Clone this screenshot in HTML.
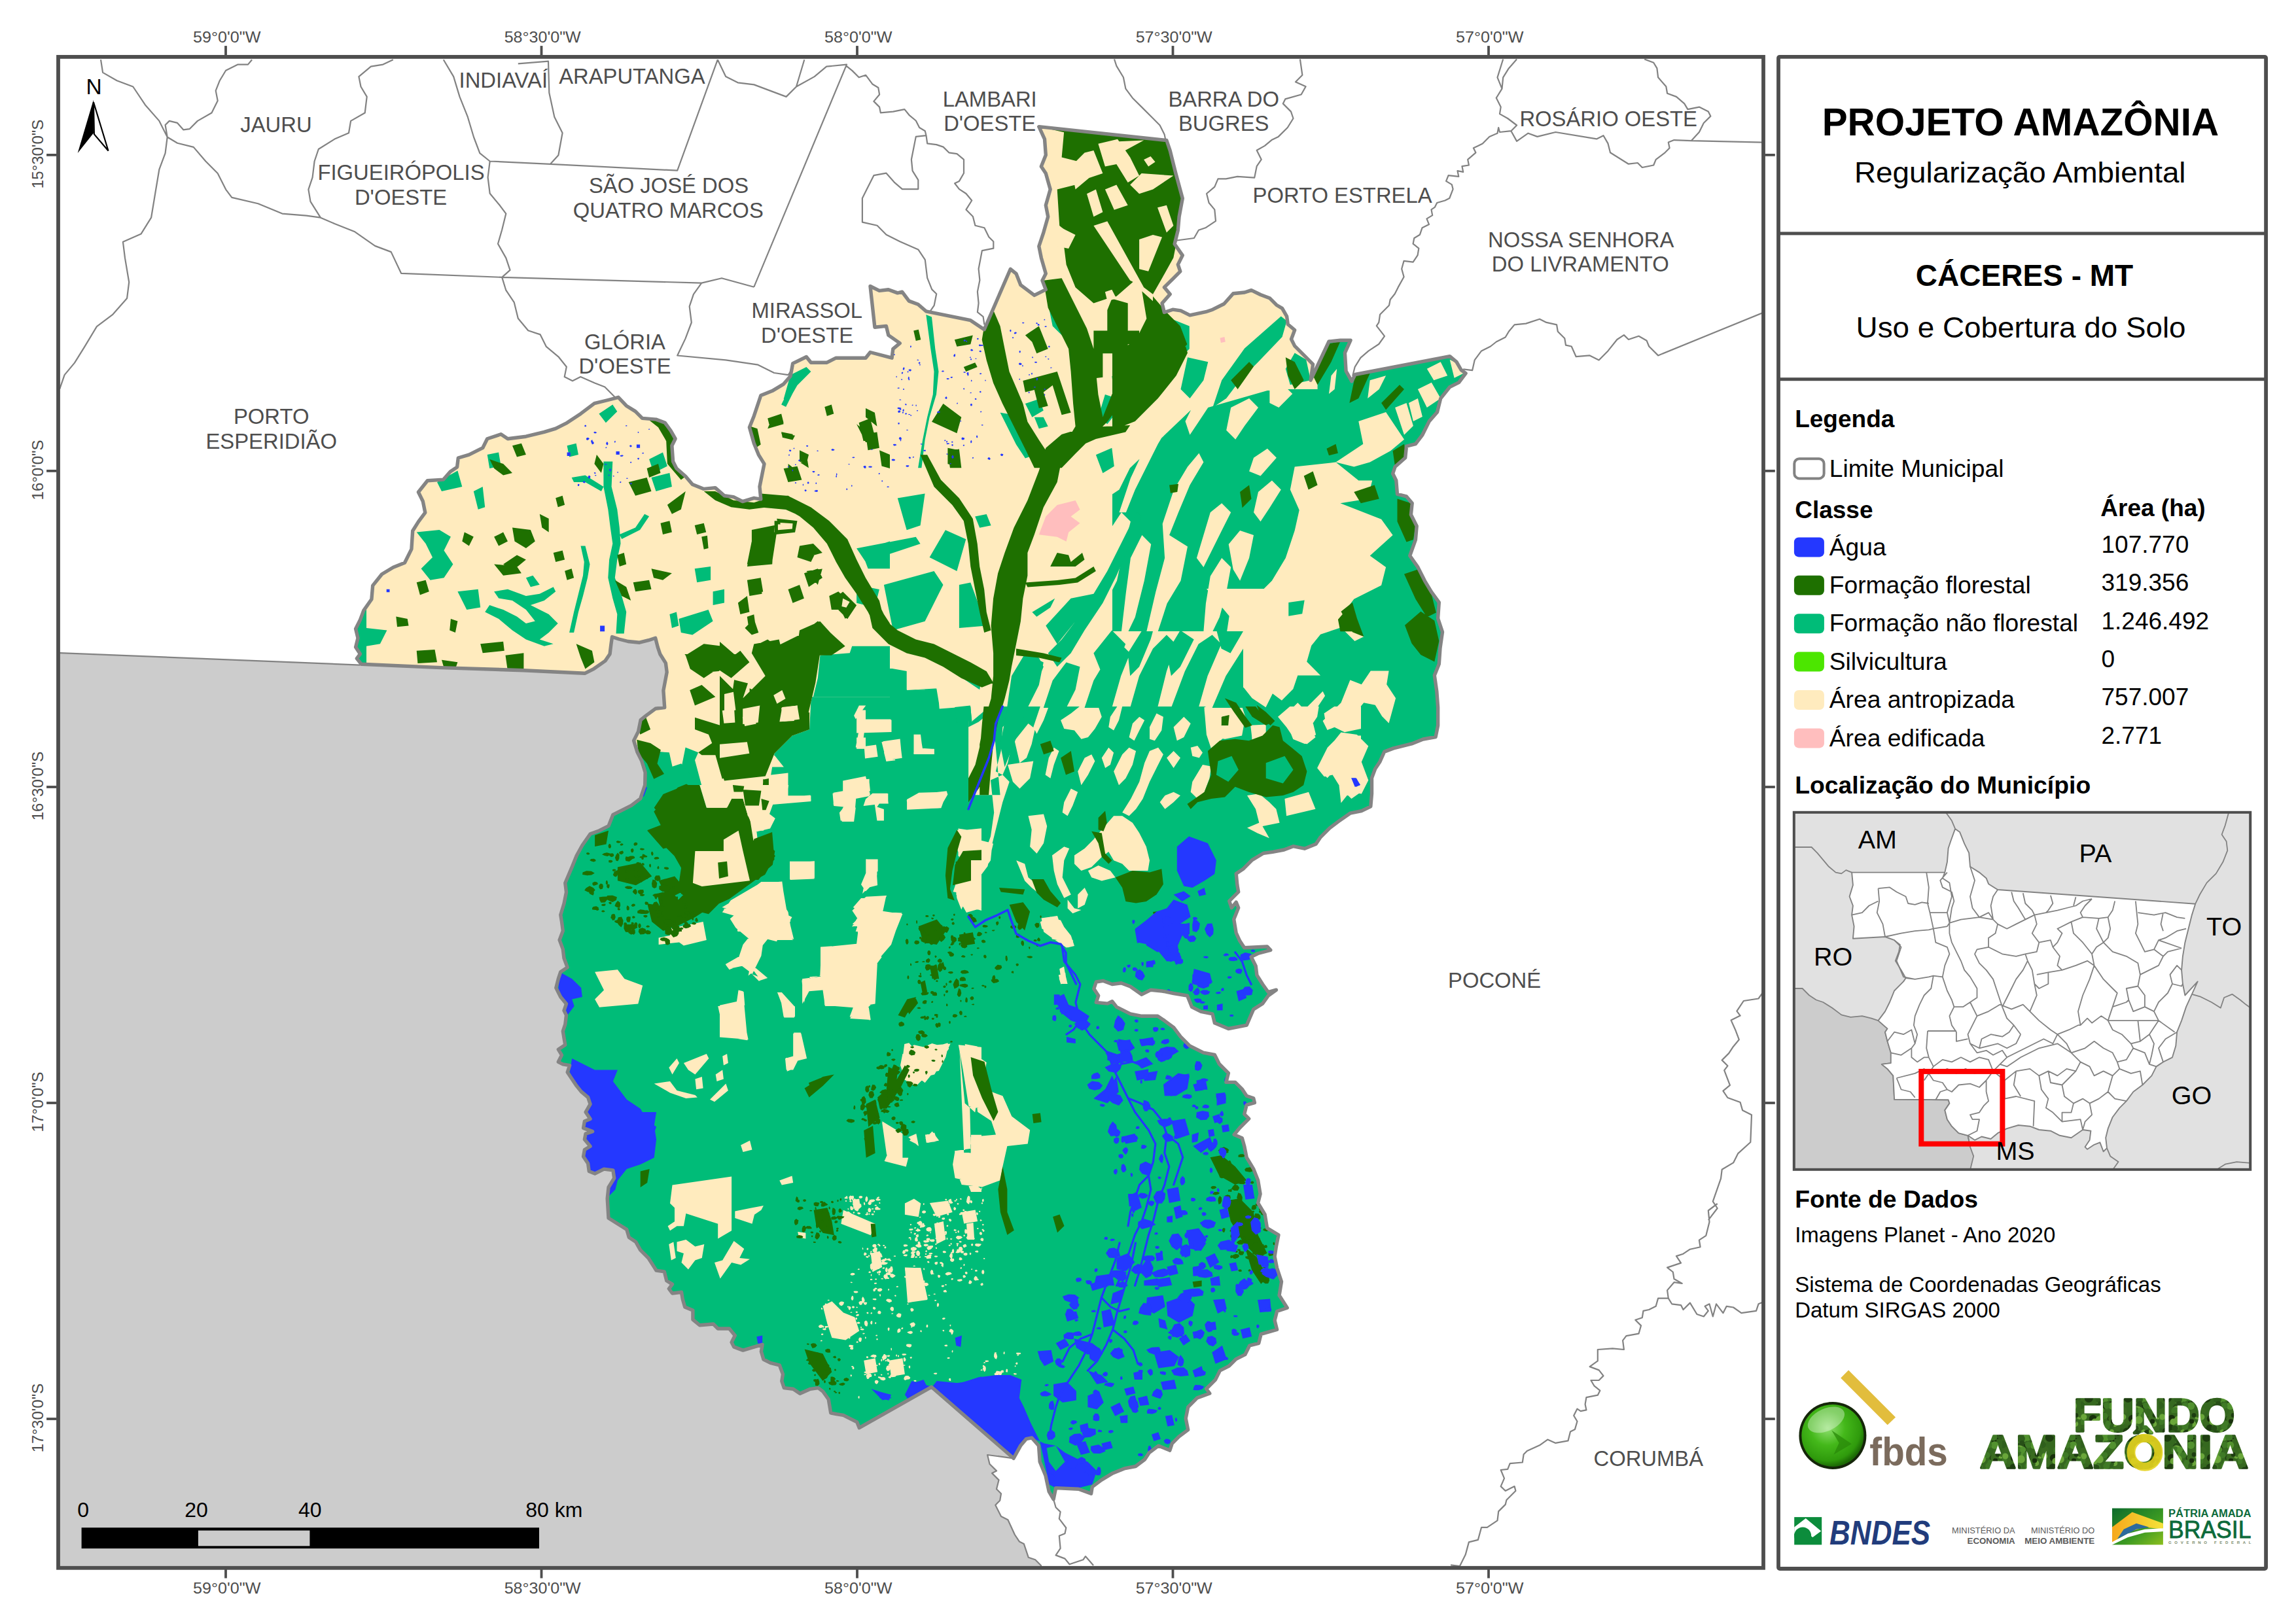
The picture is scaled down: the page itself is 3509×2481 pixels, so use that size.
<!DOCTYPE html>
<html lang="pt-BR"><head><meta charset="utf-8"><title>Projeto Amazônia - Cáceres - MT</title>
<style>html,body{margin:0;padding:0;background:#fff}svg{display:block}text{font-family:"Liberation Sans",Arial,sans-serif}</style></head><body>
<svg width="3509" height="2481" viewBox="0 0 3509 2481">
<rect width="3509" height="2481" fill="#fff"/>
<!-- p10_map -->
<defs><clipPath id="cz"><path d="M893.7 1029.3 L799.7 1024.7 L674.2 1020.6 L552.3 1015.3 L545.3 1006.6 L550.5 999.7 L543.6 989.2 L547 975.3 L543.6 961.3 L550.5 947.4 L555.7 933.4 L567.9 916 L569.7 895.1 L583.6 877.7 L601 867.2 L618.5 860.3 L628.9 839.4 L630.7 811.5 L639.4 797.6 L649.8 783.6 L646.3 766.2 L639.4 752.3 L653.3 734.8 L677.7 733.1 L688.2 720.9 L698.6 713.9 L700.3 700 L716.8 695.1 L737.7 684.7 L744.7 670.7 L765.6 663.8 L776 670.7 L803.9 667.2 L831.8 660.3 L849.2 655.1 L866.6 646.3 L887.5 632.4 L908.4 616.7 L929.3 611.5 L945 607.3 L957.2 620.2 L971.1 628.9 L981.6 639.4 L1002.5 641.1 L1016.4 646.3 L1025.2 658.5 L1032.1 670.7 L1026.9 681.2 L1028.6 705.6 L1033.9 716 L1047.8 728.2 L1058.3 740.4 L1075.7 747.4 L1093.1 745.6 L1107 757.8 L1121 759.6 L1134.9 766.6 L1152.3 761.3 L1162.8 763.1 L1161 743.9 L1168 709.1 L1159.3 695.1 L1152.3 677.7 L1145.4 653.3 L1152.3 635.9 L1162.8 604.5 L1180.2 597.6 L1197.6 587.1 L1208.1 574.9 L1211.6 555.7 L1232.4 545.5 L1239.4 554.2 L1263.8 554.2 L1277.7 547.2 L1323 547.2 L1330 538.5 L1363.1 547.2 L1364.8 533.3 L1375.3 524.6 L1357.8 512.4 L1354.4 498.4 L1336.9 500.2 L1330 437.5 L1343.9 444.4 L1357.8 442.7 L1371.8 447.9 L1378.7 446.2 L1389.2 460.1 L1403.1 465.3 L1415.3 475.8 L1483.3 489.7 L1504.2 503.7 L1544.3 411.3 L1553 418.3 L1559.9 435.7 L1580.8 451.4 L1598.3 442.7 L1593 428.7 L1598.3 418.3 L1591.3 393.9 L1587.8 376.5 L1594.8 355.6 L1601.7 331.2 L1598.3 313.8 L1605.2 289.4 L1598.3 265 L1591.3 254.5 L1598.3 237.1 L1596.5 212.7 L1587.8 193.6 L1782.9 214.5 L1788.2 230.1 L1796.9 265 L1807.3 303.3 L1802.1 331.2 L1800.3 352.1 L1795.1 373 L1807.3 390.4 L1800.3 404.4 L1803.8 414.8 L1793.4 425.3 L1779.4 439.2 L1788.2 449.7 L1776 463.6 L1779.4 477.5 L1792.3 473.2 L1804.5 474.9 L1818.5 481.9 L1842.9 476.7 L1853.3 473.2 L1870.7 464.5 L1884.7 448.8 L1902.1 447 L1912.5 443.6 L1926.5 450.5 L1940.4 455.7 L1950.9 466.2 L1959.6 471.4 L1966.6 483.6 L1968.3 495.8 L1978.7 504.5 L1973.5 518.5 L1978.7 528.9 L1996.2 546.3 L2006.6 556.8 L2003.1 581.2 L2031 522 L2048.4 520.2 L2064.1 520.2 L2055.4 539.4 L2057.1 567.2 L2065.9 582.9 L2071.1 572.5 L2215.7 544.6 L2226.1 553.3 L2233.1 565.5 L2240.1 570.7 L2229.6 584.7 L2215.7 591.6 L2201.7 609.1 L2196.5 630 L2184.3 643.9 L2173.9 664.8 L2163.4 678.7 L2149.5 682.2 L2147.7 699.7 L2132.1 713.6 L2128.6 724 L2133.8 734.5 L2135.5 755.4 L2149.5 758.9 L2158.2 769.3 L2156.4 786.8 L2165.2 804.2 L2163.4 825.1 L2154.7 849.5 L2166.9 866.9 L2177.4 887.8 L2187.8 905.2 L2199.3 920.9 L2197.6 945.3 L2204.5 966.2 L2201 990.6 L2199.3 1015 L2192.3 1032.4 L2195.8 1056.8 L2197.6 1081.2 L2197.6 1109.1 L2194.1 1126.5 L2174.9 1130 L2157.5 1136.9 L2129.6 1143.9 L2115.7 1149.1 L2108.7 1164.8 L2101.7 1175.3 L2096.5 1189.2 L2096.5 1213.6 L2094.8 1232.8 L2080.8 1239.7 L2063.4 1243.2 L2046 1255.4 L2032.1 1265.9 L2018.1 1279.8 L2011.1 1290.2 L1993.7 1297.2 L1976.3 1293.7 L1962.4 1299 L1944.9 1302.4 L1931 1304.2 L1913.6 1314.6 L1899.7 1328.6 L1889.2 1335.5 L1890.9 1353 L1892.7 1363.4 L1878.7 1377.4 L1882.2 1387.8 L1889.2 1379.1 L1892.7 1387.8 L1885.7 1405.2 L1889.2 1426.1 L1894.8 1438.3 L1901.7 1448.8 L1936.6 1447 L1941.8 1452.3 L1922.6 1457.5 L1912.2 1462.7 L1919.2 1476.7 L1920.9 1490.6 L1929.6 1504.5 L1938.3 1516.7 L1950.5 1513.2 L1938.3 1522 L1929.6 1534.1 L1915.7 1542.9 L1905.2 1567.2 L1877.4 1572.5 L1856.4 1563.8 L1853 1549.8 L1835.5 1546.3 L1821.6 1539.4 L1814.6 1522 L1793.7 1518.5 L1776.3 1515 L1758.9 1513.2 L1744.9 1520.2 L1727.5 1508 L1713.6 1502.8 L1699.7 1504.5 L1685.7 1499.3 L1675.3 1501 L1671.8 1511.5 L1678.7 1522 L1675.3 1532.4 L1692.7 1534.1 L1699.7 1530.7 L1706.6 1539.4 L1727.5 1549.8 L1744.9 1553.3 L1769.3 1553.3 L1779.8 1560.3 L1793.7 1570.7 L1804.2 1584.7 L1818.1 1598.6 L1839 1609.1 L1856.4 1612.5 L1863.4 1626.5 L1877.4 1640.4 L1873.9 1654.4 L1887.8 1654.4 L1898.3 1664.8 L1905.2 1675.3 L1915.7 1678.7 L1917.4 1685.7 L1905.2 1689.2 L1901.7 1703.1 L1908.7 1710.1 L1894.8 1724 L1886.1 1734.5 L1898.3 1739.7 L1901.7 1751.9 L1905.2 1769.3 L1915.7 1786.8 L1922.6 1804.2 L1926.1 1825.1 L1922.6 1839 L1933.1 1856.4 L1936.6 1877.4 L1954 1887.8 L1950.5 1905.2 L1948.1 1920.9 L1951.6 1938.3 L1958.5 1959.2 L1955.1 1980.1 L1967.2 1999.3 L1951.6 2004.5 L1948.1 2018.5 L1951.6 2032.4 L1927.2 2039.4 L1923.7 2053.3 L1909.8 2056.8 L1902.8 2070.7 L1888.9 2077.7 L1878.4 2088.2 L1864.5 2095.1 L1857.5 2109.1 L1843.6 2123 L1848.8 2130 L1829.6 2136.9 L1815.7 2150.9 L1812.2 2168.3 L1815.7 2185.7 L1801.7 2196.2 L1791.3 2206.6 L1787.8 2217.1 L1770.4 2210.1 L1756.4 2220.6 L1749.5 2231 L1735.5 2241.5 L1718.1 2244.9 L1700.7 2251.9 L1683.3 2262.4 L1669.3 2272.8 L1667.6 2283.3 L1648.4 2276.3 L1613.6 2274.6 L1610.1 2292 L1603.1 2279.8 L1597.9 2255.4 L1589.2 2234.5 L1587.5 2210.1 L1577 2197.9 L1568.3 2199.7 L1559.6 2210.1 L1549.1 2229.3 L1423.7 2120.2 L1313.2 2182.6 L1309.8 2173.9 L1299.3 2168.6 L1288.9 2163.4 L1278.4 2161.7 L1269.7 2159.9 L1266.2 2139 L1257.5 2126.8 L1250.5 2121.6 L1238.3 2123.3 L1222.6 2130.3 L1212.2 2123.3 L1198.3 2121.6 L1194.8 2111.1 L1196.5 2100.7 L1191.3 2086.8 L1177.4 2083.3 L1166.9 2078 L1163.4 2065.9 L1165.2 2055.4 L1153 2058.9 L1135.5 2064.1 L1121.6 2058.9 L1118.1 2051.9 L1123.3 2041.5 L1114.6 2031 L1097.2 2031 L1090.2 2024 L1069.3 2025.8 L1058.9 2017.1 L1058.9 2003.1 L1046.7 1997.9 L1043.2 1985.7 L1041.5 1975.3 L1027.5 1977 L1022.3 1970 L1027.5 1963.1 L1018.8 1957.8 L1015.3 1943.9 L1003.1 1942.2 L999.7 1936.9 L990.9 1923 L978.7 1910.8 L971.8 1898.6 L961.3 1891.6 L957.8 1879.4 L943.9 1870.7 L930 1862 L928.2 1832.4 L930 1815 L938.7 1801 L936.9 1788.9 L923 1787.1 L909.1 1794.1 L900.3 1790.6 L898.6 1778.4 L891.6 1767.9 L893.4 1757.5 L902.1 1752.3 L893.4 1741.8 L895.1 1733.1 L905.6 1729.6 L891.6 1724.4 L893.4 1713.9 L902.1 1710.5 L895.1 1700 L902.1 1687.8 L898.6 1677.4 L888.2 1668.6 L881.2 1659.9 L874.2 1649.5 L867.2 1639 L870.7 1628.6 L860.3 1626.8 L853.3 1623.3 L858.5 1612.9 L853.3 1604.2 L863.8 1597.2 L862 1586.8 L860.3 1576.3 L863.8 1565.9 L865.5 1551.9 L862 1544.9 L865.5 1534.5 L856.8 1524 L849.8 1510.1 L853.3 1496.2 L856.8 1485.7 L867.2 1478.7 L862 1464.8 L860.3 1450.9 L855.1 1436.9 L860.3 1423 L858.5 1409.1 L856.8 1398.6 L862 1381.2 L865.5 1363.8 L863.8 1349.8 L874.2 1325.4 L881.2 1308 L889.9 1292.3 L902.1 1274.9 L916 1269.7 L930 1262.7 L936.9 1245.3 L950.9 1238.3 L964.8 1231.4 L978.7 1220.9 L985.7 1200 L986.1 1180.8 L980.8 1163.4 L973.9 1149.5 L968.6 1132.1 L975.6 1118.1 L979.1 1100.7 L987.8 1093.7 L1001.7 1083.3 L1015.7 1081.5 L1013.9 1055.4 L1019.2 1027.5 L1017.4 1013.6 L1008.7 999.7 L1005.2 989.2 L1001.7 975.3 L991.3 978.7 L977.4 982.2 L959.9 980.5 L946 977 L935.5 973.5 L933.8 985.7 L932.1 999.7 L925.1 1010.1 L907.7 1022.3Z"/></clipPath><clipPath id="cm"><rect x="89" y="87" width="2606" height="2309"/></clipPath></defs>
<g clip-path="url(#cm)">
<path d="M80 997.5 L92.2 998.1 L550.4 1016.6 L893.7 1029.3 L918.1 943.9 L1022.6 943.9 L1057.5 1048.4 L1057.5 1222.6 L1013.6 1339.4 L1013.6 1653 L1048.4 1804.5 L1292.3 2083.3 L1424.7 2100.7 L1474.2 2143.9 L1549.1 2229.3 L1509.1 2224 L1512.5 2238 L1523 2248.4 L1516 2251.9 L1526.5 2262.4 L1523 2276.3 L1530 2283.3 L1528.2 2293.7 L1521.3 2300.7 L1530 2318.1 L1540.4 2323.3 L1550.9 2346 L1557.8 2356.4 L1564.8 2359.9 L1571.8 2380.8 L1582.2 2384.3 L1590.9 2393 L1592.7 2401.7 L80 2420Z" fill="#cccccc"/>
<path d="M1549.1 2229.3 L1509.1 2224 L1512.5 2238 L1523 2248.4 L1516 2251.9 L1526.5 2262.4 L1523 2276.3 L1530 2283.3 L1528.2 2293.7 L1521.3 2300.7 L1530 2318.1 L1540.4 2323.3 L1550.9 2346 L1557.8 2356.4 L1564.8 2359.9 L1571.8 2380.8 L1582.2 2384.3 L1590.9 2393 L1592.7 2401.7" fill="none" stroke="#828282" stroke-width="2.2" stroke-linejoin="round"/>
<path d="M80 997.5 L92.2 998.1 L550.4 1016.6" fill="none" stroke="#828282" stroke-width="2.2" stroke-linejoin="round"/>
<path d="M154 91.2 L157.1 110.9 L178.7 123.2 L203.3 132.5 L221.8 160.2 L243.4 184.9 L255.7 209.5 L252.6 234.2 L243.4 258.8 L237.2 295.8 L231.1 332.7 L215.7 357.4 L187.9 369.7 L191 394.4 L197.2 431.3 L194.1 456 L172.5 480.6 L147.9 499.1 L129.4 529.9 L114 554.6 L98.6 573.1 L91.2 594.6 M385.1 91.2 L379 98.6 L363.6 98.6 L345.1 107.8 L335.8 123.2 L329.7 138.6 L332.7 154 L323.5 172.5 L301.9 184.9 L289.6 197.2 L280.4 198.4 L271.1 187.9 L258.8 184.9 L252.6 191 L255.7 209.5 M255.7 209.5 L271.1 218.8 L295.8 224.9 L314.3 246.5 L332.7 265 L345.1 289.6 L354.3 301.9 L394.4 311.2 L431.3 326.6 L468.3 329.7 L489.9 332.7 M489.9 332.7 L474.5 308.1 L471.4 289.6 L477.6 271.1 L480.6 246.5 L486.8 228 L511.4 212.6 L533 203.3 L536.1 184.9 L557.7 172.5 L560.7 147.9 L551.5 132.5 L548.4 117.1 L566.9 101.7 L585.4 98.6 L600.8 91.2 M489.9 332.7 L511.4 342 L542.3 354.3 L573.1 375.9 L597.7 385.1 L613.1 417.8 L767.2 423.9 L1072.2 432.6 M677.8 91.2 L693.2 117.1 L702.5 147.9 L714.8 178.7 L724 209.5 L733.3 234.2 L748.7 246.5 L745.6 271.1 L748.7 295.8 L764.1 314.3 L773.3 326.6 L767.2 351.2 L761 372.8 L773.3 394.4 L779.5 412.9 L767.2 423.9 M748.7 246.5 L841.1 250.8 L1035.2 260.7 L1096.8 91.2 M791.8 97.4 L838 93.7 L839.3 141.7 L847.3 178.7 L859.6 203.3 L853.4 237.2 L841.1 250.8 M1096.8 91.2 L1109.2 117.1 L1127.6 126.3 L1152.3 129.4 L1176.9 138.6 L1201.6 147.9 L1217 132.5 L1229.3 91.2 M1217 132.5 L1244.7 117.1 L1263.2 101.7 L1294 98.6 L1152.3 438.7 M767.2 423.9 L773.3 443.7 L785.7 462.1 L791.8 486.8 L807.2 505.3 L825.7 511.4 L834.9 529.9 L853.4 545.3 L865.8 560.7 L862.7 576.1 L875 582.3 L887.3 576.1 L908.9 585.4 L924.3 591.5 L939.7 607 M1072.2 432.6 L1059.9 449.8 L1053.7 468.3 L1056.8 493 L1047.5 517.6 L1035.2 543.5 L1109.2 550.3 L1158.5 557.7 L1183.1 570 L1204.7 573.1 L1217 554.6 M1072.2 432.6 L1103 425.2 L1152.3 438.7 M1293.6 100.9 L1302.3 107.9 L1312.7 118.3 L1323.2 114.8 L1333.6 128.8 L1342.3 134 L1344.1 144.5 L1335.4 154.9 L1344.1 163.6 L1345.8 172.3 L1365 170.6 L1382.4 167.1 L1389.4 175.8 L1399.8 184.5 L1405.1 195 L1413.8 200.2 L1415.5 207.2 M1415.5 207.2 L1399.8 208.9 L1392.9 243.8 L1394.6 261.2 L1403.3 275.1 L1403.3 289.1 L1378.9 289.1 L1366.7 278.6 L1354.5 264.7 L1335.4 268.2 L1324.9 289.1 L1317.9 303 L1317.9 339.6 L1340.6 344.8 L1354.5 358.7 L1375.4 369.2 L1403.3 381.4 L1413.8 397.1 L1417.2 424.9 L1424.2 442.4 L1431.2 449.3 L1427.7 466.8 L1420.7 477.2 M1415.5 207.2 L1417.2 219.4 L1431.2 221.1 L1441.6 224.6 L1450.3 233.3 L1462.5 235.1 L1473 243.8 L1473 264.7 L1466 276.9 L1459.1 280.3 L1466 289.1 L1476.5 296 L1485.2 306.5 L1476.5 320.4 L1486.9 330.9 L1490.4 344.8 L1504.4 348.3 L1511.3 362.2 L1518.3 369.2 L1518.3 379.7 L1500.9 383.1 L1495.6 411 L1497.4 428.4 L1493.9 445.9 L1495.6 463.3 L1493.9 477.2 L1502.6 484.2 L1504.4 496.4 M1703 90.5 L1706.4 100.9 L1716.9 118.3 L1720.4 135.7 L1730.8 149.7 L1744.8 163.6 L1762.2 181 L1772.6 191.5 L1779.6 205.4 L1781.4 214.1 M1986.9 90.5 L1990.4 114.8 L1980 125.3 L1995.6 132.3 L1988.7 144.5 L1964.3 151.4 L1960.8 158.4 L1973 170.6 L1976.5 181 L1967.8 195 L1953.8 208.9 L1943.4 214.1 L1932.9 222.9 L1920.7 229.8 L1927.7 243.8 L1920.7 254.2 L1917.2 271.6 L1891.1 269.9 L1873.7 273.4 L1861.5 273.4 L1856.3 285.6 L1844.1 296 L1847.6 310 L1856.3 320.4 L1858 337.8 L1842.3 348.3 L1831.9 351.8 L1824.9 364 L1798.8 367.5 M2318.1 90.5 L2305.9 104.4 L2297.2 118.3 L2295.5 135.7 L2286.8 149.7 L2293.7 163.6 L2292 174.1 L2304.2 181 L2318.1 191.5 L2309.4 200.2 L2292 202 L2290.2 195 L2288.5 203.7 L2276.3 208.9 L2265.9 219.4 L2258.9 222.9 L2251.9 226.3 L2255.4 233.3 L2243.2 243.8 L2244.9 252.5 L2234.5 254.2 L2236.2 262.9 L2227.5 261.2 L2229.3 269.9 L2213.6 268.2 L2210.1 276.9 L2218.8 282.1 L2220.6 289.1 L2215.3 303 L2208.4 306.5 L2196.2 310 L2192.7 316.9 L2187.5 320.4 L2189.2 329.1 L2180.5 334.4 L2184 343.1 L2173.5 348.3 L2170 358.7 L2161.3 364 L2159.6 372.7 L2168.3 379.7 L2166.6 390.1 L2159.6 400.6 L2145.6 398.8 L2142.2 411 L2145.6 423.2 L2136.9 438.9 L2131.7 449.3 L2124.7 458 L2123 466.8 L2109.1 480.7 L2107.3 492.9 L2103.8 498.1 L2116 513.8 L2107.3 526 L2091.6 536.4 L2079.4 546.9 L2070.7 560.8 L2067.2 574.8 M2297.2 90.5 L2288.5 118.3 L2295.5 135.7 M2309.4 200.2 L2318.1 215.9 L2335.5 203.7 L2349.5 208.9 L2377.4 202 L2440.1 212.4 L2450.5 207.2 L2457.5 219.4 L2461 233.3 L2488.9 250.7 L2502.8 249 L2509.8 256 L2527.2 252.5 L2530.7 243.8 L2544.6 233.3 L2551.6 226.3 L2549.8 217.6 L2558.5 214.1 L2584.7 215.2 L2694.4 217.6 M2513.2 90.5 L2527.2 95.7 L2532.4 104.4 L2534.1 118.3 L2546.3 132.3 L2548.1 142.7 L2562 147.9 L2574.2 158.4 L2579.4 167.1 L2596.9 163.6 L2610.8 170.6 L2614.3 177.6 L2603.8 188 L2596.9 202 L2584.7 215.2 M2236.2 564.3 L2250.2 566.1 L2253.7 550.4 L2264.1 536.4 L2278 529.5 L2286.8 522.5 L2300.7 515.5 L2305.9 506.8 L2314.6 496.4 L2332.1 494.6 L2353 487.7 L2363.4 492.9 L2379.1 496.4 L2380.8 506.8 L2391.3 517.3 L2393 527.7 L2401.7 529.5 L2408.7 545.2 L2429.6 543.4 L2443.6 550.4 L2457.5 536.4 L2471.4 519 L2481.9 512.1 L2488.9 519 L2504.5 513.8 L2516.7 520.8 L2520.2 529.5 L2534.1 543.4 L2696.2 477.2 M2696.2 1514.3 L2687.5 1526.5 L2664.8 1530 L2654.4 1545.6 L2659.6 1552.6 L2645.6 1559.6 L2652.6 1575.3 L2657.8 1589.2 L2649.1 1599.7 L2642.2 1610.1 L2631.7 1620.6 L2640.4 1629.3 L2635.2 1636.2 L2643.9 1658.9 L2633.4 1667.6 L2640.4 1678 L2659.6 1685 L2663.1 1697.2 L2677 1704.2 L2675.3 1746 L2656.1 1763.4 L2649.1 1777.4 L2631.7 1787.8 L2630 1801.7 L2617.8 1836.6 L2624.7 1847 L2610.8 1865.2 M2624.7 1840 L2610.8 1850.5 L2612.5 1867.9 L2607.3 1888.8 L2596.9 1895.7 L2598.6 1906.2 L2582.9 1909.7 L2572.5 1916.7 L2562 1920.1 L2569 1930.6 L2548.1 1937.6 L2556.8 1944.5 L2558.5 1955 L2570.7 1962 L2558.5 1960.2 L2548.1 1972.4 L2549.8 1984.6 L2534.1 1984.6 L2530.7 1996.8 L2520.2 2002 L2511.5 2003.8 L2509.8 2014.2 L2499.3 2017.7 L2508 2026.4 L2504.5 2038.6 L2485.4 2042.1 L2480.1 2049.1 L2481.9 2063 L2464.5 2061.3 L2441.8 2063 L2441.8 2080.4 L2429.6 2089.1 L2443.6 2094.4 L2450.5 2103.1 L2443.6 2110 L2431.4 2110 L2436.6 2118.7 L2445.3 2125.7 L2441.8 2132.7 L2424.4 2136.2 L2422.6 2146.6 L2424.4 2155.3 L2415.7 2157.1 L2410.5 2153.6 L2405.2 2164 L2410.5 2172.8 L2407 2184.9 L2400 2188.4 L2396.5 2202.4 L2377.4 2205.9 L2365.2 2200.6 L2353 2209.3 L2333.8 2218 L2328.6 2223.3 L2326.8 2235.5 L2307.7 2237.2 L2304.2 2245.9 L2293.7 2247 L2299 2259.9 L2293.7 2272.1 L2300.7 2279 L2314.6 2272.1 L2316.4 2279 L2302.4 2293 L2300.7 2299.9 L2290.2 2310.4 L2288.5 2324.3 L2272.8 2334.8 L2264.1 2334.8 L2258.9 2353.9 L2244.9 2357.4 L2239.7 2376.6 L2231 2394 L2217.1 2392.3 M2549.8 1984.6 L2555.1 1993.3 L2569 1995.1 L2572.5 2002 L2582.9 1991.6 L2593.4 2009 L2603.8 2012.5 L2610.8 2003.8 L2605.6 1996.8 L2612.5 1993.3 L2617.8 2012.5 L2623 1993.3 L2633.4 2007.2 L2638.7 1996.8 L2649.1 1998.5 L2661.3 2007.2 L2684 2003.8 L2687.5 1993.3 L2696.2 1989.8 M1610.1 2292 L1613.6 2304.2 L1620.6 2311.1 L1618.8 2321.6 L1629.3 2335.5 L1627.5 2344.3 L1618.8 2347.7 L1620.6 2366.9 L1613.6 2377.4 L1627.5 2382.6 L1634.5 2391.3 L1655.4 2384.3 L1658.9 2379.1 L1671.1 2393" fill="none" stroke="#828282" stroke-width="2.2" stroke-linejoin="round"/>
<path d="M893.7 1029.3 L799.7 1024.7 L674.2 1020.6 L552.3 1015.3 L545.3 1006.6 L550.5 999.7 L543.6 989.2 L547 975.3 L543.6 961.3 L550.5 947.4 L555.7 933.4 L567.9 916 L569.7 895.1 L583.6 877.7 L601 867.2 L618.5 860.3 L628.9 839.4 L630.7 811.5 L639.4 797.6 L649.8 783.6 L646.3 766.2 L639.4 752.3 L653.3 734.8 L677.7 733.1 L688.2 720.9 L698.6 713.9 L700.3 700 L716.8 695.1 L737.7 684.7 L744.7 670.7 L765.6 663.8 L776 670.7 L803.9 667.2 L831.8 660.3 L849.2 655.1 L866.6 646.3 L887.5 632.4 L908.4 616.7 L929.3 611.5 L945 607.3 L957.2 620.2 L971.1 628.9 L981.6 639.4 L1002.5 641.1 L1016.4 646.3 L1025.2 658.5 L1032.1 670.7 L1026.9 681.2 L1028.6 705.6 L1033.9 716 L1047.8 728.2 L1058.3 740.4 L1075.7 747.4 L1093.1 745.6 L1107 757.8 L1121 759.6 L1134.9 766.6 L1152.3 761.3 L1162.8 763.1 L1161 743.9 L1168 709.1 L1159.3 695.1 L1152.3 677.7 L1145.4 653.3 L1152.3 635.9 L1162.8 604.5 L1180.2 597.6 L1197.6 587.1 L1208.1 574.9 L1211.6 555.7 L1232.4 545.5 L1239.4 554.2 L1263.8 554.2 L1277.7 547.2 L1323 547.2 L1330 538.5 L1363.1 547.2 L1364.8 533.3 L1375.3 524.6 L1357.8 512.4 L1354.4 498.4 L1336.9 500.2 L1330 437.5 L1343.9 444.4 L1357.8 442.7 L1371.8 447.9 L1378.7 446.2 L1389.2 460.1 L1403.1 465.3 L1415.3 475.8 L1483.3 489.7 L1504.2 503.7 L1544.3 411.3 L1553 418.3 L1559.9 435.7 L1580.8 451.4 L1598.3 442.7 L1593 428.7 L1598.3 418.3 L1591.3 393.9 L1587.8 376.5 L1594.8 355.6 L1601.7 331.2 L1598.3 313.8 L1605.2 289.4 L1598.3 265 L1591.3 254.5 L1598.3 237.1 L1596.5 212.7 L1587.8 193.6 L1782.9 214.5 L1788.2 230.1 L1796.9 265 L1807.3 303.3 L1802.1 331.2 L1800.3 352.1 L1795.1 373 L1807.3 390.4 L1800.3 404.4 L1803.8 414.8 L1793.4 425.3 L1779.4 439.2 L1788.2 449.7 L1776 463.6 L1779.4 477.5 L1792.3 473.2 L1804.5 474.9 L1818.5 481.9 L1842.9 476.7 L1853.3 473.2 L1870.7 464.5 L1884.7 448.8 L1902.1 447 L1912.5 443.6 L1926.5 450.5 L1940.4 455.7 L1950.9 466.2 L1959.6 471.4 L1966.6 483.6 L1968.3 495.8 L1978.7 504.5 L1973.5 518.5 L1978.7 528.9 L1996.2 546.3 L2006.6 556.8 L2003.1 581.2 L2031 522 L2048.4 520.2 L2064.1 520.2 L2055.4 539.4 L2057.1 567.2 L2065.9 582.9 L2071.1 572.5 L2215.7 544.6 L2226.1 553.3 L2233.1 565.5 L2240.1 570.7 L2229.6 584.7 L2215.7 591.6 L2201.7 609.1 L2196.5 630 L2184.3 643.9 L2173.9 664.8 L2163.4 678.7 L2149.5 682.2 L2147.7 699.7 L2132.1 713.6 L2128.6 724 L2133.8 734.5 L2135.5 755.4 L2149.5 758.9 L2158.2 769.3 L2156.4 786.8 L2165.2 804.2 L2163.4 825.1 L2154.7 849.5 L2166.9 866.9 L2177.4 887.8 L2187.8 905.2 L2199.3 920.9 L2197.6 945.3 L2204.5 966.2 L2201 990.6 L2199.3 1015 L2192.3 1032.4 L2195.8 1056.8 L2197.6 1081.2 L2197.6 1109.1 L2194.1 1126.5 L2174.9 1130 L2157.5 1136.9 L2129.6 1143.9 L2115.7 1149.1 L2108.7 1164.8 L2101.7 1175.3 L2096.5 1189.2 L2096.5 1213.6 L2094.8 1232.8 L2080.8 1239.7 L2063.4 1243.2 L2046 1255.4 L2032.1 1265.9 L2018.1 1279.8 L2011.1 1290.2 L1993.7 1297.2 L1976.3 1293.7 L1962.4 1299 L1944.9 1302.4 L1931 1304.2 L1913.6 1314.6 L1899.7 1328.6 L1889.2 1335.5 L1890.9 1353 L1892.7 1363.4 L1878.7 1377.4 L1882.2 1387.8 L1889.2 1379.1 L1892.7 1387.8 L1885.7 1405.2 L1889.2 1426.1 L1894.8 1438.3 L1901.7 1448.8 L1936.6 1447 L1941.8 1452.3 L1922.6 1457.5 L1912.2 1462.7 L1919.2 1476.7 L1920.9 1490.6 L1929.6 1504.5 L1938.3 1516.7 L1950.5 1513.2 L1938.3 1522 L1929.6 1534.1 L1915.7 1542.9 L1905.2 1567.2 L1877.4 1572.5 L1856.4 1563.8 L1853 1549.8 L1835.5 1546.3 L1821.6 1539.4 L1814.6 1522 L1793.7 1518.5 L1776.3 1515 L1758.9 1513.2 L1744.9 1520.2 L1727.5 1508 L1713.6 1502.8 L1699.7 1504.5 L1685.7 1499.3 L1675.3 1501 L1671.8 1511.5 L1678.7 1522 L1675.3 1532.4 L1692.7 1534.1 L1699.7 1530.7 L1706.6 1539.4 L1727.5 1549.8 L1744.9 1553.3 L1769.3 1553.3 L1779.8 1560.3 L1793.7 1570.7 L1804.2 1584.7 L1818.1 1598.6 L1839 1609.1 L1856.4 1612.5 L1863.4 1626.5 L1877.4 1640.4 L1873.9 1654.4 L1887.8 1654.4 L1898.3 1664.8 L1905.2 1675.3 L1915.7 1678.7 L1917.4 1685.7 L1905.2 1689.2 L1901.7 1703.1 L1908.7 1710.1 L1894.8 1724 L1886.1 1734.5 L1898.3 1739.7 L1901.7 1751.9 L1905.2 1769.3 L1915.7 1786.8 L1922.6 1804.2 L1926.1 1825.1 L1922.6 1839 L1933.1 1856.4 L1936.6 1877.4 L1954 1887.8 L1950.5 1905.2 L1948.1 1920.9 L1951.6 1938.3 L1958.5 1959.2 L1955.1 1980.1 L1967.2 1999.3 L1951.6 2004.5 L1948.1 2018.5 L1951.6 2032.4 L1927.2 2039.4 L1923.7 2053.3 L1909.8 2056.8 L1902.8 2070.7 L1888.9 2077.7 L1878.4 2088.2 L1864.5 2095.1 L1857.5 2109.1 L1843.6 2123 L1848.8 2130 L1829.6 2136.9 L1815.7 2150.9 L1812.2 2168.3 L1815.7 2185.7 L1801.7 2196.2 L1791.3 2206.6 L1787.8 2217.1 L1770.4 2210.1 L1756.4 2220.6 L1749.5 2231 L1735.5 2241.5 L1718.1 2244.9 L1700.7 2251.9 L1683.3 2262.4 L1669.3 2272.8 L1667.6 2283.3 L1648.4 2276.3 L1613.6 2274.6 L1610.1 2292 L1603.1 2279.8 L1597.9 2255.4 L1589.2 2234.5 L1587.5 2210.1 L1577 2197.9 L1568.3 2199.7 L1559.6 2210.1 L1549.1 2229.3 L1423.7 2120.2 L1313.2 2182.6 L1309.8 2173.9 L1299.3 2168.6 L1288.9 2163.4 L1278.4 2161.7 L1269.7 2159.9 L1266.2 2139 L1257.5 2126.8 L1250.5 2121.6 L1238.3 2123.3 L1222.6 2130.3 L1212.2 2123.3 L1198.3 2121.6 L1194.8 2111.1 L1196.5 2100.7 L1191.3 2086.8 L1177.4 2083.3 L1166.9 2078 L1163.4 2065.9 L1165.2 2055.4 L1153 2058.9 L1135.5 2064.1 L1121.6 2058.9 L1118.1 2051.9 L1123.3 2041.5 L1114.6 2031 L1097.2 2031 L1090.2 2024 L1069.3 2025.8 L1058.9 2017.1 L1058.9 2003.1 L1046.7 1997.9 L1043.2 1985.7 L1041.5 1975.3 L1027.5 1977 L1022.3 1970 L1027.5 1963.1 L1018.8 1957.8 L1015.3 1943.9 L1003.1 1942.2 L999.7 1936.9 L990.9 1923 L978.7 1910.8 L971.8 1898.6 L961.3 1891.6 L957.8 1879.4 L943.9 1870.7 L930 1862 L928.2 1832.4 L930 1815 L938.7 1801 L936.9 1788.9 L923 1787.1 L909.1 1794.1 L900.3 1790.6 L898.6 1778.4 L891.6 1767.9 L893.4 1757.5 L902.1 1752.3 L893.4 1741.8 L895.1 1733.1 L905.6 1729.6 L891.6 1724.4 L893.4 1713.9 L902.1 1710.5 L895.1 1700 L902.1 1687.8 L898.6 1677.4 L888.2 1668.6 L881.2 1659.9 L874.2 1649.5 L867.2 1639 L870.7 1628.6 L860.3 1626.8 L853.3 1623.3 L858.5 1612.9 L853.3 1604.2 L863.8 1597.2 L862 1586.8 L860.3 1576.3 L863.8 1565.9 L865.5 1551.9 L862 1544.9 L865.5 1534.5 L856.8 1524 L849.8 1510.1 L853.3 1496.2 L856.8 1485.7 L867.2 1478.7 L862 1464.8 L860.3 1450.9 L855.1 1436.9 L860.3 1423 L858.5 1409.1 L856.8 1398.6 L862 1381.2 L865.5 1363.8 L863.8 1349.8 L874.2 1325.4 L881.2 1308 L889.9 1292.3 L902.1 1274.9 L916 1269.7 L930 1262.7 L936.9 1245.3 L950.9 1238.3 L964.8 1231.4 L978.7 1220.9 L985.7 1200 L986.1 1180.8 L980.8 1163.4 L973.9 1149.5 L968.6 1132.1 L975.6 1118.1 L979.1 1100.7 L987.8 1093.7 L1001.7 1083.3 L1015.7 1081.5 L1013.9 1055.4 L1019.2 1027.5 L1017.4 1013.6 L1008.7 999.7 L1005.2 989.2 L1001.7 975.3 L991.3 978.7 L977.4 982.2 L959.9 980.5 L946 977 L935.5 973.5 L933.8 985.7 L932.1 999.7 L925.1 1010.1 L907.7 1022.3Z" fill="#00bc78"/>
<g clip-path="url(#cz)">
<path d="M1100 150 L1900 150 L1900 550.7 L1727.2 715.2 L1100 715.2Z M1738.3 434.8 L2013.6 434.8 L2013.6 595.1 L1943.9 595.1 L1895.1 609.1 L1846.3 623 L1815 623 L1700 657.8 L1700 539.4Z M2076.3 643.9 L2118.1 630 L2146 671.8 L2125.1 689.2 L2093.7 706.6 L2069.3 713.6 L2041.5 706.6 L2083.3 678.7Z M1978.7 713.6 L2041.5 706.6 L2076.3 734.5 L2097.2 734.5 L2090.2 762.4 L2048.4 769.3 L1985.7 779.8 L1971.8 748.4Z M1985.7 779.8 L2048.4 769.3 L2111.1 793.7 L2128.6 818.1 L2093.7 849.5 L2118.1 866.9 L2111.1 894.8 L2069.3 915.7 L2048.4 943.6 L2013.6 965.2 L1895.1 965.2 L1909.1 922.6 L1943.9 887.8 L1964.8 853 L1978.7 811.1Z M2166.9 595.1 L2187.8 584.7 L2201.7 609.1 L2180.8 623Z M2180.8 563.8 L2201.7 553.3 L2212.2 574.2 L2191.3 581.2Z M2215.7 549.8 L2229.6 556.8 L2236.6 570.7 L2222.6 577.7Z M2153 616 L2166.9 609.1 L2173.9 636.9 L2159.9 643.9Z M2132.1 623 L2149.5 616 L2159.9 650.9 L2146 664.8Z M2093.7 581.2 L2118.1 574.2 L2107.7 595.1 L2090.2 609.1Z M1700 678.7 L1720.9 664.8 L1745.3 678.7 L1727.9 713.6 L1710.5 748.4 L1700 755.4Z M1780.1 616 L1804.5 595.1 L1815 609.1 L1790.6 643.9 L1769.7 678.7 L1752.3 713.6 L1734.8 748.4 L1720.9 783.3 L1710.5 783.3 L1727.9 731 L1752.3 678.7Z M1794.1 748.4 L1815 713.6 L1832.4 692.7 L1839.4 706.6 L1818.5 741.5 L1801 783.3 L1787.1 818.1 L1815 835.5 L1804.5 887.8 L1783.6 922.6 L1769.7 965.2 L1752.3 965.2 L1766.2 905.2 L1780.1 853 L1776.7 800.7Z M1839.4 553.3 L1863.8 546.3 L1881.2 567.2 L1863.8 595.1 L1846.3 623 L1832.4 643.9 L1818.5 664.8 L1811.5 643.9 L1828.9 609.1 L1835.9 581.2Z M1881.2 623 L1909.1 609.1 L1923 623 L1902.1 650.9 L1888.2 671.8 L1874.2 657.8Z M1849.8 783.3 L1867.2 769.3 L1881.2 783.3 L1867.2 811.1 L1853.3 839 L1839.4 866.9 L1828.9 853 L1839.4 818.1Z M1849.8 880.8 L1867.2 853 L1881.2 866.9 L1874.2 905.2 L1863.8 943.6 L1853.3 965.2 L1839.4 965.2 L1842.9 922.6Z M1877.7 832.1 L1895.1 811.1 L1916 818.1 L1909.1 853 L1895.1 887.8 L1884.7 870.4Z M1923 751.9 L1943.9 734.5 L1957.8 748.4 L1940.4 776.3 L1926.5 797.2 L1916 783.3Z M1940.4 595.1 L1961.3 588.2 L1975.3 602.1 L1954.4 623 L1940.4 616Z M1916 699.7 L1936.9 685.7 L1950.9 699.7 L1926.5 727.5 L1909.1 720.6Z M1700 804.2 L1713.9 783.3 L1727.9 797.2 L1717.4 839 L1707 887.8 L1700 901.7Z M1727.9 853 L1745.3 818.1 L1759.2 832.1 L1748.8 887.8 L1734.8 943.6 L1724.4 965.2 L1713.9 965.2 L1720.9 905.2Z M2034.5 574.2 L2043.2 563.8 L2039.7 595.1 L2031 602.1Z M1843.9 900 L2094.8 900 L2066.9 913.9 L2049.5 934.8 L2073.9 962.7 L2084.3 973.2 L2070.4 980.1 L2049.5 959.2 L2018.1 969.7 L2004.2 987.1 L1997.2 1011.5 L2018.1 1032.4 L1983.3 1032.4 L1976.3 1053.3 L1958.9 1070.7 L1944.9 1060.3 L1934.5 1081.2 L1913.6 1067.2 L1899.7 1049.8 L1878.7 1032.4 L1864.8 1053.3 L1850.9 1039.4 L1857.8 1004.5 L1871.8 987.1 L1878.7 941.8Z M1840.4 1081.2 L1871.8 1067.2 L1899.7 1084.7 L1899.7 1116 L1871.8 1126.5 L1850.9 1143.9 L1843.9 1123Z M1911.8 1109.1 L1934.5 1109.1 L1932.8 1130 L1913.6 1131.7Z M1962.4 1095.1 L1983.3 1074.2 L1993.7 1084.7 L2021.6 1056.8 L2025.1 1063.8 L2004.2 1095.1 L2011.1 1123 L1993.7 1136.9 L1976.3 1130Z M2021.6 1102.1 L2049.5 1074.2 L2063.4 1039.4 L2080.8 1046.3 L2094.8 1025.4 L2122.6 1025.4 L2119.2 1046.3 L2133.1 1067.2 L2122.6 1105.6 L2112.2 1095.1 L2101.7 1077.7 L2084.3 1074.2 L2066.9 1095.1 L2046 1109.1 L2028.6 1116Z M2014.6 1175.3 L2035.5 1136.9 L2049.5 1119.5 L2073.9 1123 L2091.3 1140.4 L2080.8 1164.8 L2091.3 1192.7 L2080.8 1213.6 L2063.4 1210.1 L2049.5 1227.5 L2046 1196.2 L2059.9 1178.7 L2042.5 1175.3 L2028.6 1189.2Z M1400 1605.6 L1424.4 1595.1 L1448.8 1602.1 L1445.3 1616 L1434.8 1636.9 L1400 1643.9Z M1466.2 1598.6 L1474.9 1800.7 L1501 1818.1 L1483.6 1748.4 L1481.9 1678.7Z M1490.6 1671.8 L1504.5 1664.8 L1532.4 1675.3 L1546.3 1706.6 L1574.2 1727.5 L1570.7 1748.4 L1539.4 1751.9 L1532.4 1783.3 L1528.9 1804.2 L1501 1814.6 L1469.7 1811.1 L1459.2 1783.3 L1459.2 1758.9 L1483.6 1762.4 L1483.6 1738 L1522 1734.5 L1515 1713.6 L1494.1 1699.7Z M1413.9 1734.5 L1427.9 1732.8 L1431.4 1744.9 L1415.7 1746.7Z M1591.6 1403.5 L1616 1400 L1623 1420.9 L1640.4 1438.3 L1630 1448.8 L1609.1 1434.8 L1595.1 1424.4Z M1617.8 1490.6 L1628.2 1487.1 L1630 1501 L1621.3 1504.5Z M1420.9 1839 L1448.8 1835.5 L1455.7 1853 L1431.4 1859.9Z M1427.9 1870.4 L1441.8 1866.9 L1445.3 1894.8 L1431.4 1901.7Z M1469.7 1853 L1490.6 1849.5 L1494.1 1866.9 L1473.2 1870.4Z M1382.9 1937.6 L1406.3 1938.3 L1417.4 1987.1 L1387.1 1991.3Z M1027.5 1811.5 L1118.1 1798.6 L1118.1 1881.2 L1097.2 1893.4 L1097.2 1870.7 L1048.4 1855.1 L1044.9 1874.2 L1034.5 1874.2 L1024 1881.2 L1020.6 1874.2 L1031 1867.2 L1031 1846.3 L1024 1839.4Z M1123.3 1851.6 L1149.5 1846.3 L1166.9 1842.9 L1163.4 1849.8 L1153 1856.8 L1149.5 1870.7 L1123.3 1862Z M1092 1930 L1104.2 1926.5 L1121.6 1896.9 L1137.3 1909.1 L1130.3 1923 L1146 1924.7 L1132.1 1933.4 L1118.1 1930 L1100.7 1954.4Z M1022.3 1902.1 L1029.3 1898.6 L1032.8 1923 L1025.8 1926.5Z M1034.5 1898.6 L1048.4 1895.1 L1062.4 1905.6 L1076.3 1902.1 L1072.8 1923 L1062.4 1926.5 L1051.9 1940.4 L1041.5 1930 L1044.9 1916 L1034.5 1912.5Z M1191.3 1804.5 L1210.5 1797.6 L1212.2 1808 L1194.8 1811.5Z M1348.1 1713.9 L1379.4 1733.1 L1379.4 1769.7 L1388.2 1769.7 L1384.7 1783.6 L1351.6 1774.9 L1358.5 1759.2 L1355.1 1734.8Z M1388.2 1738.3 L1400.3 1733.1 L1403.8 1752.3Z M1414.3 1734.8 L1428.2 1731.4 L1431.7 1741.8 L1417.8 1745.3Z M1459.6 1759.2 L1484 1755.7 L1484 1734.8 L1500 1734.8 L1500 1822 L1484 1822 L1477 1804.5 L1459.6 1801 L1456.1 1780.1Z M1288.9 1849.8 L1337.6 1870.7 L1330.7 1888.2 L1285.4 1870.7Z M1382.9 1839.4 L1396.9 1832.4 L1407.3 1839.4 L1403.8 1860.3 L1382.9 1856.8Z M1382.9 1938.7 L1407.3 1938 L1417.8 1985.7 L1388.2 1991.6Z M1219.2 1882.9 L1231.4 1884.7 L1231.4 1893.4 L1220.9 1891.6Z M1257.5 1996.2 L1271.4 1989.2 L1288.9 2006.6 L1306.3 2013.6 L1313.2 2034.5 L1292.3 2048.4 L1271.4 2044.9 L1264.5 2024Z M1330.7 1916 L1344.6 1912.5 L1348.1 1936.9 L1334.1 1943.9Z M1428.2 1874.2 L1438.7 1870.7 L1442.2 1895.1 L1431.7 1898.6Z M1302.8 1834.1 L1313.2 1832.4 L1315 1846.3 L1304.5 1848.1Z M1320.2 2079.8 L1337.6 2076.3 L1341.1 2097.2 L1323.7 2100.7Z M1358.5 2079.8 L1379.4 2076.3 L1382.9 2100.7 L1362 2104.2Z M1477 1870.7 L1487.5 1869 L1489.2 1895.1 L1478.7 1895.1Z M909.1 1485.7 L943.9 1482.2 L954.4 1496.2 L982.2 1506.6 L975.3 1534.5 L916 1539.7 L909.1 1527.5 L923 1513.6Z M1097.2 1538 L1125.1 1536.2 L1128.6 1513.6 L1135.5 1515.3 L1142.5 1590.2 L1107.7 1585Z M1187.8 1517.1 L1194.8 1517.1 L1213.9 1538 L1213.9 1555.4 L1198.3 1555.4 L1194.8 1531Z M1254 1447.4 L1313.2 1443.9 L1309.8 1416 L1302.8 1412.5 L1320.2 1395.1 L1306.3 1384.7 L1323.7 1370.7 L1355.1 1369 L1344.6 1395.1 L1379.4 1396.9 L1369 1423 L1362 1443.9 L1341.1 1468.3 L1337.6 1534.5 L1327.2 1536.2 L1330.7 1558.9 L1299.3 1557.1 L1306.3 1538 L1261 1538 L1257.5 1513.6 L1236.6 1515.3 L1226.1 1534.5 L1226.1 1496.2 L1254 1492.7Z M1323.7 1313.2 L1341.1 1315 L1339.4 1325.4 L1341.1 1353.3 L1327.2 1356.8 L1320.2 1349.8 L1327.2 1328.9Z M1207 1316.7 L1243.6 1316.7 L1243.6 1341.1 L1207 1344.6Z M1112.9 1381.2 L1128.6 1374.2 L1163.4 1348.1 L1194.8 1348.1 L1203.5 1398.6 L1210.5 1402.1 L1198.3 1423 L1212.2 1436.9 L1187.8 1436.9 L1184.3 1426.5 L1166.9 1436.9 L1163.4 1461.3 L1149.5 1489.2 L1166.9 1496.2 L1159.9 1499.7 L1146 1485.7 L1132.1 1475.3 L1114.6 1482.2 L1109.4 1475.3 L1128.6 1464.8 L1135.5 1443.9 L1149.5 1426.5 L1128.6 1412.5 L1123.3 1395.1 L1105.9 1389.9Z M1006.6 1433.4 L1024 1430 L1024 1419.5 L1074.6 1409.1 L1079.8 1436.9 L1044.9 1445.6 L1038 1440.4 L1006.6 1443.9Z M1212.2 1579.8 L1224.4 1579.8 L1233.1 1618.1 L1219.2 1621.6 L1212.2 1635.5 L1201.7 1635.5 L1200 1618.1 L1212.2 1614.6Z M1379.4 1611.1 L1396.9 1597.2 L1428.2 1604.2 L1431.7 1597.2 L1452.6 1595.5 L1442.2 1618.1 L1428.2 1642.5 L1414.3 1646 L1400.3 1659.9 L1382.9 1649.5 L1376 1628.6Z M1464.8 1597.2 L1500 1600.7 L1500 1694.8 L1480.5 1691.3 L1471.8 1635.5Z M1044.9 1625.1 L1079.8 1611.1 L1083.3 1618.1 L1062.4 1642.5 L1051.9 1635.5Z M999.7 1656.4 L1024 1653 L1034.5 1666.9 L1062.4 1673.9 L1065.9 1677.4 L1048.4 1679.1 L1024 1670.4Z M1085 1680.8 L1109.4 1656.4 L1112.9 1666.9 L1092 1684.3Z M1022.3 1632.1 L1034.5 1618.1 L1038 1625.1 L1027.5 1642.5Z M1062.4 1649.5 L1072.8 1646 L1074.6 1663.4 L1064.1 1665.2Z M1093.7 1642.5 L1104.2 1635.5 L1105.9 1649.5 L1095.5 1653Z M1104.2 1614.6 L1111.1 1611.1 L1112.9 1625.1 L1105.9 1628.6Z M1348.1 1715.7 L1379.4 1733.1 L1379.4 1765.2 L1355.1 1765.2Z M1389.9 1743.6 L1400.3 1733.1 L1403.8 1750.5Z M1414.3 1740.1 L1424.7 1729.6 L1435.2 1743.6 L1417.8 1747Z M1132.1 1750.5 L1146 1743.6 L1149.5 1757.5 L1135.5 1761Z M1484 1743.6 L1500 1736.6 L1500 1765.2 L1487.5 1765.2Z M1464.8 1269.7 L1500 1266.2 L1500 1388.2 L1477 1395.1 L1461.3 1367.2 L1466.6 1304.5Z M560 500 L1360 500 L1360 1065.2 L560 1065.2Z M1100 712.7 L1700 712.7 L1700 965 L1900 965 L1900 1080 L1480.1 1080 L1480.1 1215.2 L1528.6 1215.2 L1518.1 1103 L1505.9 1085.5 L1485 1103 L1483.3 1078.6 L1436.2 1082.1 L1427.5 1029.8 L1413.6 1029.8 L1413.6 1054.2 L1385.7 1054.2 L1385.7 1019.3 L1350.9 1019.3 L1343.9 989.7 L1309.1 994.9 L1253.3 1008.9 L1246.3 1043.7 L1232.4 1103 L1183.6 1151.7 L1176.7 1193.6 L1100 1200.5Z M1309.1 1085.5 L1323 1085.5 L1323 1099.5 L1361.3 1099.5 L1361.3 1116.9 L1309.1 1120.4Z M1309.1 1127.4 L1323 1127.4 L1323 1144.8 L1309.1 1144.8Z M1347.4 1134.3 L1375.3 1130.8 L1378.7 1158.7 L1354.4 1162.2Z M1399.7 1123.9 L1406.6 1123.9 L1410.1 1144.8 L1427.5 1144.8 L1427.5 1151.7 L1396.2 1151.7Z M1316 1019.3 L1343.9 1019.3 L1343.9 1043.7 L1323 1043.7Z M1288.2 1193.6 L1323 1186.6 L1330 1215.2 L1295.1 1215.2Z M1100 1150 L1134.8 1150 L1134.8 1170.9 L1169.7 1167.4 L1176.7 1184.8 L1204.5 1181.4 L1204.5 1216.2 L1239.4 1216.2 L1239.4 1224.9 L1180.1 1230.1 L1169.7 1254.5 L1155.7 1265 L1159.2 1296.3 L1148.8 1306.8 L1145.3 1345.1 L1100 1352.1Z M1288.2 1193.6 L1328.2 1191.8 L1330 1209.2 L1309.1 1211 L1305.6 1251 L1284.7 1254.5 L1282.9 1242.3 L1289.9 1233.6 L1274.2 1231.9 L1272.5 1212.7 L1288.2 1209.2Z M1333.4 1212.7 L1356.1 1212.7 L1357.8 1228.4 L1343.9 1228.4 L1340.4 1233.6 L1350.9 1237.1 L1350.9 1254.5 L1340.4 1254.5 L1336.9 1230.1 L1319.5 1231.9 L1323 1221.4Z M1350.9 1150 L1364.8 1150 L1368.3 1162.2 L1354.4 1163.9Z M1385.7 1223.2 L1399.7 1214.5 L1446.7 1209.2 L1448.4 1214.5 L1436.2 1235.4 L1387.5 1237.1Z M1208 1317.2 L1244.6 1317.2 L1244.6 1343.4 L1208 1345.1Z M1326.5 1313.8 L1340.4 1315.5 L1340.4 1338.2 L1330 1355.6 L1323 1362.5 L1316 1352.1 L1324.7 1331.2Z M1316 1373 L1354.4 1369.5 L1349.1 1393.9 L1378.7 1395.6 L1361.3 1421.8 L1359.6 1446.2 L1343.9 1453.1 L1347.4 1463.6 L1331.7 1484.5 L1336.9 1529.8 L1326.5 1540.2 L1330 1559.4 L1298.6 1554.2 L1303.8 1540.2 L1260.3 1536.8 L1256.8 1491.5 L1237.6 1493.2 L1228.9 1533.3 L1225.4 1498.4 L1253.3 1491.5 L1255.1 1449.7 L1274.2 1446.2 L1309.1 1442.7 L1312.5 1414.8 L1302.1 1416.6 L1316 1393.9 L1303.8 1386.9Z M1120.9 1376.5 L1194.1 1348.6 L1195.8 1380 L1204.5 1393.9 L1208 1414.8 L1213.2 1435.7 L1190.6 1428.7 L1187.1 1439.2 L1173.2 1435.7 L1159.2 1453.1 L1152.3 1477.5 L1173.2 1494.9 L1162.7 1498.4 L1152.3 1484.5 L1143.6 1491.5 L1147 1474 L1113.9 1481 L1108.7 1474 L1133.1 1460.1 L1145.3 1435.7 L1124.4 1418.3 L1115.7 1404.4 L1127.9 1393.9 L1103.5 1386.9Z M1100 1536.8 L1131.4 1529.8 L1143.6 1589 L1100 1585.5Z M1127.9 1515.9 L1136.6 1515.9 L1138.3 1536.8 L1129.6 1536.8Z M1188.9 1519.3 L1194.1 1517.6 L1201 1533.3 L1215 1538.5 L1215 1554.2 L1197.6 1554.2 L1194.1 1533.3Z M1213.2 1578.6 L1223.7 1578.6 L1232.4 1616.9 L1220.2 1620.4Z M1201 1616.9 L1215 1615.2 L1211.5 1634.3 L1202.8 1637.8Z M1382.2 1596 L1389.2 1594.3 L1403.1 1609.9 L1424 1613.4 L1431 1599.5 L1448.4 1594.3 L1450.2 1603 L1427.5 1637.8 L1413.6 1655.2 L1404.9 1648.3 L1396.2 1658.7 L1378.7 1648.3 L1378.7 1623.9Z M1465.9 1599.5 L1471.1 1599.5 L1478 1637.8 L1500.7 1669.2 L1518.1 1672.6 L1539 1697 L1549.5 1715.2 L1528.6 1715.2 L1518.1 1693.6 L1493.7 1679.6 L1490.2 1700.5 L1474.6 1686.6Z M1474.6 1596 L1493.7 1599.5 L1497.2 1616.9 L1507.7 1623.9 L1504.2 1644.8 L1483.3 1637.8Z M1462.4 1268.5 L1493.7 1278.9 L1497.2 1289.4 L1518.1 1289.4 L1509.4 1324.2 L1493.7 1345.1 L1479.8 1366 L1469.3 1390.4 L1462.4 1373 L1458.9 1345.1 L1469.3 1317.2 L1462.4 1296.3Z M1619.2 1481 L1626.1 1477.5 L1629.6 1498.4 L1622.6 1501.9Z M1480 1080 L1508.7 1080 L1511.4 1090.5 L1495.7 1103.5 L1480 1111.4Z M1532.3 1111.4 L1547.9 1095.7 L1558.4 1100.9 L1547.9 1132.3 L1540.1 1166.2 L1532.3 1184.5 L1521.8 1179.3 L1529.7 1147.9Z M1550.6 1132.3 L1571.5 1106.1 L1581.9 1114 L1576.7 1137.5 L1568.9 1158.4 L1558.4 1166.2Z M1514 1192.4 L1532.3 1184.5 L1542.7 1195 L1532.3 1226.3 L1524.4 1257.7 L1516.6 1289.1 L1480 1367.5 L1480 1341.3 L1500.9 1315.2 L1514 1278.6 L1519.2 1242Z M1540.1 1168.9 L1558.4 1166.2 L1579.3 1163.6 L1574.1 1189.8 L1558.4 1205.4 L1547.9 1195Z M1621.1 1100.9 L1636.8 1090.5 L1649.9 1080 L1678.6 1080 L1683.8 1095.7 L1673.4 1114 L1662.9 1127 L1652.5 1129.7 L1642 1116.6 L1626.3 1114Z M1696.9 1095.7 L1707.4 1080 L1715.2 1080 L1710 1100.9 L1702.1 1116.6 L1694.3 1111.4Z M1730.9 1106.1 L1741.3 1095.7 L1749.2 1100.9 L1741.3 1116.6 L1733.5 1132.3 L1725.6 1127Z M1757 1111.4 L1767.5 1090.5 L1777.9 1095.7 L1775.3 1116.6 L1764.8 1132.3 L1757 1129.7Z M1683.8 1158.4 L1694.3 1142.7 L1702.1 1150.6 L1696.9 1168.9 L1689.1 1174.1Z M1702.1 1179.3 L1715.2 1153.2 L1725.6 1142.7 L1736.1 1147.9 L1730.9 1168.9 L1720.4 1189.8 L1710 1200.2Z M1749.2 1166.2 L1757 1147.9 L1770.1 1142.7 L1777.9 1153.2 L1767.5 1174.1 L1757 1195 L1746.6 1221.1 L1736.1 1236.8 L1725.6 1247.2 L1715.2 1242 L1728.3 1221.1 L1741.3 1195Z M1772.7 1226.3 L1780.5 1215.9 L1793.6 1210.7 L1804 1215.9 L1793.6 1226.3 L1780.5 1236.8Z M1819.7 1142.7 L1830.2 1140.1 L1838 1150.6 L1832.8 1158.4 L1822.3 1155.8Z M1822.3 1195 L1838 1168.9 L1851.1 1171.5 L1848.5 1189.8 L1840.6 1210.7 L1830.2 1221.1 L1819.7 1210.7Z M1571.5 1247.2 L1595 1244.6 L1600.2 1262.9 L1595 1289.1 L1584.5 1304.7 L1574.1 1294.3 L1576.7 1268.2Z M1642 1307.4 L1657.7 1296.9 L1670.8 1283.8 L1683.8 1268.2 L1702.1 1247.2 L1715.2 1247.2 L1730.9 1257.7 L1741.3 1273.4 L1751.8 1294.3 L1757 1315.2 L1754.4 1330.9 L1725.6 1330.9 L1715.2 1320.4 L1702.1 1315.2 L1694.3 1302.1 L1683.8 1310 L1668.2 1325.6 L1652.5 1330.9 L1642 1320.4Z M1608 1307.4 L1626.3 1294.3 L1634.2 1296.9 L1626.3 1315.2 L1623.7 1341.3 L1636.8 1367.5 L1626.3 1372.7 L1615.9 1351.8 L1610.7 1330.9Z M1662.9 1330.9 L1678.6 1323 L1696.9 1330.9 L1704.7 1341.3 L1683.8 1346.6 L1668.2 1341.3Z M1647.2 1367.5 L1657.7 1357 L1662.9 1367.5 L1657.7 1383.1 L1647.2 1388.4Z M1631.6 1375.3 L1642 1388.4 L1652.5 1391 L1639.4 1396.2 L1631.6 1388.4Z M1553.2 1315.2 L1566.2 1320.4 L1571.5 1341.3 L1584.5 1351.8 L1595 1362.2 L1589.8 1367.5 L1576.7 1357 L1566.2 1346.6Z M1589.8 1409.3 L1605.4 1401.4 L1621.1 1406.7 L1626.3 1417.1 L1636.8 1430.2 L1642 1445.9 L1631.6 1448.5 L1621.1 1438 L1608 1435.4 L1602.8 1424.9 L1592.4 1419.7Z M1618.5 1495.5 L1629 1492.9 L1631.6 1504.1 L1621.1 1504.1Z M1840.6 1085.2 L1856.3 1080 L1898.1 1080 L1903.3 1095.7 L1898.1 1124.4 L1872 1129.7 L1856.3 1127 L1843.2 1111.4Z M1911.2 1108.7 L1934.7 1107.4 L1934.7 1129.7 L1913.8 1131Z M1953 1095.7 L1971.3 1080 L2015.7 1080 L2013.1 1095.7 L2002.6 1111.4 L2010.5 1127 L1997.4 1137.5 L1976.5 1127 L1966.1 1111.4Z M2023.6 1090.5 L2039.2 1080 L2080 1080 L2080 1114 L2054.9 1119.2 L2039.2 1111.4 L2026.2 1106.1Z M2013.1 1174.1 L2028.8 1142.7 L2049.7 1121.8 L2080 1124.4 L2080 1210.7 L2065.4 1221.1 L2049.7 1205.4 L2036.6 1184.5 L2023.6 1187.1Z M1906 1215.9 L1924.3 1213.3 L1939.9 1226.3 L1950.4 1236.8 L1955.6 1257.7 L1929.5 1262.9 L1939.9 1281.2 L1921.6 1273.4 L1906 1265.5 L1924.3 1257.7 L1919 1236.8Z M1963.4 1221.1 L2000 1210.7 L2010.5 1236.8 L1966.1 1247.2Z M1480 1278.6 L1495.7 1283.8 L1516.6 1289.1 L1514 1315.2 L1495.7 1341.3 L1480 1357Z M1589.8 1080 L1602.8 1080 L1595 1100.9 L1584.5 1121.8 L1579.3 1111.4Z M1602.8 1158.4 L1610.7 1142.7 L1618.5 1147.9 L1610.7 1168.9 L1605.4 1189.8 L1597.6 1184.5Z M1647.2 1179.3 L1657.7 1158.4 L1668.2 1153.2 L1673.4 1163.6 L1662.9 1184.5 L1652.5 1200.2Z M1626.3 1226.3 L1636.8 1205.4 L1647.2 1210.7 L1639.4 1231.6 L1631.6 1247.2 L1623.7 1242Z M1783.1 1158.4 L1793.6 1147.9 L1804 1158.4 L1793.6 1174.1Z M1793.6 1111.4 L1809.3 1095.7 L1819.7 1106.1 L1809.3 1127 L1798.8 1132.3Z M970.6 1065.1 L1239.7 1065.1 L1237.1 1115 L1208.4 1125.4 L1187.5 1133.3 L1177 1146.3 L1197.9 1172.5 L1174.4 1172.5 L1184.8 1206.4 L1200.5 1206.4 L1203.1 1218.2 L1238.4 1215.6 L1239.7 1223.4 L1180.9 1230 L1174.4 1243 L1184.8 1250.9 L1177 1266.6 L1154.8 1271.8 L1152.2 1318.8 L1141.7 1321.4 L1143 1348.9 L1072.5 1355.4 L1060.7 1324 L1067.2 1304.4 L1109.1 1303.1 L1106.4 1287.5 L1128.7 1286.1 L1127.4 1245.6 L1082.9 1240.4 L1062 1162 L1067.2 1150.3 L1047.6 1142.4 L1042.4 1168.6 L1028 1173.8 L1022.8 1150.3 L975.8 1146.3 L970.6 1130.7Z M1208.4 1318.8 L1244.9 1316.2 L1244.9 1342.3 L1208.4 1344.9Z M1273.7 1211.7 L1289.4 1209.1 L1289.4 1193.4 L1328.6 1190.8 L1328.6 1216.9 L1302.4 1222.1 L1307.7 1235.2 L1305.1 1256.1 L1286.8 1256.1 L1284.1 1243 L1289.4 1232.6 L1273.7 1230Z M1333.8 1213 L1357.3 1213 L1357.3 1227.4 L1341.6 1227.4Z M1386.1 1222.1 L1404.4 1211.7 L1447.5 1210.4 L1438.3 1235.2 L1386.1 1237.8Z M1349.5 1133.3 L1375.6 1129.4 L1378.2 1156.8 L1354.7 1163.3Z M1320.7 1141.1 L1339 1138.5 L1341.6 1156.8 L1322 1159.4Z M1396.5 1122.8 L1407 1122.8 L1409.6 1143.7 L1427.9 1145 L1427.9 1152.9 L1396.5 1152.9Z M1315.5 1101.9 L1362.5 1100.6 L1362.5 1118.9 L1320.7 1120.2 L1318.1 1141.1 L1307.7 1142.4Z M1386.1 1026.1 L1430.5 1028.7 L1433.1 1052.3 L1386.1 1054.9Z M1315.5 1020.9 L1341.6 1020.9 L1328.6 1052.3 L1314.2 1044.4Z M1344.3 1000 L1500 1000 L1500 1078.4 L1435.7 1083.6 L1433.1 1052.3 L1430.5 1028.7 L1386.1 1026.1 L1349.5 1019.6Z M1116.9 1376.3 L1161.3 1350.2 L1195.3 1347.6 L1200.5 1386.8 L1208.4 1407.7 L1197.9 1424.1 L1127.4 1424.1 L1122.1 1399.8 L1103.8 1394.6Z M1302.4 1392 L1323.3 1371.1 L1354.7 1369.8 L1344.3 1392 L1378.2 1397.2 L1370.4 1418.1 L1344.3 1424.1 L1307.7 1424.1 L1312.9 1407.7Z M1323.3 1313.6 L1341.6 1313.6 L1341.6 1331.9 L1328.6 1339.7 L1333.8 1350.2 L1318.1 1365.9 L1323.3 1339.7Z M1464.5 1266.6 L1500 1271.8 L1500 1392 L1482.8 1386.8 L1474.9 1365.9 L1456.6 1363.2 L1464.5 1339.7 L1480.1 1318.8 L1464.5 1308.4Z M1312.9 1078.4 L1323.3 1078.4 L1307.7 1099.3 L1305.1 1094.1Z" fill="#ffebbe"/>
<path d="M1415.3 481 L1424 484.5 L1429.3 533.3 L1434.5 568.1 L1431 603 L1420.6 637.8 L1413.6 672.6 L1408.4 715.2 L1403.1 715.2 L1410.1 672.6 L1417.1 637.8 L1425.8 603 L1427.5 568.1 L1422.3 533.3Z M1699.3 575.1 L1727.2 568.1 L1723.7 599.5 L1702.8 603Z M1566.9 616.9 L1587.8 609.9 L1594.8 627.4 L1577.4 637.8Z M1580.8 637.8 L1594.8 637.8 L1601.7 651.7 L1587.8 655.2Z M1528.6 630.8 L1549.5 634.3 L1570.4 672.6 L1587.8 693.6 L1566.9 700.5 L1553 679.6Z M1208 573.3 L1232.4 561.1 L1239.4 568.1 L1218.5 589 L1204.5 613.4 L1197.6 609.9Z M1782.9 484.5 L1817.8 498.4 L1817.8 533.3 L1789.9 561.1 L1762 575.1 L1737.6 596 L1727.2 568.1 L1762 533.3Z M1601.7 463.6 L1615.7 481 L1629.6 519.3 L1608.7 498.4Z M1688.9 603 L1720.2 613.4 L1692.3 648.3 L1678.4 637.8Z M1902.1 532.4 L1957.8 483.6 L1966.6 490.6 L1959.6 515 L1923 553.3 L1895.1 581.2 L1874.2 609.1 L1853.3 623 L1867.2 581.2Z M1978.7 539.4 L1996.2 549.8 L2003.1 581.2 L1971.8 588.2 L1964.8 563.8Z M1815 546.3 L1846.3 553.3 L1839.4 581.2 L1818.5 609.1 L1804.5 595.1Z M1969.3 920.9 L1993.7 917.4 L1990.2 938.3 L1969.3 941.8Z M922.4 705.6 L936.3 705.6 L934.6 743.9 L943.3 778.7 L946.8 806.6 L948.5 831 L943.3 855.4 L939.8 883.3 L950.2 911.1 L957.2 935.5 L953.7 968.6 L941.5 968.6 L943.3 939 L936.3 914.6 L929.3 883.3 L931.1 855.4 L936.3 831 L932.8 806.6 L929.3 778.7 L922.4 743.9Z M873.6 730 L894.5 726.5 L922.4 743.9 L918.9 750.9 L894.5 736.9 L877.1 736.9Z M971.1 806.6 L985.1 785.7 L992.1 789.2 L978.1 810.1 L950.2 824 L946.8 817.1Z M887.5 834.5 L894.5 834.5 L901.5 862.4 L898 883.3 L891 911.1 L884 935.5 L877.1 966.9 L870.1 966.9 L877.1 935.5 L884 907.7 L891 879.8 L892.8 858.9Z M755.1 904.2 L776 900.7 L803.9 911.1 L824.8 907.7 L845.7 897.2 L849.2 904.2 L831.8 918.1 L810.9 925.1 L838.7 939 L852.7 953 L838.7 966.9 L824.8 977.4 L845.7 984.3 L831.8 987.8 L803.9 977.4 L783 963.4 L762.1 946 L741.2 935.5 L748.2 925.1 L769.1 932.1 L790 942.5 L803.9 953 L817.8 949.5 L803.9 932.1 L783 918.1 L762.1 914.6Z M636.7 813.6 L671.5 810.1 L688.9 820.6 L678.5 841.5 L692.4 862.4 L678.5 883.3 L657.6 886.8 L643.6 869.3 L661 851.9 L650.6 831Z M699.4 904.2 L730.7 900.7 L734.2 928.6 L713.3 932.1Z M723.8 750.9 L737.7 743.9 L741.2 775.3 L730.7 778.7Z M744.7 695.1 L762.1 691.6 L765.6 712.5 L748.2 716Z M668 736.9 L699.4 719.5 L706.3 743.9 L675 750.9Z M866.6 681.2 L880.6 677.7 L884 695.1 L870.1 698.6Z M992.1 702.1 L1013 691.6 L1019.9 712.5 L999 723Z M995.5 730 L1023.4 723 L1026.9 743.9 L1002.5 750.9Z M560 959.9 L591.4 963.4 L580.9 984.3 L560 987.8Z M1037.4 946 L1082.6 932.1 L1089.6 949.5 L1058.3 970.4 L1040.8 966.9Z M1061.7 869.3 L1086.1 865.9 L1086.1 886.8 L1065.2 890.2Z M1089.6 904.2 L1107 900.7 L1107 921.6 L1089.6 925.1Z M1215.1 569.7 L1229 566.2 L1215.1 594.1 L1201.1 622 L1194.1 618.5 L1208.1 590.6Z M1316.1 841.5 L1360 827.5 L1360 869.3 L1326.6 869.3Z M1253.4 1001.7 L1298.7 998.3 L1302.2 987.8 L1360 987.8 L1360 1065.2 L1242.9 1065.2 L1249.9 1036.6Z M915.4 632.4 L936.3 618.5 L943.3 628.9 L925.9 646.3Z M803.9 883.3 L814.4 879.8 L824.8 893.7 L810.9 897.2Z M1023.4 939 L1033.9 935.5 L1037.4 956.4 L1026.9 959.9Z M1371.8 761.5 L1413.6 754.5 L1406.6 803.3 L1385.7 810.3Z M1444.9 810.3 L1476.3 824.2 L1462.4 873 L1420.6 852.1Z M1309.1 838.2 L1399.7 820.7 L1406.6 831.2 L1323 859.1Z M1350.9 893.9 L1427.5 873 L1441.5 893.9 L1413.6 949.7 L1364.8 963.6 L1357.8 928.7Z M1465.9 893.9 L1483.3 890.4 L1507.7 956.6 L1465.9 960.1Z M1309.1 893.9 L1343.9 900.9 L1336.9 928.7 L1309.1 921.8Z M1490.2 789.4 L1507.7 785.9 L1514.6 803.3 L1497.2 806.8Z M1448.4 1019.3 L1500.7 1033.3 L1497.2 1054.2 L1476.3 1040.2Z M1643.6 949.7 L1671.4 907.8 L1692.3 873 L1713.2 831.2 L1727.2 803.3 L1737.6 782.4 L1744.6 789.4 L1727.2 831.2 L1706.3 880 L1685.4 921.8 L1657.5 963.6 L1636.6 998.4 L1615.7 1019.3 L1601.7 998.4 L1622.6 977.5Z M1674.9 695.3 L1699.3 684.8 L1702.8 712.7 L1685.4 723.2Z M1598.3 956.6 L1636.6 914.8 L1671.4 907.8 L1643.6 949.7 L1615.7 984.5Z M1577.4 935.7 L1612.2 914.8 L1605.2 928.7 L1584.3 942.7Z M1553 1033.3 L1580.8 1005.4 L1594.8 1012.4 L1587.8 1047.2 L1566.9 1089 L1549.5 1137.8 L1535.5 1172.6 L1528.6 1137.8 L1539 1085.5Z M1671.4 998.4 L1699.3 963.6 L1720.2 984.5 L1706.3 1019.3 L1685.4 1033.3Z M1782.9 998.4 L1803.8 963.6 L1824.7 977.5 L1803.8 1019.3 L1789.9 1033.3Z M1723.7 998.4 L1744.6 965 L1762 965 L1758.5 977.5 L1741.1 1019.3 L1727.2 1033.3Z M1859.6 965 L1900 965 L1880.5 998.4 L1866.6 991.5Z M1546 1033.3 L1566.9 998.4 L1587.8 1005.4 L1594.8 1019.3 L1580.8 1054.2 L1563.4 1082.1 L1539 1082.1Z M1594.8 1082.1 L1608.7 1040.2 L1629.6 1012.4 L1650.5 1019.3 L1643.6 1054.2 L1629.6 1082.1Z M1657.5 1082.1 L1671.4 1040.2 L1692.3 1005.4 L1713.2 984.5 L1727.2 998.4 L1713.2 1033.3 L1699.3 1082.1Z M1727.2 1082.1 L1741.1 1033.3 L1762 991.5 L1782.9 970.6 L1796.9 984.5 L1782.9 1026.3 L1769 1082.1Z M1789.9 1082.1 L1810.8 1026.3 L1831.7 984.5 L1852.6 970.6 L1866.6 984.5 L1845.6 1033.3 L1831.7 1082.1Z M1852.6 1082.1 L1873.5 1033.3 L1900 991.5 L1900 1082.1Z M994.1 1149 L1022.8 1151.6 L1025.4 1172.5 L1041.1 1167.2 L1067.2 1198.6 L1046.3 1198.6 L1015 1224.7 L999.3 1209.1 L988.9 1182.9Z M1459.2 1081 L1482.8 1078.4 L1485.4 1101.9 L1461.8 1104.5Z" fill="#00bc78"/>
<path d="M1587.8 193.6 L1782.9 214.5 L1807.3 303.3 L1800.3 359.1 L1793.4 393.9 L1776 425.3 L1762 449.7 L1734.1 428.7 L1706.3 453.1 L1692.3 456.6 L1671.4 463.6 L1643.6 439.2 L1629.6 404.4 L1626.1 376.5 L1636.6 359.1 L1619.2 345.1 L1615.7 289.4 L1643.6 282.4 L1650.5 247.6 L1622.6 240.6 L1626.1 202.3Z M1699.3 456.6 L1723.7 463.6 L1723.7 505.4 L1741.1 505.4 L1741.1 526.3 L1723.7 526.3 L1723.7 540.2 L1685.4 540.2 L1685.4 576.8 L1671.4 578.6 L1671.4 505.4 L1692.3 505.4 L1692.3 474Z M1504.2 498.4 L1518.1 474 L1528.6 498.4 L1535.5 533.3 L1542.5 568.1 L1553 592.5 L1563.4 616.9 L1570.4 644.8 L1587.8 672.6 L1601.7 693.6 L1615.7 715.2 L1580.8 715.2 L1566.9 686.6 L1549.5 651.7 L1532.1 616.9 L1518.1 585.5 L1507.7 550.7 L1500.7 519.3Z M1594.8 428.7 L1622.6 425.3 L1633.1 446.2 L1647 474 L1661 501.9 L1671.4 533.3 L1674.9 568.1 L1678.4 603 L1685.4 637.8 L1671.4 665.7 L1643.6 693.6 L1622.6 715.2 L1601.7 715.2 L1622.6 686.6 L1643.6 651.7 L1640.1 616.9 L1636.6 568.1 L1633.1 533.3 L1615.7 498.4 L1601.7 470.6Z M1762 453.1 L1782.9 477.5 L1803.8 498.4 L1814.3 526.3 L1789.9 554.2 L1762 568.1 L1734.1 589 L1713.2 616.9 L1692.3 644.8 L1671.4 665.7 L1685.4 637.8 L1699.3 603 L1720.2 568.1 L1744.6 543.7 L1769 519.3 L1762 484.5Z M1566.9 512.4 L1587.8 498.4 L1594.8 515.9 L1601.7 533.3 L1584.3 540.2 L1577.4 522.8Z M1563.4 582.1 L1615.7 568.1 L1636.6 630.8 L1622.6 634.3 L1608.7 589 L1594.8 599.5 L1601.7 620.4 L1587.8 623.9 L1580.8 596 L1566.9 599.5Z M1458.9 519.3 L1486.8 512.4 L1483.3 526.3 L1462.4 529.8Z M1441.5 616.9 L1469.3 637.8 L1462.4 662.2 L1424 644.8Z M1396.2 505.4 L1403.8 503.7 L1407.3 519.3 L1399.7 521.1Z M1472.8 561.1 L1490.2 554.2 L1493.7 561.1 L1476.3 568.1Z M1180.1 637.8 L1194.1 634.3 L1197.6 648.3 L1173.2 655.2Z M1323 623.9 L1336.9 630.8 L1340.4 651.7 L1323 637.8Z M1309.1 648.3 L1326.5 662.2 L1340.4 672.6 L1323 676.1Z M1147 651.7 L1157.5 655.2 L1162.7 679.6 L1152.3 686.6Z M1448.4 690.1 L1465.9 686.6 L1469.3 715.2 L1451.9 715.2Z M1194.1 662.2 L1215 665.7 L1211.5 672.6 L1197.6 669.2Z M1222 690.1 L1232.4 693.6 L1235.9 715.2 L1223.7 707.5Z M1745.3 445.3 L1780.1 476.7 L1804.5 504.5 L1815 539.4 L1797.6 574.2 L1769.7 609.1 L1734.8 643.9 L1700 657.8 L1700 539.4 L1734.8 522 L1752.3 487.1Z M2135.5 762.4 L2156.4 769.3 L2163.4 804.2 L2159.9 825.1 L2149.5 828.6 L2135.5 797.2Z M2146 877.4 L2166.9 870.4 L2187.8 908.7 L2194.8 936.6 L2180.8 943.6 L2163.4 915.7Z M2044.9 947 L2065.9 922.6 L2078 957.5 L2069.3 965.2 L2048.4 965.2Z M2071.1 574.2 L2093.7 570.7 L2076.3 609.1 L2062.4 616Z M2111.1 616 L2139 588.2 L2146 595.1 L2118.1 626.5Z M2006.6 574.2 L2031 525.4 L2048.4 522 L2034.5 553.3 L2013.6 588.2Z M2128.6 689.2 L2146 678.7 L2149.5 703.1 L2132.1 713.6Z M2069.3 751.9 L2100.7 741.5 L2107.7 762.4 L2079.8 769.3Z M1992.7 727.5 L2006.6 720.6 L2013.6 741.5 L1999.7 748.4Z M2027.5 685.7 L2041.5 678.7 L2044.9 692.7 L2031 696.2Z M1964.8 546.3 L1978.7 553.3 L1992.7 581.2 L1978.7 595.1 L1968.3 574.2Z M1881.2 581.2 L1909.1 553.3 L1916 560.3 L1891.6 595.1Z M1895.1 751.9 L1909.1 741.5 L1912.5 762.4 L1898.6 776.3Z M1787.1 741.5 L1801 739.7 L1799.3 751.9 L1788.9 753.7Z M2049.5 934.8 L2066.9 920.9 L2073.9 945.3 L2084.3 973.2 L2066.9 966.2Z M2147 955.7 L2171.4 934.8 L2192.3 948.8 L2199.3 980.1 L2192.3 1011.5 L2171.4 1001 L2157.5 983.6Z M1868.3 1095.1 L1878.7 1093.4 L1877 1109.1 L1866.6 1109.1Z M1871.8 1067.2 L1889.2 1074.2 L1903.1 1095.1 L1913.6 1109.1 L1903.1 1112.5 L1885.7 1088.2Z M1920.6 1077.7 L1934.5 1088.2 L1948.4 1102.1 L1941.5 1109.1 L1927.5 1095.1Z M1483.6 1616 L1504.5 1623 L1515 1664.8 L1525.4 1699.7 L1518.5 1713.6 L1501 1678.7 L1487.1 1643.9Z M1532.4 1783.3 L1539.4 1818.1 L1539.4 1853 L1549.8 1880.8 L1539.4 1887.8 L1528.9 1853 L1525.4 1818.1Z M1609.1 1859.9 L1619.5 1856.4 L1626.5 1873.9 L1616 1884.3Z M1577.7 1703.1 L1589.9 1701.4 L1591.6 1715.3 L1579.4 1717.1Z M1849.5 1769.3 L1866.9 1765.9 L1887.8 1783.3 L1905.2 1804.2 L1887.8 1811.1 L1863.4 1797.2Z M1873.9 1835.5 L1894.8 1832.1 L1915.7 1853 L1922.6 1887.8 L1936.6 1915.7 L1922.6 1922.6 L1901.7 1901.7 L1880.8 1866.9Z M1902.8 1907 L1920.2 1920.9 L1937.6 1952.3 L1927.2 1962.7 L1913.2 1941.8Z M1822.6 1959.2 L1836.6 1957.5 L1836.6 1966.2 L1824.4 1967.9Z M978.7 1790.6 L992.7 1787.1 L989.2 1808 L978.7 1815Z M1243.6 1849.8 L1264.5 1846.3 L1271.4 1867.2 L1274.9 1888.2 L1257.5 1884.7 L1247 1870.7Z M1320.2 1727.9 L1334.1 1720.9 L1337.6 1762.7 L1323.7 1769.7Z M1330.7 1870.7 L1337.6 1870.7 L1339.4 1889.9 L1332.4 1891.6Z M1229.6 2062.4 L1257.5 2069.3 L1271.4 2097.2 L1257.5 2111.1 L1236.6 2083.3Z M999.7 1234.8 L1013.6 1213.9 L1048.4 1200 L1069.3 1200 L1079.8 1234.8 L1111.1 1234.8 L1118.1 1220.9 L1135.5 1220.9 L1142.5 1245.3 L1149.5 1297.6 L1163.4 1280.1 L1184.3 1301 L1180.8 1322 L1153 1346.3 L1114.6 1374.2 L1083.3 1388.2 L1062.4 1402.1 L1034.5 1416 L1013.6 1395.1 L1031 1381.2 L1048.4 1363.8 L1048.4 1332.4 L1062.4 1304.5 L1069.3 1290.6 L1048.4 1287.1 L1013.6 1297.6 L989.2 1269.7 L1013.6 1273.2 L1013.6 1252.3Z M943.9 1325.4 L978.7 1318.5 L996.2 1339.4 L971.8 1353.3 L943.9 1346.3Z M989.2 1381.2 L1034.5 1388.2 L1048.4 1409.1 L1013.6 1423 L996.2 1409.1Z M1006.6 1346.3 L1031 1339.4 L1048.4 1360.3 L1020.6 1374.2Z M1229.6 1663.4 L1257.5 1646 L1274.9 1642.5 L1257.5 1659.9 L1236.6 1677.4Z M1341.1 1677.4 L1369 1653 L1382.9 1628.6 L1389.9 1635.5 L1376 1663.4 L1355.1 1694.8 L1344.6 1694.8Z M1403.8 1416 L1431.7 1405.6 L1445.6 1423 L1431.7 1443.9 L1410.8 1440.4Z M1386.4 1527.5 L1400.3 1524 L1382.9 1555.4 L1372.5 1551.9Z M1421.3 1478.7 L1431.7 1475.3 L1435.2 1496.2 L1424.7 1496.2Z M1471.8 1301 L1500 1299.3 L1500 1315 L1484 1315 L1484 1346.3 L1456.1 1353.3 L1459.6 1322Z M909.1 1276.7 L930 1269.7 L926.5 1290.6 L909.1 1294.1Z M1323.7 1687.8 L1337.6 1680.8 L1344.6 1708.7 L1327.2 1722.6Z M1075.7 750.9 L1093.1 750.9 L1121 764.8 L1152.3 768.3 L1183.7 757.8 L1204.6 757.8 L1232.5 775.3 L1256.9 789.2 L1277.8 813.6 L1291.7 838 L1302.2 862.4 L1319.6 883.3 L1337 911.1 L1350.9 939 L1360 953 L1360 980.8 L1340.5 963.4 L1326.6 935.5 L1309.1 907.7 L1291.7 883.3 L1277.8 858.9 L1263.8 831 L1242.9 806.6 L1222 789.2 L1197.6 775.3 L1173.2 775.3 L1145.4 778.7 L1117.5 775.3 L1093.1 764.8Z M988.6 639.4 L1016.4 646.3 L1032.1 670.7 L1028.6 705.6 L1047.8 728.2 L1040.8 733.4 L1019.9 709.1 L1018.2 674.2 L1006 653.3Z M605.3 942.5 L622.7 946 L624.5 956.4 L607 958.2Z M636.7 890.2 L650.6 886.8 L655.8 904.2 L641.9 909.4Z M824.8 785.7 L838.7 792.7 L838.7 813.6 L828.3 806.6Z M849.2 761.3 L859.7 757.8 L863.1 771.8 L852.7 775.3Z M783 806.6 L810.9 810.1 L817.8 827.5 L803.9 838 L786.5 827.5Z M845.7 844.9 L859.7 841.5 L863.1 855.4 L849.2 858.9Z M863.1 872.8 L873.6 869.3 L877.1 883.3 L866.6 886.8Z M755.1 862.4 L790 865.9 L796.9 876.3 L769.1 879.8Z M960.7 736.9 L988.6 730 L995.5 750.9 L971.1 757.8Z M988.6 716 L1006 709.1 L1009.5 723 L992.1 730Z M1019.9 771.8 L1047.8 750.9 L1040.8 778.7 L1026.9 785.7Z M1009.5 799.7 L1023.4 796.2 L1026.9 813.6 L1013 817.1Z M943.3 848.4 L953.7 844.9 L957.2 862.4 L946.8 865.9Z M995.5 869.3 L1026.9 876.3 L1013 886.8 L999 883.3Z M1061.7 803.1 L1075.7 799.7 L1079.2 813.6 L1065.2 817.1Z M1072.2 820.6 L1080.9 818.8 L1082.6 838 L1075.7 839.7Z M939.8 886.8 L957.2 897.2 L964.2 918.1 L950.2 911.1Z M967.7 890.2 L992.1 886.8 L995.5 900.7 L971.1 904.2Z M880.6 984.3 L904.9 994.8 L908.4 1012.2 L894.5 1022.6 L887.5 1005.2Z M772.5 1001.7 L800.4 998.3 L800.4 1022.6 L776 1026.1Z M636.7 994.8 L664.5 993 L668 1012.2 L638.4 1013.9Z M734.2 984.3 L769.1 980.8 L770.8 994.8 L737.7 998.3Z M675 1008.7 L699.4 1012.2 L695.9 1022.6 L678.5 1020.9Z M688.9 946 L699.4 949.5 L695.9 966.9 L687.2 963.4Z M1148.9 810.1 L1183.7 803.1 L1180.2 862.4 L1141.9 865.9 L1148.9 834.5Z M1187.2 792.7 L1218.5 796.2 L1215.1 813.6 L1190.7 811.8Z M1141.9 886.8 L1162.8 883.3 L1164.5 907.7 L1145.4 911.1Z M1267.3 911.1 L1281.3 904.2 L1305.6 928.6 L1291.7 946 L1284.7 932.1 L1270.8 932.1Z M1222 834.5 L1242.9 831 L1256.9 844.9 L1232.5 851.9Z M1229 876.3 L1249.9 869.3 L1256.9 883.3 L1236 897.2Z M1127.9 921.6 L1141.9 911.1 L1145.4 935.5 L1131.4 939Z M1047.8 1001.7 L1075.7 984.3 L1103.6 987.8 L1117.5 1005.2 L1131.4 994.8 L1145.4 1012.2 L1117.5 1036.6 L1096.6 1022.6 L1075.7 1036.6 L1054.8 1022.6Z M1152.3 987.8 L1173.2 977.4 L1187.2 987.8 L1222 970.4 L1249.9 949.5 L1291.7 987.8 L1270.8 1001.7 L1249.9 1001.7 L1215.1 1043.6 L1194.1 1022.6 L1173.2 1012.2 L1159.3 1005.2Z M1138.4 959.9 L1152.3 946 L1159.3 966.9 L1148.9 970.4Z M1173.2 639.4 L1194.1 632.4 L1197.6 646.3 L1176.7 653.3Z M1222 688.2 L1236 695.1 L1232.5 709.1 L1222 705.6Z M1204.6 709.1 L1222 723 L1215.1 733.4 L1204.6 726.5Z M1312.6 646.3 L1330 639.4 L1337 667.2 L1319.6 674.2Z M1344 688.2 L1360 695.1 L1360 716 L1347.5 712.5Z M1194.1 660.3 L1211.6 663.8 L1211.6 670.7 L1195.9 669Z M1260.3 622 L1270.8 618.5 L1274.3 632.4 L1263.8 635.9Z M748.2 702.1 L769.1 709.1 L783 723 L769.1 726.5 L755.1 716Z M783 681.2 L796.9 677.7 L803.9 695.1 L790 698.6Z M709.8 813.6 L723.8 820.6 L716.8 834.5 L706.3 827.5Z M755.1 820.6 L769.1 813.6 L776 827.5 L762.1 834.5Z M769.1 862.4 L790 848.4 L803.9 855.4 L783 872.8Z M911.9 695.1 L922.4 709.1 L918.9 723 L908.4 709.1Z M1162.7 754.5 L1204.5 758 L1239.4 775.4 L1267.2 796.3 L1295.1 824.2 L1309.1 855.6 L1323 883.4 L1343.9 918.3 L1350.9 946.2 L1371.8 963.6 L1399.7 977.5 L1427.5 984.5 L1455.4 998.4 L1483.3 1012.4 L1507.7 1026.3 L1518.1 1043.7 L1500.7 1050.7 L1469.3 1036.8 L1441.5 1019.3 L1413.6 1005.4 L1385.7 998.4 L1357.8 984.5 L1333.4 960.1 L1326.5 928.7 L1305.6 893.9 L1291.6 866 L1274.2 834.7 L1253.3 813.8 L1232.4 792.9 L1201 778.9 L1162.7 775.4Z M1598.3 684.8 L1622.6 663.9 L1657.5 653.5 L1727.2 650 L1720.2 660.5 L1674.9 670.9 L1643.6 684.8 L1622.6 702.3 L1615.7 737.1 L1594.8 775.4 L1580.8 817.2 L1570.4 845.1 L1570.4 880 L1563.4 914.8 L1559.9 949.7 L1553 984.5 L1546 1019.3 L1542.5 1040.2 L1535.5 1068.1 L1525.1 1103 L1518.1 1137.8 L1514.6 1172.6 L1511.1 1215.2 L1497.2 1215.2 L1497.2 1172.6 L1497.2 1137.8 L1504.2 1103 L1514.6 1068.1 L1518.1 1033.3 L1518.1 998.4 L1514.6 956.6 L1518.1 914.8 L1525.1 876.5 L1535.5 845.1 L1549.5 806.8 L1570.4 765 L1587.8 719.7Z M1406.6 695.3 L1417.1 695.3 L1438 733.6 L1465.9 761.5 L1486.8 792.9 L1493.7 831.2 L1497.2 866 L1504.2 900.9 L1507.7 935.7 L1514.6 963.6 L1504.2 967.1 L1497.2 935.7 L1490.2 900.9 L1483.3 866 L1479.8 831.2 L1472.8 796.3 L1455.4 772 L1427.5 744.1Z M1152.3 810.3 L1187.1 813.8 L1180.1 859.1 L1141.8 862.5Z M1183.6 796.3 L1218.5 796.3 L1215 813.8 L1183.6 817.2Z M1145.3 886.9 L1162.7 883.4 L1166.2 904.4 L1148.8 907.8Z M1270.7 918.3 L1288.2 904.4 L1309.1 925.3 L1295.1 946.2 L1281.2 932.2 L1295.1 925.3Z M1232.4 873 L1256.8 869.5 L1249.8 893.9Z M1222 834.7 L1246.3 845.1 L1239.4 859.1 L1218.5 852.1Z M1152.3 984.5 L1190.6 977.5 L1194.1 991.5 L1218.5 988 L1222 963.6 L1253.3 949.7 L1288.2 988 L1253.3 998.4 L1246.3 1043.7 L1232.4 1103 L1197.6 1103 L1194.1 1082.1 L1155.7 1103 L1138.3 1099.5 L1134.8 1068.1 L1169.7 1033.3 L1148.8 998.4Z M1100 981 L1124.4 1001.9 L1113.9 1019.3 L1100 1012.4Z M1100 1033.3 L1134.8 1068.1 L1138.3 1099.5 L1155.7 1103 L1194.1 1082.1 L1197.6 1103 L1232.4 1103 L1183.6 1151.7 L1169.7 1186.6 L1107 1193.6 L1100 1172.6Z M1605.2 866 L1615.7 845.1 L1633.1 848.6 L1636.6 859.1 L1654 845.1 L1657.5 855.6 L1643.6 866Z M1566.9 890.4 L1615.7 886.9 L1643.6 883.4 L1671.4 866 L1674.9 873 L1647 890.4 L1619.2 893.9 L1570.4 897.4Z M1197.6 716.2 L1218.5 712.7 L1225.4 733.6 L1204.5 737.1Z M1323 663.9 L1340.4 660.5 L1343.9 684.8 L1326.5 688.3Z M1448.4 684.8 L1465.9 688.3 L1462.4 712.7 L1448.4 709.2Z M1204.5 900.9 L1222 893.9 L1228.9 914.8 L1211.5 921.8Z M1141.8 942.7 L1152.3 939.2 L1155.7 963.6 L1145.3 967.1Z M1553 991.5 L1594.8 998.4 L1622.6 1005.4 L1619.2 1012.4 L1587.8 1005.4 L1553 1001.9Z M1448.4 1296.3 L1462.4 1268.5 L1469.3 1278.9 L1462.4 1303.3 L1455.4 1331.2 L1451.9 1359.1 L1458.9 1376.5 L1448.4 1373 L1444.9 1338.2Z M1152.3 1282.4 L1180.1 1272 L1183.6 1313.8 L1159.2 1345.1 L1145.3 1345.1Z M1406.6 1421.8 L1427.5 1414.8 L1431 1435.7 L1413.6 1442.7Z M1465.9 1428.7 L1486.8 1425.3 L1490.2 1442.7 L1469.3 1446.2Z M1424 1477.5 L1431 1474 L1434.5 1494.9 L1427.5 1498.4Z M1406.6 1501.9 L1413.6 1498.4 L1417.1 1515.9 L1410.1 1519.3Z M1385.7 1533.3 L1399.7 1526.3 L1403.1 1533.3 L1389.2 1550.7Z M1357.8 1630.8 L1371.8 1637.8 L1368.3 1672.6 L1354.4 1669.2Z M1235.9 1655.2 L1253.3 1648.3 L1256.8 1658.7 L1239.4 1665.7Z M1762 1393.9 L1796.9 1390.4 L1800.3 1404.4 L1765.5 1407.8Z M1782.9 1425.3 L1800.3 1428.7 L1796.9 1446.2 L1779.4 1439.2Z M1134.8 1170.9 L1152.3 1170.9 L1154 1188.3 L1136.6 1190.1Z M1138.3 1209.2 L1159.2 1207.5 L1162.7 1230.1 L1141.8 1231.9Z M1166.2 1191.8 L1174.9 1190.1 L1174.9 1207.5 L1166.2 1209.2Z M1127.9 1251 L1143.6 1247.6 L1148.8 1296.3 L1134.8 1299.8Z M1100 1237.1 L1112.2 1235.4 L1113.9 1251 L1100 1254.5Z M1100 1282.4 L1107 1278.9 L1108.7 1299.8 L1100 1303.3Z M1131.4 1299.8 L1147 1298.1 L1148.8 1324.2 L1133.1 1326Z M1119.2 1202.3 L1136.6 1200.5 L1136.6 1207.5 L1120.9 1211Z M1166.2 1223.2 L1174.9 1221.4 L1174.9 1237.1 L1167.9 1238.9Z M1103.5 1181.4 L1112.2 1179.6 L1113.9 1188.3 L1105.2 1189Z M1472.8 1301.6 L1492 1301.6 L1492 1313.8 L1472.8 1313.8Z M1460.6 1317.2 L1478 1313.8 L1478 1331.2 L1462.4 1345.1Z M1503.5 1080 L1532.3 1080 L1521.8 1106.1 L1514 1132.3 L1511.4 1158.4 L1506.1 1184.5 L1495.7 1205.4 L1480 1226.3 L1480 1189.8 L1490.5 1168.9 L1498.3 1137.5 L1500.9 1106.1Z M1845.9 1147.9 L1864.1 1132.3 L1887.7 1129.7 L1908.6 1132.3 L1929.5 1124.4 L1945.2 1108.7 L1955.6 1111.4 L1960.8 1132.3 L1973.9 1142.7 L1989.6 1155.8 L1997.4 1179.3 L1992.2 1200.2 L1976.5 1210.7 L1960.8 1215.9 L1934.7 1218.5 L1908.6 1210.7 L1887.7 1202.8 L1872 1218.5 L1851.1 1221.1 L1830.2 1226.3 L1819.7 1236.8 L1814.5 1229 L1840.6 1210.7 L1851.1 1184.5Z M1704.7 1341.3 L1730.9 1330.9 L1757 1333.5 L1775.3 1328.3 L1777.9 1351.8 L1767.5 1367.5 L1751.8 1377.9 L1736.1 1380.5 L1720.4 1377.9 L1715.2 1357Z M1527 1357 L1566.2 1359.6 L1563.6 1367.5 L1529.7 1363.5Z M1576.7 1343.9 L1595 1343.9 L1605.4 1362.2 L1621.1 1380.5 L1615.9 1387.1 L1595 1375.3 L1584.5 1364.8Z M1542.7 1383.1 L1563.6 1379.2 L1574.1 1393.6 L1566.2 1422.3 L1553.2 1409.3Z M1678.6 1249.9 L1689.1 1239.4 L1691.7 1257.7 L1686.4 1270.8 L1678.6 1268.2Z M1480 1302.1 L1491.8 1300.8 L1491.8 1313.9 L1480 1315.2Z M1866.8 1095.7 L1878.5 1093.1 L1877.2 1108.7 L1866.8 1107.4Z M1668.2 1270.8 L1683.8 1273.4 L1689.1 1304.7 L1699.5 1315.2 L1694.3 1320.4 L1683.8 1310 L1678.6 1289.1Z M1589.8 1137.5 L1605.4 1132.3 L1610.7 1147.9 L1595 1153.2Z M1621.1 1158.4 L1636.8 1147.9 L1642 1179.3 L1629 1184.5Z M1903.3 1080 L1919 1080 L1939.9 1106.1 L1934.7 1108.7 L1913.8 1095.7Z M1062 1096.7 L1103.8 1109.8 L1166.6 1104.5 L1237.1 1088.9 L1237.1 1115 L1208.4 1125.4 L1187.5 1133.3 L1177 1146.3 L1156.1 1141.1 L1116.9 1149 L1116.9 1182.9 L1103.8 1190.8 L1093.4 1154.2 L1072.5 1154.2 L1067.2 1150.3 L1088.2 1135.9 L1082.9 1122.8 L1062 1115Z M1046.3 1000 L1124.7 1000 L1109.1 1015.7 L1098.6 1026.1 L1067.2 1028.7Z M1161.3 1000 L1244.9 1000 L1221.4 1044.4 L1203.1 1031.4 L1184.8 1020.9Z M1122.1 1039.2 L1143 1044.4 L1135.2 1067.9 L1119.5 1057.5Z M1054.2 1054.9 L1072.5 1047 L1093.4 1065.3 L1062 1078.4Z M1145.6 1052.3 L1171.8 1065.3 L1192.7 1078.4 L1182.2 1088.9 L1161.3 1078.4 L1145.6 1067.9Z M973.2 1130.7 L994.1 1135.9 L1009.8 1146.3 L1004.5 1167.2 L1015 1182.9 L999.3 1190.8 L988.9 1167.2 L975.8 1151.6Z M970.6 1099.3 L986.2 1094.1 L994.1 1115 L978.4 1122.8Z M1135.2 1169.9 L1153.5 1171.2 L1156.1 1188.2 L1132.6 1188.2Z M1137.8 1209.1 L1161.3 1206.4 L1162.6 1230 L1140.4 1232.6Z M1166.6 1190.8 L1174.4 1198.6 L1174.4 1216.9 L1165.2 1209.1Z M1166.6 1224.7 L1174.4 1222.1 L1173.1 1243 L1165.2 1240.4Z M1132.6 1149 L1137.8 1149 L1137.8 1159.4 L1132.6 1159.4Z M999.3 1240.4 L1015 1224.7 L1035.9 1203.8 L1049 1198.6 L1067.2 1209.1 L1069.9 1219.5 L1082.9 1240.4 L1109.1 1235.2 L1122.1 1224.7 L1130 1245.6 L1145.6 1248.3 L1153.5 1297.9 L1145.6 1316.2 L1132.6 1318.8 L1130 1300.5 L1106.4 1303.1 L1106.4 1287.5 L1127.4 1286.1 L1124.7 1245.6 L1093.4 1248.3 L1067.2 1266.6 L1046.3 1261.3 L1035.9 1271.8 L1020.2 1290.1 L1012.4 1277 L988.9 1269.2 L1009.8 1261.3Z M1015 1292.7 L1046.3 1274.4 L1067.2 1269.2 L1098.6 1277 L1106.4 1287.5 L1106.4 1303.1 L1067.2 1304.4 L1056.8 1339.7 L1046.3 1371.1 L1035.9 1360.6 L1041.1 1326.7 L1030.7 1308.4Z M1150.9 1284.8 L1166.6 1279.6 L1184.8 1308.4 L1169.2 1337.1 L1145.6 1350.2 L1143 1321.4 L1153.5 1318.8Z M1130 1300.5 L1145.6 1299.2 L1150.9 1318.8 L1132.6 1320.1Z M1472.3 1303.1 L1493.2 1301.8 L1491.9 1313.6 L1474.9 1314.9Z M1464.5 1316.2 L1478.8 1313.6 L1477.5 1347.6 L1461.8 1351.5Z M1004.5 1365.9 L1025.4 1360.6 L1041.1 1381.5 L1030.7 1402.4 L1009.8 1392Z M947 1329.3 L967.9 1326.7 L978.4 1342.3 L957.5 1350.2Z M1056.8 1373.7 L1082.9 1365.9 L1098.6 1381.5 L1082.9 1397.2 L1062 1392Z" fill="#1e7000"/>
<path d="M1678.4 219.7 L1708 212.7 L1727.2 240.6 L1741.1 268.5 L1723.7 278.9 L1706.3 251 L1688.9 254.5Z M1709.8 216.2 L1748.1 214.5 L1713.2 233.6Z M1657.5 233.6 L1671.4 230.1 L1685.4 265 L1664.5 272 L1643.6 289.4 L1636.6 254.5Z M1661 296.3 L1674.9 289.4 L1685.4 324.2 L1671.4 331.2Z M1688.9 289.4 L1706.3 282.4 L1723.7 313.8 L1702.8 320.7Z M1748.1 244.1 L1758.5 238.9 L1765.5 247.6 L1755.1 254.5Z M1744.6 265 L1793.4 268.5 L1762 289.4 L1741.1 296.3 L1727.2 282.4Z M1769 317.2 L1782.9 313.8 L1793.4 345.1 L1782.9 355.6Z M1741.1 366 L1762 359.1 L1776 362.5 L1755.1 414.8 L1741.1 411.3Z M1671.4 345.1 L1692.3 338.2 L1748.1 439.2 L1727.2 428.7Z M1688.9 446.2 L1699.3 442.7 L1706.3 456.6 L1692.3 460.1Z M1615.7 345.1 L1643.6 359.1 L1633.1 380 L1615.7 376.5Z M1062.4 1301 L1105.9 1301 L1105.9 1283.6 L1128.6 1269.7 L1135.5 1301 L1146 1346.3 L1072.8 1355.1 L1058.9 1349.8Z M1069.3 1200 L1205.2 1200 L1201.7 1217.4 L1184.3 1220.9 L1166.9 1269.7 L1153 1269.7 L1142.5 1245.3 L1135.5 1220.9 L1118.1 1220.9 L1111.1 1234.8 L1079.8 1234.8Z M1192.4 799 L1211.6 800.3 L1209.8 808.4 L1193.4 807.3Z M1194.1 1082.1 L1218.5 1078.6 L1222 1099.5 L1197.6 1103Z M1134.8 1096 L1152.3 1092.5 L1155.7 1106.4 L1138.3 1109.9Z M1107 1061.1 L1120.9 1057.7 L1124.4 1085.5 L1107 1089Z M1100 1137.8 L1141.8 1134.3 L1145.3 1151.7 L1100 1158.7Z M1188.9 801.6 L1211.5 800.5 L1210.8 808.5 L1188.9 810.3Z M1288.2 914.8 L1298.6 920 L1293.4 928.7 L1286.4 927Z" fill="#ffebbe"/>
<path d="M1861.5 1163.6 L1882.4 1155.8 L1892.9 1176.7 L1877.2 1195 L1858.9 1184.5Z M1934.7 1166.2 L1963.4 1155.8 L1976.5 1176.7 L1960.8 1197.6 L1934.7 1189.8Z" fill="#00bc78"/>
<path d="M1195.3 1081 L1218.8 1078.4 L1213.6 1101.9 L1191.4 1103.2Z M1067.2 1078.4 L1096 1075.8 L1096 1096.7 L1072.5 1099.3Z M1135.2 1083.6 L1161.3 1078.4 L1158.7 1104.5 L1135.2 1107.1Z M1182.2 1062.7 L1195.3 1054.9 L1200.5 1067.9 L1187.5 1075.8Z M1103.8 1086.2 L1122.1 1083.6 L1123.4 1104.5 L1106.4 1105.8Z" fill="#ffebbe"/>
<path d="M1864.5 516.7 L1871.4 515 L1872.8 522.6 L1865.9 524Z" fill="#ffbebe"/>
<path d="M1119.9 1200 L1137.3 1201.7 L1135.5 1210.5 L1121.6 1210.5Z M1135.5 1207 L1163.4 1208.7 L1159.9 1231.4 L1139 1231.4Z M1163.4 1220.9 L1175.6 1224.4 L1170.4 1238.3 L1165.2 1238.3Z M1097.2 1318.5 L1111.1 1316.7 L1112.9 1339.4 L1099 1342.9Z" fill="#1e7000"/>
<path d="M941.5 689.9 L946.8 689.9 L946.8 695.1 L941.5 695.1Z M972.9 679.4 L978.1 679.4 L978.1 684.7 L972.9 684.7Z M917.1 956.4 L924.1 956.4 L924.1 965.2 L917.1 965.2Z M590.7 900.7 L595.5 900.7 L595.5 905.2 L590.7 905.2Z M866.6 691.6 L871.8 691.6 L871.8 696.9 L866.6 696.9Z" fill="#2438ff"/>
<path d="M1598.3 789.4 L1615.7 772 L1643.6 765 L1650.5 778.9 L1636.6 789.4 L1650.5 799.8 L1633.1 813.8 L1629.6 827.7 L1615.7 820.7 L1587.8 817.2Z" fill="#ffbebe"/>
<path d="M1915.3 1850.8 L1917.2 1851.6 L1916.8 1852.9 L1915 1853.4 L1912.9 1853.4 L1911.7 1852.2 L1913.3 1851.3Z M1870.5 1753.2 L1875.8 1755.4 L1878.6 1758.2 L1875.2 1761.2 L1868.7 1760.8 L1861.7 1759.1 L1864.8 1755.4Z M1893.4 1868.3 L1893.3 1865.8 L1895.2 1865.7 L1896.8 1866.5 L1896.5 1868.9 L1895.7 1871.2 L1893.7 1870.8Z M1927.2 1909.9 L1929.5 1910.5 L1929.7 1914.1 L1929.2 1917.7 L1926.6 1918.1 L1925.3 1915.1 L1925.5 1911.8Z M1892.2 1836.3 L1890.2 1830.4 L1892.3 1823.3 L1896.4 1824.7 L1898.8 1829.9 L1898.2 1836.9 L1894.9 1841Z M1868.4 1878.3 L1870.2 1877.1 L1872.5 1878.1 L1872.2 1881.4 L1870.9 1883.9 L1868.8 1883.2 L1867.9 1880.8Z M1925.9 1893.3 L1924.9 1898.4 L1920 1900 L1915.2 1898.7 L1914.8 1894 L1917.5 1890.8 L1921.6 1890.9Z M1933.1 1854.6 L1930.9 1857.7 L1927.7 1856.8 L1926.3 1853.6 L1926.8 1849.9 L1930.1 1847.2 L1933.9 1849.8Z M1929.1 1851.7 L1928.1 1853.1 L1926.6 1853.9 L1924.5 1853.7 L1923.9 1851.8 L1925.2 1850.3 L1927.6 1850.4Z M1890.3 1877.9 L1886.4 1875.8 L1888.6 1872.6 L1891.5 1869.9 L1896.6 1870.9 L1896.1 1874.8 L1894.8 1878.1Z M1915.4 1936.7 L1912.4 1935.2 L1913 1932.3 L1914.5 1930.7 L1916.8 1930.8 L1918 1932.6 L1917.9 1935Z M1904.6 1821.5 L1902.8 1821.1 L1901.6 1818.6 L1902.8 1816 L1904.6 1816.2 L1906.5 1817.2 L1906.6 1820.5Z M1928 1920.5 L1928.6 1918.4 L1929.6 1917 L1930.6 1918.4 L1931.2 1920.4 L1930.2 1921.9 L1929.1 1921.7Z M1886.4 1820 L1881.8 1817.6 L1884 1813.7 L1887 1810.8 L1891.7 1812.1 L1894.2 1815.8 L1891.9 1820Z M1877.2 1898.4 L1878.7 1895.5 L1880.6 1897.1 L1881.5 1899.8 L1881.3 1903.5 L1879.2 1903.1 L1878 1901.6Z M1932 1845.9 L1930.2 1847.9 L1926.8 1848 L1924.4 1846.4 L1925.1 1844.2 L1927.8 1843.4 L1930.9 1843.7Z M1934.5 1907.9 L1932.2 1907.2 L1931.1 1904.8 L1933.2 1903.5 L1935.2 1902.9 L1936.8 1904.5 L1936.7 1906.9Z M1942.4 1914.2 L1945.8 1915.6 L1946.5 1918.2 L1943.6 1919.6 L1939.8 1920.2 L1938.3 1917.8 L1938.9 1915.5Z M1940.1 1957.5 L1938.2 1961.9 L1933.9 1962.2 L1929.9 1959.8 L1931.2 1955 L1934.2 1951.9 L1939.4 1951.8Z M1928.3 1848.3 L1928.1 1849.5 L1926.3 1850.3 L1924.2 1849.8 L1924 1848.4 L1924.7 1847 L1927.1 1847.3Z M1870.2 1831.7 L1872.1 1827.7 L1876 1826.2 L1880.2 1827.6 L1880.8 1831.7 L1878 1834.5 L1872.9 1836.1Z M1945.5 1901.1 L1946 1898.8 L1947.2 1898.9 L1948 1900.3 L1948.3 1902.3 L1947.2 1903.3 L1946.1 1903Z M1897.5 1943.8 L1894.5 1944.1 L1892.8 1943 L1892.5 1941.7 L1894.2 1940.6 L1896.9 1940.8 L1897.8 1942.2Z M1935.5 1926.1 L1935.6 1932.2 L1934.8 1938.8 L1931.1 1938.8 L1928.6 1933.6 L1930 1927.6 L1932.5 1925.4Z M1930 1880.3 L1931 1878.4 L1934.2 1877.6 L1937.3 1878.6 L1938.6 1880.6 L1936.1 1882.6 L1932.4 1881.6Z M1872.5 1761.2 L1873.8 1760.2 L1875.5 1759.9 L1877.7 1760.3 L1877.4 1761.8 L1875.7 1762.6 L1873.6 1762.5Z M1925.2 1860.5 L1926.2 1861.7 L1925.9 1863.6 L1924.5 1864.5 L1923.4 1863.3 L1922.8 1861.5 L1923.9 1860.1Z M1934.3 1948 L1930 1947 L1927.4 1944.8 L1929.6 1942.2 L1934.2 1942.3 L1938.4 1943.5 L1938.3 1946.3Z M1884.1 1879.2 L1887.8 1879.5 L1887.9 1882.1 L1885.9 1884.3 L1882.4 1883.5 L1879.2 1882 L1880.9 1879.6Z M1927.4 1913.5 L1926.6 1908.6 L1927.5 1903.6 L1930.9 1901.7 L1933 1906.4 L1932.5 1911.3 L1930.3 1913.7Z M1891 1872.6 L1892.4 1871.7 L1893.3 1873.5 L1893.3 1875.7 L1891.8 1876.5 L1890.7 1875.5 L1890.2 1874Z M1891.8 1884.3 L1895.7 1885.3 L1896.5 1888.1 L1894 1890.4 L1889.8 1890 L1886.8 1888.1 L1888 1885.2Z M1908.7 1919.9 L1913.3 1920.6 L1913.9 1922.6 L1912.8 1924.8 L1907.4 1925 L1903.6 1923.3 L1903.2 1920.7Z M1868.6 1795 L1871.1 1796.7 L1871.3 1800.1 L1867.5 1801.3 L1864.2 1800.1 L1863.3 1797.1 L1865.1 1794.3Z M1910.7 1894.4 L1914.9 1895.3 L1915.9 1899.9 L1913.1 1903.8 L1908.8 1902.3 L1905.2 1899.8 L1906.2 1895.1Z M1856.8 1816.9 L1853.1 1817.8 L1850.5 1816.1 L1850.8 1814.2 L1853.5 1813.1 L1857.3 1813.3 L1859.4 1815.2Z M1882.7 1891.3 L1881.1 1891.9 L1880.3 1889.5 L1881 1887.5 L1882.4 1885.7 L1883.9 1887.4 L1883.6 1889.9Z M1920.7 1877.3 L1921.7 1875.8 L1925.2 1875.5 L1927.5 1876.6 L1927.5 1878 L1925.2 1879.2 L1921.7 1878.8Z M1895.7 1856.8 L1896.7 1858.6 L1896.5 1860.9 L1895.7 1862.8 L1894.4 1862.1 L1894.1 1859.7 L1894.4 1857.5Z M1882.7 1820.2 L1882 1822 L1880.3 1822.1 L1879.8 1819.9 L1880.2 1818.2 L1881.4 1817.1 L1882.5 1818.5Z M1889.2 1911.9 L1890.9 1912 L1892.2 1913.2 L1891.1 1914.4 L1889.5 1914.9 L1887.7 1914.3 L1887.2 1912.6Z M1901.5 1894.5 L1900.6 1892.9 L1900.4 1891 L1902 1890.6 L1903.5 1890.8 L1904.4 1892.5 L1903.3 1894.2Z M1916.2 1789.8 L1910.1 1791.8 L1903.4 1790.6 L1902.1 1787.7 L1904.4 1785.2 L1910.9 1784.2 L1916.2 1786.4Z M1887.7 1924.3 L1886.5 1923.3 L1886.5 1920.8 L1887.8 1920 L1888.9 1920.3 L1889.3 1922.1 L1889 1924.2Z M1895.6 1796.7 L1896.4 1798.7 L1895.2 1800.5 L1893.1 1800.9 L1891.6 1799.5 L1891.9 1797.7 L1893.4 1796.4Z M1880.5 1819.1 L1880.5 1820.5 L1879.5 1821.6 L1877.5 1821.9 L1876.9 1820.1 L1877.3 1818.5 L1879.1 1818.3Z M1912.8 1845.4 L1914.3 1842.4 L1918 1841.8 L1920.4 1844.9 L1919.4 1848.3 L1916.4 1849.6 L1912.8 1849.1Z M1923.7 1915.3 L1924.2 1917.7 L1919.4 1918.1 L1915.6 1917.3 L1913.4 1915.1 L1917.5 1913.8 L1921.4 1913.6Z M1914.4 1805.6 L1916.3 1806.8 L1916.2 1808.6 L1914.1 1809.7 L1911.6 1809.1 L1910.5 1807.5 L1912.1 1806.1Z M1918.2 1855 L1923.3 1855.2 L1926.3 1858.2 L1926.6 1862.3 L1922.5 1864.2 L1918.7 1862.8 L1917 1859.5Z M1894.1 1912 L1895.3 1911.7 L1896.4 1912.7 L1896.6 1914.9 L1895.5 1916.2 L1894.2 1915.8 L1893.4 1914Z M1861 1822.1 L1864.3 1823.7 L1862.2 1825.6 L1858 1826.8 L1853.2 1825.7 L1854.1 1823.4 L1856.7 1821.9Z M1914.6 1923 L1915.4 1924.6 L1915.6 1927 L1914.6 1928.4 L1913.5 1927.7 L1912.5 1925.9 L1913.4 1923.8Z M1910.6 1865.8 L1914.2 1868.2 L1911 1870.9 L1906.9 1873.2 L1903.5 1870.3 L1903.3 1867.2 L1906.5 1865.3Z M1888.6 1916.7 L1893 1917.8 L1894.2 1920.6 L1891.5 1923.1 L1885.9 1923.9 L1881.6 1921.1 L1884.9 1918.2Z M1898.2 1902.6 L1892.9 1902.2 L1889.9 1899.3 L1892.7 1896.7 L1896.1 1894.7 L1899.9 1896.5 L1901.6 1899.7Z M1877.3 1775.1 L1879.9 1773.7 L1881.6 1776.9 L1881.9 1780.8 L1880.2 1783.1 L1877.9 1783.1 L1877 1779.5Z M1892.9 1912.2 L1891.6 1911.4 L1890.8 1910 L1893.3 1909.6 L1895.4 1909.8 L1896 1911 L1894.9 1912.1Z M1882.9 1864.4 L1883.5 1862.8 L1884.6 1862.7 L1885.4 1864.3 L1885.1 1866.4 L1884.1 1868 L1882.8 1866.7Z M1895.2 1918.7 L1892.8 1916.4 L1893.2 1913.6 L1896.9 1912.4 L1901.1 1913.2 L1900.9 1916.1 L1899.3 1918.5Z M1927.1 1844 L1924.8 1842.4 L1924.3 1839.5 L1926.1 1837.8 L1928.1 1837.6 L1930.2 1839.3 L1928.8 1841.9Z M1899.6 1898.7 L1902.9 1897.8 L1906.3 1897.8 L1908.1 1899.2 L1907.3 1900.9 L1903.6 1901.5 L1900.9 1900.3Z M1920.3 1843.5 L1918.9 1842.7 L1918.7 1840.8 L1920.3 1839.6 L1922.1 1840.3 L1923.1 1842 L1921.9 1843.5Z M1908.2 1943.5 L1907.5 1942.1 L1908.4 1940.9 L1909.9 1940.1 L1911.5 1941.2 L1910.9 1942.9 L1909.7 1943.8Z M1882.4 1918.5 L1883.8 1919.6 L1883.9 1922 L1882.6 1923 L1881 1923.6 L1880.1 1921.3 L1880.9 1919.3Z M1861.5 1835.6 L1862 1831.2 L1864.2 1828.1 L1866.9 1830.4 L1867.3 1835.8 L1865.6 1839.7 L1862.5 1841.1Z M1881.6 1893.9 L1882.1 1892.2 L1883.5 1892.2 L1884.6 1893.3 L1884.6 1895.4 L1883.3 1896.6 L1881.7 1896.1Z M1892.5 1768.8 L1892.6 1765.8 L1895.8 1764.2 L1899.8 1764.2 L1902.5 1766.2 L1901 1768.5 L1897.3 1769.1Z M1889.5 1887 L1894 1888.9 L1895.4 1891.6 L1890.9 1893 L1885.5 1893.7 L1882.3 1891.2 L1884.9 1888.7Z M1890.9 1809.1 L1891.2 1805.8 L1895.7 1804.3 L1900.2 1804.9 L1903.9 1807.3 L1901.3 1810.3 L1896 1810Z M923.9 1308 L920 1306.3 L923.2 1304.2 L927.4 1303.2 L932.2 1304.4 L932.1 1307.1 L928.5 1309.1Z M1046.8 1381.2 L1043.7 1381.3 L1042 1379.8 L1042.7 1378.2 L1045.8 1377.8 L1048.5 1378.5 L1048.8 1380.1Z M945 1402.3 L950 1401.5 L952.5 1407 L952.1 1412.5 L949.4 1417.4 L945.8 1414.2 L942.3 1409.1Z M979.7 1366.8 L982.7 1366.6 L985.3 1367.6 L984.5 1369.1 L982 1370.1 L978.8 1369.5 L977.9 1368Z M1011.9 1369.9 L1011.3 1371.4 L1009.6 1372.3 L1008 1371 L1008.3 1369.1 L1009.6 1368.1 L1011 1368.6Z M987.5 1343.6 L986.4 1341.9 L987 1339.4 L988.9 1339 L990 1340.8 L990.4 1343.2 L988.8 1344Z M957.2 1418 L958.6 1414.3 L965 1412.4 L973 1413.5 L974.3 1417.9 L969 1420.8 L961.5 1421.3Z M1007.8 1338.2 L1009.3 1341.8 L1009.5 1345.1 L1005 1346.9 L1000.9 1345 L1000.2 1341.9 L1002.2 1338.6Z M970.8 1328.9 L970.6 1330.4 L969.3 1331.1 L967.5 1330.7 L967.7 1328.9 L968.6 1327.7 L970 1327.8Z M975 1317.7 L977.3 1318.8 L978.6 1319.9 L977.5 1321.3 L974.4 1320.9 L972.5 1320.1 L972.5 1318.8Z M957.1 1405.7 L957.7 1402.1 L960.4 1400.9 L963.7 1401.5 L963.6 1405.6 L962.4 1409.8 L958.6 1409.4Z M907.7 1366 L906.5 1368.7 L903.4 1367.5 L900.8 1365.9 L901.2 1362.7 L905 1361.5 L907.6 1363.6Z M988 1308 L989.5 1309.1 L988.4 1310.6 L985.7 1310.5 L983 1309.8 L983 1308 L985.8 1307.2Z M957.8 1422.7 L955.3 1423.5 L954.1 1420.7 L954.6 1417.7 L957.1 1416.3 L959.8 1417.8 L959.3 1421Z M960.7 1426.3 L959.7 1423.6 L962.3 1421.5 L966.5 1420.9 L969.2 1423.3 L969 1426.4 L964.7 1428.8Z M915.6 1371.4 L920.9 1370.7 L926.8 1370.6 L927.8 1375.4 L924.6 1379.4 L918.5 1379.8 L916.4 1375.7Z M910.3 1314.3 L910.5 1316.2 L907.3 1317.4 L903.8 1316.5 L901.2 1314.9 L903.5 1313 L907.8 1312.8Z M1047.7 1416 L1046.3 1413.4 L1045.7 1409.6 L1049 1408.9 L1051.2 1410.6 L1052.2 1413.5 L1050.3 1415.7Z M969.2 1339.5 L969.3 1337.6 L971.3 1337.4 L972.9 1338.1 L973.5 1339.9 L972.1 1341.4 L970.1 1340.8Z M983 1323 L981.8 1322.4 L980.6 1320.8 L981.8 1319.1 L983.5 1319.6 L984.7 1320.6 L984.7 1322.6Z M978.6 1299.1 L977.9 1297.7 L979.4 1296.4 L982.2 1296.7 L984.8 1297.4 L984.5 1299 L981.5 1299.8Z M958.1 1333.1 L957 1334.6 L955.8 1333.5 L955.2 1331.8 L955.8 1329.9 L957.2 1329.5 L957.9 1331.3Z M1052.5 1381.1 L1050.3 1380 L1049.6 1378.6 L1050.8 1377.2 L1053.2 1377.4 L1054.9 1378.4 L1055.1 1380.1Z M991.8 1415.1 L993.1 1416.3 L991.9 1417.6 L989.2 1417.8 L987.3 1416.8 L987.9 1415.4 L989.7 1414.5Z M958.2 1412 L957.7 1413.7 L955.4 1414 L953 1413.5 L953.5 1411.7 L954.6 1410.1 L957 1410.5Z M1012.9 1400.7 L1011 1401 L1009.9 1399.9 L1009.3 1398.3 L1010.6 1396.7 L1012.3 1397.6 L1013.9 1398.9Z M980.6 1313.4 L980.2 1312.2 L980.7 1310.8 L982.5 1310.7 L983.8 1311.6 L983.7 1313.2 L982.2 1314.3Z M994.5 1321.1 L995 1322.9 L994.8 1325.4 L993.4 1325.7 L992.1 1324.3 L992.3 1321.6 L993.4 1320.4Z M969.2 1400.4 L970.5 1401.3 L970.5 1403.1 L968.8 1403.7 L966.8 1403.7 L966 1401.7 L967.4 1400.2Z M1052.6 1397.5 L1048.1 1397.3 L1045.4 1396 L1046.4 1394.4 L1048.9 1393 L1053.3 1393.5 L1054 1395.5Z M946.8 1388.1 L943.1 1387 L939.4 1384.9 L941.1 1380.4 L944.1 1377.1 L947.7 1379.8 L948.2 1384Z M898.6 1303.1 L900.6 1304 L901.5 1305.3 L899.7 1306.5 L897.1 1306.2 L896.1 1305.1 L896.3 1303.8Z M935.9 1317.4 L933.9 1318.8 L930.4 1318.2 L930.2 1316.7 L930.4 1315 L934 1314.7 L936.4 1315.9Z M1047.4 1364.1 L1045.5 1364.4 L1044.7 1362.8 L1044.6 1361.2 L1045.8 1360.5 L1047.2 1360.8 L1047.8 1362.2Z M966.2 1313.3 L961.9 1312.4 L959.8 1310.1 L963.4 1308.4 L967.8 1308.4 L970.2 1310 L969.9 1312.1Z M934.7 1400.3 L936.4 1400.4 L937.3 1402.3 L936.9 1404.8 L934.8 1404.6 L933.5 1403.5 L933.4 1401.5Z M906.7 1365.8 L903.6 1366 L900.5 1365.6 L899.9 1362.5 L902 1359.9 L905.3 1360.4 L907.1 1362.7Z M983.8 1311 L981.8 1310.3 L981.3 1308.1 L982.2 1305.6 L984.6 1305.9 L986.5 1307.5 L986.1 1310.3Z M932.9 1304.5 L936.8 1304.4 L938.2 1306.5 L938.1 1308.6 L935 1310.2 L931.7 1308.7 L931.4 1306.6Z M968.9 1419.2 L966.9 1419.6 L965.4 1418.8 L964.6 1417.4 L966.3 1416.5 L967.9 1416.4 L969.2 1417.5Z M1039.9 1424.1 L1038.4 1423.3 L1037.7 1421.3 L1039.2 1419.4 L1041.2 1420.3 L1042 1421.9 L1042 1424Z M1059.9 1409.4 L1062.7 1410.3 L1064.3 1412.1 L1061.9 1413.6 L1058.9 1413.3 L1056.8 1412.1 L1057.8 1410.7Z M956 1415 L957.3 1413.5 L960.5 1413.2 L962.8 1414.6 L962.6 1416.6 L959.4 1417.9 L955.8 1417Z M992.2 1394.1 L990.7 1396.2 L987.8 1396.9 L984.6 1395.9 L984.9 1393.4 L986.9 1391.3 L990.6 1391.8Z M1056.5 1401.7 L1055.5 1397.6 L1056.7 1393.7 L1058.9 1392.8 L1059.9 1396.5 L1060.5 1400.4 L1058.5 1402.1Z M959.8 1423.9 L960.2 1421.3 L961.5 1420.2 L963 1421.1 L963 1424 L962.1 1425.9 L960.8 1425.8Z M1016.2 1438.7 L1018.7 1435.4 L1021.3 1435 L1023.8 1437.3 L1024 1442.7 L1020.8 1444.4 L1017.4 1444Z M1023.6 1415.6 L1026.9 1420.7 L1026.3 1427.9 L1021.4 1429.5 L1016.7 1427.9 L1016.2 1421.4 L1019 1416.8Z M970.2 1415.9 L969.1 1413.2 L970.2 1410.5 L972.4 1409.8 L974.1 1411.6 L974.3 1414.5 L972.6 1417Z M999.5 1379.2 L1003.6 1378.3 L1007 1382.8 L1005.9 1389.6 L1002.2 1391.4 L998.4 1390.4 L996.7 1384.2Z M1031.7 1357.5 L1030 1358.4 L1028.2 1358.8 L1026.8 1357.5 L1027.3 1355.8 L1029.2 1355.3 L1030.7 1356Z M890.1 1337.1 L890.5 1333.4 L896.4 1331.3 L903.9 1331.7 L908.8 1334.7 L904.1 1337.6 L897.6 1338.2Z M1046.9 1388 L1046.4 1385.1 L1047.8 1383.1 L1049.6 1382.9 L1050.7 1385.4 L1049.9 1388 L1048.5 1389.5Z M1059.6 1397.7 L1062 1397.5 L1063.9 1398.6 L1063.7 1400.4 L1061.3 1400.8 L1059.3 1400.5 L1059.1 1399.1Z M969.1 1385.6 L966.7 1386 L964.7 1384.5 L965.7 1382.4 L967.8 1381.4 L970.3 1382 L970.9 1384.2Z M1034.8 1431.1 L1029.1 1433 L1025.5 1428.6 L1025.1 1423 L1031.3 1421 L1037.7 1422.2 L1037.3 1427.5Z M1003.3 1356.4 L999.9 1358.1 L996.8 1356.1 L996 1350.7 L997.5 1344.6 L1001.5 1345.4 L1004.3 1350Z M1037.5 1424.5 L1035.1 1422.8 L1035.7 1420.5 L1037.7 1418.7 L1040.6 1419.5 L1040.8 1421.7 L1040.4 1423.7Z M957.5 1387.6 L958.3 1384.2 L960.5 1384.9 L961.8 1387.3 L961.5 1390.7 L959.7 1391.8 L957.9 1390.8Z M984.3 1428.1 L978.5 1428.5 L975.7 1424.5 L976.6 1420.2 L981.4 1418.2 L986.3 1420.1 L988.2 1424.5Z M963.8 1330.2 L964 1331.4 L962.2 1332.1 L959.6 1332.4 L958.2 1331.2 L959.7 1330.1 L961.7 1329.5Z M960.8 1345.3 L958.6 1346.3 L956.4 1345.2 L955.5 1343.4 L957.6 1341.9 L960.6 1342 L961.3 1343.8Z M1032.8 1408.6 L1032.1 1411.3 L1030.5 1410.8 L1029.4 1409.7 L1029.3 1407.3 L1030.5 1406.3 L1032 1406.1Z M1043.5 1418.4 L1044.6 1419.7 L1042.7 1420.9 L1039.9 1420.7 L1038.5 1419.3 L1039.4 1417.9 L1041.9 1417.6Z M982.1 1309.6 L982.6 1310.6 L981.9 1311.7 L979.4 1311.5 L977.2 1310.8 L978.1 1309.6 L980.2 1308.8Z M928 1357.3 L927.1 1355 L927.5 1352.7 L929.2 1351.7 L931.6 1352.1 L931.5 1355.2 L930.5 1358.1Z M966.7 1363.2 L968.6 1360 L971.3 1358.8 L973.2 1361.2 L973.8 1364.4 L971.9 1367.7 L969 1365.9Z M929 1349.2 L928.7 1351.9 L927 1352.5 L925.8 1350.5 L925.9 1347.5 L927.2 1345.4 L928.5 1347Z M1007.3 1359.6 L1007.4 1354.5 L1014.7 1352 L1021.2 1354.2 L1024.7 1358.1 L1021.1 1362.3 L1012.9 1363.3Z M939.2 1406.3 L936.1 1407 L934.3 1403.3 L934.2 1398.6 L936.9 1397.1 L939.7 1397.6 L940.8 1402.1Z M1035.5 1399.2 L1036.5 1397.5 L1038 1397.8 L1038.3 1399.9 L1038.2 1401.8 L1036.9 1402.1 L1035.7 1401.3Z M978 1367.3 L975.3 1365 L974.7 1361.4 L978.7 1360.1 L983.2 1360.1 L984 1364 L981.6 1366.6Z M944.7 1387.8 L946.7 1388.5 L948.1 1389.6 L947.4 1391.3 L945.2 1391.5 L944 1390.5 L943.6 1389.2Z M999.6 1370.6 L997.1 1368.5 L1000 1366.4 L1005.2 1365.7 L1008.5 1367.8 L1008.5 1370.2 L1004.2 1371.7Z M944 1303.5 L946.6 1306.6 L946.4 1312.3 L944.5 1316.2 L941.7 1316 L939.9 1310.9 L941.7 1306.5Z M1000.3 1371.8 L1000.4 1368.1 L1002.3 1367.6 L1003.5 1368.8 L1004.4 1371.5 L1003.4 1374.6 L1001.6 1374.2Z M910 1391.1 L905.2 1390.5 L904.9 1387.9 L906.8 1385.9 L911.3 1385.3 L914.8 1387.2 L914.6 1390Z M1053.5 1400.5 L1054.5 1399.2 L1056.2 1398.8 L1058.1 1399.1 L1058.2 1400.4 L1057.2 1401.5 L1055.2 1401.3Z M993.5 1427.9 L989.3 1428.3 L985.8 1426.5 L986 1423.2 L989.6 1421.8 L992.7 1422.8 L995.1 1424.9Z M976.7 1411.6 L978.9 1412.3 L979.8 1415.5 L978.7 1418.4 L976.6 1418.9 L975.4 1416.5 L975.3 1413.9Z M939.8 1335.4 L937.8 1332.8 L941.1 1331.2 L944.2 1330 L947 1331.7 L946.7 1334.2 L943.9 1336Z M1001 1313.8 L999.3 1312 L1001.3 1310.3 L1004.5 1309.7 L1007.2 1310.9 L1007.1 1312.8 L1004.4 1313.5Z M998 1307.3 L996.4 1307.9 L995.4 1306.3 L994.9 1304 L996.1 1301.6 L997.9 1302.7 L998.6 1305Z M961.3 1331.4 L959.1 1330.7 L957.4 1329.2 L958.5 1327.3 L960.5 1326.5 L962.3 1327.7 L962.5 1329.6Z M1045.5 1381.8 L1044.4 1380.4 L1044.7 1378.8 L1046.1 1377.9 L1048.1 1378 L1048.6 1380.1 L1047.5 1381.8Z M982.9 1400.1 L985.2 1398.8 L987.8 1398.8 L989.7 1400 L988.9 1401.8 L986.8 1402.8 L984.5 1401.9Z M912.5 1387.8 L914.4 1388.5 L915.6 1390.1 L914.4 1391.6 L912.6 1392 L910.7 1391.1 L910.9 1389.2Z M965.9 1418.1 L968.8 1418.9 L970.5 1421.8 L970.9 1426.2 L968.8 1428.8 L966.5 1427.9 L965.1 1423.7Z M978.5 1390.2 L984.4 1390.9 L989.4 1393.2 L987.8 1397.1 L980.4 1397.1 L974.3 1396 L974.2 1392.6Z M976.7 1340.1 L978.4 1340.5 L978.4 1344 L977.4 1345.8 L976 1346.8 L974.9 1344.3 L975.1 1340.8Z M938.5 1339.6 L936.8 1337.2 L938 1334.4 L940.9 1333.1 L944.3 1334.7 L943.6 1338.3 L941.4 1340.5Z M905.7 1349.2 L909 1347.8 L912.8 1348.8 L914 1351.5 L910.7 1352.9 L907.2 1354.1 L905.2 1351.7Z M1067 1407.8 L1065.3 1409.2 L1063.8 1409.2 L1062.3 1407.3 L1062.9 1404.1 L1064.8 1402.7 L1066.1 1405Z M1057.3 1403.8 L1058.3 1402.5 L1060.2 1402.6 L1060.2 1404.5 L1060.1 1406.3 L1058.3 1406.9 L1057.4 1405.3Z M951.2 1292.3 L948.9 1292.8 L947.5 1291.3 L948.5 1289.9 L950 1289.3 L951.7 1289.7 L952.8 1291.1Z M1031.1 1413 L1037.1 1414.6 L1039.2 1419.1 L1036 1423.3 L1030 1423.1 L1027.2 1419.9 L1026.3 1415.9Z M1019.5 1434.1 L1022.3 1436.8 L1017.6 1438.8 L1012 1438.6 L1008.6 1436.5 L1009.8 1433.9 L1014.8 1432.8Z M1015.7 1325.6 L1019.5 1325.5 L1021.9 1326.6 L1022.2 1328.2 L1019.3 1329.5 L1016.3 1328.4 L1014.6 1327.2Z M948.9 1408.7 L946.4 1410.5 L942.4 1410.9 L939.5 1409.6 L939.1 1407.6 L942.6 1406.5 L947.4 1406.3Z M915.3 1356.4 L915.6 1352.9 L918.1 1350.6 L921.2 1351.8 L921.9 1355.2 L920.8 1358.7 L917.4 1359.5Z M949.8 1287.1 L947.7 1288.3 L944.8 1288.7 L942.4 1288 L941.7 1286.5 L943.9 1285.1 L947.3 1285.9Z M1032.8 1374.1 L1032.9 1371.1 L1034.4 1370.4 L1036 1370.7 L1036 1373.6 L1035.3 1375.6 L1033.8 1376.2Z M929.6 1293.1 L930.3 1290.7 L932 1289.8 L933.5 1291.4 L934.1 1294.4 L932.5 1297 L930.2 1296Z M930.2 1376.6 L925 1373.6 L928.3 1369.1 L936.1 1368.8 L942.9 1371.2 L941.8 1376 L936.1 1379.1Z M976.6 1346.6 L977.9 1345.4 L980.1 1346 L981.9 1347 L981 1348.5 L978.2 1349.1 L976.1 1348Z M1004.3 1390.7 L1008.8 1391.6 L1012.3 1393.6 L1009.4 1396.1 L1006 1396.7 L1003.1 1395.5 L1001.5 1393.1Z M1049.2 1367.6 L1044.4 1367.6 L1040.4 1366.2 L1042.4 1364.2 L1045.7 1362.6 L1051.2 1363.3 L1051.1 1365.7Z M936.3 1329.1 L938.6 1328.4 L941.1 1329.1 L941.4 1330.6 L939.3 1331.5 L936.6 1331.7 L935.9 1330.3Z M952.3 1304.8 L949.6 1306.3 L946.5 1305 L946.2 1302.7 L948.3 1301.2 L951.7 1300.5 L953 1302.8Z M1048.7 1397.8 L1051.2 1400.1 L1048.9 1402.3 L1044.7 1403.5 L1041.3 1401.8 L1040.5 1399.4 L1044.2 1398.4Z M924.5 1393.8 L922 1394.5 L919.5 1393.9 L919.4 1392.6 L920.5 1391.5 L922.9 1391.5 L924 1392.5Z M919.5 1382.6 L921.6 1381.7 L925.3 1381.5 L925.5 1383.3 L924.5 1384.7 L921.3 1385.1 L919.1 1384Z M961.7 1316.9 L956.4 1316 L955.6 1312.8 L956.4 1309.3 L962.2 1310.2 L967.7 1311.4 L965 1314.6Z M959.9 1359.1 L956.4 1358 L954.7 1356 L958.4 1354.4 L963.3 1354.7 L966.9 1356.5 L964.9 1358.8Z M980.9 1425.6 L980.4 1423.4 L980.4 1421.4 L982.8 1420.6 L985.4 1421.6 L985.4 1424 L983.4 1425.2Z M1006.6 1399.9 L1008.3 1400.8 L1008.4 1402.4 L1006.6 1403 L1004.9 1402.8 L1004.3 1401.7 L1004.7 1400.5Z M934.1 1381.9 L932.1 1382.2 L930.9 1381.1 L929.9 1379.7 L931.7 1378.7 L933.8 1378.7 L934.8 1380.3Z M1054.1 1412.4 L1056.3 1415.9 L1052.4 1418.2 L1048.1 1419.2 L1043.4 1417.4 L1044.3 1413.8 L1048.6 1411.9Z M968.5 1300.3 L967.6 1302.7 L965.7 1303.5 L964.2 1301.5 L964.1 1298.4 L965.9 1296.9 L968 1297.4Z M901.1 1354.2 L906.9 1357.2 L909.7 1360.6 L906.1 1364.5 L898.3 1363.5 L893.2 1360.9 L895.6 1357.4Z M1012.5 1407.5 L1018.5 1405.3 L1025.2 1405.7 L1027.7 1408.8 L1026.3 1412.1 L1019.7 1414 L1015.6 1410.9Z M980.2 1332.2 L981.5 1331 L982.7 1332.4 L982.8 1334.3 L981.8 1335.5 L980.7 1335.3 L979.5 1334.1Z M973.1 1333.8 L976.1 1330.5 L979.4 1330.4 L982.8 1333.1 L981.2 1337.8 L978.2 1340 L974.5 1338.8Z M1007.4 1327.4 L1006.1 1328.5 L1004.8 1328.3 L1004.3 1326.4 L1004.9 1324.9 L1006.1 1323.4 L1007.2 1325.1Z M1013.7 1384.8 L1015.8 1385.5 L1015.2 1386.9 L1012.6 1387.1 L1010.1 1386.9 L1010.6 1385.6 L1011.4 1384.5Z M974.2 1291 L972.3 1292.5 L969.4 1292.8 L968.3 1290.5 L969.3 1288.5 L971.7 1287.6 L974.2 1288.7Z M1009.1 1374.4 L1011.6 1375.7 L1012.8 1377.8 L1012.6 1380.9 L1010 1382.2 L1007.9 1380.1 L1006.7 1376.8Z M990.9 1381.5 L988.9 1383.2 L986.1 1382.8 L985.4 1380.6 L986.1 1378.5 L988.4 1378.4 L990.4 1379.2Z M969.4 1412 L967.5 1412.7 L965.5 1413 L964.9 1411.6 L964.8 1410.1 L967 1409.7 L968.5 1410.7Z M964.9 1419.4 L963.1 1424.9 L956.2 1424.8 L953.4 1419.6 L953.6 1413.9 L959.6 1412.9 L965.6 1413.9Z M1384.9 1631.5 L1384.7 1629.4 L1386.6 1627.7 L1389.4 1628.4 L1391 1630.3 L1389.3 1632.1 L1386.9 1632.7Z M1371.4 1677.8 L1373.9 1677.8 L1374.5 1680.4 L1373.2 1682.7 L1370.6 1682.9 L1368.4 1681.2 L1369.4 1678.6Z M1374.7 1670.1 L1376.9 1669.3 L1379 1671.1 L1378.5 1674.1 L1376.3 1675.5 L1373.7 1674.8 L1373.4 1672Z M1326.3 1670 L1323.8 1669.4 L1322.2 1666.3 L1322.7 1661.6 L1325.7 1659.3 L1328 1662.9 L1328.4 1667.4Z M1331.9 1661.8 L1333.3 1658.1 L1337 1658.6 L1339.2 1662.2 L1337.3 1665.7 L1334.6 1667.6 L1331.1 1666Z M1372.2 1672.7 L1370.3 1668.2 L1372.8 1664.2 L1377 1661.6 L1380.5 1666.5 L1378.5 1672.1 L1375.4 1674.4Z M1356.8 1640.1 L1358.9 1642 L1358 1644.9 L1356 1646.1 L1353.5 1645.7 L1352.8 1642.4 L1354.3 1639.7Z M1371.5 1676.4 L1373.7 1678.3 L1372.9 1680.7 L1369.4 1682.2 L1365.9 1680.6 L1365.3 1677.9 L1367.7 1675.6Z M1316.6 1710.4 L1318.1 1709 L1320.6 1709.8 L1322.4 1710.8 L1321.4 1712.2 L1318.8 1712.4 L1316.4 1711.8Z M1355.1 1684.3 L1352.7 1686.8 L1349.7 1688.6 L1347.7 1685.6 L1347.1 1682.3 L1350.1 1681 L1353.2 1681.4Z M1366.6 1687.9 L1369.1 1686.1 L1372.9 1685.3 L1374 1688.2 L1374.5 1691.1 L1370.6 1692.5 L1367.4 1690.7Z M1376.7 1720.2 L1374.9 1718.4 L1374.1 1715.2 L1376.9 1714 L1379.3 1714.7 L1380.4 1717.2 L1379.5 1720.3Z M1351.1 1701.9 L1350.1 1700.7 L1349.6 1698.3 L1350.9 1696.9 L1352.2 1697.7 L1353 1699.4 L1352.3 1701.3Z M1358.7 1686.2 L1352.5 1685.6 L1352.4 1682.1 L1357.1 1680.6 L1362.7 1679.7 L1364.8 1682.6 L1363.6 1685.3Z M1322.4 1739.2 L1323.9 1740.1 L1324.1 1741.5 L1323.7 1743.3 L1321.7 1743.2 L1320.9 1741.7 L1320.5 1739.9Z M1387.8 1643.3 L1389.2 1642.6 L1390.6 1643.4 L1390.8 1645.6 L1389.9 1647.4 L1388.4 1647.4 L1387.6 1645.5Z M1363.3 1666.9 L1361.5 1667.6 L1359.4 1667.1 L1358.4 1666 L1359.8 1664.9 L1362.4 1664.6 L1363.8 1665.7Z M1345.3 1711.6 L1345.5 1716 L1342.4 1718.9 L1339.4 1716.6 L1337.7 1714 L1338.5 1710.2 L1342.2 1709.1Z M1373.4 1731.8 L1371.2 1731.7 L1369.9 1729.7 L1370.6 1727.1 L1373.5 1726.7 L1375.4 1728.4 L1375.3 1730.7Z M1338.9 1718.5 L1335.5 1718.9 L1333.7 1717.2 L1334.2 1715.5 L1337.1 1714.9 L1340 1715.4 L1341.4 1717.2Z M1398.3 1716 L1396.2 1717 L1393.6 1716.5 L1392.5 1715.4 L1393 1714 L1396 1713.1 L1398.7 1714.3Z M1372.5 1717.7 L1370.5 1718.2 L1369 1716.9 L1369.4 1715.3 L1371.4 1714.9 L1373 1715.4 L1374 1716.7Z M1320.2 1711.2 L1322.7 1710.7 L1324.5 1711.6 L1325 1712.9 L1323.7 1714.4 L1321.1 1713.8 L1319.8 1712.7Z M1351.4 1700.6 L1346.1 1699.6 L1347.1 1696.9 L1351.5 1695 L1356.3 1696.6 L1359.6 1698.6 L1357.1 1701.3Z M1372.5 1633.2 L1370.4 1638.1 L1367.8 1640 L1364.1 1639.1 L1363.5 1632.8 L1365.8 1627.3 L1369.9 1628.4Z M1358.7 1658 L1356.5 1659.8 L1353.6 1660.9 L1350.7 1659.5 L1351.5 1657.3 L1353.2 1655.3 L1356.2 1656.4Z M1376 1639 L1372.4 1642.4 L1365.7 1643.3 L1359.7 1641.1 L1360.2 1637.1 L1366.1 1635.6 L1372.9 1635.3Z M1343.4 1702.1 L1342.9 1704.6 L1341.6 1706.3 L1339 1706.5 L1337.5 1704.4 L1338.1 1701.8 L1340.8 1701.6Z M1364.4 1678.6 L1366.4 1680.3 L1366.4 1682.7 L1363.5 1683.9 L1360.5 1683 L1360.4 1680.7 L1361.6 1678.8Z M1385.2 1720.2 L1385.3 1726 L1382.6 1729.3 L1379 1729.4 L1376.1 1724.4 L1378.1 1718.2 L1381.9 1718.2Z M1327.3 1674 L1328.4 1669.3 L1331.2 1667.8 L1334.6 1668.4 L1336.2 1673.9 L1333.5 1678.4 L1329.5 1678.5Z M1323.2 1698.2 L1326.6 1698.5 L1326.1 1701.5 L1324.6 1704 L1321.3 1703.5 L1319.1 1701.3 L1320.6 1698.7Z M1318.6 1678.3 L1320.2 1680.1 L1320.5 1682.4 L1318.2 1683.3 L1315.7 1683.4 L1314.5 1680.9 L1316.5 1679.4Z M1370.9 1629.8 L1375 1631.7 L1374.8 1634.9 L1371.9 1637.4 L1368 1636 L1365.9 1634 L1366.8 1631.3Z M1368.7 1708.3 L1368.2 1711.3 L1365.5 1712.6 L1363 1711.6 L1362.3 1709.2 L1363.7 1707.4 L1366.2 1706.6Z M1353.5 1664.9 L1357.2 1667.9 L1356.9 1671.1 L1353.8 1674 L1348.7 1672.7 L1344.1 1669.9 L1348 1666.6Z M1385.4 1653.3 L1387.3 1652.4 L1389.5 1653.3 L1389.5 1654.8 L1387.9 1656.1 L1385.3 1655.9 L1384.9 1654.4Z M1370.9 1730.8 L1368.3 1728.3 L1370.9 1725.9 L1373.8 1724.6 L1376.8 1726.1 L1378.1 1729.1 L1374.6 1730.5Z M1317.4 1687.3 L1316.4 1682.2 L1317.4 1677.2 L1320.7 1675.4 L1323.1 1679.4 L1323.6 1685 L1320.8 1688.4Z M1383.8 1724.7 L1388 1726.3 L1389.1 1731.4 L1386.3 1735.6 L1381.7 1736 L1378.7 1731.8 L1380.2 1726.9Z M1332 1711.9 L1333 1712.4 L1333.9 1713.3 L1333.7 1715.2 L1332.7 1716.2 L1331.8 1715.2 L1331.3 1713.5Z M1448.5 1535.6 L1448.3 1537.8 L1447.2 1538.2 L1446.2 1537.7 L1445.9 1536 L1446.4 1534.3 L1447.5 1534.3Z M1361.8 1681.5 L1360.3 1682.1 L1358.5 1681.7 L1358 1680.5 L1359.3 1679.8 L1360.9 1679.5 L1362.2 1680.3Z M1398 1612.6 L1392.8 1613.5 L1389.2 1610.9 L1389.5 1607.4 L1392.1 1604.5 L1396.3 1605.7 L1399.2 1608.5Z M1424.9 1521.5 L1425.3 1518.5 L1427.3 1516.7 L1430.4 1516.4 L1432.1 1518.8 L1431.8 1521.9 L1428.3 1522.2Z M1388 1490.7 L1389.2 1492.4 L1389.4 1495.1 L1388.4 1496.8 L1387 1496.6 L1386.4 1494.5 L1386.8 1492.3Z M1425 1399.1 L1426.1 1398.1 L1428.1 1398 L1428.7 1399.2 L1428.4 1400.2 L1426.8 1400.9 L1425.4 1400.1Z M1442.2 1521.7 L1442.4 1519.8 L1443.4 1519.2 L1444.4 1519.8 L1444.3 1521.6 L1443.9 1522.9 L1443 1522.7Z M1305.2 1689.8 L1307 1690.4 L1307.3 1693.2 L1306.9 1695.5 L1305.7 1696.1 L1304.3 1695.1 L1304.5 1692.5Z M1459.2 1555.5 L1456.1 1554.6 L1455.8 1552.4 L1457.4 1550.3 L1461.3 1550.5 L1463.5 1552.5 L1461.9 1554.5Z M1323.2 1702.6 L1323.5 1704.2 L1322.9 1705.4 L1321.7 1706 L1320.7 1704.7 L1320.6 1702.9 L1322 1702.4Z M1336.5 1708.7 L1337.2 1706.4 L1339.3 1706.2 L1340.7 1707.1 L1341 1708.9 L1340.1 1710.9 L1337.8 1710.7Z M1358.5 1614.6 L1355.5 1614.4 L1355.1 1611.1 L1356.4 1608.1 L1359.3 1608.9 L1361.5 1610.6 L1361 1613.6Z M1487.7 1509.7 L1488.8 1510.5 L1488.2 1511.3 L1486.8 1511.8 L1484.6 1511.6 L1484.6 1510.5 L1485.7 1509.8Z M1408.6 1470 L1410.1 1469.4 L1412 1469.1 L1413.5 1469.8 L1413.1 1470.7 L1411.4 1471.1 L1409.8 1470.8Z M1440.7 1615.7 L1439.5 1616.2 L1438.6 1614.8 L1438.6 1613 L1439.5 1611.8 L1440.4 1612.6 L1441 1613.9Z M1388 1671 L1388.7 1672.5 L1387.9 1673.7 L1387.1 1674.5 L1386.4 1673.3 L1386.1 1671.9 L1386.9 1670.8Z M1467.4 1504.7 L1468.4 1504.6 L1469.3 1505.2 L1469.4 1507 L1468.5 1508.4 L1467.6 1507.5 L1467.2 1506.2Z M1405.9 1490.8 L1408.1 1491 L1408.6 1492.5 L1407.5 1493.9 L1405.3 1493.5 L1403.8 1492.7 L1403.7 1491.2Z M1407.2 1554.2 L1409.9 1553.6 L1412.6 1554.4 L1412.7 1556.1 L1410.7 1557 L1408.3 1557 L1406.3 1555.9Z M1454.8 1593.5 L1453.3 1593.5 L1451.7 1593 L1452.5 1592 L1453.6 1591.1 L1455.2 1591.6 L1456.1 1592.7Z M1455.5 1457.2 L1456.3 1458.4 L1455.5 1459.6 L1454 1460 L1452.9 1459 L1453.1 1457.7 L1454.1 1456.7Z M1459.8 1438.5 L1459.8 1440 L1459.1 1440.8 L1458.2 1440.7 L1457.8 1439.6 L1457.8 1438 L1458.9 1437.5Z M1458.6 1441.9 L1456.4 1442.5 L1454.1 1442 L1453.7 1440.8 L1455 1439.9 L1456.9 1440 L1458 1440.7Z M1351.2 1630 L1351.3 1628.1 L1352.8 1626.9 L1355.3 1626.7 L1356.2 1629.2 L1354.4 1630.7 L1352.5 1631.9Z M1423.8 1402.5 L1425.6 1402.9 L1427.1 1403.5 L1426.6 1404.8 L1425.1 1405.4 L1423.8 1404.7 L1423.2 1403.7Z M1398.7 1634.2 L1401.6 1633.8 L1404.9 1634.6 L1404.5 1636.9 L1401.7 1638.2 L1398.1 1638.1 L1396.5 1635.9Z M1416.8 1531 L1414.6 1531.7 L1412 1531.9 L1411.5 1530.6 L1411.8 1529.5 L1414 1528.8 L1416.1 1529.6Z M1419.6 1601.8 L1416.2 1602.9 L1413.3 1601.7 L1412.4 1600.2 L1413.7 1598.5 L1417.7 1598.2 L1419.9 1599.9Z M1334.3 1691 L1334.3 1685.9 L1336 1683 L1338.5 1681.5 L1339.5 1686.6 L1338.6 1690.7 L1336.7 1692.6Z M1392.9 1476 L1392 1476.4 L1391.1 1475.6 L1390.9 1473.7 L1391.8 1472.3 L1392.7 1473.2 L1393.3 1474.4Z M1467.2 1528.9 L1468.5 1528.7 L1469.4 1529.1 L1469.6 1530.3 L1469.1 1531.4 L1467.9 1531.8 L1467.5 1530.4Z M1347.1 1632 L1346 1633.9 L1342.7 1634.7 L1339.9 1633.7 L1339.3 1632.1 L1340.6 1630.4 L1344.3 1630.7Z M1356.5 1676.3 L1359.3 1673.5 L1362.1 1676.4 L1363.3 1679.4 L1361.6 1682.9 L1357.3 1682.9 L1355.6 1679.4Z M1439.9 1469.1 L1439 1471.6 L1435 1471.6 L1432.6 1469.5 L1433.5 1467.1 L1436.4 1465.3 L1439.1 1467.1Z M1424.8 1413.5 L1425.6 1414.6 L1424.9 1415.7 L1423.7 1416.4 L1422.5 1415.5 L1423 1414.1 L1423.7 1413.3Z M1325.5 1688.4 L1326.6 1690.1 L1326.6 1692 L1325.8 1693.8 L1324.1 1693.2 L1323.6 1691.3 L1324.1 1689.5Z M1444.8 1515.9 L1445.6 1514.3 L1447.5 1513.4 L1449.2 1514.8 L1448.8 1516.7 L1447.4 1517.7 L1445.6 1517.6Z M1416.7 1553.6 L1418.9 1553.2 L1420 1555.5 L1419 1557.8 L1416.9 1559.3 L1415.5 1557.1 L1415.3 1554.9Z M1427 1518.6 L1424.6 1519.7 L1422.5 1518.7 L1421.9 1516.9 L1422.9 1515.2 L1425.3 1515 L1427.7 1516.2Z M1486.3 1528.8 L1483.8 1528.6 L1482.2 1525.8 L1484.1 1523.4 L1486.1 1522.9 L1487.9 1524.2 L1488.4 1527.1Z M1432.4 1566.6 L1433.8 1563.6 L1435.7 1563.2 L1437.4 1564.3 L1437.7 1567.2 L1436.5 1570 L1434.3 1569Z M1432.1 1603.8 L1432.7 1605.1 L1431.1 1605.7 L1429.5 1605.6 L1428.4 1604.8 L1428.9 1603.6 L1430.6 1603.2Z M1463.7 1433.8 L1465.4 1433.5 L1466.9 1433.8 L1468.2 1434.5 L1466.8 1435.3 L1464.7 1435.6 L1463.8 1434.7Z M1450 1449.3 L1449.9 1447.9 L1450.7 1447 L1452.1 1446.7 L1453 1447.9 L1452.4 1449.3 L1451.2 1450Z M1475.8 1554.8 L1473.8 1554.8 L1472.9 1553.8 L1474.1 1552.9 L1476.1 1552.6 L1477.2 1553.4 L1477.6 1554.4Z M1383.8 1437.5 L1385.6 1435.1 L1387.9 1436.2 L1388.6 1440.4 L1387.2 1443.4 L1385.3 1443.4 L1384.1 1441.1Z M1397 1656.4 L1400.8 1656.9 L1402.4 1658.6 L1401.5 1660.6 L1397.8 1660.6 L1395.3 1659.7 L1395.3 1658.2Z M1428.7 1622.8 L1426.1 1623 L1423.7 1622.1 L1423.7 1620.3 L1426.4 1619.8 L1428.4 1620.2 L1429.7 1621.3Z M1413.4 1555.7 L1412 1555.4 L1411.4 1553.9 L1412.6 1552.7 L1414.4 1552.8 L1414.9 1554.2 L1414.7 1555.4Z M1441 1480.4 L1442 1477.8 L1444.1 1477.5 L1445.8 1478.8 L1446.2 1481.4 L1444.4 1482.9 L1442.3 1482.8Z M1375.7 1682.7 L1374.8 1681.5 L1376.5 1680.7 L1378.5 1680.4 L1380.2 1681.2 L1379.7 1682.4 L1377.8 1682.8Z M1438.4 1422.6 L1436 1420.1 L1434.8 1416.1 L1437.4 1413 L1440.1 1414.7 L1441.3 1417.3 L1440.8 1420.3Z M1450.3 1458.2 L1448.5 1456.8 L1448.2 1455.2 L1451.2 1454.4 L1454.4 1454.9 L1454.8 1456.5 L1453.7 1457.9Z M1330.1 1660 L1330.2 1661.4 L1329.2 1662.4 L1327.3 1662.6 L1326.6 1661 L1327.2 1659.7 L1328.8 1658.7Z M1458.5 1410.8 L1458.9 1412.5 L1457.2 1413.8 L1455.1 1413.2 L1454.5 1411.3 L1455.6 1409.7 L1457.5 1409.4Z M1320.8 1695.3 L1318.3 1697.7 L1314.9 1695.9 L1315 1690.6 L1317.3 1687.3 L1320.4 1687.1 L1322.6 1691.2Z M1410 1555.8 L1409.6 1554.2 L1411.8 1553.6 L1414 1554 L1414.6 1555.5 L1413.6 1557 L1411.4 1556.5Z M1485.7 1535 L1487.1 1534.6 L1489 1534.7 L1489 1535.6 L1488.4 1536.6 L1486.3 1536.2 L1484.6 1535.7Z M1433.6 1553.8 L1433.2 1555 L1432.1 1556 L1430.8 1555.2 L1430.2 1553.9 L1431.3 1552.9 L1432.7 1552.9Z M1396.9 1600.4 L1396.4 1601.7 L1394.1 1602.4 L1392 1601.6 L1390.9 1600.4 L1393 1599.6 L1395.5 1599.2Z M1473 1425.6 L1474.1 1425.3 L1475.2 1425.6 L1475.6 1426.8 L1474.9 1427.9 L1473.5 1427.9 L1472.6 1426.9Z M1371.5 1669.9 L1369.4 1670.2 L1367.2 1669.9 L1367.8 1668.6 L1368.7 1667.7 L1370.9 1667.4 L1372.3 1668.6Z M1406.8 1486.8 L1407.7 1487.9 L1408 1489.2 L1407.5 1490.2 L1406.6 1490.6 L1405.9 1489.6 L1405.9 1487.9Z M1357 1693 L1356.6 1691.9 L1357.4 1690.9 L1359.6 1690.9 L1361.4 1691.5 L1361.3 1692.6 L1359.3 1693Z M1399.1 1469.9 L1400.9 1469.3 L1403.6 1469.3 L1403.9 1470.7 L1402.5 1471.7 L1399.9 1472 L1397.8 1471Z M1409.8 1531.9 L1410.9 1529.8 L1414.2 1530.4 L1416.1 1531.8 L1415.9 1533.9 L1412.8 1534.8 L1409.8 1533.8Z M1424.5 1533.2 L1423.1 1532.5 L1423.3 1531.2 L1424.4 1530.3 L1426 1530.6 L1426.2 1531.8 L1425.7 1532.6Z M1478.9 1528.5 L1478.5 1532 L1476.7 1532.4 L1475.1 1531 L1475.4 1527.6 L1476.3 1524.5 L1478.2 1525.4Z M1484.2 1442.1 L1483.5 1440.5 L1484.4 1438.7 L1486.8 1438.9 L1488.8 1439.8 L1488.6 1441.7 L1486.5 1442.5Z M1470.7 1448.7 L1468 1445.8 L1469.6 1442.1 L1474.1 1441.7 L1477.4 1443.7 L1478.4 1447.2 L1474.9 1449.6Z M1415.3 1427.3 L1415.5 1431.4 L1414.1 1434.4 L1411.7 1434.3 L1409.9 1431.5 L1409.9 1426.9 L1412.8 1423.8Z M1403.7 1443.1 L1400 1443.8 L1397.5 1442 L1397.4 1439.7 L1399.5 1437.5 L1403.7 1438 L1405.3 1440.6Z M1367.2 1632.1 L1367.9 1633.1 L1367.3 1634.3 L1365.4 1634.4 L1363.5 1633.8 L1363.4 1632.2 L1365.4 1631.2Z M1405.3 1580.2 L1403.4 1578.4 L1403.6 1575.9 L1409.2 1575 L1412.6 1577.1 L1413.4 1579.3 L1410.1 1581.5Z M1407 1584.3 L1406.6 1589.5 L1403.2 1591.4 L1400.5 1589.3 L1399.3 1585.5 L1400.7 1581.3 L1404.3 1580.7Z M1386.7 1414.6 L1385.6 1414.3 L1385.1 1413 L1385.7 1412 L1386.9 1411.6 L1387.5 1412.7 L1387.6 1413.9Z M1428.3 1421.4 L1429.5 1420.7 L1430.8 1420.8 L1431.4 1422.6 L1430.5 1424 L1429.1 1424.6 L1428.1 1423.1Z M1323.7 1693.1 L1322.6 1692.4 L1322.3 1690.9 L1322.9 1689.8 L1323.9 1689.6 L1324.8 1690.6 L1324.5 1692Z M1414.4 1585.7 L1410.1 1585.6 L1408 1583.4 L1408.8 1581.1 L1412 1580.1 L1415.5 1580.9 L1418.1 1583.5Z M1423.9 1439.4 L1426.9 1439.6 L1427.6 1441.8 L1425.9 1443.5 L1423 1444.4 L1420.8 1442.5 L1421.2 1440.2Z M1462.7 1520.7 L1463.9 1515.5 L1465.4 1510.5 L1468.2 1513.1 L1469.3 1518.2 L1467.9 1522.8 L1465.3 1523.9Z M1437.4 1476.6 L1437.9 1477.7 L1437.2 1479.1 L1435.7 1478.5 L1434.3 1477.8 L1435.1 1476.6 L1436.3 1475.9Z M1412.6 1556.4 L1413.2 1554 L1414.9 1555.1 L1416.4 1556.5 L1415.4 1558.6 L1414 1559.4 L1412.4 1558.7Z M1362.1 1605.2 L1362.6 1603.9 L1364.1 1603.6 L1364.8 1604.7 L1364.9 1605.8 L1364.1 1606.7 L1362.8 1606.2Z M1340.9 1680.8 L1343.8 1678.5 L1347.5 1678.4 L1349.6 1680.8 L1348.6 1683.4 L1345.8 1685.7 L1342.3 1683.9Z M1439.5 1622.2 L1440 1620.7 L1441 1620.6 L1441.6 1622.4 L1441.3 1624.5 L1440.3 1624.5 L1439.5 1624Z M1409.2 1521.6 L1407.3 1518.8 L1409.9 1516.5 L1414.7 1515.9 L1419.7 1517.3 L1418 1520.2 L1414.3 1521.3Z M1420.2 1460.4 L1418 1459.3 L1417.2 1455.9 L1418.6 1453 L1420.7 1453 L1422.2 1455.1 L1422.2 1458.5Z M1385.2 1548.4 L1383.9 1547.1 L1385.1 1546 L1387.1 1545 L1389.5 1545.9 L1389.9 1547.3 L1388 1548.1Z M1345.6 1696.2 L1345.2 1694.2 L1346.2 1693 L1347.3 1692.6 L1348.1 1693.7 L1347.9 1695.4 L1347 1696.2Z M1423.8 1557.7 L1424 1556.3 L1425.8 1555.7 L1427.6 1556.2 L1427.8 1557.6 L1426.8 1558.8 L1424.9 1558.8Z M1377 1641.8 L1380 1642.4 L1381.4 1645.6 L1381.4 1649.3 L1379.3 1652.3 L1376.2 1651 L1375.7 1646.2Z M1458.4 1396.8 L1459.5 1397.1 L1459.5 1398.7 L1459 1399.9 L1458 1400 L1457 1399.1 L1457.2 1397.2Z M1456.9 1486.5 L1455.8 1488.1 L1452.5 1488.4 L1450 1487.6 L1448.6 1486.2 L1451.4 1485.1 L1455.1 1485Z M1352 1630.8 L1351.1 1633.4 L1347.3 1634.5 L1343.5 1633.1 L1342.6 1630 L1346.1 1628.1 L1349.8 1628.7Z M1387.2 1660.4 L1386.1 1655.9 L1389.1 1653.1 L1392.4 1653.2 L1395.8 1655.8 L1393.5 1659.6 L1390.8 1662.4Z M1415.4 1637.2 L1417.1 1637 L1417.7 1639.7 L1416.6 1641.6 L1415.2 1642.9 L1414.4 1640.7 L1413.7 1638Z M1451.5 1560.4 L1452.6 1561.3 L1452.8 1563.8 L1451.7 1565.2 L1450.6 1564.2 L1449.9 1562.8 L1450.5 1561.2Z M1385.1 1644.9 L1383 1645.2 L1381.2 1644.3 L1381.1 1642.4 L1382.8 1641.1 L1385 1641.6 L1385.6 1643.2Z M1481 1487.1 L1475.5 1488.4 L1470.5 1488.6 L1467.7 1486.3 L1469.4 1483.7 L1474.3 1482.7 L1478.9 1484.1Z M1363.3 1621 L1361.9 1619.6 L1363.9 1618.6 L1366.4 1618.2 L1368.7 1619.3 L1367.7 1620.8 L1365.7 1622.1Z M1301.2 1716.6 L1296.5 1715.6 L1293.3 1713.2 L1296 1710.5 L1301.2 1710.7 L1305.9 1711.9 L1305.8 1714.9Z M1401.3 1541.1 L1402.6 1539.9 L1405 1539.6 L1406.8 1540.4 L1407.4 1541.6 L1405.1 1542.2 L1403.1 1541.9Z M1416.8 1402.1 L1414.7 1401.4 L1414.2 1400.1 L1415.3 1398.9 L1417.4 1399 L1419.3 1399.8 L1419.1 1401.4Z M1434.6 1567.5 L1434.1 1570.6 L1431.8 1571.1 L1430.2 1569.3 L1429.2 1566.3 L1431.2 1563.8 L1433.5 1564.9Z M1433.5 1550.8 L1433.8 1552.2 L1431.5 1553.2 L1428.1 1553 L1428 1551.5 L1428.3 1550.2 L1431.4 1549.9Z M1373.3 1566.5 L1373.7 1563.5 L1377.7 1561.4 L1381.5 1563.7 L1382.2 1566.9 L1379.1 1568.7 L1375.1 1569.2Z M1395 1638.6 L1396.3 1638.1 L1397.7 1638.3 L1398.2 1639.3 L1397.7 1640.2 L1396.3 1640.9 L1395.2 1639.9Z M1470.6 1550.7 L1468.6 1552.1 L1466.8 1550.8 L1465.7 1547.6 L1467.4 1545.3 L1469.1 1545.3 L1470.7 1547.1Z M1475 1509.9 L1470.5 1508.5 L1466 1506.6 L1470.1 1504.3 L1474.8 1503.7 L1479 1505.2 L1479.4 1508Z M1418.1 1478.7 L1420.5 1475.8 L1425.8 1476.3 L1429.4 1477.8 L1429.3 1480.6 L1425 1481.6 L1419.4 1481.9Z M1522.4 1412.7 L1521.9 1410.2 L1523.5 1408.8 L1525.5 1408.5 L1526.5 1411 L1525.5 1413.3 L1523.7 1415.1Z M1408.7 1423.9 L1405.1 1422.8 L1403.5 1419.6 L1405.3 1416.5 L1409.1 1415.8 L1411.2 1418.5 L1412.4 1422Z M1456.1 1403.9 L1457.6 1405 L1456.9 1406.4 L1455.3 1407.3 L1453.4 1406.5 L1453.2 1405.2 L1454.2 1404.2Z M1418.2 1474.1 L1422.1 1474.8 L1421.9 1480 L1419.5 1482.9 L1416.1 1483.7 L1413.7 1479.8 L1414.8 1475.1Z M1485.4 1435.4 L1485.9 1433.9 L1488 1432.6 L1490 1433.9 L1491.5 1435.3 L1489.5 1436.6 L1486.8 1436.9Z M1538.5 1469.7 L1536.9 1467.7 L1536.5 1464.8 L1536.9 1461.1 L1538.9 1461 L1539.7 1464 L1540 1467.3Z M1433.4 1499.1 L1433.6 1500.2 L1432.3 1501.2 L1430.4 1500.6 L1430.2 1499.4 L1430.8 1498.4 L1432.4 1498.3Z M1419.2 1471.7 L1415.3 1471 L1414.9 1468.2 L1416.3 1466.3 L1419.3 1464.8 L1421.5 1467.1 L1421.2 1469.4Z M1554.7 1426.9 L1557.4 1427.4 L1559.6 1429.7 L1558.1 1432.7 L1555.6 1433.8 L1552.7 1432.9 L1553 1429.4Z M1484.7 1460.7 L1483.6 1459.8 L1483.5 1458.8 L1484.9 1458.4 L1486.4 1458.4 L1487 1459.3 L1486.4 1460.2Z M1458.9 1432.1 L1461.7 1434.1 L1462 1437.7 L1459.4 1440.2 L1455.3 1440.4 L1453.2 1436.4 L1455.5 1432.9Z M1465.3 1499 L1466 1506.8 L1462.4 1509.7 L1458.7 1511.4 L1456.5 1504.9 L1458.9 1499.6 L1461.7 1495.5Z M1549.1 1485.9 L1549.2 1487.7 L1548.1 1488.1 L1547.4 1487.1 L1547.1 1485.7 L1547.7 1484.3 L1548.6 1484.6Z M1477.1 1442 L1476.4 1443.3 L1475.2 1443.8 L1474.4 1442.9 L1474.1 1441.6 L1475 1440.9 L1476.2 1440.9Z M1445.4 1424.3 L1442.6 1425.4 L1439.4 1423.7 L1440.5 1419.5 L1441.9 1415.6 L1445.1 1417 L1446 1420.6Z M1445.5 1505.5 L1445.3 1503.6 L1446.2 1502.2 L1447.1 1502.9 L1447.6 1504.4 L1447.3 1506.4 L1446.2 1507Z M1484.4 1409.6 L1482.5 1406.7 L1483.8 1403.4 L1487.8 1401.4 L1491.4 1404.2 L1493 1408.4 L1488.4 1410.3Z M1529.3 1401.8 L1529 1403.3 L1528.1 1404.9 L1526.6 1404 L1526.3 1402.3 L1526.8 1400.7 L1528.3 1400.7Z M1573.5 1451.1 L1572.7 1450.1 L1572.1 1448.8 L1572.5 1447.2 L1573.4 1447.3 L1574.3 1448 L1574.3 1449.8Z M1493 1448.9 L1494.6 1448.3 L1496.3 1448.8 L1497 1449.6 L1495.9 1450.3 L1493.8 1450.6 L1492.8 1449.7Z M1543.9 1417.4 L1544.5 1415.5 L1548.7 1414 L1552.9 1415.6 L1553.3 1417.7 L1550.9 1419.8 L1545.7 1419.2Z M1573.6 1463.5 L1571.7 1463.6 L1569.7 1463.6 L1569.2 1462.5 L1570.6 1461.8 L1572.5 1461.6 L1573.6 1462.4Z M1408.2 1432.4 L1408.5 1434.3 L1407.3 1435.3 L1405.9 1435.6 L1405 1434.2 L1405.2 1432.4 L1406.7 1431.9Z M1407.6 1499.9 L1407.4 1503.1 L1405.3 1504.4 L1403.2 1503.6 L1402.2 1501.1 L1403.1 1498 L1405.7 1497.8Z M1521.6 1477.4 L1524.7 1474.8 L1530.3 1475.8 L1531.3 1479.2 L1528.6 1481.9 L1523.2 1482.8 L1519.9 1480.1Z M1577.7 1462 L1577.9 1463.7 L1575.4 1464.8 L1572 1464.5 L1570.5 1463.1 L1571.8 1461.7 L1574.7 1461.2Z M1445.2 1506.7 L1445.6 1508.6 L1444.4 1509.9 L1442.6 1510.1 L1441.4 1508.9 L1441.5 1507.4 L1443.1 1506.6Z M1456.1 1443.9 L1456.3 1444.9 L1454.5 1445.1 L1452.9 1445.1 L1452.3 1444.1 L1453.1 1443.2 L1455.1 1443Z M1520.6 1497.4 L1519 1500.3 L1516.8 1498.4 L1516.2 1494.9 L1517.3 1491.7 L1519.9 1490.5 L1521.3 1494.1Z M1563.5 1437.7 L1564.9 1440.6 L1565 1443.4 L1563.8 1446.6 L1561.5 1444.8 L1560.3 1442.3 L1560.8 1438.8Z M1443.8 1478.4 L1441.3 1480.9 L1438.7 1479.5 L1437.7 1475.6 L1439.1 1472.2 L1441.6 1470.6 L1442.7 1474.4Z M1457.5 1431.8 L1457.5 1434.4 L1455.9 1436.9 L1453.4 1435.6 L1453 1432.7 L1453.6 1429.8 L1456.1 1429.7Z M1416.2 1435 L1415.8 1439.6 L1411.5 1440.3 L1408.3 1439.3 L1407 1436 L1409 1433 L1412.9 1432.1Z M1456.8 1461.8 L1452.9 1462.5 L1450.5 1460.3 L1450.7 1457.7 L1453.3 1455.8 L1456.7 1456.8 L1458.2 1459.2Z M1506.4 1464.9 L1504.4 1464.4 L1503.1 1462.7 L1503.5 1460.1 L1505.9 1459.5 L1507.4 1461.2 L1507.7 1463.2Z M1473.1 1495.5 L1471.7 1495.9 L1470 1495.8 L1469.9 1494.9 L1470.2 1494 L1472.2 1493.8 L1472.9 1494.7Z M1501.8 1507.9 L1500.5 1507.3 L1500.1 1506.3 L1501.9 1505.5 L1504.1 1506 L1505.1 1507 L1503.8 1507.9Z M1588.7 1439 L1586.6 1438.4 L1584.7 1437.1 L1585.7 1434.8 L1587.4 1433.1 L1589.1 1434.8 L1590.1 1436.9Z M1495.1 1424.4 L1498.6 1424.9 L1501.3 1427.5 L1499.1 1430.3 L1496.4 1431.3 L1493.1 1430.5 L1493.5 1427.3Z M1449.5 1422.4 L1447.2 1426 L1442.6 1424.2 L1440 1421.1 L1442.6 1418 L1446.8 1416.1 L1450.7 1418.8Z M1400.4 1411.6 L1400.1 1409.7 L1400.1 1407.7 L1401.1 1406.5 L1402 1407.9 L1402.2 1409.8 L1401.7 1411.9Z M1416.1 1429.5 L1417.3 1428.2 L1419.4 1428.2 L1420.8 1428.8 L1421.3 1429.9 L1419.9 1431.1 L1417.9 1430.4Z M1589.5 1401.9 L1589.5 1400 L1590.6 1399.2 L1591.6 1400.3 L1591.7 1402.2 L1590.9 1403.3 L1590 1403.2Z M1503.7 1441.6 L1501.1 1441 L1499.9 1439.2 L1500.5 1437.1 L1503.3 1436.6 L1505.6 1437.8 L1506.5 1440.3Z M1458.6 1442.8 L1457.4 1443.8 L1455.8 1444.6 L1453 1444.4 L1453 1443.1 L1453.8 1442 L1456.6 1441.9Z M1507.5 1508 L1507.1 1509.7 L1505.7 1510.4 L1504.5 1509.6 L1504.4 1508.2 L1505 1507 L1506.5 1506.5Z M1501.3 1415.6 L1503.5 1413.8 L1507.1 1414.3 L1509.7 1415.2 L1509.3 1417 L1506.3 1417.8 L1502.6 1417.5Z M1582.3 1416.3 L1581.1 1413.3 L1583.7 1410.7 L1587.6 1411 L1588.6 1414.3 L1587.8 1417.3 L1584.6 1418.8Z M1454.5 1501.1 L1453.7 1502.6 L1451.5 1502.4 L1449.6 1501.3 L1450.8 1499.7 L1452.4 1498.6 L1454.5 1499.4Z M1475.6 1495.6 L1476.1 1499 L1471.5 1499.7 L1467 1499.2 L1466.6 1495.9 L1468.9 1493.4 L1473.1 1493.4Z M1527.1 1499.9 L1523.7 1502.1 L1518.4 1503.1 L1515.5 1500.6 L1514.6 1497.7 L1519.6 1495.8 L1525.1 1497.1Z M1465.5 1443.9 L1465.8 1441.9 L1466.7 1441 L1467.8 1441.3 L1468.6 1442.7 L1467.8 1444.1 L1466.7 1445.2Z M1568.9 1435.5 L1568.3 1436.9 L1567 1437.5 L1565.7 1436.8 L1565.7 1435.6 L1566.4 1434.7 L1567.8 1434.3Z M1469.2 1440 L1464 1438.7 L1464.4 1434.4 L1466.9 1431.3 L1471.6 1431.3 L1474 1434.4 L1473.7 1438.2Z M1546.4 1484.7 L1548.2 1484.3 L1549.4 1485.5 L1548.8 1486.8 L1547.6 1487.6 L1545.9 1487.3 L1545.6 1485.8Z M1518.8 1423.6 L1517 1423.2 L1515.7 1422.4 L1516.8 1421.6 L1518.5 1421.4 L1520.6 1421.6 L1519.9 1422.8Z M1586.7 1444.4 L1587 1445.4 L1586.9 1446.6 L1585 1446.8 L1583.8 1446 L1583.9 1444.9 L1585 1444Z M1579.4 1437.2 L1581.5 1436.1 L1583.7 1436.6 L1584.7 1437.7 L1584 1438.8 L1582.3 1439.3 L1580.7 1438.7Z M1469.8 1461.2 L1471.4 1459.9 L1473.8 1460.8 L1475.6 1462.1 L1474.2 1463.8 L1471.3 1463.4 L1468.8 1462.7Z M1429.6 1460.5 L1431 1461.1 L1431.7 1462.5 L1430.8 1463.6 L1429.5 1464.2 L1428.8 1462.9 L1428.4 1461.5Z M1568.1 1412.1 L1566.2 1411.2 L1564.5 1409.7 L1565.2 1407.1 L1567 1406.5 L1568.6 1407.3 L1569.3 1409.7Z M1440.9 1477.8 L1440.1 1483 L1436.6 1486.1 L1432.9 1482.2 L1433.4 1475.4 L1436.3 1471.7 L1439.7 1472.9Z M1552.4 1473.9 L1554 1472.8 L1556.2 1473.1 L1557 1474.9 L1556 1476.3 L1554 1476.9 L1552.9 1475.5Z M1558.7 1410.4 L1561.6 1413.3 L1562.6 1417.9 L1560.2 1420.8 L1557.2 1421.6 L1555.1 1418 L1555.8 1413.3Z M1486.6 1399.2 L1486.8 1402.7 L1483.7 1404 L1480.5 1403.9 L1479 1400.9 L1480.2 1397.6 L1483.9 1397Z M1508.6 1426.2 L1506.7 1426.4 L1505 1426.3 L1504.9 1425.3 L1505.6 1424.6 L1507.2 1424.6 L1508.5 1425.2Z M1424.5 1492.1 L1422 1491.6 L1420.9 1490.3 L1423 1489.3 L1426 1488.7 L1427.4 1490.2 L1426.6 1491.4Z M1442.5 1436.7 L1438.5 1440 L1434.6 1436 L1436.1 1431.2 L1438.4 1426.7 L1442.8 1428.9 L1445.1 1433.1Z M1266.7 1845.1 L1267.7 1844.2 L1268.5 1845.4 L1269 1846.9 L1268.3 1848.4 L1267.3 1848.6 L1266.4 1847.2Z M1285.4 1858.9 L1290.5 1859.6 L1288.9 1861.9 L1285.5 1863 L1280.8 1863 L1277.9 1860.9 L1280.2 1858.5Z M1242.4 1889.8 L1241.9 1890.9 L1241 1891.3 L1240.2 1890.8 L1239.7 1889.7 L1240.5 1888.6 L1241.8 1888.5Z M1276.4 1864.2 L1271.4 1864.6 L1269.9 1862.1 L1271.4 1860 L1275.7 1859.2 L1278.7 1860.8 L1279 1862.7Z M1252.3 1883.1 L1251.9 1881.6 L1253.2 1881.1 L1254.4 1880.9 L1254.8 1882 L1254.9 1883.3 L1253.5 1883.9Z M1265.8 1873.7 L1265 1874.3 L1263.7 1874.3 L1263.7 1872.7 L1264.1 1871.2 L1265.5 1871.2 L1266.3 1872.4Z M1277.9 1881.3 L1278.2 1880.1 L1279.4 1879.2 L1280.8 1880 L1281.4 1881.6 L1280.1 1882.8 L1278.3 1882.8Z M1251.3 1874 L1249.9 1877.1 L1247.8 1877.4 L1246.9 1873.9 L1247.1 1870.3 L1248.9 1868.8 L1251 1869.6Z M1215.7 1836.1 L1216.1 1832.2 L1217.3 1829.1 L1219.3 1830.3 L1220.1 1833.7 L1219.3 1836.8 L1217.7 1837.1Z M1284.5 1864.5 L1282.5 1864.4 L1280.9 1863.7 L1281 1862.3 L1282.6 1861.6 L1284.4 1861.8 L1285.2 1863.1Z M1280.4 1837.3 L1279.5 1836.8 L1279.4 1835.2 L1279.8 1833.7 L1280.7 1834.1 L1281.7 1834.8 L1281.4 1836.8Z M1225 1848.8 L1221.9 1849.9 L1218.7 1848.5 L1219 1846.1 L1221.8 1844.4 L1226.1 1844.8 L1228.1 1847.2Z M1219.3 1864.7 L1220.2 1865.3 L1220.4 1866.4 L1219.9 1867.5 L1218.9 1867.5 L1218.1 1866.6 L1218.2 1865Z M1266.2 1853.1 L1267.5 1854 L1267.4 1855.7 L1266.3 1856.7 L1265.2 1856.1 L1264.6 1855.1 L1264.7 1853.4Z M1218.7 1838 L1217.1 1836.8 L1217.4 1835.1 L1219.3 1833.8 L1222 1834.5 L1222 1836.4 L1221.3 1838.2Z M1270.6 1865.1 L1269.8 1865.7 L1268.3 1865.8 L1266.4 1865.4 L1266.5 1864.4 L1268.5 1863.9 L1270.6 1864.1Z M1270.4 1836.1 L1272.6 1835.8 L1273.8 1836.9 L1274.1 1838 L1272.7 1839.2 L1270.5 1838.7 L1270.1 1837.5Z M1246.7 1899.7 L1244.9 1900.1 L1243.1 1899.8 L1242.8 1898.8 L1243.6 1897.8 L1245.6 1898 L1247 1898.6Z M1281 1879.2 L1279.6 1880 L1278.2 1879 L1278.2 1877.6 L1279.5 1876.8 L1281.2 1876.8 L1281.9 1878.1Z M1247.8 1847.6 L1246.8 1848.6 L1245.8 1847.9 L1245.5 1846.8 L1245.8 1845.6 L1246.8 1845 L1247.5 1846.2Z M1243.7 1838.8 L1247 1837.4 L1249.8 1838.4 L1251.7 1840.8 L1250.4 1843.9 L1246.7 1844.1 L1243.7 1842.3Z M1257.9 1853.9 L1254.9 1854.6 L1251.9 1854.5 L1249.8 1853.2 L1251.1 1851.5 L1255.1 1851 L1257.5 1852.4Z M1280.1 1866.4 L1280.3 1867.9 L1279.5 1869.3 L1276.9 1869.9 L1275.1 1868.5 L1275.8 1867.1 L1277.4 1865.6Z M1239.5 1885 L1238.4 1883.7 L1239.7 1882.5 L1241.5 1882.5 L1243 1883.2 L1243 1884.7 L1241.3 1885.5Z M1213.9 1869.4 L1214.1 1865.4 L1216.9 1863 L1219.8 1865.4 L1219.8 1869.9 L1217.8 1872.3 L1215.3 1872.7Z M1257.4 1868.2 L1255.7 1868.3 L1255.2 1866.9 L1255.8 1865.7 L1257.3 1864.6 L1258.3 1866.1 L1258.7 1867.4Z M1251.9 1838.8 L1252.5 1839.9 L1251.3 1840.8 L1249.2 1841.1 L1248.1 1840 L1248.1 1838.7 L1250.1 1838Z M1231.1 1875.9 L1233.4 1874.2 L1237.8 1874.3 L1240.2 1875.9 L1240.6 1878.3 L1235.6 1878.4 L1231.8 1877.8Z M1285.8 1848.9 L1287 1851.2 L1285.4 1853.1 L1283.4 1854.1 L1281.5 1852.2 L1281.7 1848.9 L1283.9 1847.1Z M1247.9 1883.8 L1251.6 1884.9 L1253.3 1888.8 L1251.7 1892.3 L1248.6 1895 L1245.4 1892 L1246.2 1887.8Z M1229.4 1833.2 L1231.2 1833.5 L1232.2 1835.3 L1230.8 1836.7 L1229.3 1837.1 L1227.5 1836.3 L1227.3 1833.9Z M1255.4 1839.5 L1253.7 1838.7 L1252.7 1837 L1254.8 1836 L1256.9 1836.1 L1258.7 1837.4 L1257.4 1839.1Z M1240.2 1849.9 L1241.4 1850.6 L1240.4 1851.4 L1238.9 1851.6 L1237.3 1851.3 L1237.4 1850.5 L1238.2 1849.7Z M1263.8 1891.6 L1264.1 1889.2 L1265.5 1889.4 L1266.5 1890.4 L1266.5 1892.6 L1265.5 1893.7 L1264.4 1893.3Z M1225.2 1888.7 L1227.4 1890.3 L1226.4 1892.4 L1222.2 1892.9 L1217.5 1892.2 L1217.2 1889.6 L1221.1 1888.1Z M1285.4 1835.2 L1284.4 1835.6 L1283.5 1834.1 L1284 1832.2 L1284.9 1831.7 L1285.8 1832.1 L1286.1 1834Z M1227 1874.5 L1230.1 1873.5 L1231.9 1877.8 L1230.8 1882 L1228.5 1883.7 L1225.7 1882.8 L1225.7 1878.2Z M1285.1 1900.7 L1282.7 1900.6 L1281.1 1899.7 L1280.6 1898 L1282.7 1897 L1284.8 1897.6 L1286.6 1899Z M1257.3 1849 L1259.9 1847.9 L1262.2 1848.7 L1264.1 1850.9 L1262.5 1853.5 L1259.6 1853.9 L1257.4 1852.1Z M1262.8 1842.9 L1259.6 1843.5 L1256.8 1842.4 L1257.7 1840.9 L1259.9 1840 L1263.6 1839.8 L1265.4 1841.6Z M1273.5 1896.3 L1271.6 1893.3 L1272.7 1889.8 L1275.2 1887.8 L1278.4 1889.4 L1278.6 1894 L1276.1 1896.3Z M1276.9 1853.9 L1275.2 1857.6 L1272.3 1856.8 L1271.6 1851.4 L1272.6 1846.3 L1275.1 1847.1 L1277 1849.4Z M1247.8 1848.4 L1247.2 1849.5 L1246.3 1849.2 L1245.5 1848.3 L1245.7 1846.6 L1246.8 1846.1 L1247.7 1847.1Z M1248.5 1889.9 L1249.6 1889.1 L1251.2 1889.2 L1251.9 1890.8 L1250.7 1891.8 L1249.4 1892.4 L1248.1 1891.4Z M1255.3 1844.5 L1254.6 1841.3 L1256.5 1839 L1260.2 1837.1 L1263 1840.1 L1261.7 1843.1 L1259 1844.5Z M1273.7 2116.1 L1270.7 2114.3 L1269.2 2110.2 L1269.6 2104.6 L1272.7 2104.4 L1275.8 2105.7 L1275.6 2111.5Z M1284.9 2114.5 L1288.7 2113.4 L1291.7 2115.1 L1290.6 2116.9 L1287.6 2118.2 L1283.8 2117.4 L1281.8 2115.7Z M1275.4 2095.2 L1275 2093.7 L1275.9 2092.5 L1277.2 2092.7 L1277.8 2093.8 L1277.8 2095.2 L1276.6 2095.5Z M1280.5 2079.9 L1279.9 2077.5 L1281.8 2076.3 L1283.6 2076.6 L1285 2078.4 L1283.8 2080.2 L1282.1 2081Z M1262.4 2092.4 L1263.5 2092.8 L1263.5 2093.8 L1262.8 2094.7 L1261.5 2094.5 L1260.8 2093.7 L1261 2092.5Z M1272.6 2074.4 L1274.3 2073.3 L1276.3 2072.6 L1277.8 2073.9 L1278 2075.6 L1275.9 2076.5 L1274.2 2075.6Z M1244 2101.4 L1245 2100.9 L1246.4 2100.5 L1247.1 2101.8 L1246.5 2103.1 L1245.1 2103.4 L1244.2 2102.5Z M1245 2083.8 L1240.9 2082.1 L1244.2 2080.1 L1248.6 2079.6 L1253 2080.5 L1254.4 2083 L1249.4 2084Z M1266.9 2123.1 L1267.2 2121.7 L1268.5 2121.5 L1269.4 2122.3 L1269.4 2123.5 L1268.7 2124.7 L1267.6 2124Z M1274.6 2126.3 L1275.7 2125.7 L1276.9 2126.2 L1277.1 2127.2 L1276.4 2128 L1275 2127.8 L1273.6 2127.3Z M1263.9 2090.7 L1267 2090 L1269.8 2090.9 L1270.5 2094.7 L1268.9 2098.2 L1265.9 2097.6 L1263.7 2095Z M1234.5 2077 L1237.2 2077.7 L1237.6 2079 L1237 2080.3 L1234.1 2080.5 L1231.7 2079.5 L1232.8 2078.3Z M1267.1 2089.4 L1263.7 2090.2 L1261.1 2088.6 L1260.9 2086.5 L1263.2 2084.7 L1266.3 2085.7 L1267.6 2087.3Z M1250.4 2107.5 L1252.2 2111.5 L1252.5 2115.8 L1249.7 2118.6 L1246 2117.9 L1245.8 2112.8 L1247.2 2109.2Z M1245.3 2075 L1244.7 2073.6 L1245.9 2072.9 L1247 2072.7 L1247.4 2073.9 L1247.1 2075 L1246.2 2076.1Z M1283 2127.6 L1284 2128.6 L1284 2130 L1283.2 2131 L1282 2130.6 L1281.3 2129.5 L1281.7 2128Z M1277.3 2117.2 L1271.4 2117.7 L1267.3 2115.9 L1265.9 2113 L1270.4 2111.5 L1275.6 2110.8 L1278.8 2113.7Z M1261.6 2113.4 L1260.7 2114.4 L1259.7 2113.9 L1259 2111.9 L1259.6 2109.5 L1260.9 2109.9 L1261.9 2111.2Z M1256.2 2107.5 L1255.5 2104.3 L1257.1 2101.4 L1262 2100.1 L1265.5 2103.2 L1263.9 2106.4 L1260.6 2108.2Z M1239.2 2086 L1237.1 2086 L1235.4 2085.2 L1235 2083.2 L1236.9 2082.4 L1238.6 2082.7 L1239.5 2084.1Z M1234.1 2053.4 L1235.7 2053.7 L1236.7 2054.4 L1236.7 2055.4 L1234.8 2055.8 L1233.4 2055.2 L1232.8 2054.2Z M1246.1 2053.8 L1248.7 2056.7 L1246 2059.8 L1241.8 2061.1 L1239.9 2057.8 L1238.8 2054.7 L1242.4 2053.2Z M1276.4 2127.6 L1278 2127.8 L1279.3 2128.3 L1279.1 2129.3 L1277.5 2129.7 L1275.8 2129.3 L1275.6 2128.4Z M1251.7 2069.9 L1249.7 2071.9 L1246.6 2072.2 L1243.8 2070.8 L1244.5 2068.4 L1247.2 2067.6 L1250.5 2067.5Z M1269.1 2067.6 L1265.3 2067.7 L1261.8 2066.7 L1261.1 2063.4 L1264.5 2061.7 L1267.9 2062 L1269 2064.5Z M1282.6 2111 L1281.7 2111.9 L1279.8 2112.3 L1278.1 2111.7 L1277.6 2110.7 L1279.1 2109.8 L1281.1 2110.3Z M1242.7 2092.7 L1246.1 2093.2 L1247.8 2094.5 L1247 2096 L1243.7 2096.9 L1241.4 2095.6 L1241.1 2094.2Z M1243.3 2111.3 L1243.3 2108.8 L1245.9 2108.3 L1248.3 2108.4 L1248.7 2110.3 L1248.3 2112.5 L1245.5 2112.6Z M1289.1 2108.9 L1290.5 2107.1 L1293.8 2106 L1297 2107.4 L1297.5 2109.7 L1294.7 2111.6 L1290.6 2110.9Z M1275.2 2106.4 L1277.1 2107.3 L1276.7 2108.8 L1274.8 2109.5 L1272.9 2109 L1271.6 2107.8 L1272.7 2106.4Z" fill="#1e7000"/>
<path d="M1285.6 2044.7 L1284.7 2044.1 L1284.5 2043.5 L1285.5 2042.9 L1287 2043.2 L1287.3 2043.8 L1287.3 2044.6Z M1260.5 2028.5 L1260.5 2027.3 L1263 2027 L1266 2027 L1265.6 2028.4 L1264.5 2029.5 L1261.6 2029.7Z M1317.4 1989 L1318.2 1991.9 L1317.3 1994.2 L1315.2 1995 L1313.2 1993.8 L1312.3 1990.8 L1314.6 1989Z M1322 2045.6 L1322 2044.1 L1322.7 2043.2 L1323.4 2043.9 L1323.9 2044.9 L1323.4 2046 L1322.7 2046.8Z M1290.2 1990.7 L1289 1994.1 L1286.6 1996.2 L1283.5 1995.2 L1282 1991.9 L1284.6 1989.7 L1287.1 1989.4Z M1264 2007.3 L1265.6 2008.9 L1266.1 2011.3 L1265.6 2014.1 L1263.6 2015.3 L1261.9 2012.8 L1262.5 2009.5Z M1310.9 1998.3 L1310.8 1999.1 L1309.7 1999.6 L1308.7 1999.1 L1308.4 1998.4 L1308.8 1997.5 L1310.2 1997.7Z M1282.6 2016.2 L1281.6 2014.8 L1281.7 2012.9 L1283.1 2012.7 L1284.2 2013.1 L1285 2014.5 L1283.9 2015.7Z M1308.5 2004.5 L1309.7 2004.7 L1311 2005.3 L1310.6 2006.7 L1309.3 2007.1 L1308.1 2006.8 L1307.6 2005.5Z M1317 1984.8 L1318.7 1982 L1320.5 1984.4 L1321.7 1987.7 L1320.4 1991.3 L1318.2 1991.8 L1317.1 1988.4Z M1255.8 2050.3 L1254.6 2050.6 L1253.8 2049.8 L1254.4 2048.9 L1255.4 2048.5 L1256.5 2049 L1256.8 2049.9Z M1267.7 1987.4 L1268 1988 L1266.6 1988.3 L1265.1 1988.3 L1264.6 1987.6 L1265.2 1987 L1266.8 1986.7Z M1312 2048 L1312.9 2044.9 L1315.1 2044.5 L1316.9 2045.6 L1316.8 2048.2 L1315.9 2051.1 L1313.3 2051Z M1257.4 2026.1 L1258.9 2028 L1256.4 2029.6 L1252.8 2029.9 L1250.8 2028 L1251.8 2026.1 L1254.7 2024.7Z M1262 1992.4 L1263.3 1992.8 L1263.4 1994.9 L1263.1 1997.4 L1261.5 1996.8 L1260.8 1995.2 L1260.7 1993.1Z M1293.1 2015.4 L1291.8 2016.1 L1290.5 2016.1 L1290.1 2014.3 L1290.4 2012.2 L1291.9 2011.9 L1293.1 2013.2Z M1272.7 2018.6 L1273 2017.3 L1274.8 2017 L1276.1 2017.7 L1276.2 2018.7 L1275.3 2019.4 L1274 2019.4Z M1259.1 2033.2 L1257.2 2032.3 L1257.1 2030.9 L1259.6 2030.4 L1262 2030.7 L1262.7 2032 L1261.7 2033.3Z M1264.7 2012.4 L1267.9 2012.4 L1269.1 2013.7 L1268.4 2015 L1265.6 2015.8 L1262.3 2015 L1262.7 2013.4Z M1261.3 2032.5 L1260.6 2031.8 L1260.8 2030.4 L1261.1 2029.2 L1261.9 2029.6 L1262.3 2030.7 L1262.1 2032Z M1287.4 2023.1 L1287.8 2022.3 L1289.4 2022.1 L1290.7 2022.5 L1290.8 2023.3 L1289.9 2024 L1288.1 2023.8Z M1257.5 2040.7 L1255.9 2040.9 L1254.8 2040 L1255.4 2038.8 L1256.8 2038.4 L1258.2 2038.8 L1258.3 2039.9Z M1301.8 2005.6 L1302.7 2006.2 L1301.7 2006.8 L1300.5 2007 L1299.3 2006.5 L1299.6 2005.9 L1300.6 2005.5Z M1312.2 2010.6 L1310.5 2010.3 L1308.8 2009.9 L1309.6 2009.1 L1310.9 2008.8 L1312.4 2008.9 L1313.2 2009.7Z M1254.8 2000.9 L1255 1999.4 L1256 1998.8 L1256.7 1999.7 L1257.2 2000.8 L1256.6 2002 L1255.6 2001.8Z M1292.2 2044.8 L1290.3 2044.2 L1288.9 2042.5 L1289.1 2039.7 L1290.8 2038.7 L1292.5 2039.4 L1293.4 2042.2Z M1292.5 2014.9 L1293.6 2014.8 L1294.4 2015.8 L1294.2 2017.2 L1293.3 2018.1 L1292.5 2017.3 L1291.9 2016.1Z M1316 2030.4 L1315.2 2029.8 L1315 2028.6 L1315.7 2027.7 L1316.6 2027.9 L1317 2028.9 L1316.9 2030Z M1290 2023.5 L1289.2 2025.2 L1288 2024.3 L1287.7 2022.4 L1288.2 2020.7 L1289.3 2020.6 L1290 2021.8Z M1323.2 2018.5 L1325.3 2019.7 L1326.4 2023.3 L1325.4 2027.4 L1322.9 2027.3 L1321.2 2024.7 L1320.9 2020.4Z M1298.6 2012.5 L1298.3 2013.6 L1297.2 2013.7 L1296.4 2013.3 L1295.9 2012.5 L1296.6 2011.6 L1297.8 2011.8Z M1263.8 2006.6 L1262.8 2006.6 L1261.9 2006 L1262.3 2004.9 L1263.2 2004.5 L1264.1 2004.9 L1264.3 2005.8Z M1274.5 2026.8 L1275 2025.8 L1277.1 2025.5 L1278.1 2026.5 L1278.2 2027.4 L1276.7 2027.9 L1275 2027.7Z M1306.3 2025.9 L1305.1 2026.2 L1304.2 2025.5 L1304 2024.6 L1305.1 2024 L1306.5 2024.2 L1306.8 2025.1Z M1296.9 2001.6 L1296.5 1999.3 L1297.2 1997 L1299 1997 L1300.6 1998.5 L1299.9 2000.9 L1298.6 2002.8Z M1308.9 2010.1 L1310.3 2009.8 L1311.2 2010.6 L1311.5 2011.6 L1310 2012.1 L1308.4 2011.8 L1308 2010.8Z M1278.6 2038.1 L1277.5 2037.8 L1276.5 2037.4 L1277 2036.4 L1277.7 2035.8 L1278.6 2036.3 L1279.2 2037.1Z M1258.8 2026.5 L1259.3 2027.8 L1259.1 2029.4 L1258.3 2029.8 L1257.7 2029 L1257.5 2027.6 L1258.1 2026.9Z M1312.6 2009.5 L1312.8 2010.6 L1312 2011.5 L1310.2 2011.7 L1308.6 2011.1 L1308.9 2010 L1310.5 2009.5Z M1310.2 2050.2 L1311.3 2050.7 L1312 2051.7 L1311 2052.5 L1309.4 2052.7 L1308.4 2051.7 L1309 2050.7Z M1308 2014 L1309.3 2014.2 L1310 2015.1 L1309.9 2016.4 L1309.1 2017.4 L1307.7 2017 L1307.3 2015.4Z M1296.9 1996.8 L1296.9 1997.7 L1296.4 1998.4 L1295.3 1998.7 L1294.6 1997.8 L1295.2 1997 L1295.9 1996.2Z M1323.5 1994.7 L1320.9 1994.2 L1319.8 1992.5 L1320.6 1990.7 L1322.7 1990.5 L1325.3 1990.9 L1324.7 1992.9Z M1299.1 2035.3 L1300.5 2035.4 L1300.4 2036.4 L1299.6 2037 L1298.6 2036.9 L1297.8 2036.3 L1298.1 2035.5Z M1297.5 2044.1 L1298.5 2044.1 L1299.5 2044.5 L1299.5 2045.7 L1298.5 2046.4 L1297.3 2046.1 L1296.9 2045Z M1351.6 2078 L1351.6 2079 L1350.7 2079.5 L1349.4 2079.6 L1348.8 2078.7 L1349.1 2077.7 L1350.4 2077.5Z M1383 2087.6 L1381.7 2087.9 L1380.7 2087.3 L1381.1 2086.6 L1381.9 2085.9 L1383 2086.4 L1384 2087Z M1382.1 2074.6 L1383.5 2076.1 L1384.7 2078.4 L1383.5 2080.9 L1381.5 2081.6 L1380.8 2078.8 L1380.7 2076.5Z M1368.1 2093.2 L1368.3 2093.8 L1367.7 2094.6 L1366.2 2094.5 L1365.1 2094 L1365.5 2093.2 L1366.8 2092.9Z M1324.9 2073 L1326.4 2073.6 L1327.2 2074.9 L1326.2 2076.2 L1324.7 2076.1 L1323.9 2075.2 L1324 2074.1Z M1326.5 2099.5 L1328.1 2101.8 L1329.3 2105 L1327.6 2107.8 L1325.2 2108 L1323.9 2104.8 L1324.6 2101.4Z M1381.2 2108.3 L1381.4 2107.4 L1382.5 2106.9 L1384.2 2107 L1384.3 2107.9 L1383.7 2108.6 L1382.3 2108.9Z M1344.5 2104.5 L1344.4 2105.9 L1343.4 2106.8 L1342.3 2106.3 L1341.8 2105.3 L1342.3 2104.5 L1343.2 2104.1Z M1369.3 2071.3 L1369.9 2070.6 L1370.8 2070.6 L1371 2071.9 L1371 2073.4 L1369.9 2073.5 L1369.1 2072.7Z M1365.3 2087.9 L1367.3 2089.9 L1364.8 2092.3 L1359.9 2091.9 L1357.2 2089.9 L1358 2087.4 L1362.2 2086.9Z M1373.1 2100.7 L1373.5 2099.9 L1374.9 2099.6 L1375.9 2100.3 L1375.5 2101.2 L1374.6 2101.6 L1373.3 2101.6Z M1365.7 2105 L1362.6 2104 L1362.6 2101.4 L1365.5 2100.3 L1368.5 2100.4 L1370.2 2102.5 L1368.5 2104.4Z M1334.4 2088.4 L1335.5 2087.8 L1336.8 2087.4 L1338.1 2087.9 L1338.1 2088.7 L1336.7 2089 L1335.3 2089.1Z M1336.4 2103 L1336.3 2101.4 L1336.5 2099.9 L1337.6 2099.9 L1338.2 2101 L1338.4 2102.4 L1337.5 2103.2Z M1327.5 2102.5 L1326.4 2103.2 L1325 2103.1 L1323.9 2102.6 L1324.1 2101.7 L1325.4 2101.2 L1326.8 2101.7Z M1363.9 2099.4 L1362.6 2099.4 L1361.7 2098.5 L1362.2 2097.5 L1363.3 2097 L1364.1 2097.6 L1364.5 2098.5Z M1326 2100.3 L1330.5 2099.7 L1332.3 2102.1 L1332.2 2104.4 L1328.6 2105.6 L1323.9 2105.1 L1324.1 2102.4Z M1333.2 2074.7 L1330 2073.6 L1331.8 2071.8 L1334.6 2070.4 L1338.8 2071.2 L1339.8 2073.4 L1337 2075Z M1385.2 2109 L1382 2107.2 L1382.2 2105.1 L1384.4 2102.9 L1389 2103.8 L1391.3 2105.8 L1390.2 2108.3Z M1355.1 2078.9 L1356.2 2076.7 L1358.2 2077.4 L1359.8 2078.7 L1359.3 2081.2 L1357.5 2082.1 L1356 2080.9Z M1370.6 2079.7 L1371.4 2080.6 L1371 2081.9 L1369.8 2081.9 L1369 2081.2 L1368.9 2080 L1369.7 2079.1Z M1326 2094.7 L1325.7 2095.8 L1324.9 2096.6 L1323.9 2096.1 L1323.4 2095.3 L1323.8 2094.4 L1324.8 2094.2Z M1333.9 2085.8 L1335.3 2085.4 L1337 2085.4 L1337.7 2086.2 L1337 2086.9 L1335.4 2087 L1334.5 2086.5Z M1384.2 2102.9 L1388.2 2103 L1390.2 2104.9 L1388.2 2106.4 L1385.6 2107.8 L1382.7 2106.5 L1382.3 2104.7Z M1352.9 2079.6 L1353.8 2079 L1355.1 2079.5 L1355.3 2080.5 L1354.3 2081.1 L1353.1 2081 L1352.4 2080.3Z M1352.6 2105.8 L1353.6 2108.5 L1350.9 2110.2 L1348 2110 L1344.9 2108.3 L1346.9 2105.8 L1349.6 2104.9Z M1359.1 2073.8 L1357.1 2074.3 L1355.9 2073.3 L1355.6 2072.1 L1357.7 2071.4 L1360.1 2071.7 L1360.1 2073Z M1393.6 2075.3 L1393.3 2076.4 L1391.8 2076.8 L1390.7 2075.9 L1390.8 2074.6 L1392.1 2074.2 L1393.6 2074.1Z M1348.5 2108.3 L1347.7 2107.6 L1347.6 2107 L1348.9 2106.5 L1350.2 2106.8 L1350.6 2107.4 L1349.9 2107.9Z M1357.9 2086.2 L1358.1 2084.9 L1359.3 2084.8 L1360.2 2085.3 L1360.5 2086.5 L1359.6 2087.3 L1358.5 2087.2Z M1385.7 2105.8 L1385.6 2108.3 L1384.2 2110.1 L1382.3 2109.6 L1381.3 2107.4 L1382 2105 L1384.1 2103.3Z M1359.6 2103.8 L1361.7 2104.3 L1361.9 2105.7 L1360.6 2106.7 L1358.8 2106.6 L1357.8 2105.7 L1357.9 2104.5Z M1355.3 2074.9 L1353.9 2077.4 L1350.5 2078.3 L1347.6 2076 L1348.9 2072.8 L1351.5 2070.8 L1355.2 2071.7Z M1344.8 2083.5 L1345.2 2085 L1345.1 2086.5 L1343.8 2087 L1342.9 2086 L1342.6 2084.7 L1343.3 2083.4Z M1350 2071.2 L1350.8 2069.9 L1352.6 2070.1 L1353.4 2071.3 L1353 2072.6 L1351.6 2073.4 L1350.4 2072.5Z M1357.9 2101.2 L1357 2101.6 L1356.4 2100.5 L1356.5 2099 L1357.2 2098.6 L1357.8 2098.7 L1358.1 2099.9Z M1347.3 2081.4 L1346.6 2080.5 L1346.1 2079.2 L1346.6 2077.8 L1347.5 2077.2 L1348.3 2078.6 L1348.1 2080.3Z M1321.7 2096.6 L1324.8 2096.3 L1327.5 2097.1 L1326.9 2098.4 L1325.1 2099.6 L1322.3 2099 L1320.1 2097.9Z M1365.8 2095.8 L1367.6 2096 L1367.8 2096.8 L1367.6 2097.5 L1366 2097.5 L1364.4 2097.2 L1365.1 2096.5Z M1326.3 2085.2 L1326.5 2086 L1325 2086.2 L1323.4 2086.1 L1323.5 2085.3 L1323.8 2084.6 L1325.5 2084.7Z M1341.4 2087.4 L1340.8 2088.4 L1339.6 2088.1 L1339 2087.4 L1339.3 2086.6 L1340.1 2086.3 L1341.3 2086.4Z M1371.3 2077.9 L1374.3 2077.7 L1376.2 2079.5 L1375.1 2081.6 L1372.2 2081.8 L1369.9 2081.1 L1369.2 2079.3Z M1391.1 2090.4 L1390.4 2092 L1389.3 2091.2 L1388.6 2089.6 L1389.1 2087.7 L1390.3 2087.6 L1391.2 2088.5Z M1381.9 2069.2 L1384.5 2069.6 L1385.4 2071 L1383.1 2071.8 L1380.3 2072.1 L1378.4 2070.9 L1378.9 2069.5Z M1351.3 2072.4 L1353.7 2072.5 L1355.5 2073.4 L1354.9 2074.6 L1352.6 2075 L1350.8 2074.4 L1350.6 2073.5Z M1351 1905 L1349.4 1904.8 L1349.3 1903.9 L1349.8 1903.1 L1351.1 1903.1 L1352.1 1903.6 L1352.2 1904.4Z M1329.5 1915.9 L1330.6 1914 L1332.2 1914.9 L1333.7 1916.2 L1333.1 1918.5 L1331.4 1919 L1330.2 1917.9Z M1362.1 1927.2 L1360.8 1927.7 L1359.3 1927.4 L1359 1926.6 L1359.7 1925.8 L1361.3 1926 L1362.3 1926.5Z M1353.9 1946.4 L1356 1945.2 L1359 1945.6 L1359.9 1947.4 L1358.7 1949.1 L1355.8 1949.3 L1353.4 1948.2Z M1351 1930.7 L1349.7 1930.2 L1349.2 1928.8 L1349.9 1927.7 L1350.9 1927 L1351.6 1928.2 L1351.8 1929.4Z M1360.5 1947.5 L1362.8 1947.8 L1363.7 1948.7 L1363.5 1949.8 L1361.6 1950.2 L1359.9 1949.6 L1358.6 1948.5Z M1355.6 1926.1 L1355.4 1924.8 L1357 1923.9 L1359.6 1923.7 L1360.9 1924.8 L1360.7 1926.2 L1358.1 1927Z M1340.8 1917.9 L1341.8 1914.8 L1344.1 1913 L1346.3 1916 L1345.7 1920.5 L1343.6 1922.1 L1341.3 1921.7Z M1363.8 1936.3 L1364.8 1940.9 L1363.5 1945.1 L1361.3 1945.4 L1359.3 1943.1 L1360 1938.9 L1361.4 1935.8Z M1344.6 1974.4 L1341.4 1973.8 L1340.9 1970.8 L1343.7 1969.4 L1346.8 1969.2 L1348.6 1971.5 L1347 1973.6Z M1352.8 1940.9 L1353.9 1938.9 L1355.5 1937.3 L1356.8 1940.4 L1356.4 1944.2 L1354.6 1945.1 L1353.4 1943.6Z M1357.2 1971.5 L1357.5 1970.1 L1358.3 1970.1 L1359 1970.6 L1359.1 1971.9 L1358.4 1972.7 L1357.6 1972.9Z M1343.7 1915.6 L1345.3 1915.7 L1345.6 1917.8 L1344.8 1919.4 L1343.4 1919.7 L1342.7 1918.2 L1342.7 1916.6Z M1341.5 1946.9 L1340.7 1946.3 L1340.1 1945.1 L1340.6 1943.6 L1341.5 1943.8 L1342 1944.5 L1342.2 1946Z M1333.5 1910.2 L1336.4 1908.1 L1339.4 1909.6 L1340.5 1911.8 L1339.7 1914.2 L1336.6 1914.9 L1334 1913.2Z M1356.5 1953.4 L1353.8 1955.7 L1351 1953.6 L1350.2 1950.8 L1351.7 1948.2 L1355 1948 L1356.9 1950.4Z M1339.4 1968.8 L1340.8 1969.7 L1339.8 1971 L1337.9 1971.3 L1336.5 1970.4 L1336.6 1968.9 L1338.2 1968.5Z M1347.7 1918.4 L1346.3 1919 L1344.9 1919.2 L1344.4 1917.9 L1344.9 1916.7 L1346.2 1915.9 L1347.5 1916.8Z M1347.6 1955.5 L1346.4 1955 L1346.4 1954.2 L1347.9 1954 L1349.3 1954 L1349.9 1954.7 L1349.3 1955.4Z M1336.2 1973.4 L1335 1973.2 L1334.5 1972.5 L1334.4 1971.6 L1335.7 1971.5 L1336.8 1971.8 L1337 1972.7Z M1345.4 1943.9 L1345 1945.7 L1344.1 1946.8 L1342.7 1946.5 L1342.4 1944.7 L1342.9 1943.2 L1344.3 1942.5Z M1335.5 1935.5 L1334.6 1939.1 L1332.2 1941.7 L1329.9 1938.4 L1329.8 1933.2 L1332.2 1931 L1334.4 1932.2Z M1358.8 1953.5 L1358.8 1955 L1356.5 1955.1 L1354.4 1954.5 L1353.9 1952.8 L1356.2 1952.2 L1358 1952.4Z M1332.9 1942 L1334 1941.5 L1335.2 1942 L1335.7 1942.8 L1334.9 1943.7 L1333.2 1943.7 L1332.7 1942.8Z M1344.1 1921.5 L1345.3 1921.8 L1345.3 1922.7 L1344.4 1923.2 L1343.3 1923 L1342.8 1922.4 L1342.8 1921.5Z M1357.2 1940.5 L1358.7 1938.7 L1361 1938.8 L1361.8 1942.3 L1360.6 1945.5 L1358.2 1946.2 L1357 1943.2Z M1340.7 1907.7 L1340.8 1910 L1340.1 1912.4 L1337.2 1912.5 L1335.2 1910.5 L1335.9 1907.8 L1338.3 1906.5Z M1333.4 1955.5 L1333.4 1956.5 L1331.8 1956.9 L1330.1 1956.9 L1329.9 1956 L1330.1 1955 L1332 1954.8Z M1337 1962.9 L1336 1962.2 L1336 1961.3 L1337.4 1960.7 L1339.5 1960.8 L1340.3 1962 L1338.7 1962.8Z M1346.4 1930.9 L1347.9 1928.5 L1352.8 1929.3 L1357.3 1930.6 L1354.6 1932.8 L1350.8 1933.5 L1346.6 1932.9Z M1351.3 1924.9 L1352.5 1923.5 L1354.2 1922.9 L1355 1924.5 L1355.7 1926.3 L1353.8 1927.1 L1351.9 1926.7Z M1355.4 1951.6 L1354.3 1952.2 L1352.6 1952.2 L1351.9 1951.2 L1352.9 1950.3 L1354.3 1950.1 L1355.5 1950.7Z M1341.6 1924.2 L1341.4 1923.3 L1342.8 1922.9 L1344.2 1923.1 L1345.1 1923.7 L1344.2 1924.2 L1343 1924.5Z M1342.1 1944.9 L1342.3 1943.2 L1344.2 1942 L1346.3 1943 L1346.1 1944.9 L1345 1946.1 L1343.1 1946.5Z M1350.5 1924.6 L1353 1925.4 L1353.3 1927 L1351.9 1928.5 L1348.9 1928.7 L1346.4 1927.2 L1348.2 1925.4Z M1343.3 1947.2 L1344.4 1947.1 L1344.7 1948.1 L1344.7 1949.1 L1343.5 1949.4 L1342.7 1948.7 L1342.4 1947.8Z M1338 1972.9 L1336.7 1974 L1335.2 1974.2 L1334.4 1972.5 L1334.7 1970.5 L1336.3 1970.1 L1337.8 1970.8Z M1355.1 1946.9 L1356.2 1945.2 L1359.6 1945 L1361.7 1946.2 L1361.3 1947.7 L1359.2 1948.5 L1356.3 1948.4Z M1354.5 1942.7 L1353.4 1941.5 L1353.3 1939.3 L1354.2 1937.5 L1355.4 1938.3 L1356.1 1940.1 L1355.9 1942.5Z M1351.5 1906.4 L1352.2 1905.5 L1353.7 1905.2 L1354.4 1906.5 L1354.1 1907.9 L1352.7 1908.5 L1351.4 1907.8Z M1342.6 1901.3 L1344.1 1901.9 L1344.7 1902.8 L1343.4 1903.5 L1341.6 1903.5 L1340.9 1902.7 L1341.3 1901.9Z M1343.8 1903.2 L1345 1903 L1345.5 1904 L1345.5 1905.1 L1344.3 1905.3 L1343.2 1905 L1342.9 1903.9Z M1330.7 1949.5 L1330.9 1948.3 L1331.5 1947.6 L1332.3 1948 L1332.3 1949.4 L1332 1950.7 L1331.1 1950.8Z M1337 1907.9 L1337.8 1907.3 L1339.5 1907.3 L1340.4 1907.9 L1340.1 1908.6 L1338.5 1909 L1337.4 1908.5Z M1330.7 1912.4 L1331.9 1912.2 L1332.8 1912.9 L1332.3 1913.7 L1331.4 1914.3 L1330.2 1914 L1330.2 1913.1Z M1429.3 1893.3 L1429.8 1892.5 L1431 1892.1 L1431.9 1892.6 L1432.4 1893.2 L1431.6 1893.9 L1430.3 1894.1Z M1468.6 1899.4 L1466.6 1899.2 L1465.7 1898.4 L1465.7 1897.5 L1467.4 1897 L1469.4 1897.4 L1469.7 1898.5Z M1465.9 1883.2 L1465.1 1884.7 L1464.1 1884.1 L1463.3 1882.8 L1463.8 1881.1 L1464.7 1880.9 L1465.7 1881.2Z M1472.8 1914.9 L1470.4 1916 L1468.3 1914.9 L1467.4 1913.4 L1468.6 1911.8 L1471 1912.1 L1473.3 1913Z M1483.1 1838.6 L1482.2 1836.6 L1483.3 1834.8 L1484.7 1834.9 L1485.9 1835.9 L1486 1838.1 L1484.6 1839.6Z M1477.7 1833.6 L1479.5 1832.1 L1481.9 1832.6 L1481.9 1836.8 L1481.1 1840.9 L1478.6 1839.6 L1476.8 1837.3Z M1461.2 1835.3 L1461.9 1836 L1460.8 1836.6 L1459 1836.5 L1458 1835.9 L1458.8 1835.2 L1460.1 1834.8Z M1465.7 1912.7 L1467.7 1913.9 L1465.9 1915.1 L1463.6 1915.6 L1460.5 1915.1 L1461 1913.5 L1462.9 1912.2Z M1471.1 1854.1 L1471.1 1855.7 L1470.1 1856.8 L1468.3 1857.1 L1467.4 1855.3 L1467.9 1853.3 L1469.8 1852.8Z M1497.4 1853.2 L1496.4 1852.6 L1495.8 1851.7 L1496.4 1851 L1497.3 1850.8 L1498.2 1851.2 L1498.2 1852.3Z M1468 1911.3 L1467.4 1913.3 L1465.2 1915.1 L1462.7 1913.6 L1462.1 1911.8 L1462.9 1909.5 L1466 1910Z M1474.4 1850 L1473.7 1851.1 L1472.5 1851.2 L1471.4 1850.5 L1471.4 1849 L1472.7 1848.6 L1473.8 1849Z M1446.8 1891.8 L1447.7 1891.9 L1448.3 1892.7 L1448.5 1894.2 L1447.7 1895 L1446.8 1894.7 L1446.6 1893.3Z M1473.6 1858.9 L1474.1 1857.8 L1475.8 1857.1 L1478 1857.5 L1478.9 1858.6 L1477.6 1859.5 L1475.4 1859.6Z M1444.4 1912.2 L1445.6 1913.1 L1446 1914.8 L1443.6 1915.5 L1441.2 1914.9 L1440.6 1913 L1442.5 1912Z M1496.7 1885.3 L1497.7 1883.3 L1499.6 1883.2 L1500.9 1884.7 L1500.8 1887 L1499.2 1888.1 L1497.6 1887.3Z M1486.3 1862.5 L1487.5 1863.1 L1487.9 1864.2 L1486.3 1864.6 L1484.8 1864.5 L1484.2 1863.6 L1484.5 1862.5Z M1447.2 1884.9 L1446.1 1886.4 L1444.8 1885.7 L1444.1 1884.4 L1444.1 1882.3 L1445.6 1881.8 L1446.9 1882.8Z M1494.5 1854.2 L1495 1856 L1493.9 1857.4 L1492.5 1856.9 L1492.1 1855.3 L1492.1 1853.4 L1493.5 1853.3Z M1482.2 1853.5 L1483.2 1853.6 L1483.8 1854.4 L1483.5 1855.4 L1482.5 1855.9 L1481.7 1855.1 L1481.3 1854.2Z M1462.5 1902.2 L1463.6 1902.1 L1464.3 1903.2 L1464.1 1904.6 L1463.3 1905.6 L1462.4 1904.7 L1462.2 1903.5Z M1453.5 1832.6 L1454.4 1835.7 L1454.3 1839.2 L1451.8 1839.9 L1450.1 1837.9 L1449.2 1834.9 L1451.2 1833.2Z M1492.5 1914.5 L1490.7 1914.1 L1489.9 1913 L1491.4 1912.1 L1493.7 1911.6 L1495.3 1912.8 L1495 1914.4Z M1473.9 1851.3 L1475.4 1851 L1477 1851.3 L1477.1 1852.2 L1476.2 1852.9 L1474.5 1853 L1473.5 1852.2Z M1459.6 1884.2 L1460 1883.5 L1460.9 1882.8 L1462.2 1883.3 L1462.5 1883.9 L1462.2 1884.6 L1460.7 1884.8Z M1437.6 1871.9 L1436.1 1872.6 L1434.6 1871.8 L1434.4 1870.6 L1435.7 1869.9 L1437.5 1869.7 L1437.8 1870.9Z M1451.8 1841.4 L1451.3 1842 L1450.3 1842.3 L1449.4 1841.7 L1449.7 1840.9 L1450.5 1840.2 L1451.6 1840.5Z M1491.5 1904.9 L1489.7 1903 L1491.3 1900.9 L1495.5 1900.9 L1500 1901.7 L1498.5 1903.9 L1495.8 1905.8Z M1433.5 1869.2 L1433.4 1870.3 L1432.6 1870.8 L1431.5 1870.7 L1431.3 1869.5 L1431.9 1868.6 L1432.8 1868.4Z M1454.5 1902.5 L1453.4 1902.7 L1452.7 1902.1 L1452.5 1901.1 L1453.1 1900 L1454.3 1900.2 L1454.7 1901.4Z M1458.9 1844.9 L1460.4 1846 L1461.2 1847.6 L1460.4 1849.4 L1458.7 1850.3 L1457.3 1848.6 L1457.4 1846.3Z M1459.5 1881.9 L1457.8 1881.2 L1457.5 1880.2 L1458.5 1879.1 L1460.5 1879.6 L1462.2 1880.2 L1461.1 1881.2Z M1440.9 1864.6 L1439.1 1863.4 L1439.9 1861.7 L1441.9 1861.2 L1443.8 1861.6 L1444.3 1863.3 L1442.8 1864.4Z M1482.4 1829.2 L1482.6 1833.6 L1482.1 1838.5 L1479.3 1837.9 L1477.2 1835.1 L1478.1 1830.8 L1479.8 1827.8Z M1430.9 1903.1 L1429.9 1902.9 L1429.2 1902.3 L1429.2 1901.3 L1430.2 1900.7 L1431.4 1901.1 L1431.4 1902.2Z M1484.6 1866.2 L1484 1863.5 L1484.6 1860.1 L1488.5 1860.1 L1491.5 1862.3 L1490.2 1865.3 L1487.8 1867.3Z M1447.4 1855 L1448.9 1854.3 L1450.1 1855.3 L1450.4 1856.6 L1449.3 1857.7 L1447.6 1857.5 L1447.2 1856.2Z M1489.2 1892.3 L1489.8 1893 L1489.8 1893.7 L1488.4 1894.1 L1487.1 1893.7 L1486.6 1893 L1487.6 1892.5Z M1493 1878.5 L1493.1 1877.6 L1494 1876.9 L1495.2 1877.3 L1495.8 1878.1 L1495.1 1878.8 L1494 1879Z M1435.5 1876 L1435.5 1874.2 L1436 1873.1 L1436.7 1872.5 L1437.1 1873.9 L1437.3 1875.5 L1436.5 1876.7Z M1432.5 1876.7 L1430.5 1876.5 L1429.7 1873.1 L1431.2 1870.6 L1433.2 1870.5 L1435.2 1872.4 L1434.2 1875.6Z M1486 1900.8 L1487.2 1901.9 L1487.2 1903.6 L1486.1 1904.7 L1484.6 1904.2 L1483.8 1902.8 L1484.7 1901.5Z M1454.4 1915.7 L1453.1 1915 L1453.3 1914 L1455 1913.8 L1457 1913.8 L1457.4 1914.9 L1456 1915.5Z M1435.7 1856.7 L1437.2 1857.5 L1436.8 1858.6 L1435.2 1859 L1433.6 1858.8 L1432.6 1857.9 L1434.1 1857.2Z M1445 1834.8 L1444 1834.1 L1444.6 1833.2 L1445.6 1832.4 L1447 1832.9 L1447 1834.2 L1446.3 1835.2Z M1314.6 1846.5 L1312.7 1846.7 L1311.6 1844.7 L1311.9 1842.2 L1313.7 1840.4 L1316.3 1841.3 L1316.6 1844.8Z M1311.2 1843.4 L1310.2 1840.9 L1311 1838.5 L1312.2 1837.7 L1313.3 1838.7 L1314.2 1841.2 L1312.7 1842.6Z M1323.9 1856.8 L1323.9 1855.8 L1324.5 1855.1 L1325.5 1855.1 L1326 1855.7 L1326.1 1856.6 L1325.1 1857.2Z M1314.9 1828.1 L1317.7 1828.4 L1318.3 1830.3 L1316.7 1831.8 L1314 1831.9 L1312.6 1830.5 L1312.7 1828.9Z M1334.5 1847.2 L1335.4 1847.8 L1335.2 1848.5 L1333.9 1848.8 L1332.1 1848.7 L1331.8 1847.7 L1332.9 1847Z M1345.4 1839.8 L1344.3 1840.2 L1343.5 1839.5 L1343.2 1838.6 L1343.9 1837.9 L1344.9 1837.7 L1345.3 1838.7Z M1299.5 1844.5 L1301.9 1844 L1303.5 1845.4 L1304.1 1847.7 L1302.8 1850.1 L1300.2 1849.8 L1299.3 1847.2Z M1337.2 1851.8 L1337.2 1853 L1336.3 1853.8 L1335.3 1853.1 L1335.1 1851.8 L1335.7 1850.8 L1336.7 1850.9Z M1309.2 1839.4 L1309.5 1841.7 L1308.2 1842.8 L1307.2 1841.6 L1306.6 1839.9 L1307.2 1837.9 L1308.5 1837.3Z M1296.1 1856.8 L1294.4 1855.1 L1293.7 1853 L1295.9 1851.7 L1298.2 1852.5 L1299.5 1854 L1298.7 1855.8Z M1299.8 1856.3 L1298.6 1855.9 L1298.2 1855.1 L1298.8 1854.3 L1300.2 1854 L1300.8 1854.9 L1301.2 1855.9Z M1337.9 1849.4 L1336.9 1847.6 L1339.3 1846.3 L1342.7 1846.4 L1345.7 1847.4 L1345.2 1849.2 L1341.6 1849.5Z M1309.2 1844.7 L1308.5 1845.1 L1307.7 1844.6 L1307.6 1843.3 L1308.3 1842.4 L1309.1 1842.7 L1309.5 1843.7Z M1339.6 1844.2 L1341.4 1844.6 L1342.8 1846.1 L1342.3 1848.4 L1340.3 1848.4 L1338.3 1848.1 L1338.7 1846Z M1294.6 1830.1 L1295.9 1831 L1295.3 1832.3 L1292.4 1832.6 L1290.3 1831.7 L1291 1830.5 L1292.6 1829.8Z M1300.6 1835.2 L1301.6 1835.9 L1301.7 1836.9 L1300.5 1837.7 L1298.9 1837.2 L1298 1836.2 L1299 1835.1Z M1336.5 1843 L1336.8 1842.2 L1338.1 1841.5 L1339.7 1842 L1340.3 1843 L1339 1843.6 L1337.6 1843.6Z M1303.9 1841.7 L1303 1841.2 L1302.3 1840.6 L1303.6 1840.2 L1304.9 1840.3 L1305.9 1840.8 L1305.4 1841.5Z M1307.8 1850.6 L1305.6 1849.1 L1307 1846.9 L1309.7 1845.6 L1312.6 1847 L1312.4 1849.6 L1310.5 1851.7Z M1338.3 1833.9 L1338.8 1832.4 L1341.9 1832 L1344.6 1832.7 L1346.2 1834.3 L1343.1 1835.5 L1339.7 1835.2Z M1342.8 1829.2 L1343.8 1829.8 L1344.2 1830.8 L1343.1 1831.3 L1342 1831.1 L1341.1 1830.5 L1341.7 1829.7Z M1293.8 1828.4 L1295 1828.4 L1295.5 1829.3 L1294.7 1830.1 L1293.4 1830.2 L1292.6 1829.5 L1292.6 1828.7Z M1311 1853.2 L1313.8 1853.4 L1315 1854.5 L1315 1855.6 L1312.8 1856.4 L1310.7 1855.6 L1310.1 1854.5Z M1304.5 1834.6 L1305.7 1831.7 L1307.5 1832.7 L1308.6 1834.7 L1308.1 1837.2 L1306.7 1839.5 L1305.1 1837.6Z M1291.9 1835.3 L1292.8 1834.7 L1293.7 1835.1 L1294.2 1835.8 L1293.9 1836.8 L1292.8 1837 L1291.9 1836.4Z M1299.7 1827.5 L1302.5 1828.5 L1304.3 1830.1 L1302.5 1831.6 L1299.9 1832.3 L1297.2 1831.2 L1297.7 1829.2Z M1324.7 1857.7 L1322.7 1857.2 L1322.2 1856.3 L1323.5 1855.6 L1325.2 1855.6 L1327.4 1856 L1326.6 1857.1Z M1331.9 1833.6 L1336 1833.5 L1337.4 1835.5 L1335.4 1837 L1332.1 1838.2 L1329.6 1836.6 L1328.3 1834.6Z M1320.3 1841.4 L1319.9 1839.9 L1320.2 1837.7 L1321.5 1838 L1322.1 1839.4 L1322.2 1841.2 L1321.2 1842.6Z M1326.3 1853.9 L1326.3 1855.5 L1325.6 1856.6 L1324.8 1855.7 L1324.3 1854 L1325 1852.6 L1325.8 1852.9Z M1313.3 1847.8 L1311.8 1848 L1310.8 1847 L1311.6 1846.1 L1312.8 1846 L1313.8 1846.3 L1314.2 1847.1Z M1314.1 1842.2 L1313.6 1841.3 L1313.4 1840.3 L1314.3 1839.9 L1315.4 1840 L1315.8 1841.1 L1315.1 1841.8Z M1332.1 1839.6 L1330.6 1841.7 L1328.3 1842 L1326.4 1840.2 L1327.1 1837.7 L1328.9 1835.6 L1331.1 1837.2Z M1329.1 1854.7 L1329.2 1855.8 L1329.1 1857.1 L1328.1 1856.9 L1327.5 1856.1 L1327.4 1854.8 L1328.3 1854.5Z M1297 1849 L1296.3 1849.5 L1295.7 1848.8 L1295.2 1847.8 L1296.1 1847 L1296.9 1847.4 L1297.6 1848.1Z M1305.8 1854.4 L1304.7 1854.9 L1303.6 1854.3 L1303.8 1853.2 L1304.4 1852.4 L1305.5 1852.3 L1306.1 1853.3Z M1340 1831.7 L1340 1831 L1340.8 1830.3 L1342.2 1830.5 L1343.3 1831 L1342.6 1831.7 L1341.4 1832.1Z M1299.8 1846.4 L1299.3 1845.5 L1299.3 1844.2 L1300.4 1843.7 L1301.4 1844.5 L1301.4 1845.8 L1300.7 1846.8Z M1333.8 1855.1 L1335.6 1855.6 L1335.6 1856.6 L1334.9 1857.5 L1333 1857.4 L1331.6 1856.7 L1332.1 1855.6Z M1302.4 1828.3 L1303.9 1827.4 L1305.2 1829.7 L1304.5 1832.7 L1303.3 1835.1 L1301.8 1833.4 L1301.1 1830.3Z M1306.1 1834.7 L1307.1 1834.7 L1308.2 1835.2 L1307.5 1836 L1306.5 1836.6 L1305.1 1836.2 L1305 1835.1Z M1298 1833.5 L1297.8 1830.5 L1299 1828.3 L1300.5 1829.1 L1301.9 1831.5 L1300.7 1834.2 L1299.3 1835.5Z M1329 1853.3 L1326.9 1852.4 L1326.3 1849.3 L1327.5 1846.6 L1329.6 1846.8 L1331.3 1848.7 L1331.1 1852Z M1326.4 1833.8 L1325.4 1836.5 L1323.4 1837.6 L1322.3 1834 L1322.9 1830.4 L1324.5 1828.6 L1326.1 1830.5Z M1341.1 1845.7 L1341.5 1846.8 L1339.6 1847 L1337.8 1847.1 L1337.4 1846.1 L1338.2 1845.3 L1340 1844.9Z M1391.4 1895.5 L1391 1894.6 L1391.2 1893.6 L1391.8 1893 L1392.6 1893.5 L1392.4 1894.9 L1392.1 1896Z M1386.5 1913.6 L1383.8 1912.8 L1382.2 1911.6 L1383.1 1910 L1386.4 1909.4 L1388.2 1910.9 L1388.4 1912.3Z M1415.7 1921.4 L1414.7 1921.8 L1413.3 1921.7 L1412.8 1920.8 L1413.7 1920.1 L1415.2 1919.9 L1416.2 1920.6Z M1419.4 1903.7 L1416.9 1904.4 L1414.4 1904.4 L1413.9 1903.2 L1414.2 1902.1 L1416.6 1901.6 L1418.4 1902.5Z M1397.4 1914.2 L1397.3 1912.8 L1398.2 1912.2 L1398.8 1913 L1399.3 1914.1 L1398.7 1915.3 L1397.9 1915.3Z M1391.7 1882.6 L1392.6 1882.7 L1393.3 1883.1 L1393.4 1884.6 L1392.8 1885.5 L1392.1 1885.3 L1391.6 1884.2Z M1391.7 1921.2 L1393.2 1920.1 L1395.1 1920.1 L1397.5 1920.7 L1397 1922.5 L1394.6 1922.9 L1392.3 1922.7Z M1415.8 1918 L1414.9 1918 L1413.9 1917.7 L1413.8 1916.6 L1414.7 1916 L1415.8 1916 L1416.1 1917Z M1415.6 1889.5 L1415.6 1888.4 L1416.1 1887.5 L1418 1887.2 L1419.2 1888.1 L1418.6 1889.1 L1417.4 1889.7Z M1416.1 1881.5 L1415.3 1878.5 L1417.7 1876.2 L1421.6 1875.8 L1423.8 1878.5 L1423.4 1881.7 L1419.6 1882.8Z M1406.4 1873.4 L1403.9 1873.3 L1403.3 1870.1 L1404.3 1867 L1407.1 1866.2 L1409.4 1868.8 L1409 1872.7Z M1417.6 1887.7 L1419.2 1888 L1419.1 1888.8 L1418 1889.2 L1416.3 1889.3 L1416 1888.6 L1416.3 1888Z M1409.7 1873.2 L1409.1 1871.3 L1410.1 1869.7 L1411.7 1869.7 L1412.8 1871.2 L1412.2 1873.1 L1411 1874.1Z M1381.3 1902.6 L1384.3 1902.2 L1387.1 1902.9 L1387 1904.7 L1384.8 1905.5 L1382 1905.7 L1380.7 1904.2Z M1406.4 1877.1 L1405.7 1875.5 L1406.6 1874.5 L1408.1 1874 L1409.8 1874.5 L1410.3 1876 L1408.4 1876.6Z M1397 1885.2 L1398.4 1884.4 L1399.8 1885.3 L1400.1 1886.7 L1398.6 1887.3 L1397.1 1887.4 L1396.5 1886.3Z M1380.5 1919.5 L1381.4 1917.9 L1383.7 1917.5 L1386.5 1917.6 L1386.8 1919.2 L1385.2 1920.4 L1382.8 1920.3Z M1405.2 1919.8 L1402.4 1920 L1400.3 1917.7 L1400.2 1913.6 L1402.4 1911.5 L1404.6 1912.3 L1406.3 1915.6Z M1408.5 1867.6 L1409.1 1868.4 L1408.8 1869.3 L1407.6 1869.4 L1406.6 1869 L1406.5 1868.2 L1407.3 1867.7Z M1425.4 1916.5 L1423.6 1917.4 L1420.9 1917.5 L1419.4 1916.4 L1420.3 1915.2 L1422.5 1914.9 L1424.7 1915.3Z M1399.7 1877.5 L1398.6 1878.2 L1397.1 1877.7 L1397.2 1876.8 L1398 1876.2 L1399.3 1875.9 L1400.3 1876.7Z M1392.4 1910.9 L1392.5 1907.7 L1395.7 1906.1 L1399.4 1906.8 L1399.2 1910.1 L1397.8 1912.1 L1395.1 1912.4Z M1422.5 1885.2 L1421.8 1885.5 L1421.3 1884.4 L1421.5 1883.2 L1421.9 1882.6 L1422.6 1882.5 L1422.7 1883.9Z M1392.3 1891.8 L1392.4 1892.8 L1390.7 1893.2 L1388.7 1893.1 L1388.5 1892.2 L1389.1 1891.5 L1390.9 1891Z M1398.8 1891.9 L1401 1890.8 L1402.4 1893.5 L1402.9 1896.9 L1400.6 1897.8 L1398.6 1897.3 L1398.1 1894.6Z M1392.2 1878.2 L1395.2 1878.3 L1395.6 1879.9 L1393.5 1880.8 L1390.8 1881.1 L1389 1879.9 L1389.9 1878.6Z M1392.7 1871 L1393.1 1872 L1392.5 1872.9 L1391.6 1873.2 L1390.9 1872.5 L1390.8 1871.5 L1391.6 1871Z M1384.4 1910.5 L1386.4 1910.6 L1387.3 1911.4 L1386.9 1912.2 L1385.3 1912.3 L1383.6 1912.1 L1383.4 1911.3Z M1395.5 1912.2 L1397.5 1913.5 L1397.6 1916.2 L1395.5 1917.5 L1393.2 1917.2 L1392.3 1914.8 L1393.5 1913Z M1417.7 1897 L1418.7 1896.6 L1420.2 1896.6 L1420.4 1897.4 L1420.1 1898.2 L1418.5 1898.2 L1417.4 1897.7Z M1398.4 1920.9 L1399.6 1920.3 L1400.6 1920.7 L1401.3 1921.5 L1400.9 1922.6 L1399.6 1923 L1398.6 1922.2Z M1421.4 1879.3 L1422.9 1880.6 L1421.8 1881.8 L1419.4 1882.6 L1416.8 1881.8 L1416.8 1880.4 L1418.3 1879.1Z M1422.7 1920.2 L1423.2 1923.6 L1419.7 1924 L1416.2 1924.3 L1415.1 1920.9 L1417.7 1918.8 L1420.7 1917.8Z M1396.7 1906.6 L1400.4 1907.3 L1401.2 1909.4 L1399 1911.6 L1394.8 1910.8 L1391.6 1909.4 L1392.7 1907.1Z M1395.1 1923.1 L1393.1 1921.1 L1392.5 1918.5 L1394.2 1916.7 L1396.9 1916 L1398.4 1918.7 L1397.2 1921.2Z M1417.5 1899.2 L1414.8 1899 L1415.2 1897.3 L1416.3 1896.2 L1418.4 1895.9 L1419.6 1897.1 L1419.3 1898.4Z M1415.2 1899.8 L1412.8 1899.3 L1411.3 1898.2 L1411.4 1896.6 L1413.7 1896 L1416.3 1896.3 L1416.6 1898.2Z M1401 1890 L1400.2 1890 L1399.5 1889.2 L1399.8 1888.1 L1400.7 1887.7 L1401.6 1888.2 L1401.8 1889.4Z M1423.5 1898.2 L1420.7 1897.1 L1421 1895 L1424.3 1894.6 L1427.7 1894.6 L1428.6 1896.5 L1427 1898.3Z M1382.9 1912 L1384.2 1914 L1383 1916.1 L1381.1 1916.9 L1379.1 1915.5 L1379.5 1913 L1380.9 1910.7Z M1424.2 1908.5 L1421.6 1910.2 L1418.5 1910.8 L1416.9 1908.9 L1416.3 1906.7 L1419.4 1905.9 L1423 1905.9Z M1408.4 1871.6 L1406.9 1871.6 L1405.3 1871.3 L1405.2 1869.4 L1406.4 1868.1 L1407.9 1868.6 L1408.5 1869.9Z M1401.1 1902.3 L1404.9 1902.2 L1408 1903.6 L1408.3 1906.3 L1404.1 1907.3 L1401 1906.1 L1398.7 1904.2Z M1419.8 1896 L1417.1 1896.4 L1415.5 1895 L1415.8 1893.4 L1417.9 1892.5 L1420.7 1892.8 L1421.8 1894.6Z M1403.1 1882.3 L1400.4 1881.9 L1399 1880.3 L1402 1879.6 L1405.1 1879 L1406.9 1880.5 L1406.2 1882.1Z M1452.1 1867.4 L1450.6 1866 L1449.9 1864.6 L1450.8 1863 L1452.8 1863.4 L1453.9 1864.5 L1454.2 1866.3Z M1503.6 1872 L1503.4 1873.1 L1502.3 1873.6 L1501.3 1873.1 L1501 1871.8 L1501.9 1870.9 L1503.1 1870.9Z M1483.2 1918.5 L1481.9 1917.8 L1481.8 1916.3 L1482 1914.7 L1483.4 1914.9 L1484.5 1915.7 L1484.2 1917.3Z M1426 1858.1 L1425.6 1856.5 L1427.3 1855.3 L1429.5 1855.7 L1431.1 1856.9 L1429.9 1858.3 L1427.9 1859.1Z M1484.2 1939.9 L1484.9 1939.3 L1486 1939.4 L1486.2 1940.2 L1485.8 1940.9 L1484.9 1941.3 L1484 1940.7Z M1503.2 1941.2 L1504.3 1943.8 L1504.1 1946.2 L1502.6 1947.9 L1500.6 1946.8 L1500.2 1944.4 L1500.8 1941.8Z M1502.2 1838.8 L1502.2 1839.8 L1501.4 1840.6 L1500.1 1840.2 L1499.6 1839.3 L1500.1 1838.5 L1501.3 1838.1Z M1403.9 1889.3 L1403.3 1891.2 L1401.4 1891.4 L1400.1 1890 L1400.3 1888.1 L1401.7 1887 L1403.7 1887.1Z M1412.6 1841 L1412.1 1842.1 L1411.1 1842.1 L1411 1840.7 L1411 1839.5 L1411.8 1839.3 L1412.7 1839.6Z M1502.8 1923.9 L1503.4 1923.1 L1504.3 1923 L1505.2 1923.3 L1505.4 1924.4 L1504.4 1924.8 L1503.4 1924.7Z M1402.7 1901.8 L1402.7 1898.4 L1404.9 1897.4 L1406.4 1899.6 L1406.9 1902.6 L1405.3 1904.2 L1403.4 1904.6Z M1401.2 1870 L1401.8 1868.6 L1402.9 1867.5 L1404.4 1868.3 L1404.6 1870 L1403.8 1871.6 L1402.3 1871.1Z M1502.6 1837.3 L1501.4 1837.3 L1500.9 1835.6 L1501.1 1833.9 L1502.2 1832.4 L1503.5 1833.6 L1503.7 1836Z M1503.1 1893.4 L1503.2 1895.3 L1502.3 1897.4 L1499.6 1896.8 L1498.3 1895.3 L1498.7 1893.6 L1500.8 1892.2Z M1433.5 1920 L1432.4 1921.4 L1430.5 1921.9 L1428.6 1921.6 L1427.7 1920.6 L1428.8 1919.6 L1430.9 1919.4Z M1472.5 1888.7 L1472.9 1887.6 L1473.8 1887.5 L1474.8 1887.9 L1474.8 1889.4 L1473.8 1890.1 L1472.8 1889.9Z M1401.1 1881.3 L1401.2 1879.2 L1402.1 1877.5 L1403.6 1877.9 L1404.2 1880 L1403.7 1882.4 L1402.2 1883Z M1410 1961.8 L1411.7 1960.6 L1413.8 1960.2 L1415 1961.8 L1414.7 1963.6 L1412.7 1964.5 L1410.8 1963.7Z M1461 1834.6 L1460.8 1833.5 L1461.4 1832.7 L1462.4 1832.5 L1462.9 1833.4 L1462.7 1834.4 L1462 1835.3Z M1470 1937.6 L1470 1938.6 L1469.5 1939.5 L1468.2 1939.7 L1467.3 1938.8 L1467.8 1937.7 L1468.9 1936.9Z M1469.5 1832.8 L1469.5 1833.8 L1468.2 1834 L1467.4 1833.3 L1466.8 1832.3 L1468.1 1831.8 L1469.4 1831.9Z M1433.9 1953 L1433.1 1951 L1433.5 1948.8 L1435.3 1948.9 L1436.7 1949.6 L1437.1 1951.6 L1435.8 1953.3Z M1480.2 1888.1 L1482.8 1889.3 L1484 1892.5 L1481.5 1894.9 L1478.6 1894.4 L1476.6 1892.2 L1478.1 1889.6Z M1458.1 1911 L1458.1 1914.2 L1456.8 1915.9 L1455.2 1915.7 L1454.6 1913.1 L1455.2 1910.7 L1456.7 1908.8Z M1465.2 1841.1 L1464.2 1841.6 L1463.3 1841.4 L1462.6 1840.5 L1462.9 1839.1 L1464.2 1839.2 L1465.5 1839.8Z M1411.7 1938.4 L1412.7 1938.5 L1413 1939.7 L1413.1 1941.1 L1412.1 1941.6 L1411.5 1940.7 L1411 1939.5Z M1445 1887.8 L1442.8 1887.5 L1442 1886.4 L1443.5 1885.7 L1445.5 1885.4 L1447.1 1886.1 L1446.5 1887.1Z M1464.9 1909.1 L1466 1906.2 L1469.1 1905.7 L1471.1 1907.7 L1471.4 1910.5 L1469.2 1912.8 L1466.2 1911.7Z M1475.5 1853 L1476.5 1852 L1477.6 1851.8 L1478.5 1852.8 L1478.6 1854.5 L1477.3 1855.4 L1476.1 1854.4Z M1493.3 1956.7 L1492.7 1955.3 L1493.7 1954.4 L1494.7 1954.5 L1495.7 1955.4 L1495.4 1957 L1494.2 1957.3Z M1477.3 1943.9 L1478.6 1945.2 L1478.4 1947.2 L1476.9 1948 L1475.5 1947.2 L1474.6 1945.7 L1475.6 1944.1Z M1437.9 1928.9 L1439.8 1929.5 L1441.2 1930.6 L1439.7 1931.8 L1437.6 1931.9 L1436.2 1931 L1436.3 1929.8Z M1504 1882.5 L1503 1883.1 L1502 1882.5 L1501.7 1881.2 L1502.7 1880.5 L1503.8 1880.3 L1504.9 1881.3Z M1474.6 1953.1 L1472.5 1953.5 L1471.7 1951.9 L1471.5 1950 L1473.4 1948.9 L1475.3 1950 L1476.3 1951.8Z M1418.5 1902.9 L1417.7 1904.6 L1414.9 1905.4 L1412.1 1904.6 L1411.5 1903 L1413.2 1901.5 L1416.2 1901.8Z M1407.3 1861.1 L1406.5 1861.6 L1405.2 1861.4 L1405 1860.6 L1405.3 1859.9 L1406.6 1859.8 L1407.5 1860.3Z M1478.4 1881.1 L1478.5 1883.9 L1476.9 1886 L1474.6 1885.2 L1474.1 1882.1 L1474.8 1879 L1477 1879.2Z M1497.7 1865.7 L1497.7 1864.7 L1498.9 1864.1 L1500 1864.7 L1500.8 1865.7 L1499.7 1866.5 L1498.4 1866.7Z M1435 1861.7 L1433.8 1860.7 L1434.1 1859.5 L1435.6 1858.9 L1437.2 1859.2 L1437.2 1860.4 L1436.5 1861.2Z M1413.3 1850.6 L1415.2 1851.8 L1414.6 1853.9 L1412 1855.1 L1409.2 1853.9 L1409.2 1851.7 L1411.1 1850.5Z M1471.2 1891.8 L1468 1893.7 L1464.4 1894.7 L1461.6 1893.1 L1460.8 1891.2 L1463.3 1889 L1468.5 1889.4Z M1466.1 1955.5 L1469.6 1955.3 L1471 1956.9 L1469.4 1958.2 L1466.6 1959 L1463.4 1958.2 L1463 1956.3Z M1473.4 1907 L1472.3 1906.4 L1473 1905.5 L1474 1905.2 L1475.4 1905.4 L1475.5 1906.4 L1474.6 1907Z M1444 1963.5 L1445.2 1963 L1446.5 1963.2 L1447 1963.9 L1446.7 1964.5 L1445.5 1964.9 L1444.2 1964.4Z M1441.9 1934.1 L1441.4 1937.2 L1439.9 1936.3 L1438.4 1934.5 L1439.2 1931.4 L1440.5 1930.7 L1441.9 1931.3Z M1475.1 1906.1 L1472.3 1906.2 L1471.3 1904.1 L1473.1 1902.5 L1475.9 1901.8 L1477 1903.7 L1477.5 1905.5Z M1451.9 1893.7 L1453.1 1893.1 L1454.4 1893.3 L1455.6 1893.8 L1454.8 1894.6 L1453.6 1895.2 L1452.4 1894.6Z M1479.6 1832.6 L1480.4 1832 L1481.1 1833.1 L1481.1 1834.8 L1480.3 1835.4 L1479.4 1835.3 L1479.2 1833.8Z M1463.4 1902.4 L1461.6 1901.9 L1461.4 1901 L1462.6 1900.3 L1464.5 1900.5 L1465.4 1901.1 L1465.2 1902Z M1482.5 1962.9 L1480.1 1961.7 L1480.8 1959.2 L1481.9 1956.8 L1484.3 1958 L1485.7 1959.8 L1484.5 1961.7Z M1407.4 1875.6 L1405.9 1873.9 L1408.4 1872.7 L1411.9 1872.1 L1414.4 1873.5 L1413.4 1875 L1410.9 1876.2Z M1418.9 1964.5 L1415.5 1966.3 L1411.7 1964.8 L1409.8 1963 L1412.6 1961.5 L1416.6 1960.7 L1418.9 1962.5Z M1501.4 1961 L1502.6 1962.4 L1502.6 1964.2 L1501.1 1965.3 L1499.1 1965.2 L1498.3 1963.1 L1499.7 1961.7Z M1448.6 1872.5 L1449.3 1873.6 L1449 1874.8 L1447.8 1875.2 L1446.6 1874.8 L1446.6 1873.5 L1447.4 1872.8Z M1404.8 1922 L1405 1921.1 L1406 1920.4 L1407.2 1921 L1407.3 1922 L1406.4 1922.6 L1405.2 1923Z M1437.4 1889.7 L1435.1 1892.7 L1432.4 1890.3 L1431.6 1885.5 L1433.6 1881.7 L1436.7 1881.5 L1437.6 1885.9Z M1478.1 1918.4 L1476 1919.6 L1473.2 1918.8 L1472.1 1916.5 L1474.5 1915 L1477.1 1914.9 L1478.7 1916.5Z M1421 1906.8 L1420.2 1905.6 L1421.9 1904.7 L1423.7 1904.8 L1425.5 1905.7 L1424.4 1906.8 L1422.7 1908Z M1454.8 1953.9 L1456.3 1954.1 L1457 1955.2 L1456.1 1956.2 L1454.5 1956.7 L1453.5 1955.6 L1453.7 1954.5Z M1488.3 1955.8 L1488.7 1953 L1490.7 1950.4 L1493.4 1952 L1494 1955.4 L1492.3 1957.6 L1490.1 1957.4Z M1452.5 1922.9 L1450.8 1920.2 L1452.2 1916.8 L1454 1915 L1455.8 1917.4 L1455.7 1921.2 L1454.5 1924.6Z M1423 1920.4 L1421.4 1920.7 L1420.7 1919.8 L1420.5 1918.8 L1421.5 1917.8 L1423.2 1918.2 L1423.7 1919.4Z M1434.9 1849.6 L1434.4 1851 L1432.5 1851.7 L1429.9 1851.4 L1429.8 1849.8 L1430.6 1848 L1433.6 1848.2Z M1500.7 1879.1 L1501.8 1878.7 L1503 1878.7 L1503.3 1879.7 L1502.8 1880.7 L1501.4 1880.9 L1500.5 1880.1Z M1468.6 1926.4 L1465.8 1926.1 L1465.7 1924 L1466.3 1922.2 L1468.7 1922.2 L1470.1 1923.4 L1470.8 1925.3Z M1449.7 1903.3 L1451 1902.5 L1452.4 1903 L1453 1903.8 L1452.3 1904.6 L1450.9 1905.1 L1449.9 1904.2Z M1493.6 1942 L1494 1943 L1492.4 1943.8 L1490.2 1943.5 L1489.9 1942.4 L1490.3 1941.4 L1492.5 1941Z M1472.6 1934.9 L1472.5 1933.5 L1472.9 1932.3 L1473.9 1932 L1474.6 1933.2 L1474.2 1934.4 L1473.6 1935.2Z M1467.8 1855.1 L1468.6 1856.1 L1468 1857.2 L1467 1857.4 L1466.2 1856.9 L1465.6 1855.7 L1466.7 1855Z M1454.8 1839.8 L1452.3 1839.4 L1450.7 1838.3 L1451.8 1836.9 L1454.5 1836.4 L1456 1837.6 L1456.4 1838.8Z M1338.7 2021.2 L1339.4 2022.1 L1339 2023.3 L1338.2 2024.2 L1337.3 2023.4 L1337.1 2022.2 L1337.7 2021.2Z M1386.4 1989.6 L1387.6 1987.3 L1390 1985.7 L1394.7 1985.6 L1398.4 1987.4 L1395.5 1989.4 L1391.5 1990.6Z M1357.8 2087.1 L1360 2089.4 L1360.9 2093 L1358.7 2095.4 L1355.8 2095.8 L1354 2092.4 L1355.1 2088.5Z M1430.9 2101 L1428.6 2100.7 L1426.7 2100.1 L1427.2 2099 L1429.5 2098.6 L1432.3 2098.7 L1432 2100Z M1441.1 2034.8 L1440.3 2034.1 L1440.9 2033.1 L1442.1 2032.7 L1443.1 2033.5 L1443.1 2034.7 L1442.1 2035.5Z M1443.1 2056.8 L1444.7 2055.7 L1447.2 2055.6 L1448 2056.7 L1448.1 2057.8 L1446.3 2058.2 L1444.2 2058Z M1391.6 2039.3 L1388.6 2038.3 L1386.1 2036.6 L1389.1 2035.2 L1392.1 2034.5 L1394.7 2035.8 L1394.6 2038Z M1453.2 2036.9 L1450.5 2035.7 L1451 2033.1 L1453.3 2031.2 L1455.9 2032.7 L1457.5 2034.7 L1456.5 2037.5Z M1301.4 2059 L1304 2059.2 L1304.2 2061.2 L1303.4 2062.9 L1300.9 2063.1 L1299 2061.9 L1299.5 2060.1Z M1303.1 2088.1 L1304.3 2088.7 L1304.7 2089.6 L1303.1 2090 L1301.5 2089.8 L1300.6 2089.2 L1301.3 2088.4Z M1407.5 2033.1 L1408.4 2034 L1408.8 2035 L1408.4 2036.4 L1407 2036.1 L1406.2 2035.2 L1406.6 2034Z M1419.7 1981 L1418.8 1980.4 L1418.1 1979.7 L1419.6 1979.5 L1420.9 1979.4 L1421.7 1980 L1421.3 1980.8Z M1322 2100.3 L1323.3 2100.7 L1324.2 2101.4 L1323.1 2102 L1321.4 2102.2 L1320.1 2101.5 L1320.9 2100.8Z M1385.5 2054.8 L1389.2 2054.5 L1392.9 2054.9 L1393.2 2057.7 L1390.8 2059.8 L1387.4 2059.1 L1384.9 2057.5Z M1365.9 1948 L1368.8 1949.9 L1366.3 1952.2 L1363.6 1953.5 L1360.8 1951.9 L1360.1 1948.7 L1363 1946.7Z M1396.4 2021.2 L1399 2024 L1397.6 2027.4 L1394.7 2028.2 L1392.3 2027 L1390.2 2024.1 L1393.2 2022.1Z M1426.8 1947.8 L1425.5 1948 L1424.2 1947.5 L1424.6 1946.6 L1425.9 1946.4 L1427 1946.6 L1428.1 1947.2Z M1347.4 1918.7 L1348.4 1919.5 L1348.6 1921.1 L1347.5 1922.4 L1346.2 1921.5 L1345.1 1920.3 L1345.9 1918.7Z M1386.2 1993.4 L1386.9 1992.7 L1387.7 1992.5 L1388.3 1993 L1388.5 1993.9 L1387.7 1994.3 L1386.7 1994.3Z M1369.5 1980.2 L1369.8 1981.1 L1368.9 1981.9 L1367.7 1981.6 L1366.9 1980.7 L1367.5 1979.7 L1368.8 1979.5Z M1305.1 1999.6 L1303.3 1999.8 L1302 1998.6 L1302.3 1997.1 L1304 1996.6 L1305.6 1997 L1306.1 1998.4Z M1418.6 1928.9 L1420 1928.9 L1420.7 1929.7 L1419.9 1930.5 L1418.5 1930.6 L1417.8 1930 L1417.7 1929.3Z M1327.2 1908.2 L1327.1 1909.9 L1326 1910.9 L1324.8 1910.5 L1324.5 1908.8 L1325.2 1907.8 L1326.2 1907.4Z M1362.1 2060.4 L1362.9 2060.9 L1363.1 2062.3 L1362.9 2064 L1361.9 2064.4 L1361.5 2062.7 L1361.4 2061.1Z M1300.6 1959.4 L1302.1 1959.7 L1302.9 1960.3 L1302.4 1960.9 L1301.1 1961.3 L1300.1 1960.8 L1299.5 1960.1Z M1376.6 2032.5 L1376.1 2035.5 L1374.3 2036.9 L1371.7 2037.5 L1371.3 2034.4 L1372.1 2031.9 L1374.4 2030.5Z M1431.9 1996.9 L1431.9 1994.1 L1432.7 1992 L1434.1 1991.8 L1435.2 1994 L1434.5 1996.7 L1433.3 1997.8Z M1388.4 1964.6 L1390.3 1964.5 L1390.8 1966.4 L1390.6 1967.7 L1389.5 1968.4 L1388.1 1968.1 L1387.8 1966.4Z M1372.8 1966.2 L1373.1 1967.2 L1371.6 1967.7 L1370.1 1967.7 L1369.5 1966.9 L1370.1 1966.3 L1371.3 1965.8Z M1358.2 2034.7 L1357 2033.6 L1356.6 2031.1 L1357.5 2029.4 L1358.6 2029.3 L1359.6 2030.8 L1359.2 2033.1Z M1417.7 2025.1 L1418.4 2026.7 L1418 2028.8 L1416.6 2029.4 L1415.4 2028 L1415.8 2025.9 L1416.6 2024.7Z M1339.7 1956.2 L1338.2 1956.5 L1337.1 1955.8 L1337.1 1954.9 L1338.4 1954.4 L1339.9 1954.7 L1340.2 1955.5Z M1362.4 2007.7 L1363.4 2007.3 L1364.5 2007.3 L1365.3 2007.8 L1364.8 2008.5 L1363.7 2008.8 L1362.2 2008.6Z M1338.3 1987.6 L1335.7 1987.2 L1333.8 1986.5 L1333.7 1985.2 L1336.2 1984.9 L1338.6 1985 L1339.7 1986.3Z M1446.3 1945.4 L1449.2 1944.6 L1452.8 1944.9 L1454.9 1947.2 L1451.4 1948.8 L1447.4 1949.8 L1444.2 1947.6Z M1377.3 2011.3 L1376.1 2013.9 L1372.3 2013.7 L1369.7 2011.8 L1370.6 2009.2 L1373.5 2007.3 L1377.4 2008.5Z M1305.8 2037.5 L1305.7 2038.4 L1304.4 2039 L1302.9 2038.5 L1302.3 2037.9 L1302.7 2037.1 L1304.4 2037Z M1349.4 2106.5 L1347.8 2107.8 L1345 2107.6 L1343.4 2106.8 L1343.5 2105.7 L1345.2 2104.6 L1347.5 2105.4Z M1344.8 1981.7 L1344.2 1980.5 L1344 1979 L1344.8 1978 L1345.7 1978.5 L1346.1 1979.7 L1345.9 1981.4Z M1314.1 2021.3 L1314.6 2023 L1312.5 2023.7 L1310.7 2023.6 L1308.9 2022.6 L1310.1 2021.3 L1312 2020.6Z M1348.5 1938.7 L1349 1937.9 L1350.3 1937.3 L1352.2 1937.7 L1352.2 1938.7 L1351 1939.4 L1349.1 1939.6Z M1429.9 1907.1 L1430.8 1906.6 L1431.6 1907 L1432.2 1907.9 L1431.6 1908.9 L1430.5 1908.9 L1429.8 1908.1Z M1408.2 1969.4 L1409.4 1969.1 L1410.4 1969.5 L1410.9 1970.3 L1410 1970.8 L1409 1970.9 L1407.9 1970.4Z M1363.1 1989.5 L1359.2 1991.2 L1355.7 1989.5 L1353.9 1987.6 L1356.2 1985.6 L1359.8 1985.8 L1362.4 1987.1Z M1321.2 1914.6 L1323.6 1915 L1324.8 1917.1 L1323.3 1918.8 L1321.5 1919.4 L1320.1 1918.2 L1320.2 1916.5Z M1453.3 2036.9 L1454.2 2035.4 L1455.9 2035.4 L1456.5 2037.2 L1456.2 2039 L1454.7 2040.4 L1453.5 2038.6Z M1391.3 2000.5 L1393.6 1999.5 L1395.6 2000.6 L1396.7 2002.6 L1395.2 2004.5 L1392.7 2004.9 L1391.5 2002.8Z M1330.1 2022.4 L1330.6 2020.2 L1331.6 2019.2 L1333.1 2019.2 L1333.3 2021.7 L1332.9 2024.3 L1331.1 2024.6Z M1416.9 1928.6 L1417.7 1928 L1418.7 1927.7 L1420 1928.1 L1419.7 1929.1 L1418.7 1929.7 L1417.3 1929.7Z M1336.3 2002.1 L1334.3 2001.1 L1333.9 1999.1 L1335.3 1997.4 L1337.2 1998.2 L1338.2 1999.3 L1338.2 2001.1Z M1414.4 1912.4 L1415 1911.3 L1416.4 1911.5 L1417 1912.7 L1416.4 1913.8 L1415.3 1914.3 L1414.4 1913.5Z M1385.2 1951.1 L1385.8 1952.4 L1384.7 1953.6 L1383 1953.2 L1381.9 1952.3 L1382.2 1950.8 L1383.9 1950.6Z M1409.6 1972.2 L1411 1971.7 L1413.2 1971.6 L1413.3 1972.6 L1412.8 1973.3 L1411 1973.7 L1409.4 1973.1Z M1423.2 1948.5 L1421.9 1946.3 L1421.9 1943.5 L1423.4 1941 L1425.7 1942 L1426.4 1945.2 L1425.3 1948Z M1302.7 1980.6 L1304.2 1982.1 L1304.4 1985.7 L1303.1 1987.9 L1301.5 1987.3 L1300.6 1984.7 L1301.4 1982.2Z M1443.7 1912.5 L1443.6 1913.3 L1442.7 1913.8 L1441.7 1913.4 L1441.5 1912.7 L1442 1912.1 L1443 1912Z M1339.3 2047.2 L1339.6 2046.2 L1340.6 2046 L1341.6 2046.4 L1341.8 2047.7 L1340.8 2048.4 L1339.6 2048.3Z M1377.2 2031.4 L1377.6 2030.1 L1378.7 2029.3 L1380.2 2029.6 L1380.3 2030.8 L1379.8 2031.6 L1378.6 2032Z M1330.7 2007.1 L1331.3 2006.2 L1332.7 2006.2 L1333 2007.3 L1332.7 2008.3 L1331.7 2008.6 L1330.5 2008.2Z M1336.1 1901.8 L1338.7 1902.3 L1339.8 1904.7 L1338.1 1907 L1335.1 1906.8 L1333.1 1905.1 L1333.8 1902.8Z M1327.7 1944.3 L1328.7 1943.3 L1330.4 1943.8 L1331 1944.6 L1330.8 1945.6 L1328.9 1946 L1327.1 1945.3Z M1442.1 2014.3 L1444.4 2014.5 L1444.7 2015.8 L1443.5 2016.8 L1441.2 2017.2 L1439.9 2016 L1440.3 2014.9Z M1451.9 1926.6 L1452.4 1924.2 L1454.9 1923.7 L1457.8 1924 L1458.4 1926.8 L1456.3 1928.9 L1453.6 1928.5Z M1394.1 1908.9 L1395.8 1909.1 L1397.4 1909.6 L1396.6 1910.6 L1395.6 1911.2 L1393.9 1911.2 L1393.9 1910.1Z M1454.6 2066.5 L1454.7 2065.2 L1455.3 2063.9 L1456.3 2064.2 L1456.5 2065.9 L1456.1 2067.1 L1455.2 2067.7Z M1446.6 1973.5 L1447.1 1975.2 L1444.4 1975.6 L1442.2 1975.2 L1441.6 1973.6 L1442.9 1972.3 L1445.5 1971.8Z M1326.7 2005.7 L1327.4 2006.7 L1327.2 2008 L1325.9 2008.6 L1324.8 2007.7 L1324.2 2006.5 L1325.4 2005.7Z M1327.3 1920.5 L1326.9 1919.4 L1327.5 1918.3 L1328.5 1918.6 L1329.1 1919.2 L1329.2 1920.4 L1328.3 1921.2Z M1321.9 2038.3 L1321.4 2039 L1320 2039.5 L1318.3 2039.2 L1318.3 2038.4 L1318.9 2037.7 L1320.6 2037.8Z M1327.5 1921.3 L1327 1922.4 L1324.9 1922.7 L1323.5 1921.7 L1323.1 1920.5 L1325.1 1920 L1326.8 1920.4Z M1427.6 1988 L1428.3 1987.4 L1429.9 1987 L1431.3 1987.6 L1430.9 1988.4 L1429.7 1988.9 L1428.4 1988.5Z M1393.3 2029.5 L1392.5 2029.4 L1392.3 2028.1 L1392.8 2027 L1393.7 2026.7 L1394.1 2028 L1394.3 2029.3Z M1348.5 2101.3 L1348.2 2102.3 L1347.2 2102.7 L1346.3 2102.3 L1346 2101.6 L1346.2 2100.6 L1347.5 2100.7Z M1340.3 2109.7 L1342.7 2111.3 L1341.9 2114 L1339.8 2115.9 L1337.5 2114.4 L1336.7 2112.2 L1337.8 2110Z M1442.5 1966.7 L1441.3 1967.6 L1439.5 1967.3 L1438.5 1966.1 L1439.5 1964.7 L1441.4 1964.6 L1443.3 1965.3Z M1363.6 1997.4 L1365.8 1998.9 L1365.9 2002.9 L1363.6 2004.4 L1361.9 2003.2 L1360.2 2000.9 L1361.7 1998.1Z M1376.4 2090.4 L1376.7 2091.4 L1376.4 2092.5 L1375.4 2092.5 L1374.2 2092 L1374.4 2090.7 L1375.4 2090.4Z M1300.4 1946.5 L1303 1945.7 L1305.7 1946.3 L1306.8 1948 L1304.8 1949.3 L1301.9 1949.8 L1299.4 1948.4Z M1412.2 1980.8 L1412.5 1979.6 L1413.9 1978.7 L1415.3 1979.6 L1415.6 1981 L1414.6 1982.3 L1412.9 1981.9Z M1369.1 1919.9 L1369 1920.7 L1367.6 1921 L1366.2 1920.7 L1365.4 1920 L1366.8 1919.5 L1368.1 1919.3Z M1372.9 2074.8 L1372.3 2073.7 L1372.1 2072.6 L1372.6 2071.6 L1373.6 2071.4 L1374.1 2072.7 L1373.8 2074.2Z M1343.2 2008.8 L1341.2 2007.4 L1341.6 2005 L1343.2 2003.6 L1345.2 2004 L1346.7 2006 L1345.8 2008.6Z M1431.3 2114.8 L1431.7 2113.8 L1433 2113.5 L1434.2 2113.9 L1434.3 2115 L1433.4 2115.7 L1432 2115.8Z M1433.1 1931 L1432.2 1932.9 L1429.7 1933.2 L1428.3 1931.5 L1428.6 1929.7 L1430.3 1928.9 L1432.8 1928.8Z M1429.5 1979 L1428.1 1979.1 L1426.9 1978.8 L1426.5 1978 L1427.8 1977.6 L1429.3 1977.5 L1429.7 1978.3Z M1316.2 2031 L1318.6 2030.8 L1320.2 2031.7 L1320.7 2033 L1318 2033.5 L1315.8 2033.1 L1314.2 2031.9Z M1413.2 1957.5 L1413.5 1958.7 L1413.1 1960 L1411.4 1960 L1410.1 1959.2 L1410.4 1957.9 L1411.7 1957.4Z M1301.1 2059.5 L1297.9 2059 L1297.1 2057.2 L1298.6 2055.7 L1301.6 2055.9 L1304.4 2056.7 L1303.9 2058.5Z M1383.3 1941.6 L1383.7 1939.6 L1386.9 1938.7 L1390.8 1939.3 L1391.1 1941.7 L1389.5 1944.2 L1384.7 1943.8Z M1418.5 1905.6 L1419.8 1906 L1420.6 1907.1 L1420.1 1908.5 L1418.7 1909.1 L1417.8 1908 L1417.5 1906.7Z M1365.6 2101.1 L1367.8 2102.6 L1366.9 2104.6 L1363.7 2105.3 L1360.8 2104.3 L1360.2 2102.3 L1362.3 2100.4Z M1309.6 1976.4 L1306.5 1976.4 L1304.7 1975.3 L1304.7 1973.7 L1307.8 1973.4 L1310.6 1973.8 L1311.7 1975.2Z M1304.2 2093.3 L1302.9 2093 L1302.6 2091.1 L1303.2 2089.5 L1304.6 2089.5 L1305.5 2090.7 L1305.3 2092.4Z M1301.3 2104.1 L1300.2 2104.2 L1299.6 2103.2 L1299.7 2102.1 L1300.5 2101.1 L1301.5 2101.8 L1302.1 2103Z M1339.7 2042.4 L1338.5 2042.3 L1338.1 2041.5 L1338.8 2040.8 L1340 2040.5 L1341.1 2041.1 L1340.9 2042.1Z M1396.3 1936.1 L1395.3 1935.5 L1396 1934.8 L1397.4 1934.4 L1398.9 1934.9 L1399.1 1935.7 L1397.7 1936Z M1393.3 1914.9 L1395.3 1914.7 L1396.6 1915.5 L1396.2 1916.4 L1394.5 1916.8 L1392.7 1916.6 L1391.6 1915.6Z M1338.3 2074.4 L1337.8 2075.7 L1336.8 2076.1 L1336 2075.2 L1335.6 2073.7 L1336.6 2072.7 L1337.8 2073Z M1391.4 1942.3 L1391 1941.3 L1391.4 1940.1 L1392.2 1940.2 L1392.7 1940.9 L1392.9 1942.1 L1392.1 1942.5Z M1397 2111.6 L1396.3 2110.7 L1397 2109.9 L1398.9 2109.7 L1400.3 2110.3 L1400.6 2111.2 L1399 2111.9Z M1451.6 2026.7 L1451.4 2025.7 L1452 2024.7 L1453.1 2024.9 L1453.4 2026 L1453.1 2026.9 L1452.2 2027.7Z M1318.7 1907.1 L1319.2 1908.3 L1319.4 1909.8 L1318.6 1910.2 L1318.1 1909.9 L1317.8 1908.9 L1317.8 1907.4Z M1451.7 2075.4 L1451.3 2076.7 L1449.6 2077.1 L1448 2076.9 L1447.5 2075.6 L1448.8 2074.9 L1450.1 2074.8Z M1399.4 1920.9 L1400.6 1920.4 L1401.6 1920.9 L1402.5 1921.7 L1401.3 1922.3 L1400 1922.6 L1398.8 1921.9Z M1313.5 2137.2 L1312.6 2138.3 L1311.8 2137.1 L1311.2 2135.4 L1312.1 2134.4 L1313.1 2133.6 L1313.6 2135.4Z M1312.3 1939.2 L1313.4 1939.6 L1314 1940.5 L1313 1941.1 L1311.7 1941.3 L1310.6 1940.6 L1311.2 1939.7Z M1406.3 1972.6 L1409.1 1972.2 L1412.2 1973.1 L1411.5 1975 L1409 1975.8 L1405.6 1976 L1404 1974Z M1451.5 2106.8 L1452.7 2107.1 L1453.3 2108.7 L1453.1 2110.9 L1451.5 2110.8 L1450.2 2109.9 L1450.1 2107.7Z M1421.2 1907.9 L1418.9 1906.7 L1417.3 1904.9 L1421.4 1904.2 L1425.6 1904.1 L1426.2 1906 L1424.8 1907.5Z M1344.3 1937.6 L1343.9 1939.7 L1339.5 1940.3 L1335.1 1939.5 L1333.8 1937.2 L1338.1 1936.1 L1342.6 1935.7Z M1553 2069.3 L1553.4 2067.7 L1556.9 2067.7 L1560.3 2068 L1559.8 2069.7 L1557.5 2070.5 L1554.6 2070.5Z M1535.6 2068.6 L1535.3 2069.9 L1534.4 2070.2 L1533.5 2069.3 L1533.7 2067.5 L1534.5 2066.1 L1535.6 2066.7Z M1549.9 2099 L1552.2 2099.2 L1554 2099.9 L1553.6 2101.1 L1551.4 2101.5 L1549.6 2101 L1548.9 2100.1Z M1537.7 2096.6 L1537.3 2094.1 L1538.5 2092.5 L1539.8 2093.1 L1540.2 2095.5 L1539.7 2097.5 L1538.6 2098.1Z M1501.8 2087.7 L1502.7 2086.7 L1504.1 2086.9 L1504.4 2088 L1504.4 2089.3 L1503 2089.7 L1501.8 2088.9Z M1523.8 2103.1 L1520.6 2102.2 L1519.3 2100 L1521.7 2098.4 L1525 2098.1 L1526.3 2099.9 L1526.7 2101.8Z M1502.9 2095 L1501.8 2092.1 L1503.1 2089.4 L1505.2 2087.8 L1506.8 2090.8 L1506.5 2094.7 L1504.7 2097.2Z M1503.3 2083 L1504 2082.3 L1505.5 2082.3 L1506 2083.1 L1505.6 2083.7 L1504.5 2084 L1503.1 2083.8Z M1500.2 2093.2 L1501.4 2093.8 L1502 2094.5 L1500.9 2095.1 L1499.2 2095.3 L1498.5 2094.4 L1499 2093.8Z M1520.3 2069.2 L1521.4 2068.9 L1521.7 2070.2 L1521.5 2071.4 L1520.4 2071.7 L1519.5 2070.9 L1519.4 2069.7Z M1531.2 2098.5 L1528.6 2097.8 L1529.3 2096 L1530.6 2094.8 L1533.4 2094.6 L1533.9 2096.4 L1533.8 2098.1Z M1551.7 2087.2 L1552.6 2087.7 L1552.5 2088.9 L1551.8 2089.6 L1551.1 2089.3 L1550.6 2088.5 L1551 2087.7Z M1536.9 2096 L1538 2095.5 L1539.3 2095.3 L1540.3 2095.9 L1540 2096.7 L1538.8 2097.2 L1537.3 2096.9Z M1554.7 2071.1 L1555.6 2070.7 L1556.8 2070.8 L1557.2 2071.7 L1556.3 2072.3 L1555.3 2072.4 L1554.3 2072Z M1520.4 2076.6 L1519 2073.4 L1519.4 2069.3 L1521.8 2067.3 L1523.4 2070.4 L1524.2 2073.9 L1522.9 2077.8Z M1526.7 2096.1 L1530.3 2097.1 L1528.8 2099.5 L1526 2100.7 L1522.7 2100.1 L1521.5 2097.9 L1523.2 2095.6Z M1527.3 2096.8 L1529.6 2096.4 L1531.6 2097.9 L1531 2100.6 L1529.5 2102.7 L1527.2 2101.9 L1526.8 2099.3Z M1553 2085.7 L1552 2084.4 L1552.8 2083 L1554.1 2082.5 L1555.3 2083.3 L1555.3 2084.6 L1554.6 2085.9Z M1521 2069 L1520.1 2068.5 L1519.7 2067.6 L1521.3 2067.3 L1522.9 2067.3 L1522.8 2068.2 L1522.2 2068.8Z M1506.7 2082.2 L1505.5 2081.1 L1505.8 2079.8 L1508.4 2079.4 L1511 2079.9 L1511.1 2081.2 L1509.2 2081.8Z" fill="#ffebbe"/>
<path d="M2065.2 1189.2 L2072.1 1189.2 L2079.1 1199.7 L2072.1 1203.1Z M1751.9 1407 L1776.3 1400 L1793.7 1420.9 L1800.7 1448.8 L1790.2 1469.7 L1776.3 1448.8 L1758.9 1434.8Z M1823.3 1490.6 L1846 1487.1 L1853 1501 L1839 1508 L1823.3 1504.5Z M1889.5 1515 L1901.7 1511.5 L1905.2 1525.4 L1893 1530.7Z M1778 1657.8 L1800.7 1640.4 L1818.1 1643.9 L1814.6 1664.8 L1797.2 1675.3 L1779.8 1675.3Z M1671.8 1678.7 L1689.2 1664.8 L1699.7 1643.9 L1706.6 1661.3 L1692.7 1678.7 L1678.7 1682.2Z M1823.3 1657.8 L1842.5 1652.6 L1839 1666.6 L1826.8 1668.3Z M1858.2 1671.8 L1872.1 1670 L1873.9 1680.5 L1859.9 1682.2Z M1713.6 1738 L1734.5 1732.8 L1738 1744.9 L1720.6 1748.4Z M1790.2 1713.6 L1811.1 1710.1 L1818.1 1734.5 L1797.2 1741.5Z M1821.6 1734.5 L1832.1 1731 L1830.3 1744.9 L1821.6 1746.7Z M1823.3 1751.9 L1849.5 1738 L1853 1748.4 L1835.5 1762.4Z M1812.9 1880.8 L1832.1 1877.4 L1844.3 1894.8 L1835.5 1912.2 L1818.1 1908.7Z M1900 1811.1 L1913.9 1811.1 L1917.4 1832.1 L1903.5 1833.8Z M1880.8 1877.4 L1891.3 1866.9 L1894.8 1887.8 L1882.6 1905.2Z M1708.4 1588.2 L1727.5 1591.6 L1734.5 1602.1 L1713.6 1616Z M1741.5 1588.2 L1765.9 1591.6 L1762.4 1598.6 L1743.2 1596.9Z M1748.4 1640.4 L1769.3 1636.9 L1765.9 1650.9 L1748.4 1652.6Z M1630 1584.7 L1643.9 1588.2 L1643.9 1595.1 L1630 1593.4Z M1610.8 1520.2 L1619.5 1520.2 L1619.5 1535.9 L1610.8 1535.9Z M1926.1 1922.6 L1938.3 1926.1 L1938.3 1938.3 L1927.9 1936.6Z M1804.2 1905.2 L1814.6 1901.7 L1816.4 1919.2 L1805.9 1920.9Z M1724 1825.1 L1734.5 1825.1 L1736.2 1842.5 L1725.8 1844.3Z M1793.7 1846 L1804.2 1842.5 L1807.7 1859.9 L1797.2 1863.4Z M1783.3 1859.9 L1792 1858.2 L1792 1868.6 L1783.3 1868.6Z M1675.3 1950.5 L1699.7 1947 L1703.1 1965.2 L1671.8 1965.2Z M1748.4 1957.5 L1769.3 1954 L1772.8 1965.2 L1748.4 1965.2Z M1823.3 1936.6 L1835.5 1934.8 L1835.5 1950.5 L1823.3 1950.5Z M1734.5 1420.9 L1748.4 1413.9 L1751.9 1438.3 L1738 1441.8Z M1804.2 1413.9 L1818.1 1410.5 L1818.1 1427.9 L1805.9 1429.6Z M1751.9 1469.7 L1762.4 1467.9 L1762.4 1478.4 L1751.9 1478.4Z M1859.9 1535.9 L1868.6 1534.1 L1868.6 1544.6 L1859.9 1544.6Z M1839 1537.6 L1846 1536.6 L1846 1542.9 L1839 1542.9Z" fill="#2438ff"/>
<path d="M1623 1445.3 L1626.5 1469.7 L1643.9 1490.6 L1650.9 1504.5 L1643.9 1532.4 L1650.9 1560.3 L1664.8 1581.2 L1678.7 1595.1 L1692.7 1609.1 L1703.1 1636.9 L1713.6 1657.8 L1724 1678.7 L1734.5 1699.7 L1744.9 1713.6 L1755.4 1727.5 L1765.9 1748.4 L1762.4 1776.3 L1755.4 1797.2 L1758.9 1818.1 L1751.9 1846 L1744.9 1866.9 L1734.5 1887.8 L1727.5 1908.7 L1720.6 1929.6 L1713.6 1950.5 L1706.6 1965.2 M1724 1678.7 L1741.5 1685.7 L1762.4 1696.2 L1776.3 1713.6 L1783.3 1734.5 L1779.8 1762.4 L1786.8 1783.3 L1779.8 1811.1 L1769.3 1839 L1762.4 1866.9 L1755.4 1887.8 L1748.4 1915.7 L1741.5 1943.6 L1734.5 1965.2 M1703.1 1636.9 L1713.6 1626.5 L1731 1623 L1748.4 1630 M1755.4 1797.2 L1741.5 1811.1 L1734.5 1832.1 L1727.5 1853 L1724 1873.9 M1783.3 1734.5 L1800.7 1748.4 L1807.7 1769.3 L1800.7 1790.2 L1793.7 1811.1 M1650.9 1560.3 L1640.4 1574.2 L1630 1581.2 M1887.8 1455.7 L1898.3 1469.7 L1905.2 1490.6 L1912.2 1504.5" fill="none" stroke="#2438ff" stroke-width="3.2" stroke-linejoin="round" stroke-linecap="round"/>
<path d="M1623 1532.4 L1643.9 1539.4 L1664.8 1553.3 L1657.8 1567.2 L1636.9 1560.3 L1619.5 1546.3Z M1748.4 1420.9 L1769.3 1427.9 L1783.3 1441.8 L1769.3 1455.7 L1751.9 1445.3Z M1689.2 1609.1 L1706.6 1612.5 L1713.6 1623 L1699.7 1626.5Z M1769.3 1609.1 L1783.3 1605.6 L1790.2 1616 L1776.3 1623Z M1734.5 1623 L1751.9 1616 L1762.4 1626.5 L1744.9 1633.4Z M1853 1706.6 L1863.4 1703.1 L1866.9 1713.6 L1856.4 1717.1Z M1866.9 1720.6 L1877.4 1718.8 L1879.1 1729.3 L1868.6 1731Z M1846 1727.5 L1854.7 1725.8 L1856.4 1736.2 L1847.7 1738Z M1783.3 1818.1 L1800.7 1814.6 L1804.2 1835.5 L1786.8 1839Z M1724 1828.6 L1738 1821.6 L1744.9 1846 L1731 1853Z M1863.4 1849.5 L1875.6 1846 L1879.1 1859.9 L1866.9 1863.4Z M1842.5 1922.6 L1856.4 1915.7 L1863.4 1929.6 L1849.5 1938.3Z M1783.3 1936.6 L1797.2 1933.1 L1800.7 1947 L1786.8 1950.5Z M1849.5 1954 L1863.4 1950.5 L1865.2 1965.2 L1851.2 1965.2Z M1706.6 1922.6 L1724 1915.7 L1734.5 1929.6 L1720.6 1943.6 L1706.6 1940.1Z M1765.9 1915.7 L1776.3 1913.9 L1778 1926.1 L1767.6 1927.9Z M1428.9 2117.8 L1449.8 2116 L1474.2 2112.5 L1495.1 2105.6 L1523 2102.1 L1543.9 2102.1 L1561.3 2109.1 L1557.8 2136.9 L1564.8 2150.9 L1575.3 2175.3 L1589.2 2203.1 L1596.2 2234.5 L1603.1 2269.3 L1613.6 2274.6 L1648.4 2274.6 L1669.3 2269.3 L1676.3 2248.4 L1662.4 2234.5 L1648.4 2231 L1627.5 2220.6 L1613.6 2210.1 L1596.2 2206.6 L1577 2197.9 L1568.3 2199.7 L1559.6 2210.1 L1549.1 2229.3Z M1390.6 2116 L1411.5 2109.1 L1418.5 2123 L1397.6 2130Z M1331.4 2123 L1352.3 2130 L1362.7 2136.9 L1348.8 2140.4Z M1610.1 2116 L1631 2112.5 L1644.9 2126.5 L1644.9 2140.4 L1624 2143.9 L1610.1 2133.4Z M1662.4 2133.4 L1679.8 2126.5 L1686.8 2143.9 L1676.3 2154.4 L1662.4 2150.9Z M1753 1983.6 L1777.4 1980.1 L1780.8 1997.6 L1763.4 2008 L1751.2 2001Z M1782.6 1990.6 L1812.2 1980.1 L1826.1 1994.1 L1822.6 2011.5 L1801.7 2022 L1784.3 2011.5Z M1854 1987.1 L1871.4 1985.4 L1874.9 2001 L1861 2008Z M1922 1987.1 L1941.1 1985.4 L1942.9 2004.5 L1925.4 2006.3Z M1763.4 2067.2 L1787.8 2063.8 L1801.7 2074.2 L1794.8 2088.2 L1770.4 2091.6Z M1852.3 2067.2 L1867.9 2056.8 L1874.9 2077.7 L1857.5 2084.7Z M1803.5 1907 L1815.7 1903.5 L1819.2 1917.4 L1807 1919.2Z M1822.6 1900 L1843.6 1900 L1836.6 1910.5 L1826.1 1912.2Z M1822.6 1938.3 L1833.1 1934.8 L1836.6 1948.8 L1824.4 1950.5Z M1920.2 1917.4 L1937.6 1920.9 L1939.4 1934.8 L1923.7 1933.1Z M1770.4 2015 L1780.8 2018.5 L1784.3 2032.4 L1772.1 2028.9Z M1787.8 2032.4 L1805.2 2035.9 L1808.7 2042.9 L1791.3 2042.9Z M1773.9 2112.5 L1794.8 2109.1 L1798.3 2123 L1777.4 2124.7Z M1780.8 2164.8 L1791.3 2163.1 L1794.8 2178.7 L1784.3 2180.5Z M1711.1 2164.8 L1723.3 2163.1 L1723.3 2175.3 L1712.9 2175.3Z M1650.2 2178.7 L1662.4 2175.3 L1664.1 2185.7 L1651.9 2189.2Z M1585.7 2065.5 L1606.6 2063.8 L1610.1 2081.2 L1596.2 2088.2 L1589.2 2077.7Z M1665.9 1962.7 L1690.2 1955.7 L1693.7 1966.2 L1669.3 1973.2Z M1662.4 2095.1 L1683.3 2102.1 L1693.7 2112.5 L1676.3 2116Z M1732.1 2098.6 L1746 2095.1 L1746 2109.1 L1733.8 2109.1Z M1462 2046.3 L1469 2046.3 L1469 2055.1 L1462 2055.1Z M1599.7 2213.6 L1613.6 2210.1 L1627.5 2234.5 L1613.6 2248.4 L1603.1 2234.5Z M1700.7 1976.7 L1718.1 1969.7 L1711.1 1990.6 L1697.2 1994.1Z M1683.3 2004.5 L1697.2 2001 L1704.2 2025.4 L1686.8 2028.9Z M1641.5 2046.3 L1669.3 2053.3 L1683.3 2063.8 L1662.4 2070.7 L1644.9 2060.3Z" fill="#2438ff"/>
<path d="M1711.1 1900 L1704.2 1927.9 L1693.7 1955.7 L1683.3 1983.6 L1676.3 2011.5 L1669.3 2039.4 L1658.9 2067.2 L1648.4 2088.2 L1634.5 2109.1 L1620.6 2130 L1613.6 2150.9 L1606.6 2178.7 L1603.1 2199.7 M1735.5 1900 L1728.6 1934.8 L1718.1 1969.7 L1707.7 2004.5 L1700.7 2032.4 L1690.2 2056.8 L1676.3 2081.2 L1662.4 2095.1 M1683.3 1983.6 L1697.2 1997.6 L1711.1 2004.5 L1725.1 2001 M1669.3 2039.4 L1651.9 2046.3 L1634.5 2060.3 L1624 2081.2 M1700.7 2032.4 L1718.1 2046.3 L1732.1 2063.8 L1739 2084.7" fill="none" stroke="#2438ff" stroke-width="3.2" stroke-linejoin="round" stroke-linecap="round"/>
<path d="M1871.4 1900 L1892.3 1903.5 L1888.9 1913.9 L1874.9 1912.2Z M1878.4 1931.4 L1888.9 1929.6 L1892.3 1941.8 L1881.9 1943.6Z M1766.9 1955.7 L1787.8 1952.3 L1791.3 1964.5 L1770.4 1967.9Z M1801.7 2046.3 L1812.2 2039.4 L1819.2 2049.8 L1808.7 2056.8Z M1822.6 2095.1 L1836.6 2088.2 L1840.1 2102.1 L1826.1 2105.6Z M1739 2136.9 L1753 2133.4 L1756.4 2147.4 L1742.5 2149.1Z M1759.9 2192.7 L1770.4 2189.2 L1773.9 2199.7 L1763.4 2203.1Z M1683.3 2206.6 L1697.2 2203.1 L1700.7 2213.6 L1686.8 2217.1Z M1718.1 2123 L1732.1 2119.5 L1735.5 2130 L1721.6 2133.4Z M1697.2 2150.9 L1711.1 2143.9 L1718.1 2157.8 L1704.2 2164.8Z M1644.9 2206.6 L1658.9 2203.1 L1665.9 2220.6 L1651.9 2224Z M1613.6 2053.3 L1627.5 2046.3 L1634.5 2056.8 L1620.6 2063.8Z M1627.5 2008 L1644.9 2004.5 L1648.4 2015 L1631 2020.2Z M1822.6 2035.9 L1833.1 2034.1 L1834.8 2044.6 L1824.4 2046.3Z M1895.8 2032.4 L1909.8 2028.9 L1913.2 2042.9 L1899.3 2046.3Z M1847 2022 L1857.5 2020.2 L1859.2 2032.4 L1848.8 2034.1Z M895.1 1700 L1003.1 1700 L999.7 1720.9 L1003.1 1741.8 L999.7 1769.7 L978.7 1780.1 L957.8 1787.1 L943.9 1804.5 L940.4 1818.5 L930 1828.9 L930 1815 L938.7 1801 L936.9 1788.9 L923 1787.1 L909.1 1794.1 L900.3 1790.6 L898.6 1778.4 L891.6 1767.9 L893.4 1757.5 L902.1 1752.3 L893.4 1741.8 L895.1 1733.1 L905.6 1729.6 L891.6 1724.4 L893.4 1713.9 L902.1 1710.5Z M1424.7 2119.9 L1431.7 2111.1 L1466.6 2114.6 L1500 2104.2 L1500 2184.3Z M1393.4 2111.1 L1424.7 2119.9 L1389.9 2142.5 L1382.9 2132.1Z M1156.4 2043.2 L1165.2 2041.5 L1165.2 2053.7 L1158.2 2053.7Z M1341.1 2126.8 L1362 2132.1 L1358.5 2140.8 L1344.6 2137.3Z M1459.6 2044.9 L1470 2041.5 L1468.3 2058.9 L1461.3 2057.1Z M874.2 1618.1 L909.1 1635.5 L943.9 1635.5 L936.9 1653 L957.8 1680.8 L978.7 1694.8 L989.2 1712.2 L1003.1 1722.6 L996.2 1743.6 L999.7 1765.2 L895.1 1765.2 L891.6 1743.6 L898.6 1722.6 L891.6 1715.7 L902.1 1687.8 L881.2 1659.9 L870.7 1639Z M855.1 1485.7 L874.2 1496.2 L888.2 1510.1 L889.9 1524 L874.2 1527.5 L877.7 1538 L867.2 1551.9 L862 1534.5 L853.3 1513.6Z M982.2 1203.5 L989.2 1203.5 L984 1217.4 L978.7 1217.4Z M1824.7 1481 L1849.1 1488 L1852.6 1501.9 L1838.7 1508.9 L1821.3 1501.9Z M1671.4 1679.6 L1692.3 1669.2 L1706.3 1644.8 L1709.8 1669.2 L1692.3 1686.6Z M1779.4 1662.2 L1796.9 1644.8 L1817.8 1641.3 L1810.8 1662.2 L1789.9 1676.1Z M1706.3 1592.5 L1727.2 1589 L1730.7 1603 L1709.8 1606.4Z M1741.1 1589 L1762 1585.5 L1765.5 1596 L1744.6 1599.5Z M1692.3 1606.4 L1713.2 1613.4 L1709.8 1627.4 L1692.3 1620.4Z M1612.2 1526.3 L1626.1 1519.3 L1636.6 1543.7 L1622.6 1550.7Z M1859.6 1676.1 L1873.5 1672.6 L1873.5 1686.6 L1859.6 1690.1Z M1828.2 1651.7 L1842.2 1648.3 L1845.6 1665.7 L1831.7 1665.7Z M1734.1 1637.8 L1755.1 1634.3 L1755.1 1648.3 L1737.6 1651.7Z M1798.8 1294.3 L1817.1 1278.6 L1845.9 1289.1 L1858.9 1315.2 L1856.3 1336.1 L1840.6 1346.6 L1822.3 1357 L1809.3 1354.4 L1798.8 1330.9Z M1751.8 1406.7 L1767.5 1393.6 L1783.1 1388.4 L1793.6 1375.3 L1814.5 1383.1 L1819.7 1401.4 L1804 1411.9 L1817.1 1411.9 L1817.1 1427.6 L1806.7 1430.2 L1798.8 1448.5 L1788.4 1469.4 L1783.1 1469.4 L1770.1 1453.7 L1751.8 1443.2 L1738.7 1440.6 L1734.8 1419.7Z M1751.8 1472 L1762.2 1469.4 L1762.2 1477.2 L1751.8 1478.5Z M1822.3 1490.3 L1830.2 1482.4 L1848.5 1487.7 L1851.1 1504.1 L1822.3 1504.1Z M2065.4 1189.8 L2073.2 1189.8 L2078.4 1200.2 L2070.6 1202.8Z M1793.6 1367.5 L1809.3 1362.2 L1819.7 1370.1 L1806.7 1377.9Z M1830.2 1362.2 L1840.6 1357 L1843.2 1367.5 L1832.8 1370.1Z" fill="#2438ff"/>
<path d="M1532.3 1080 L1521.8 1106.1 L1519.2 1132.3 L1511.4 1158.4 L1500.9 1184.5 L1490.5 1210.7 L1480 1236.8 M1480 1401.4 L1490.5 1417.1 L1506.1 1406.7 L1524.4 1398.8 L1540.1 1391 L1545.3 1406.7 L1553.2 1427.6 L1571.5 1438 L1589.8 1445.9 L1605.4 1440.6 L1621.1 1443.2 L1629 1456.3 L1629 1472 L1636.8 1487.7 L1644.6 1504.1" fill="none" stroke="#2438ff" stroke-width="3.5" stroke-linejoin="round" stroke-linecap="round"/>
<path d="M1728.7 1942.3 L1732.3 1935.9 L1739.3 1931.9 L1747.9 1934.9 L1750.7 1942.6 L1742.9 1946.7 L1735.1 1947.4Z M1607.4 2131.6 L1600.6 2134.4 L1592.2 2134.2 L1589.2 2131 L1591.4 2128.2 L1597.1 2126.1 L1602.6 2128.4Z M1731.3 2151.9 L1735.5 2151.4 L1738.4 2153.6 L1740 2157.3 L1736 2160 L1731.2 2158.9 L1729.3 2155.3Z M1688.6 1690.5 L1686.3 1692.1 L1682.9 1691.2 L1680.5 1689.6 L1682.4 1687.5 L1685.9 1687.8 L1688.3 1688.7Z M1913 1880.9 L1911.1 1868.3 L1916.8 1861 L1922.6 1862.4 L1926.8 1869.7 L1926.9 1882.9 L1919.4 1887.5Z M1870.8 1652 L1872.2 1647.6 L1874.6 1644.1 L1877.4 1646.8 L1878.9 1650.7 L1876.9 1654.1 L1873.8 1654.7Z M1677.7 2188.8 L1677.9 2187.1 L1678.9 2185.3 L1682.3 2186 L1684.1 2187.1 L1684.1 2188.9 L1680.8 2189.3Z M1675.7 1569.3 L1677.4 1568.2 L1679.2 1568.8 L1680.4 1571 L1679 1573 L1677.1 1573.5 L1675.3 1572Z M1632.6 2232.9 L1638.3 2230.5 L1646.9 2230.5 L1646.3 2238.6 L1643 2245.3 L1635.1 2243.9 L1628.4 2239.5Z M1795.7 1735 L1797.3 1735.3 L1798.3 1738.2 L1797.2 1740.9 L1795.6 1741 L1793.8 1739.7 L1794.5 1736.6Z M1734.9 1562.3 L1733.8 1560.8 L1734.6 1558.7 L1737.7 1558.3 L1739.6 1560.1 L1739.5 1562.2 L1737.1 1563.3Z M1619.4 1540.4 L1618.6 1542.2 L1617.4 1543.6 L1614.7 1543.3 L1612.9 1541.9 L1614.3 1540.4 L1616.7 1539.3Z M1858.2 2045.6 L1859.5 2053 L1854 2058.2 L1847.5 2055.9 L1843.2 2050.6 L1845.5 2043.4 L1852.4 2042.1Z M1804.1 1801.2 L1807.3 1797.6 L1810.7 1800.9 L1811.3 1807.2 L1808.8 1811.1 L1805.4 1812 L1803.4 1807Z M1734.6 2148.6 L1736 2150 L1736.1 2152.8 L1735.4 2155.5 L1733.8 2155.2 L1732.7 2153 L1732.9 2149.6Z M1681.6 2032.2 L1678.2 2032.1 L1675.3 2031 L1676.7 2029.4 L1679.4 2028.4 L1682.1 2029.3 L1683.3 2030.7Z M1906.2 1812.8 L1903.3 1809 L1904.1 1802.9 L1907.7 1800.4 L1911.5 1802.4 L1911.4 1808.2 L1909.4 1811.8Z M1735.8 1725.3 L1735.8 1723.4 L1737.4 1721.6 L1740.7 1721.8 L1741.7 1723.9 L1740.4 1725.4 L1738.2 1725.9Z M1840.7 1945.2 L1842.2 1947 L1841.7 1950.2 L1840.7 1953.5 L1838.9 1951.5 L1838.4 1948.5 L1839.2 1945.9Z M1803.9 1850.3 L1811.2 1850.1 L1814.8 1853.1 L1815.2 1856.3 L1809.8 1857.7 L1805 1856.6 L1801.7 1854Z M1840.3 1653 L1838.5 1651.3 L1839.6 1649.2 L1842.9 1648.9 L1846 1649.8 L1846.4 1652.1 L1843.3 1652.9Z M1713 1941.7 L1722 1944.9 L1719 1949.8 L1711.6 1953.8 L1699.7 1952.4 L1696 1946.9 L1701.5 1941.9Z M1658.2 2197.5 L1652.9 2204.7 L1643.9 2209.9 L1633.7 2205 L1634.6 2196.4 L1641.6 2192.1 L1650.8 2191.3Z M1782.2 2099.3 L1780.8 2101.9 L1776 2101.3 L1772.8 2099.6 L1772.7 2096.8 L1777.6 2096.3 L1781.3 2097.2Z M1760.1 2059.8 L1771.5 2059.1 L1773.9 2064.2 L1772.1 2068.2 L1763.7 2070.5 L1755.8 2067.8 L1752 2063.2Z M1805.9 1909.3 L1810.1 1902.8 L1817.9 1903.9 L1819.4 1911.8 L1818.8 1919.6 L1811.3 1922.6 L1805.9 1916.6Z M1782.6 1667.7 L1782.8 1664 L1788.1 1664 L1791.4 1666.2 L1792.2 1669.7 L1787.9 1671.6 L1783.3 1670.7Z M1781.2 1824.5 L1780.2 1833.1 L1775.5 1839.7 L1767 1839.5 L1762.5 1829.9 L1767.4 1821.3 L1774.8 1819.7Z M1643.1 1988.6 L1634.9 1990.7 L1627 1987.8 L1623.8 1981.8 L1633 1978.4 L1642.9 1979.1 L1649.5 1984Z M1600.4 2070.3 L1601 2068.2 L1603 2067.9 L1604.3 2069.5 L1604.2 2071.8 L1602.7 2073.3 L1601 2072.2Z M1633.6 1994 L1637.3 1990.7 L1644.1 1991.6 L1649.7 1993.6 L1648.5 1997.5 L1641.8 1999.5 L1636.2 1997.2Z M1688.3 2216.3 L1687.3 2217.6 L1684.2 2218.4 L1682 2217.1 L1682.3 2215.6 L1684.1 2214.1 L1687.4 2214.8Z M1720.8 2038 L1717.6 2037.7 L1717.2 2035.9 L1717.6 2034.3 L1720.2 2033.6 L1722.3 2034.8 L1722.8 2036.5Z M1638.3 1569.1 L1636.7 1570.7 L1634.4 1570.3 L1633.1 1569 L1633.6 1567.4 L1635.5 1566.1 L1638.2 1567Z M1739.7 2096.8 L1740.2 2094.3 L1743.1 2094 L1746.1 2094.3 L1747 2097 L1744.3 2098.4 L1741.5 2098.7Z M1853.5 1824.6 L1851.1 1825.7 L1849.1 1823.9 L1849.6 1821.6 L1852 1820.2 L1854.6 1821.3 L1855.1 1823.3Z M1801 1885.4 L1807.2 1894.1 L1806.2 1905.2 L1798.4 1911.3 L1790.8 1906 L1786.2 1896.7 L1791.4 1886.8Z M1828.8 2100.6 L1826.8 2096.6 L1831.6 2093.1 L1838.3 2094.4 L1843.1 2097.4 L1841.7 2102.1 L1834 2103.9Z M1648.6 2237.1 L1645.2 2233.5 L1647.6 2229.8 L1653.3 2227.1 L1658.9 2230.2 L1659.9 2234.6 L1655.2 2238Z M1802 2078.4 L1801.6 2075.5 L1802.8 2073.6 L1804.4 2073.5 L1805.9 2075.7 L1805.1 2079.1 L1803.4 2080.3Z M1934.6 1941.8 L1944.9 1938.6 L1956.3 1942.6 L1952.4 1949.2 L1946.4 1955.8 L1934.8 1952 L1927.9 1946.9Z M1767.6 1972.1 L1765.2 1970.4 L1764.5 1968.1 L1767.7 1966.9 L1770.5 1967.7 L1772.2 1969.4 L1770.6 1971Z M1625.6 2087.3 L1628.1 2089.3 L1624.9 2091.5 L1621 2090.4 L1617.4 2089.2 L1619.3 2086.9 L1622.8 2085.9Z M1849.8 1864.4 L1858.3 1868.6 L1855.4 1876.1 L1846.1 1878.5 L1838.4 1875.4 L1833.6 1869.3 L1841.1 1864.5Z M1735.2 2025.8 L1731.2 2024.7 L1731.1 2021.6 L1733.4 2018.8 L1738.2 2019.1 L1740.5 2022 L1738.4 2024.6Z M1601.3 2188.8 L1606.7 2185.5 L1612.1 2189.4 L1613 2196 L1608.4 2200.8 L1601.6 2200.4 L1599.7 2194.2Z M1663 2252.6 L1665.1 2261.1 L1662.5 2270.1 L1656.6 2272.1 L1653.8 2262.8 L1653.3 2252.5 L1658.6 2249.5Z M1775.2 1995.1 L1775.6 1991.6 L1778.2 1990.2 L1779.9 1992.9 L1780.3 1995.6 L1779.1 1998.8 L1776.4 1998.2Z M1863.7 1679.6 L1859.6 1678.7 L1858 1676.1 L1862.1 1674.7 L1866.3 1674.5 L1869.3 1676.5 L1868.3 1679.2Z M1730.6 1793.8 L1731.4 1796 L1730.5 1798.4 L1728.8 1799 L1727.9 1796.6 L1727.7 1793.7 L1729.3 1793Z M1643.9 2020.2 L1642.3 2018.8 L1642.8 2017.3 L1644.7 2016.4 L1647.5 2016.7 L1648 2018.4 L1646.4 2019.5Z M1852.5 1945.3 L1853.7 1951.3 L1842.3 1953.5 L1832.2 1952 L1827.8 1947.2 L1831.4 1941.2 L1845 1940.3Z M1702.7 1793.9 L1701.7 1790.2 L1703.6 1787.4 L1706.4 1786.8 L1708 1790 L1707.1 1793.2 L1705.1 1795.7Z M1769.1 1941.4 L1779.2 1938.9 L1789.6 1943 L1785 1949.2 L1777.3 1952.3 L1765.4 1952.5 L1759.3 1945.8Z M1617.9 2089 L1613.9 2086 L1612.2 2080.4 L1615.5 2076.4 L1619.5 2076.4 L1623.5 2079.8 L1622 2086Z M1753.2 1919.2 L1761.8 1919.2 L1765.5 1923.2 L1762.6 1927.4 L1753.6 1928.4 L1746.1 1925.8 L1745.5 1921.3Z M1936.9 1998.5 L1941.8 1999.1 L1943.3 2001.5 L1942.6 2004.4 L1936.9 2005.6 L1933.4 2003 L1933.8 2000.5Z M1675.3 2255.1 L1674 2253.1 L1674.7 2250.5 L1675.9 2249.6 L1677.4 2249.9 L1678.1 2252.5 L1677.2 2255.2Z M1654.4 2065.4 L1651.3 2063.9 L1648.9 2059.7 L1651.5 2055.6 L1655 2054.2 L1658.3 2057.5 L1657.5 2063Z M1656.7 2197.7 L1653.2 2190.2 L1657.3 2184.4 L1664.7 2183.1 L1674.5 2184.4 L1674.9 2192.6 L1666.8 2196.7Z M1772 1906.9 L1770.7 1908.4 L1768.3 1909.3 L1765.9 1908.1 L1765.1 1906 L1767.7 1904.5 L1771 1905Z M1908.6 1907 L1906.3 1911.1 L1902.5 1913.9 L1900.1 1909.5 L1898.2 1904.5 L1901.9 1900.5 L1906.9 1901.6Z M1739.4 1867.8 L1748.1 1863.1 L1759.3 1866.2 L1766.5 1872 L1756.3 1876.1 L1745.2 1879 L1739 1873.3Z M1776.2 1912.3 L1777 1914.2 L1776.7 1916.2 L1774.9 1917.2 L1772.9 1916.2 L1772.9 1913.8 L1774.1 1911.8Z M1886 2013.2 L1884.8 2011.7 L1886.3 2010.4 L1888.7 2010.6 L1891.5 2011.2 L1890.9 2013.2 L1888.2 2013.6Z M1800.9 1734.9 L1802.5 1732.6 L1805.3 1732.2 L1806.5 1735.1 L1805.8 1737.7 L1803.6 1739.7 L1801.4 1737.7Z M1929.8 1946.1 L1926 1943.4 L1928 1940.1 L1934 1937.6 L1941.3 1939.7 L1940.6 1943.9 L1936.5 1947Z M1891 1967.9 L1889.4 1967.6 L1889.1 1965.3 L1889.4 1962.5 L1891.3 1962.7 L1892.7 1964.4 L1892.6 1967.1Z M1717.1 1767.2 L1715.5 1770.5 L1711.7 1770.7 L1709.3 1768.2 L1709.7 1764.9 L1712.7 1764.1 L1715.4 1764.5Z M1693.6 2011.3 L1692.7 2009.2 L1694.3 2007.5 L1696.6 2007.8 L1698.8 2008.7 L1698.6 2011 L1696.1 2011.8Z M1699 1893.6 L1702.5 1893.8 L1704.3 1895.3 L1702 1896.5 L1698.9 1897.3 L1696.3 1896.1 L1697 1894.7Z M1790.9 2043.4 L1790.5 2045.9 L1789 2048.6 L1786.5 2046.9 L1784.4 2044.8 L1786.2 2042.3 L1788.9 2041.6Z M1794.7 1715.5 L1788.6 1720.1 L1779.3 1723.6 L1772 1718.9 L1768.2 1712.8 L1778.8 1710.2 L1789.2 1710.2Z M1778.7 1574.8 L1775.1 1574.5 L1773.6 1573.3 L1773.8 1571.9 L1776.9 1571.1 L1779.6 1572 L1780.5 1573.4Z M1785 1650.5 L1780.9 1649.3 L1781.6 1646.1 L1783.4 1643.2 L1787.6 1644.3 L1791.5 1646.4 L1789.2 1649.7Z M1743.2 1823.4 L1749.6 1824.1 L1754.7 1826.9 L1752.1 1830.9 L1745.6 1832.5 L1740.6 1829.9 L1739.6 1826.5Z M1778.5 2202.2 L1781.9 2199.6 L1785.4 2199.8 L1788.9 2201.6 L1788.5 2205.9 L1784.3 2207.7 L1780.4 2206Z M1860.8 1749.2 L1858.2 1752.8 L1854.9 1751.4 L1854 1746.7 L1854.5 1741.3 L1858.1 1740.3 L1860.4 1744.1Z M1666.9 1565.2 L1662.4 1571.6 L1653.8 1575.5 L1646.1 1571 L1641.7 1565.1 L1649 1560.1 L1659.9 1559.1Z M1597.1 2116.9 L1598.5 2115.8 L1601.3 2115.8 L1603.1 2116.9 L1602.1 2118.1 L1599.8 2119.2 L1596.5 2118.4Z M1721.6 1788.3 L1718.8 1791.8 L1715.7 1791.9 L1713.2 1787.3 L1714.2 1780.3 L1717.7 1779.2 L1720.1 1782.5Z M1681.2 2222 L1671 2221.7 L1667 2216.9 L1667.1 2210.8 L1679 2208.2 L1686.3 2213.2 L1689.7 2218.5Z M1638.7 2185 L1636.5 2186.2 L1633.6 2185.3 L1633.1 2183.5 L1635.3 2182.5 L1637.9 2182 L1640.1 2183.4Z M1735.3 1576.8 L1733.6 1575.6 L1733.8 1574 L1736.1 1572.7 L1739.2 1573.3 L1739.6 1575.3 L1738.3 1577Z M1908.1 1965.3 L1906.1 1963.9 L1905.8 1962.3 L1909.1 1961.8 L1912.9 1961.6 L1913.3 1963.5 L1911.7 1964.9Z M1797.9 1728.1 L1799.6 1729.9 L1798.9 1733 L1797.5 1734.5 L1795.7 1733.9 L1795.4 1730.9 L1795.9 1727.6Z M1745.8 2084.3 L1746.4 2086.8 L1743.8 2088.7 L1740.7 2087.7 L1738.8 2085.4 L1740.2 2082.7 L1743.7 2082.4Z M1752.8 2157.1 L1755 2153.5 L1762.8 2154.2 L1769 2156.1 L1766.7 2159.5 L1761 2161.5 L1753.1 2160.7Z M1653.5 1956.7 L1650.4 1959.2 L1645.6 1959.7 L1644 1956.6 L1644.9 1954 L1648.2 1953.1 L1652 1953.6Z M1733 1846.4 L1734.3 1849.3 L1734.2 1852.6 L1732.6 1854.9 L1730.9 1853.1 L1730.4 1850.4 L1731.1 1847.8Z M1803.6 1912.1 L1805.5 1911.2 L1807.1 1912 L1807.6 1914.7 L1807 1917.8 L1804.9 1918.4 L1803.4 1915.8Z M1716.6 1682.2 L1710 1689.9 L1700.2 1686.3 L1693.9 1681.1 L1695.2 1672.6 L1704.9 1672.1 L1712.5 1674.6Z M1718.7 1744.4 L1716.4 1747.1 L1713.9 1745.8 L1713.5 1741.4 L1714.4 1737.9 L1716.5 1736.5 L1718 1739.7Z M1740.2 2225.7 L1739 2223.9 L1739.5 2222.2 L1743.4 2221.3 L1746.2 2222.7 L1747.2 2224.3 L1744.7 2226Z M1891.5 1966.3 L1894.9 1958.9 L1901.5 1954.1 L1907.6 1959.1 L1909.7 1965.6 L1905 1970.5 L1897.7 1971.9Z M1709 1574.2 L1707.1 1570.1 L1708.9 1565.6 L1713.3 1564.2 L1718 1567.1 L1717.4 1573.7 L1712.8 1576.1Z M1694.4 1637.9 L1688.3 1631.5 L1697.3 1627.2 L1706 1625.1 L1714.1 1628.8 L1712.4 1634.3 L1706.4 1640.1Z M1692.8 2102 L1690.3 2104 L1687.1 2103.8 L1684.5 2101.2 L1686.7 2098.3 L1689.6 2096.8 L1692.8 2098.5Z M1774.8 1623.7 L1769.8 1620.7 L1768.7 1617.2 L1772.6 1614.3 L1779.7 1613.7 L1782.9 1617.6 L1781 1621.5Z M1901 1689 L1900.2 1687 L1900.3 1684.1 L1902.6 1683.3 L1904.8 1684.8 L1905.2 1688.3 L1902.9 1689.8Z M1653 2037.8 L1653.2 2041.4 L1646.6 2042.2 L1640.3 2041.5 L1638.6 2038.2 L1643 2035.9 L1649.1 2035.1Z M1691.9 1895.2 L1689.5 1895.1 L1687.3 1893.9 L1688 1891.5 L1690 1890.5 L1692.2 1890.9 L1693.2 1893.1Z M1843.2 1936.3 L1839.9 1939.7 L1835.2 1940.9 L1832.6 1936.9 L1832.1 1932 L1836.8 1929.1 L1841.9 1931.3Z M1911.2 1942 L1913.3 1941.6 L1915.2 1943.8 L1914.2 1946.7 L1912.5 1948.4 L1910.2 1947.7 L1909.6 1944.4Z M1804.9 1989.1 L1804.5 1985.2 L1807.2 1983.3 L1810.4 1982.9 L1810.8 1986.6 L1810.1 1989.2 L1807.7 1990.7Z M1826.9 1692.7 L1828 1691.1 L1830.3 1691 L1831.5 1692.8 L1831 1694.9 L1828.9 1695.7 L1826.7 1694.9Z M1696.7 2186 L1700.5 2186.3 L1702 2188.6 L1699.6 2190.2 L1696.6 2191.1 L1694.1 2189.7 L1694 2187.5Z M1701.3 1730.7 L1704.1 1725.8 L1708.8 1726.2 L1712.5 1730.3 L1710.6 1736 L1706.7 1738.3 L1702.8 1736Z M1867.1 1879.2 L1868.4 1880.4 L1867.3 1881.8 L1864.1 1882.4 L1862 1881 L1861.7 1879.3 L1864.7 1878.7Z M1843.3 1760.8 L1846.7 1762 L1847 1764 L1844.8 1765.8 L1840.8 1765.6 L1838 1763.9 L1839.3 1761.7Z M1828.4 1690.8 L1826.8 1692.9 L1823.9 1692.4 L1821.6 1691.5 L1822.2 1689.5 L1824.3 1688.2 L1826.7 1689Z M1679.5 2076.6 L1672.9 2081.9 L1665.3 2076.8 L1664.5 2067.6 L1670.3 2061.4 L1679.6 2059.9 L1685.4 2068.9Z M1794.2 2102.1 L1789.9 2094.8 L1799.4 2090.5 L1809 2090.3 L1814.7 2095 L1816.8 2102.7 L1804.7 2104Z M1756.4 1606.8 L1755.4 1608.9 L1752.3 1608.8 L1750.4 1607.2 L1750.4 1605 L1753 1603.9 L1755.7 1604.8Z M1636.1 2175.6 L1636.5 2173.3 L1638.9 2171.1 L1643.9 2171.4 L1646.5 2173.8 L1644.1 2176.1 L1639.8 2177.8Z M1737.4 2155.5 L1734 2155.4 L1731.9 2150.4 L1732.1 2143.5 L1735.5 2138.5 L1738.9 2143.4 L1740.3 2150.5Z M1767.9 2122.4 L1775 2124.9 L1777.1 2131.7 L1773.5 2138.3 L1766.6 2136.2 L1760.1 2133.4 L1762.7 2126.9Z M1848.1 1706.4 L1843.9 1711.8 L1835.2 1712.3 L1828 1707.9 L1828.8 1700.3 L1838.1 1698 L1847.2 1699.7Z M1697.7 1737 L1692.9 1730.1 L1695.7 1720.9 L1700.5 1714.2 L1706.1 1719.7 L1707.9 1730 L1703.1 1736.2Z M1724.3 1757.5 L1722.9 1762 L1720.3 1765.2 L1717.6 1762.3 L1715.2 1758.4 L1718 1754.9 L1721.6 1753.4Z M1837.5 1648.5 L1840.7 1648.6 L1843 1649.7 L1843.3 1651.6 L1839.2 1651.8 L1835.7 1651.5 L1835.3 1649.7Z M1820.6 1673.7 L1821.9 1677.1 L1818.2 1679.8 L1812.3 1679.2 L1806.5 1677.5 L1808.3 1673.9 L1814.4 1672.6Z M1823.7 1836.7 L1820.3 1835.8 L1820 1833.5 L1820.8 1831.1 L1824.4 1831 L1827.2 1832.7 L1826.8 1835.3Z M1859.7 1752.3 L1855.6 1756.8 L1850.5 1760.8 L1845.9 1756.1 L1846.2 1750.7 L1849.5 1745.6 L1855.9 1747.1Z M1890.2 1907.1 L1878.7 1910.3 L1865.3 1910.8 L1860.8 1904.1 L1865.4 1898 L1878.4 1895.1 L1886.5 1900.7Z M1668.1 2003.6 L1670.2 2002.7 L1673.2 2002.4 L1675 2004 L1673.8 2005.7 L1670.8 2006.1 L1667.9 2005.4Z M1702.9 1592.9 L1702.4 1591.4 L1703.2 1590.2 L1705.6 1589.6 L1708.6 1590.2 L1708.5 1591.9 L1706.3 1593.2Z M1641.3 1982.5 L1647.4 1986.1 L1648.2 1993.8 L1646.3 2000.9 L1640.4 2002 L1635.1 1997 L1636.7 1988.6Z M1800.9 2044.6 L1798.3 2044.8 L1796.3 2044 L1794.9 2042.2 L1797.5 2041 L1800.3 2041.5 L1801.4 2042.9Z M1848.9 1791 L1848.8 1787.7 L1850.1 1784.8 L1852.3 1785.8 L1853.5 1788.4 L1852.9 1791.5 L1850.8 1793.3Z M1694.8 2048.1 L1697.1 2047.1 L1699.4 2047.1 L1700.3 2049.9 L1698.9 2052.1 L1696.6 2053.2 L1695.2 2050.9Z M1857.2 1973.3 L1854.9 1975.5 L1851 1975.6 L1850.2 1972.1 L1851 1968.9 L1854.6 1968 L1857 1970.4Z M1723.1 1623.4 L1714.8 1621.5 L1712.7 1613.1 L1719 1607.3 L1727.3 1607.6 L1730.5 1614 L1731.6 1621.9Z M1703 2068.7 L1702.1 2064.8 L1702.5 2061.3 L1709.7 2060.5 L1715.3 2062.6 L1716.2 2066 L1710.9 2068.1Z M1839.7 1974.2 L1838.2 1980.5 L1824.1 1982.5 L1811.6 1979.4 L1807.4 1972.7 L1820.9 1970.1 L1832.8 1969.4Z M1721.3 2013.4 L1720.4 2015.5 L1718.8 2016.6 L1716.8 2015.3 L1717.3 2012.7 L1718.5 2011.1 L1720.5 2010.8Z M1808 2076.6 L1809.3 2078.4 L1809.4 2080.2 L1806.7 2080.7 L1803.3 2080.7 L1802.1 2078.5 L1804.3 2076.7Z M1772.7 1918 L1773.9 1919.7 L1774.3 1921.8 L1772.5 1922.7 L1770.9 1922.2 L1769.8 1920.5 L1770.8 1918.7Z M1870.2 1703.9 L1868.4 1706.6 L1865.7 1706 L1863.7 1703.1 L1865.5 1700.1 L1867.8 1697.8 L1869.6 1700.7Z M1938.7 1912 L1943.4 1911.5 L1946.4 1912.8 L1947.4 1914.5 L1945.6 1916.7 L1940.8 1916.5 L1937.9 1914.5Z M1681.8 2243.4 L1682.8 2248.9 L1681.9 2254.3 L1679 2255.4 L1675.2 2253.7 L1676 2246.7 L1678.3 2242.1Z M1937.1 1944.4 L1938.5 1947.9 L1935.3 1950.1 L1931.9 1950 L1929.8 1947.3 L1930.7 1943.8 L1934.2 1942.7Z M1731.6 1854.8 L1732.5 1857.2 L1731.9 1859.8 L1730.5 1860.5 L1729.4 1859.1 L1729 1856.7 L1730 1854.8Z M1747.1 1690.8 L1747.7 1681.5 L1752.2 1682.7 L1756.1 1684.9 L1757.2 1694.3 L1753.1 1698.7 L1748.9 1698.4Z M1702.1 1741 L1705.8 1738.4 L1710.3 1739.6 L1710.3 1744.4 L1708.5 1747.7 L1704.9 1748.5 L1702.1 1745.5Z M1867.6 1844 L1868.4 1836.4 L1870.9 1828.2 L1878.8 1829.3 L1881.6 1837 L1879.8 1843.9 L1874 1848.7Z M1871.7 1999.6 L1873.1 2001.2 L1873.7 2004.3 L1872.3 2006.4 L1870.9 2005.4 L1869.4 2003.7 L1870.1 2000.6Z M1858.2 1832.6 L1858.1 1836.3 L1850.4 1837 L1843.2 1835.4 L1843.7 1831.6 L1848.6 1829.1 L1855.8 1829.5Z M1603 2147.1 L1605.1 2142.6 L1609.4 2141.1 L1611.3 2147.7 L1610.7 2154.9 L1606.3 2155.2 L1603 2152.8Z M1773.8 2151.5 L1774.9 2153.1 L1773.7 2154.7 L1771.4 2155.2 L1769.3 2153.8 L1770 2151.6 L1772 2150.3Z M1713.8 2103.6 L1715.2 2105 L1715.8 2107.2 L1714.7 2108.9 L1713.1 2109.3 L1711.8 2107.6 L1712.2 2105Z M1708.2 1956.8 L1702.5 1951.4 L1708.7 1946.4 L1716.5 1944.1 L1721.6 1948.8 L1721.7 1954.2 L1716.4 1959Z M1788.8 1708 L1789.9 1709.9 L1789.5 1712 L1787.5 1712.9 L1785.2 1712.2 L1784.7 1709.7 L1786.5 1708.2Z M1758.8 1695.9 L1753 1696.5 L1747.4 1695.9 L1746.2 1689.4 L1749.7 1684.2 L1755.2 1684.7 L1758.1 1689.3Z M1867.4 1680.6 L1868.4 1678.8 L1871.3 1678.9 L1873.6 1680.4 L1872.9 1682.7 L1869.9 1683.5 L1867.6 1682.4Z M1675.2 2172.4 L1670.6 2170.9 L1670.6 2164.8 L1673.7 2160.6 L1678.3 2161.3 L1680.5 2166 L1679.8 2171.8Z M1791.6 1926.9 L1797 1922.8 L1804.2 1923.9 L1807.4 1927.3 L1808.8 1932.3 L1801.2 1933.3 L1793.9 1932.1Z M1696.5 2069 L1701.1 2063.3 L1710.4 2059.4 L1715.4 2066.4 L1718.9 2073.9 L1709.2 2078.1 L1701.1 2074.4Z M1779.5 1611.6 L1768.7 1608.4 L1774 1602.6 L1782.9 1600.1 L1794.9 1600.7 L1801.6 1607.3 L1791.8 1613.1Z M1768.2 1577.1 L1764 1577.2 L1762.1 1574.3 L1762.2 1570.8 L1766.5 1569.8 L1770.3 1571.3 L1770.2 1574.5Z M1745.9 1934.4 L1750.7 1927.5 L1758 1927.4 L1762.8 1937.8 L1759.6 1950.2 L1751.3 1953.9 L1744.2 1946.2Z M1789 2034.2 L1794 2032.5 L1801.1 2033.5 L1799.5 2036.9 L1796.2 2038.9 L1789.6 2039.9 L1784.7 2037Z M1882.2 2036.4 L1887.2 2035.7 L1891 2036.2 L1894.4 2038.4 L1892 2041.6 L1886.1 2042 L1882.8 2039.5Z M1661.6 1963.1 L1659.5 1960.5 L1659.6 1957.2 L1664.7 1957 L1668.2 1958.4 L1669 1961.1 L1666.3 1963.4Z M1868.3 1765.4 L1870.4 1765.4 L1872.5 1766.7 L1871.6 1769.3 L1870.1 1770.7 L1868.2 1770 L1867.4 1767.8Z M1841.1 2024.7 L1845.2 2019.6 L1849.5 2019.9 L1852.5 2025.5 L1852.5 2035 L1847.1 2036.4 L1843 2032.8Z M1715.2 1609.6 L1719.6 1614.8 L1719.4 1620.8 L1715.4 1625.7 L1708.7 1624.7 L1706.5 1618.2 L1708.3 1611.3Z M1716.7 1574.3 L1708.7 1577.1 L1702.2 1570 L1704.2 1560.1 L1708.8 1552 L1715.1 1557.5 L1719.7 1564.5Z M1937.7 1862.9 L1934.8 1862.8 L1932.8 1861.6 L1932.3 1858.8 L1934.1 1857.1 L1936.4 1857 L1937.6 1859.4Z M1765.8 1945.8 L1769.6 1942.8 L1777 1942.9 L1782.8 1945.2 L1783.2 1949.6 L1774.6 1952.2 L1766.3 1949.7Z M1793.1 1737.5 L1791.8 1744.1 L1784.6 1745.6 L1779.5 1742.2 L1775.8 1736.5 L1781.2 1731 L1787.9 1734Z M1862.7 1822.2 L1860.9 1821.8 L1860 1820.1 L1860 1818 L1861.3 1816.1 L1863 1817.4 L1863.7 1819.8Z M1743.7 1656.5 L1742.5 1654.9 L1742.8 1652.1 L1744.1 1650.5 L1745.6 1651.3 L1745.9 1654.1 L1745.1 1656.4Z M1905.8 1955.8 L1907.3 1952.8 L1910.8 1953.9 L1913.8 1955.7 L1912.7 1959.1 L1909.1 1960.6 L1906.6 1958.3Z M1675.3 1649.6 L1668.1 1649.6 L1668 1644.3 L1671.5 1641 L1677.6 1639.3 L1681.4 1643.3 L1681.3 1648.1Z M1754.7 2220.4 L1754.2 2215.4 L1755.3 2210.6 L1758 2210 L1759.8 2214.3 L1759 2218.9 L1757.2 2222.3Z M1749.2 2010.1 L1740 2007.5 L1742.2 1999 L1747.6 1991.6 L1758.1 1993.5 L1760.3 2002.1 L1759.1 2011.1Z M1764.4 1837.5 L1763.5 1841 L1760.3 1843.9 L1755.9 1842 L1754.8 1838.5 L1757.2 1835.8 L1761 1835.4Z M1833.6 2117.3 L1840.3 2119.4 L1837.4 2123.5 L1831.5 2125.2 L1823.5 2124.9 L1824.4 2120.5 L1826.6 2116.9Z M1703 2114.7 L1701.9 2117.7 L1698.9 2120.4 L1692.9 2119.2 L1687 2117.2 L1689.9 2113.7 L1697 2113.5Z M1641.1 2042.2 L1640.7 2047.2 L1633.4 2047.2 L1625.9 2046.1 L1625.5 2040.4 L1631.3 2036.4 L1639.6 2036.9Z M1811.6 1892.1 L1810 1889 L1811.4 1885.6 L1813.3 1883.8 L1815.3 1886.4 L1815.3 1891 L1813.4 1893.6Z M1641.3 2004.7 L1640.8 2011.1 L1635.6 2013 L1630 2012.9 L1628.7 2006.8 L1630.9 2001 L1636.8 2000.6Z M1768.6 1884.1 L1770 1885.8 L1768.3 1887.3 L1766.3 1887.6 L1764.3 1886.7 L1764.7 1884.9 L1766.4 1883.8Z M1694.8 1908.5 L1702.8 1907.3 L1709.9 1911.2 L1712.2 1920.2 L1703 1923.1 L1695 1922.8 L1690 1915.7Z M1867.9 1935.5 L1868.4 1938.8 L1863 1941.6 L1856 1939.8 L1854.6 1936.7 L1856.3 1933.3 L1863.1 1933.9Z M1664.5 2066.8 L1659.2 2063.2 L1661.7 2058.9 L1668.3 2057.1 L1673.8 2059.3 L1676.7 2063 L1673 2067.3Z M1831.7 1848.7 L1832.1 1846.7 L1833.9 1845.3 L1836.6 1845.7 L1837.7 1847.5 L1836.1 1848.9 L1834 1849.9Z M1614.5 1557.1 L1613.3 1561 L1610.8 1560.7 L1608.2 1558.8 L1608.6 1553.3 L1611.3 1551.4 L1613.9 1552.7Z M1684.5 2265.7 L1683.3 2263.5 L1683.6 2261.1 L1685.1 2259.9 L1687.2 2260.2 L1687.3 2262.9 L1686.7 2265.3Z M1837 1856.9 L1836.7 1854.2 L1839.4 1852.8 L1842.1 1853.6 L1844 1855.9 L1842 1858.3 L1839 1858.8Z M1912.1 1859 L1912.2 1861.1 L1909.8 1862.8 L1905 1862.8 L1903.1 1860.9 L1903.3 1858.9 L1907.7 1857.8Z M1817.2 2019.3 L1820.3 2019.1 L1823.1 2021.3 L1822.1 2025.2 L1820 2027.9 L1817.6 2025.7 L1816.2 2023Z M1864.2 1718.4 L1859.9 1715.6 L1856.6 1711.9 L1860.4 1708.9 L1864.4 1707 L1868.6 1709.8 L1868.4 1715Z M1715.8 1958.6 L1721.2 1961.2 L1723.8 1965.2 L1718.3 1968.4 L1711 1968 L1705.2 1964.6 L1710.1 1960.9Z M1874.5 1759.6 L1873.7 1765.8 L1869.1 1768.9 L1864.9 1766 L1862.3 1760.8 L1864.9 1754.6 L1870.8 1754.7Z M1677.5 2130 L1673.9 2130.6 L1670.1 2129.2 L1670.9 2126.2 L1673.8 2123.9 L1677.5 2125.4 L1679.8 2127.6Z M1828.7 2045.1 L1826.3 2038.3 L1830.8 2033.8 L1836.1 2032 L1841.1 2036.8 L1838.7 2043.6 L1834.2 2047.4Z M1871 2076.8 L1871.1 2074.7 L1874.5 2074 L1876.6 2075.7 L1877.5 2077.6 L1875 2079 L1872 2078.4Z M1749.5 1750.2 L1752.9 1752.3 L1750.9 1755.1 L1748 1756.3 L1744.3 1755.7 L1744.1 1753 L1745.1 1749.9Z M1727.7 2134.8 L1734.5 2133 L1737.4 2141.8 L1738.1 2152 L1731 2157 L1725.6 2150.1 L1723.8 2141.8Z M1650.4 2057.6 L1652.1 2058.3 L1653 2060.7 L1652.2 2063 L1651 2063.7 L1649.7 2062.7 L1649 2059.8Z M1799 2172.6 L1797.5 2173.3 L1796.2 2172.3 L1795.6 2169.6 L1796.6 2167 L1798.1 2167.5 L1799.1 2169.5Z M1673.2 1944.2 L1672.3 1941.6 L1673.5 1939.4 L1675.5 1938.4 L1677.7 1940 L1677.2 1943.1 L1675.4 1944.6Z M1891.8 1874.7 L1888.1 1872.4 L1889 1869.6 L1893.9 1868.2 L1898.9 1869.4 L1900.1 1872 L1897.2 1874.1Z M1752.7 1870.3 L1757.3 1868.5 L1761.6 1868.8 L1764.9 1870.4 L1763.3 1872.7 L1759.8 1875 L1754.8 1873.4Z M1679.4 1654 L1685.2 1659.3 L1681 1665 L1672.6 1666.8 L1664.4 1664.2 L1661.6 1657.9 L1668.9 1652.5Z M1941.3 1931 L1936.5 1929.2 L1939.6 1926.6 L1943 1924.2 L1947 1926.4 L1948.6 1928.5 L1946.4 1930.6Z M1818.2 1597.2 L1817.5 1601.4 L1813.8 1603.7 L1810.1 1601.9 L1808.1 1598.8 L1809.6 1594.7 L1814.5 1594.4Z M1773.1 1766.5 L1775.7 1763.6 L1777.8 1768 L1777.8 1773 L1776.3 1778.3 L1773.3 1776.2 L1770.9 1771.5Z M1780.5 1596.5 L1774.3 1594.6 L1775.5 1591 L1779 1589 L1785.4 1588 L1787.3 1591.5 L1785.9 1594.4Z M1821.3 1984.7 L1816.2 1991.4 L1806.6 1989 L1799.3 1984.1 L1804.2 1977.8 L1811.8 1974.2 L1822.1 1976.6Z M1923.3 2029.9 L1921.3 2030.4 L1920.1 2028.1 L1920.5 2025.4 L1922.6 2024.6 L1924.4 2025.9 L1924.5 2028.3Z M1841.1 1890.2 L1842.4 1888.6 L1844 1888.2 L1846.3 1888.6 L1845.8 1890.9 L1844.3 1892.2 L1842.4 1891.7Z M1758.2 2103.2 L1755.5 2100.1 L1753.2 2096 L1756.3 2093.2 L1759.2 2092.5 L1761.7 2095.4 L1761.8 2100.7Z M1804.1 2071.1 L1808 2075.9 L1809.5 2082.2 L1807.5 2087.8 L1804 2088.9 L1799.5 2086.1 L1800.8 2077.6Z M1900.9 1974.7 L1897.1 1981.3 L1891.8 1980.8 L1888.3 1974.4 L1888.4 1964.3 L1894.5 1962.3 L1899.4 1966.1Z M1769.5 1799.5 L1771.3 1798.2 L1773.4 1798.9 L1775 1800.3 L1773.6 1801.9 L1771.5 1802.5 L1770 1801.2Z M1906.7 1961.1 L1908.8 1959.5 L1913.4 1959.3 L1915.4 1961.2 L1915 1963.3 L1910.5 1964.5 L1907.5 1962.7Z M1610 2254.3 L1613.4 2260 L1610 2266.1 L1603.5 2266.4 L1598.2 2262.7 L1598.2 2255.6 L1604.1 2251.9Z M1790.5 1617.1 L1785.5 1620.3 L1778 1620.2 L1775.8 1615.3 L1777.6 1610.7 L1784.9 1608.1 L1792.6 1611.4Z M1837.1 1665.5 L1830.4 1663.9 L1827.1 1659.8 L1829.3 1655.3 L1835.4 1652.7 L1841.5 1655.9 L1845.2 1662.2Z M1841.9 1688.2 L1846.7 1689.5 L1848.3 1691.8 L1846.3 1694 L1841.7 1694.3 L1837.3 1692.9 L1838.2 1690.3Z M1837.6 1628.6 L1835.2 1635 L1831 1637.1 L1826.3 1635.5 L1825.9 1628.8 L1828.2 1622 L1834 1622.7Z M1888.2 2031.7 L1890.8 2034.6 L1888.1 2037.5 L1885 2038.6 L1882.6 2036.3 L1882.3 2033 L1885 2031.1Z M1772.3 1608.4 L1775.7 1611.2 L1774.7 1616.1 L1770.3 1618.6 L1766.3 1615.7 L1765.3 1611.1 L1768 1606.7Z M1670.3 2105 L1671.4 2099.1 L1674.2 2095.5 L1677.2 2098.8 L1677.8 2105.4 L1675.3 2109.1 L1672.6 2109.2Z M1802.7 2022.6 L1809.2 2028.9 L1810 2039.4 L1801.8 2043.9 L1792.4 2043.6 L1790.4 2032.9 L1794.6 2024.6Z M1758.5 1789 L1754.4 1797.1 L1745.5 1794.3 L1741 1788 L1742.2 1779.8 L1750.8 1775.6 L1760.1 1779.9Z M1737.9 1737.3 L1739.5 1740.1 L1737.5 1742.7 L1735.1 1742.2 L1733.8 1740.1 L1733.4 1736.6 L1736 1735Z M1822.2 1515 L1819.4 1516 L1816.4 1513.3 L1816.6 1506.5 L1819.3 1502.6 L1822.4 1504.1 L1823.9 1509.8Z M1748 1471.3 L1747.7 1474.3 L1747 1477 L1745.3 1476.2 L1744.4 1474 L1744.6 1470.8 L1746.3 1470.8Z M1834 1411.7 L1832.6 1420 L1828.5 1425.1 L1822.7 1423.3 L1822.1 1414.2 L1823.9 1405.1 L1829.6 1407Z M1800 1470.5 L1799.8 1466.6 L1803.9 1464.6 L1808 1466.9 L1808.1 1471.4 L1805 1473.8 L1801.4 1473.5Z M1868.7 1515 L1866.4 1514.5 L1866 1512.2 L1867.5 1510.8 L1869.4 1509.8 L1870.7 1511.8 L1870.5 1513.9Z M1763.8 1467.2 L1765.3 1469.5 L1766 1472.9 L1764.1 1474.4 L1762.2 1474.4 L1761.1 1471.7 L1761.6 1468.2Z M1724.6 1479.6 L1722.8 1477.8 L1722.1 1475.5 L1724.7 1474.7 L1727.3 1474.4 L1728 1476.6 L1726.9 1478.3Z M1881.2 1554 L1879.2 1553.2 L1879.2 1551.8 L1880.7 1550.9 L1883.4 1550.7 L1885.5 1552.1 L1884.4 1553.9Z M1827.6 1401.7 L1829.8 1403.2 L1830.3 1405 L1827.5 1406.1 L1823.9 1405.8 L1823 1404 L1823.6 1401.9Z M1830.2 1521.2 L1825.8 1521.1 L1823.8 1516.2 L1826.6 1512.5 L1830.5 1509.6 L1833.5 1513.8 L1833.2 1518.4Z M1848.7 1503 L1847.6 1508.1 L1839.5 1511.3 L1830.4 1508.6 L1829 1503.1 L1835 1499.4 L1843.2 1499.3Z M1877.7 1492.2 L1881.2 1492.5 L1882.8 1494 L1881 1495.4 L1878 1496 L1875.8 1494.8 L1876.1 1493.5Z M1789.3 1445.3 L1796.5 1447.1 L1801.8 1451 L1800.1 1457.2 L1792.3 1458.7 L1786.4 1455.6 L1784.6 1450.2Z M1788.4 1516 L1786.5 1517.4 L1784.4 1516.4 L1783.4 1514.1 L1785 1512.3 L1786.8 1512.5 L1788.5 1513.6Z M1810.9 1434.3 L1807.8 1430.6 L1810.7 1426.8 L1813.7 1424.7 L1816.6 1427.3 L1816.8 1431.6 L1814.6 1435.2Z M1822.6 1517.1 L1823.9 1515.4 L1826 1514.5 L1828.8 1515 L1829.4 1517.1 L1827.2 1518.3 L1824.7 1518.6Z M1880.4 1463 L1887.2 1462.5 L1891.1 1465 L1891.4 1468.1 L1885.1 1469.2 L1879 1468.4 L1877.4 1465.6Z M1780.7 1422.1 L1781.5 1419.6 L1783.6 1420.4 L1785.4 1422.1 L1784.4 1424.8 L1782.4 1425.5 L1780.2 1424.7Z M1912.6 1452.1 L1915.7 1451.6 L1917.9 1452.8 L1918.2 1454.4 L1915.7 1455.2 L1912.9 1455 L1911.7 1453.6Z M1802.3 1472.5 L1797.3 1475 L1794.6 1468.8 L1796.3 1463.3 L1799.6 1458.2 L1804.7 1460.9 L1806.2 1468.2Z M1785.7 1414.6 L1786.9 1422 L1786.3 1427.9 L1781.8 1429.2 L1777.9 1426.8 L1777.2 1420.9 L1779.7 1414.6Z M1778.7 1433.5 L1777.3 1432.2 L1777 1430.6 L1779.9 1429.8 L1782.8 1430.5 L1783.8 1432 L1782 1433.5Z M1887.9 1485.2 L1889 1482 L1893.4 1480.4 L1898.3 1481.7 L1898.3 1485.2 L1896.2 1488.7 L1890.7 1487.9Z M1902.2 1508.5 L1909.6 1507.9 L1914.9 1513.5 L1913.1 1521.1 L1905.4 1521.8 L1900.2 1519.1 L1898.8 1513.7Z M1732.5 1412.8 L1730.9 1411.5 L1730.2 1408.6 L1731.5 1406.1 L1733.4 1406.3 L1734.8 1408.6 L1733.7 1410.9Z M1814.9 1436.7 L1814.9 1432.7 L1818.9 1430.4 L1824.5 1430.1 L1828.3 1434.3 L1825.6 1439.3 L1818.9 1440.2Z M1926.3 1459.3 L1925.5 1461.3 L1923.8 1462.6 L1921 1462.4 L1919.3 1460.6 L1920.5 1458.4 L1923.8 1457.8Z M1796.4 1463.4 L1795.3 1468.8 L1788.6 1470.2 L1783.6 1466.7 L1783.6 1461.6 L1787.7 1457.9 L1794.4 1458.2Z M1741.8 1481.7 L1746.6 1485.6 L1750 1492.2 L1745.7 1498.8 L1739.6 1497.3 L1734.8 1492.7 L1735.9 1484.7Z M1840.7 1464.6 L1838.7 1463.2 L1840.4 1461.7 L1843.9 1461.6 L1846.8 1462.4 L1846.5 1463.9 L1844.1 1464.9Z M1793.6 1466.9 L1789.2 1461.3 L1789.3 1454.3 L1794.7 1449.8 L1800.2 1453.6 L1804.2 1459 L1799.5 1464Z M1933.1 1513.7 L1933.8 1511.3 L1935.3 1510.2 L1937.3 1510.3 L1938.2 1512.7 L1937.1 1514.9 L1935 1515.1Z M1920.6 1467.9 L1919.8 1465.4 L1921 1463.1 L1925.1 1462.4 L1928 1464.2 L1928.3 1466.8 L1924.9 1468.3Z M1878.5 1459.7 L1875.8 1461 L1872 1461.7 L1869.2 1460 L1871.1 1458.4 L1873.6 1457 L1876.8 1458Z M1786.1 1444.5 L1784.9 1447.1 L1783 1446.5 L1782.1 1443.7 L1782.1 1439.6 L1784.4 1439 L1786.2 1440.8Z M1849.1 1558 L1845.6 1557.4 L1845 1555.6 L1846.7 1554.4 L1849.4 1554.3 L1852.4 1555 L1851.9 1556.8Z M1834.2 1531.8 L1835.5 1530.3 L1838.8 1530.7 L1841.8 1531.6 L1841 1533.5 L1837.5 1534.2 L1834.4 1533.4Z M1716.1 1485.4 L1716.1 1481.4 L1717.5 1478.7 L1719.7 1478.4 L1721.2 1481.6 L1720.2 1485.2 L1718.3 1486.7Z M1913.7 1463.1 L1908.9 1467.3 L1899.2 1468.6 L1895.4 1463.6 L1895.8 1459.2 L1902.9 1455.9 L1911.9 1458Z M1835.2 1526.9 L1836.9 1530 L1834.1 1532.6 L1829.7 1533.1 L1826.6 1531 L1824.6 1527.2 L1830.4 1526.3Z M1841 1420.1 L1845.2 1412.1 L1852.4 1411.4 L1854.8 1420.3 L1854.2 1428.1 L1849 1433 L1844 1428.1Z M1844.4 1513.5 L1849.6 1516 L1847 1519.8 L1841.3 1520.9 L1836.7 1519.2 L1833.6 1516 L1838.4 1513.3Z M1732.9 1484.5 L1730.9 1482.4 L1731.1 1479.6 L1734.8 1478.4 L1737.5 1480.2 L1739.1 1482.7 L1736.2 1484.3Z M1864.3 1519 L1861.7 1519.5 L1858.9 1518.9 L1857.8 1517.3 L1860.6 1516.2 L1864.5 1516.1 L1866.3 1517.7Z M1792 1404.1 L1793.3 1409.5 L1789.1 1413.6 L1781.7 1413.6 L1776.8 1410.2 L1776.4 1404.9 L1783.7 1400.7Z M1380.2 629.8 L1381.1 630.3 L1380.9 631.3 L1379.9 631.8 L1378.9 631.4 L1378.9 630.5 L1379.3 629.8Z M1376.7 672.3 L1377.3 672.9 L1377.3 674 L1376.6 674.5 L1376 674.3 L1375.6 673.3 L1376 672.4Z M1369.4 575.4 L1369.9 574.9 L1370.7 574.8 L1370.8 575.8 L1370.8 576.7 L1369.9 577 L1369.4 576.2Z M1406.3 555.8 L1405.2 556.2 L1403.9 555.7 L1403.8 554.2 L1404.9 553.6 L1406 553.4 L1406.4 554.6Z M1371.6 593 L1372.8 592.5 L1374.4 592.5 L1374.7 593.2 L1374.6 593.8 L1373.1 594.1 L1371.7 593.7Z M1388.4 633.8 L1388 633.1 L1389.5 632.9 L1390.9 633 L1391.4 633.6 L1390.5 634.1 L1389.2 634.3Z M1362.8 702.1 L1365.2 701.6 L1367.1 702 L1368.3 703 L1367.2 704.2 L1364.8 704.5 L1362.8 703.7Z M1401.2 628.6 L1401 627.8 L1401 627.1 L1402 626.9 L1402.8 627.3 L1403.3 628 L1402.3 628.4Z M1376.8 626.5 L1375.4 626.9 L1374.8 625.8 L1374.5 624.6 L1376 624.1 L1377.2 624.7 L1377.6 625.6Z M1400.6 620.9 L1399.9 621.3 L1399.6 620.3 L1399.3 619.2 L1400 618.6 L1400.7 618.7 L1400.8 619.9Z M1372.1 629.8 L1372.6 628.2 L1373.8 627.2 L1375.4 627.5 L1376.5 629 L1375.3 630.5 L1373.5 631Z M1385.9 632.8 L1385.1 633.6 L1383.6 633.4 L1383.1 632.6 L1383.5 631.8 L1384.6 631.3 L1385.9 631.8Z M1403.7 550.9 L1402.5 550.9 L1401.4 550.6 L1401.5 550 L1402.5 549.6 L1403.6 549.9 L1404.5 550.4Z M1387.6 657 L1388.2 657.5 L1387.3 657.9 L1386.2 658.1 L1385.2 657.7 L1385.2 657.1 L1386.4 656.7Z M1377.6 671.5 L1376.9 672.2 L1376 672 L1375.8 670.3 L1376.2 668.8 L1377.2 668.8 L1377.8 670Z M1391.1 529.5 L1391.5 528.2 L1392.5 528.5 L1392.9 529.5 L1392.7 530.6 L1392 531.3 L1391 530.9Z M1372.3 647.3 L1372.5 646.3 L1373.5 646 L1374.7 646.2 L1374.8 647.5 L1374.1 648.7 L1372.7 648.5Z M1387.3 711.2 L1389.4 711.6 L1389.1 713.1 L1387.5 713.7 L1385.7 713.7 L1384.3 712.6 L1385.1 711.2Z M1389.6 576.6 L1389.9 578.4 L1389.2 579.8 L1388.1 580 L1387.6 578.4 L1387.9 576.9 L1388.7 575.6Z M1405.8 556.9 L1406.7 557.2 L1407.4 557.7 L1406.7 558.3 L1405.7 558.5 L1404.9 558 L1404.9 557.3Z M1411 688 L1412.8 687.7 L1414.8 687.7 L1414.8 688.8 L1414.4 689.9 L1412.3 689.8 L1411.3 689Z M1379.7 571 L1378.8 571.8 L1377.9 571 L1377.8 569.6 L1378.6 568.9 L1379.6 568.6 L1380.3 569.8Z M1395.8 619 L1395.4 619.8 L1394.6 620.3 L1393.6 619.9 L1393.7 619.2 L1394.2 618.7 L1394.9 618.6Z M1390.1 579.5 L1390.5 580.4 L1389.8 581 L1388.9 581.4 L1388.5 580.6 L1388.2 579.7 L1389.1 579.2Z M1379.9 625.9 L1381 625.2 L1381.8 626.6 L1381.5 628.2 L1380.7 629.2 L1379.7 628.7 L1379.5 627.3Z M1364.9 541.4 L1366.2 541 L1367.6 541.4 L1368.1 542.4 L1366.8 543.1 L1365.4 543.2 L1364.3 542.4Z M1374.9 671.9 L1373.7 670.4 L1374.6 668.5 L1376.3 668.1 L1377.5 669.4 L1378.1 671.3 L1376.5 672.6Z M1377.4 579.5 L1378 579.2 L1378.7 579.4 L1379.2 580.1 L1378.7 580.9 L1377.7 581 L1377.1 580.2Z M1377.6 623.8 L1376.1 624.8 L1374.2 625.4 L1372.1 624.9 L1371.4 623.8 L1372.7 622.7 L1375.4 623.1Z M1387.6 569.7 L1386.8 569.1 L1386.7 567.9 L1387.4 567.2 L1388.2 567.3 L1388.5 568.2 L1388.3 569.1Z M1385.1 617.5 L1385.7 618.3 L1385.3 619.2 L1384.2 619.4 L1383.3 618.8 L1383 617.9 L1383.9 617.1Z M1365 678.9 L1367.4 678.8 L1369.3 679.1 L1370.2 680.4 L1368.3 681.2 L1366.2 681.5 L1365.2 680.3Z M1395.2 699.7 L1394.7 698.9 L1395.3 698.1 L1396.1 697.9 L1397.1 698.3 L1396.9 699.1 L1396.3 699.6Z M1379.6 564.3 L1380.2 562.5 L1381.2 561.2 L1382.4 562.3 L1382.4 564 L1381.8 565.2 L1380.6 565.8Z M1388.3 565.5 L1390 564.5 L1392 564.5 L1392.9 565.6 L1392.5 566.7 L1391 567.8 L1389.4 566.8Z M1391 635.2 L1391.2 634.6 L1391.9 634.2 L1392.8 634.4 L1393.5 635 L1392.9 635.7 L1391.7 635.7Z M1381.5 595.9 L1380.6 595.9 L1379.9 595.3 L1380.1 594.5 L1380.8 593.9 L1381.8 594.2 L1382.1 595.2Z M1407 679.3 L1406.7 678.7 L1407.6 678.1 L1408.9 678.3 L1409.5 679 L1409.2 679.7 L1407.8 679.6Z M1390.6 698.4 L1391.8 699 L1391.9 700.5 L1390.6 701.3 L1389.4 700.6 L1388.6 699.5 L1389.4 698.5Z M1375.8 610.5 L1377 610.7 L1377.4 611.4 L1376.2 611.8 L1374.8 611.8 L1374.5 611.2 L1374.6 610.6Z M1483.6 620.6 L1482.8 619.1 L1483.2 617.6 L1484.5 616.9 L1485.7 617.6 L1485.9 619 L1485.3 620.5Z M1499.5 572 L1498.3 572.2 L1496.9 571.8 L1497.4 571 L1498.2 570.2 L1499.7 570.6 L1500.3 571.4Z M1497.9 538.3 L1496.9 537.8 L1496.4 536.6 L1497.5 535.9 L1498.7 535.7 L1499.9 536.7 L1499.5 538.3Z M1478.2 522.3 L1477.5 523 L1476.8 522.5 L1476.3 521.8 L1476.6 520.8 L1477.4 520.6 L1477.9 521.2Z M1473.2 519.5 L1474.8 519 L1475.9 520 L1475.7 521.1 L1474.6 521.7 L1472.8 521.7 L1472.7 520.5Z M1509.3 701.6 L1509.9 699.8 L1511.7 699 L1513 700.1 L1513.8 701.5 L1512.6 702.9 L1510.9 702.5Z M1454.3 680.8 L1454.2 679.8 L1455 679.2 L1456.2 679.1 L1456.7 680 L1456.7 681.2 L1455.3 681.7Z M1494.9 518.9 L1493.8 519.3 L1493.2 518.3 L1493.1 517.3 L1494.1 516.7 L1495.2 516.9 L1495.9 518.1Z M1492 667.1 L1492.5 665.8 L1493.5 665.4 L1494.1 666.9 L1494.2 669 L1493 669.3 L1492.2 668.6Z M1498.6 630.4 L1498.1 629.6 L1498.4 628.7 L1499.4 628.6 L1500.3 629 L1500.2 629.8 L1499.5 630.3Z M1446.9 677.4 L1448.8 677.2 L1450.6 677.5 L1451.2 678.5 L1449.4 679 L1447.3 679.2 L1446.5 678.3Z M1444.1 608.3 L1445.1 607 L1446.2 606.1 L1447.3 607.3 L1447.5 609 L1446.4 610.1 L1445.1 609.6Z M1454.9 676.8 L1454.2 676.1 L1454 675.2 L1455 674.8 L1456.2 674.8 L1456.4 675.7 L1456.3 676.6Z M1490.8 611 L1489.9 610.5 L1489.7 609.4 L1490.7 608.7 L1491.8 609 L1492.5 609.9 L1492.1 611Z M1483.3 534.4 L1484.8 533.5 L1486.2 534.2 L1487.4 535.4 L1486 536.4 L1484.6 536.6 L1483.4 535.9Z M1447.3 579.7 L1446.3 578.9 L1447.7 578.1 L1449.8 578.2 L1451.2 578.9 L1450.2 579.6 L1448.9 580.3Z M1478.1 572.6 L1477.3 570.5 L1478.6 569.2 L1480 568.8 L1480.4 571 L1480.5 573.5 L1479 574.7Z M1472 672.6 L1469.8 671.9 L1469.4 670 L1470.5 668.6 L1472.3 668.9 L1474.1 669.6 L1473.9 671.5Z M1490.6 547.9 L1491.8 547.6 L1492.4 548.2 L1492.4 548.7 L1491.8 549.1 L1490.8 549.1 L1490.5 548.5Z M1457.3 542.9 L1458.3 541.7 L1459.6 540.8 L1460.1 542.8 L1460 544.3 L1459 545.4 L1457.5 544.9Z M1500.6 526.8 L1502.1 527.3 L1503.1 528.1 L1501.9 528.8 L1499.8 529 L1499 528.1 L1498.8 527.2Z M1484 546.6 L1483.1 547 L1482 546.7 L1481.7 546.1 L1482.4 545.7 L1483.7 545.5 L1484.1 546.1Z M1472.6 568.5 L1474.1 568.2 L1475.7 568.6 L1475.8 569.5 L1474.4 569.9 L1473.2 569.8 L1472.2 569.3Z M1452.5 576.5 L1453.7 576 L1455.1 575.8 L1456 576.5 L1455.7 577.3 L1454.4 577.9 L1452.9 577.5Z M1505.3 580.9 L1505.9 580.5 L1506.4 580.7 L1506.8 581.4 L1506.6 582.5 L1505.7 582.4 L1505.2 581.7Z M1529.7 696.5 L1528.8 694.9 L1530.1 693.6 L1531.8 693.8 L1533.4 694.6 L1532.8 696.2 L1531.3 697.2Z M1448.1 675.2 L1447.7 676 L1446.8 676.7 L1446 675.8 L1446.2 674.9 L1446.8 674.1 L1448 674.1Z M1456.3 701 L1454.9 700.6 L1454.3 699 L1454.6 697.1 L1456.2 695.8 L1457.5 697.6 L1457.6 699.8Z M1497.5 529.3 L1496.1 528.8 L1495.9 527.6 L1496.7 526.6 L1498.3 526.5 L1499 527.6 L1499.2 529Z M1469.5 643.9 L1468.7 644.3 L1467.4 644.5 L1466.8 643.9 L1467.3 643.4 L1468.3 643 L1469.3 643.4Z M1502.6 649.6 L1502.5 650.2 L1501.7 650.5 L1500.5 650.6 L1499.7 650 L1500.1 649.3 L1501.6 649.1Z M1473.9 593.7 L1474.1 594.6 L1473.7 595.8 L1472.8 595.3 L1472 594.5 L1472.6 593.5 L1473.3 593.1Z M1453.4 709.4 L1452.4 709.5 L1451.6 709 L1451.5 708.3 L1452.6 708.1 L1453.7 708.2 L1453.8 708.8Z M1484.5 583.2 L1483.8 582.4 L1484.1 581 L1484.7 580.5 L1485.2 581 L1485.6 582.2 L1485.1 583.1Z M1442.8 567.4 L1442.5 568.3 L1440.6 568.5 L1438.8 568.1 L1439.3 567.2 L1440.3 566.5 L1442.1 566.6Z M1484.1 601 L1482.8 601.2 L1482.5 600.6 L1482.7 600.1 L1483.5 599.7 L1484.5 600.1 L1485.2 600.6Z M1434.2 631.3 L1432 630.7 L1432.2 629.4 L1433.8 628.7 L1435.9 628.8 L1436.9 629.7 L1436.2 630.7Z M1496.8 599.1 L1497.5 598.1 L1498.7 597.8 L1499.5 598.6 L1499.6 599.5 L1498.8 600.3 L1497.5 600Z M1444.6 674.3 L1443.5 674.3 L1443.2 673.4 L1443.6 672.4 L1444.7 672.4 L1445.8 672.9 L1445.2 673.8Z M1484.8 548.6 L1485.1 549.7 L1484.4 550.4 L1483.6 550.6 L1483.1 549.7 L1483.1 548.4 L1484 547.8Z M1488.1 700 L1487.5 700.8 L1486.5 701 L1485.8 700.2 L1486.1 699.4 L1486.8 698.8 L1487.7 699.1Z M1484.8 677 L1483.7 677.5 L1483.1 675.7 L1483.4 673.9 L1484.4 672.8 L1485.2 674.1 L1485.4 675.7Z M1446.9 694.7 L1446.3 694 L1447 693.3 L1448 693.5 L1448.6 694 L1448.8 694.8 L1447.7 695Z M1471.8 680.6 L1472.5 679.8 L1473.6 679.8 L1474 680.7 L1473.9 681.6 L1473 681.8 L1471.9 681.7Z M1462.3 616.1 L1462.9 615.7 L1463.7 615.5 L1463.9 616.4 L1463.6 617.2 L1462.9 617.7 L1462.1 617.1Z M1571.7 599.8 L1572.1 598.5 L1573 598.8 L1573.5 599.4 L1573.6 600.5 L1572.9 601.2 L1572.1 601Z M1563.2 560.4 L1562.5 560.2 L1562.2 559.2 L1562.4 557.9 L1563.2 558 L1563.6 558.6 L1563.7 559.7Z M1558.5 539.6 L1557.6 538.4 L1557.6 536.7 L1558.6 536.1 L1559.5 536.2 L1559.9 537.5 L1559.6 538.8Z M1604.4 529.1 L1604.8 530.3 L1603.9 531.1 L1602.8 531.2 L1602.2 530.2 L1602.2 528.9 L1603.4 528.5Z M1587.3 497.7 L1585.8 497.5 L1585.6 496.4 L1586.1 495.3 L1587.5 495 L1588.4 495.9 L1588.9 497.2Z M1583.1 592.3 L1581.7 592.6 L1580.3 592.5 L1579.8 591.9 L1580.1 591.2 L1581.6 591.2 L1583 591.5Z M1599.2 545.5 L1598.7 546 L1597.7 546.1 L1597.1 545.6 L1597.4 545 L1598.2 544.5 L1599.3 544.8Z M1585.8 494 L1585.9 495.1 L1584.6 495.3 L1583.5 495 L1583.4 494.1 L1583.9 493.1 L1585.2 493.2Z M1577.2 546.5 L1577 545.7 L1578 545.2 L1578.8 545.8 L1579.1 546.5 L1578.7 547.3 L1577.6 547.2Z M1581.1 553.2 L1582.8 552.7 L1584.5 553.1 L1585.1 554 L1584 554.7 L1582.2 554.8 L1581 554.1Z M1595.8 488.1 L1596.7 487.8 L1597.2 488.4 L1597.4 489.3 L1596.5 489.6 L1595.5 489.6 L1595.4 488.7Z M1597 499.9 L1596.4 499.1 L1597.3 498.5 L1598.7 498.2 L1599.7 498.8 L1599.6 499.4 L1598.7 500.1Z M1572.3 573.5 L1572.1 572.7 L1572.7 572 L1573.7 571.9 L1573.9 572.9 L1573.7 573.6 L1573 574Z M1565.2 494.1 L1563.6 494.5 L1562.4 494.1 L1562 493.4 L1562.7 492.8 L1563.9 492.7 L1565.3 493.1Z M1595.4 594.7 L1596.4 594.1 L1597.5 594.5 L1598.6 594.9 L1597.9 595.7 L1596.7 595.8 L1595.7 595.5Z M1596.7 604.9 L1596.1 604.6 L1595.8 603.5 L1596.2 602.6 L1596.7 602.3 L1597.3 602.8 L1597.2 604Z M1551.9 510.6 L1549.8 510.2 L1549.9 508.9 L1550.6 508 L1552.7 507.5 L1553.9 508.6 L1553.2 509.7Z M1544.1 507.2 L1543.2 506.1 L1543.5 504.3 L1544.5 503.7 L1545.4 504.5 L1545.5 506 L1545 507Z M1606.5 561.5 L1607.8 561.8 L1607.5 562.4 L1606.6 562.7 L1605.5 562.7 L1604.9 562.2 L1605.4 561.7Z M1558.7 554.6 L1560.3 555 L1561.7 556.1 L1561 557.7 L1559 557.9 L1557.2 557.2 L1557 555.5Z M1601.4 548.3 L1602.4 548 L1603.3 548.3 L1603.3 549 L1603 549.7 L1601.9 549.6 L1601.1 549.1Z M1576.9 569.7 L1577.8 570.1 L1577.8 571.5 L1577.4 572.7 L1576.6 572.6 L1575.9 571.6 L1576.3 570.4Z M1586.2 580.1 L1585.4 581.3 L1584.4 581.8 L1583.7 580 L1583.9 577.8 L1585 577.4 L1586 578Z M1547.2 516.9 L1546.9 516.2 L1547.2 515.5 L1548.3 515.3 L1549.3 515.9 L1549.1 516.8 L1548.2 517.3Z M1559.2 580.4 L1558.3 580.7 L1557.7 580.5 L1557.2 579.8 L1557.7 579 L1558.4 578.5 L1558.9 579.3Z M926.1 677.8 L927 675.9 L928 675.2 L929 676.4 L929.5 678.5 L928.5 680.5 L927 679.9Z M899.8 731.4 L898.5 729.8 L899.1 727.6 L900.8 726.8 L902.3 727.9 L902.3 729.8 L901.5 731.4Z M926.2 710.6 L924.8 710.6 L924.1 710 L924.3 709.1 L926 709.2 L927.4 709.5 L927.8 710.3Z M947.2 737.5 L947.2 736.6 L948 736.2 L949.1 736 L949.4 737.2 L948.9 738.1 L947.8 738.2Z M899.2 668.9 L900.9 670.5 L899.5 672.1 L898 673 L896.2 672.3 L895.9 670.6 L897 669.1Z M907.6 661.8 L907.3 660.7 L908.9 659.8 L910.8 660.3 L912.1 661.2 L911 662.2 L909 662.6Z M909.3 724.2 L908.3 723.7 L907.7 722.8 L908.7 722.1 L909.8 722.3 L910.8 722.9 L910.4 723.7Z M885.7 741.1 L885 742 L883.8 742.6 L882.8 741.8 L882.9 740.7 L883.6 739.7 L885.1 740Z M884.9 741.6 L885.2 742.5 L884.4 743.1 L883.2 743 L882.9 742 L883.3 741.2 L884.3 740.9Z M931.5 719.6 L930.9 718 L931.8 716.8 L933.2 716.3 L933.8 718.2 L933.7 720.3 L932.3 720.4Z M974.7 661.5 L974.6 660.6 L975.1 659.8 L975.9 660.2 L976.5 660.8 L976.1 661.7 L975.4 662.1Z M911.4 727.1 L910.4 727.4 L909.4 727.2 L909 726.6 L909.6 726.1 L910.6 725.9 L911.4 726.4Z M944 722.8 L943 722.5 L943.1 721.8 L943.8 721.3 L944.7 721.4 L945.3 721.9 L944.9 722.5Z M965.2 683.1 L963.9 683.5 L962.7 683 L962.1 681.2 L963.4 680.2 L964.7 680.4 L965.7 681.6Z M937.7 727 L938.5 727.2 L938.7 727.8 L938.5 728.6 L937.4 728.5 L936.7 728 L936.7 727.3Z M963.4 706.1 L964.5 705.7 L965.2 706.5 L965.2 707.2 L964.5 707.8 L963.4 707.7 L963.1 706.8Z M963.3 738.7 L964 737.9 L965.2 738.1 L965.7 739.4 L964.9 740.4 L963.9 740.6 L963.1 739.8Z M940.4 673.8 L940.8 675 L940.6 676.1 L939.9 676.8 L939 676.2 L938.9 674.9 L939.5 673.9Z M952.9 696.5 L951.7 697.5 L949.9 698 L948 697.5 L947.4 696.4 L949.2 695.8 L951.6 695.4Z M903.4 675.9 L903.1 673.7 L904.2 672.7 L905.4 672.3 L905.7 674.6 L905.3 676.4 L904.3 677.5Z M895.5 652.2 L894.1 652.3 L893.1 651.4 L893.5 650.2 L894.5 649.5 L895.6 650 L896.2 651.1Z M990.9 656.3 L991.3 655.7 L992 655.4 L992.9 655.6 L993.4 656.2 L992.6 656.8 L991.6 656.9Z M930 725.6 L930.7 725.6 L931.4 725.9 L931.3 726.9 L930.7 727.6 L930 727.3 L929.8 726.5Z M956.1 651.4 L956 650.7 L956.9 650.1 L958.2 650.3 L958.5 651 L958.1 651.6 L957.1 651.6Z M976.6 701.9 L975.4 702.7 L974.5 701.7 L974 700.5 L975.3 699.9 L976.5 699.8 L976.9 700.9Z M904.4 675.7 L905.9 674.6 L907.3 675.7 L907.8 677.8 L906.4 678.9 L904.9 679.2 L904.1 677.5Z M957.2 731.8 L957.2 731.2 L957.4 730.7 L958.7 730.6 L959.6 731 L959.7 731.6 L958.6 731.9Z M927 683.8 L927.3 684.7 L926.6 685.1 L925.8 685.2 L925.3 684.4 L925.8 683.7 L926.5 683.1Z M983.2 691.7 L983.9 692.4 L984 693.3 L982.7 693.6 L981.5 693.4 L981.3 692.6 L982 692.1Z M894.3 736.4 L894.7 737.6 L893.3 738.4 L891.7 738 L890.7 736.9 L891.4 735.5 L893.3 735.4Z M1279.5 724.2 L1279.4 725.8 L1278.9 726.8 L1278.1 726.6 L1277.9 725.2 L1278 723.7 L1278.7 723.4Z M1227.3 739.6 L1228 740.3 L1228.2 741.3 L1227.9 742.2 L1227.3 742.4 L1226.7 741.8 L1226.8 740.6Z M1233.9 739.2 L1233.8 737.5 L1234.6 736.4 L1235.8 736.5 L1236.5 737.6 L1236.3 739.2 L1235.1 739.6Z M1205.8 714 L1205.2 714.8 L1204.5 714.3 L1203.8 713.7 L1204.3 712.9 L1205 712.4 L1205.8 712.9Z M1251.2 726.9 L1249.3 726.7 L1249.4 725.8 L1250.1 725.2 L1251.8 724.9 L1252.7 725.7 L1252.5 726.4Z M1247.8 739.9 L1247.1 739.9 L1246.5 739.4 L1246.4 738.4 L1246.9 737.5 L1247.7 737.5 L1248.2 738.6Z M1277.2 728 L1277.7 726.9 L1278.4 726.6 L1279 727.5 L1278.9 729 L1278.2 729.9 L1277.5 729.3Z M1222.5 705 L1221.4 705.2 L1220.4 704.7 L1220.2 703.5 L1221.1 702.5 L1222.4 702.8 L1223.1 703.9Z M1230.6 748.3 L1232 748.7 L1232.8 749.5 L1232.3 750.5 L1231.1 751.6 L1229.9 750.5 L1229.5 749.2Z M1323.5 713.8 L1323.5 715.5 L1321.5 715.9 L1320.2 714.8 L1319.3 713.3 L1320.9 712.1 L1323.2 712Z M1298.3 710.3 L1297.1 710.3 L1296.3 709.8 L1296.6 709.2 L1297.4 709 L1298.3 709.1 L1298.6 709.7Z M1331.1 687.5 L1331.1 686.9 L1331.8 686.4 L1333.1 686.6 L1334 687.1 L1333.2 687.7 L1332 687.8Z M1344.3 722.9 L1344.8 723.7 L1344.6 724.6 L1343.7 725.2 L1342.7 724.7 L1342.9 723.6 L1343.4 723Z M1232.9 682.6 L1231.9 682 L1232.2 681 L1233.7 680.8 L1235.2 681 L1235 682.1 L1234.3 683.1Z M1357.8 743.6 L1359 744 L1358.5 744.7 L1357.3 745 L1355.8 744.9 L1355.4 744.1 L1356.3 743.5Z M1214.9 710.2 L1215.3 709.5 L1216.2 709.4 L1216.7 710 L1216.8 710.6 L1216.1 711.2 L1215.2 710.9Z M1206.9 695.7 L1206.6 696.4 L1205.6 696.6 L1204.9 695.9 L1205.2 695 L1206 694.7 L1206.9 694.7Z M1347.3 735.2 L1347.7 734.2 L1348.6 734.3 L1349.1 735.1 L1349.1 736.1 L1348.3 736.4 L1347.6 736.2Z M1212.6 686 L1212.8 685.1 L1213.3 684.5 L1214.1 684.7 L1214.3 685.6 L1214 686.3 L1213.3 686.5Z M1302.7 742.3 L1302.4 743.5 L1301.6 744.1 L1301 743.1 L1300.9 742 L1301.4 741.4 L1302.1 741.4Z M1294.4 746.4 L1295 746.9 L1295.3 748.4 L1294.6 749.1 L1293.8 749.3 L1293.3 748 L1293.7 746.5Z M1332.2 712.7 L1333.1 713.9 L1331.4 714.8 L1329.2 714.7 L1326.9 714.1 L1328 712.8 L1330 712.4Z M1217.2 738.3 L1216.6 739 L1215.5 738.9 L1214.8 738.4 L1215 737.5 L1215.9 737.2 L1216.8 737.6Z M1212.1 719.7 L1211.6 720.5 L1211 720.3 L1210.6 719.2 L1210.8 717.8 L1211.5 717.8 L1212.2 718.3Z M1306.4 699.2 L1305.7 699.9 L1304.3 700.2 L1302.8 699.9 L1302.4 699.1 L1303.8 698.6 L1305.4 698.6Z M1249.6 689.9 L1248.7 689.7 L1248.3 689.2 L1248.7 688.5 L1250 688.4 L1250.7 689 L1250.8 689.8Z M1247.4 749.1 L1250.1 749.6 L1249.8 750.9 L1248.9 751.9 L1246.6 751.7 L1244.4 751.1 L1245.1 749.9Z M1244 719.9 L1245.6 720.6 L1245 721.7 L1243.6 722.4 L1242.1 721.8 L1241.2 721 L1242.3 720.1Z M1274.7 688.4 L1272.8 689.1 L1270.8 688.4 L1270.5 687 L1272.1 686.1 L1273.9 686.6 L1275.6 687.3Z M1208.3 690.2 L1206.6 689.7 L1205.9 688.9 L1206 687.8 L1207.3 687.4 L1208.8 687.7 L1209.4 689Z" fill="#2438ff"/>
</g>
<path d="M893.7 1029.3 L799.7 1024.7 L674.2 1020.6 L552.3 1015.3 L545.3 1006.6 L550.5 999.7 L543.6 989.2 L547 975.3 L543.6 961.3 L550.5 947.4 L555.7 933.4 L567.9 916 L569.7 895.1 L583.6 877.7 L601 867.2 L618.5 860.3 L628.9 839.4 L630.7 811.5 L639.4 797.6 L649.8 783.6 L646.3 766.2 L639.4 752.3 L653.3 734.8 L677.7 733.1 L688.2 720.9 L698.6 713.9 L700.3 700 L716.8 695.1 L737.7 684.7 L744.7 670.7 L765.6 663.8 L776 670.7 L803.9 667.2 L831.8 660.3 L849.2 655.1 L866.6 646.3 L887.5 632.4 L908.4 616.7 L929.3 611.5 L945 607.3 L957.2 620.2 L971.1 628.9 L981.6 639.4 L1002.5 641.1 L1016.4 646.3 L1025.2 658.5 L1032.1 670.7 L1026.9 681.2 L1028.6 705.6 L1033.9 716 L1047.8 728.2 L1058.3 740.4 L1075.7 747.4 L1093.1 745.6 L1107 757.8 L1121 759.6 L1134.9 766.6 L1152.3 761.3 L1162.8 763.1 L1161 743.9 L1168 709.1 L1159.3 695.1 L1152.3 677.7 L1145.4 653.3 L1152.3 635.9 L1162.8 604.5 L1180.2 597.6 L1197.6 587.1 L1208.1 574.9 L1211.6 555.7 L1232.4 545.5 L1239.4 554.2 L1263.8 554.2 L1277.7 547.2 L1323 547.2 L1330 538.5 L1363.1 547.2 L1364.8 533.3 L1375.3 524.6 L1357.8 512.4 L1354.4 498.4 L1336.9 500.2 L1330 437.5 L1343.9 444.4 L1357.8 442.7 L1371.8 447.9 L1378.7 446.2 L1389.2 460.1 L1403.1 465.3 L1415.3 475.8 L1483.3 489.7 L1504.2 503.7 L1544.3 411.3 L1553 418.3 L1559.9 435.7 L1580.8 451.4 L1598.3 442.7 L1593 428.7 L1598.3 418.3 L1591.3 393.9 L1587.8 376.5 L1594.8 355.6 L1601.7 331.2 L1598.3 313.8 L1605.2 289.4 L1598.3 265 L1591.3 254.5 L1598.3 237.1 L1596.5 212.7 L1587.8 193.6 L1782.9 214.5 L1788.2 230.1 L1796.9 265 L1807.3 303.3 L1802.1 331.2 L1800.3 352.1 L1795.1 373 L1807.3 390.4 L1800.3 404.4 L1803.8 414.8 L1793.4 425.3 L1779.4 439.2 L1788.2 449.7 L1776 463.6 L1779.4 477.5 L1792.3 473.2 L1804.5 474.9 L1818.5 481.9 L1842.9 476.7 L1853.3 473.2 L1870.7 464.5 L1884.7 448.8 L1902.1 447 L1912.5 443.6 L1926.5 450.5 L1940.4 455.7 L1950.9 466.2 L1959.6 471.4 L1966.6 483.6 L1968.3 495.8 L1978.7 504.5 L1973.5 518.5 L1978.7 528.9 L1996.2 546.3 L2006.6 556.8 L2003.1 581.2 L2031 522 L2048.4 520.2 L2064.1 520.2 L2055.4 539.4 L2057.1 567.2 L2065.9 582.9 L2071.1 572.5 L2215.7 544.6 L2226.1 553.3 L2233.1 565.5 L2240.1 570.7 L2229.6 584.7 L2215.7 591.6 L2201.7 609.1 L2196.5 630 L2184.3 643.9 L2173.9 664.8 L2163.4 678.7 L2149.5 682.2 L2147.7 699.7 L2132.1 713.6 L2128.6 724 L2133.8 734.5 L2135.5 755.4 L2149.5 758.9 L2158.2 769.3 L2156.4 786.8 L2165.2 804.2 L2163.4 825.1 L2154.7 849.5 L2166.9 866.9 L2177.4 887.8 L2187.8 905.2 L2199.3 920.9 L2197.6 945.3 L2204.5 966.2 L2201 990.6 L2199.3 1015 L2192.3 1032.4 L2195.8 1056.8 L2197.6 1081.2 L2197.6 1109.1 L2194.1 1126.5 L2174.9 1130 L2157.5 1136.9 L2129.6 1143.9 L2115.7 1149.1 L2108.7 1164.8 L2101.7 1175.3 L2096.5 1189.2 L2096.5 1213.6 L2094.8 1232.8 L2080.8 1239.7 L2063.4 1243.2 L2046 1255.4 L2032.1 1265.9 L2018.1 1279.8 L2011.1 1290.2 L1993.7 1297.2 L1976.3 1293.7 L1962.4 1299 L1944.9 1302.4 L1931 1304.2 L1913.6 1314.6 L1899.7 1328.6 L1889.2 1335.5 L1890.9 1353 L1892.7 1363.4 L1878.7 1377.4 L1882.2 1387.8 L1889.2 1379.1 L1892.7 1387.8 L1885.7 1405.2 L1889.2 1426.1 L1894.8 1438.3 L1901.7 1448.8 L1936.6 1447 L1941.8 1452.3 L1922.6 1457.5 L1912.2 1462.7 L1919.2 1476.7 L1920.9 1490.6 L1929.6 1504.5 L1938.3 1516.7 L1950.5 1513.2 L1938.3 1522 L1929.6 1534.1 L1915.7 1542.9 L1905.2 1567.2 L1877.4 1572.5 L1856.4 1563.8 L1853 1549.8 L1835.5 1546.3 L1821.6 1539.4 L1814.6 1522 L1793.7 1518.5 L1776.3 1515 L1758.9 1513.2 L1744.9 1520.2 L1727.5 1508 L1713.6 1502.8 L1699.7 1504.5 L1685.7 1499.3 L1675.3 1501 L1671.8 1511.5 L1678.7 1522 L1675.3 1532.4 L1692.7 1534.1 L1699.7 1530.7 L1706.6 1539.4 L1727.5 1549.8 L1744.9 1553.3 L1769.3 1553.3 L1779.8 1560.3 L1793.7 1570.7 L1804.2 1584.7 L1818.1 1598.6 L1839 1609.1 L1856.4 1612.5 L1863.4 1626.5 L1877.4 1640.4 L1873.9 1654.4 L1887.8 1654.4 L1898.3 1664.8 L1905.2 1675.3 L1915.7 1678.7 L1917.4 1685.7 L1905.2 1689.2 L1901.7 1703.1 L1908.7 1710.1 L1894.8 1724 L1886.1 1734.5 L1898.3 1739.7 L1901.7 1751.9 L1905.2 1769.3 L1915.7 1786.8 L1922.6 1804.2 L1926.1 1825.1 L1922.6 1839 L1933.1 1856.4 L1936.6 1877.4 L1954 1887.8 L1950.5 1905.2 L1948.1 1920.9 L1951.6 1938.3 L1958.5 1959.2 L1955.1 1980.1 L1967.2 1999.3 L1951.6 2004.5 L1948.1 2018.5 L1951.6 2032.4 L1927.2 2039.4 L1923.7 2053.3 L1909.8 2056.8 L1902.8 2070.7 L1888.9 2077.7 L1878.4 2088.2 L1864.5 2095.1 L1857.5 2109.1 L1843.6 2123 L1848.8 2130 L1829.6 2136.9 L1815.7 2150.9 L1812.2 2168.3 L1815.7 2185.7 L1801.7 2196.2 L1791.3 2206.6 L1787.8 2217.1 L1770.4 2210.1 L1756.4 2220.6 L1749.5 2231 L1735.5 2241.5 L1718.1 2244.9 L1700.7 2251.9 L1683.3 2262.4 L1669.3 2272.8 L1667.6 2283.3 L1648.4 2276.3 L1613.6 2274.6 L1610.1 2292 L1603.1 2279.8 L1597.9 2255.4 L1589.2 2234.5 L1587.5 2210.1 L1577 2197.9 L1568.3 2199.7 L1559.6 2210.1 L1549.1 2229.3 L1423.7 2120.2 L1313.2 2182.6 L1309.8 2173.9 L1299.3 2168.6 L1288.9 2163.4 L1278.4 2161.7 L1269.7 2159.9 L1266.2 2139 L1257.5 2126.8 L1250.5 2121.6 L1238.3 2123.3 L1222.6 2130.3 L1212.2 2123.3 L1198.3 2121.6 L1194.8 2111.1 L1196.5 2100.7 L1191.3 2086.8 L1177.4 2083.3 L1166.9 2078 L1163.4 2065.9 L1165.2 2055.4 L1153 2058.9 L1135.5 2064.1 L1121.6 2058.9 L1118.1 2051.9 L1123.3 2041.5 L1114.6 2031 L1097.2 2031 L1090.2 2024 L1069.3 2025.8 L1058.9 2017.1 L1058.9 2003.1 L1046.7 1997.9 L1043.2 1985.7 L1041.5 1975.3 L1027.5 1977 L1022.3 1970 L1027.5 1963.1 L1018.8 1957.8 L1015.3 1943.9 L1003.1 1942.2 L999.7 1936.9 L990.9 1923 L978.7 1910.8 L971.8 1898.6 L961.3 1891.6 L957.8 1879.4 L943.9 1870.7 L930 1862 L928.2 1832.4 L930 1815 L938.7 1801 L936.9 1788.9 L923 1787.1 L909.1 1794.1 L900.3 1790.6 L898.6 1778.4 L891.6 1767.9 L893.4 1757.5 L902.1 1752.3 L893.4 1741.8 L895.1 1733.1 L905.6 1729.6 L891.6 1724.4 L893.4 1713.9 L902.1 1710.5 L895.1 1700 L902.1 1687.8 L898.6 1677.4 L888.2 1668.6 L881.2 1659.9 L874.2 1649.5 L867.2 1639 L870.7 1628.6 L860.3 1626.8 L853.3 1623.3 L858.5 1612.9 L853.3 1604.2 L863.8 1597.2 L862 1586.8 L860.3 1576.3 L863.8 1565.9 L865.5 1551.9 L862 1544.9 L865.5 1534.5 L856.8 1524 L849.8 1510.1 L853.3 1496.2 L856.8 1485.7 L867.2 1478.7 L862 1464.8 L860.3 1450.9 L855.1 1436.9 L860.3 1423 L858.5 1409.1 L856.8 1398.6 L862 1381.2 L865.5 1363.8 L863.8 1349.8 L874.2 1325.4 L881.2 1308 L889.9 1292.3 L902.1 1274.9 L916 1269.7 L930 1262.7 L936.9 1245.3 L950.9 1238.3 L964.8 1231.4 L978.7 1220.9 L985.7 1200 L986.1 1180.8 L980.8 1163.4 L973.9 1149.5 L968.6 1132.1 L975.6 1118.1 L979.1 1100.7 L987.8 1093.7 L1001.7 1083.3 L1015.7 1081.5 L1013.9 1055.4 L1019.2 1027.5 L1017.4 1013.6 L1008.7 999.7 L1005.2 989.2 L1001.7 975.3 L991.3 978.7 L977.4 982.2 L959.9 980.5 L946 977 L935.5 973.5 L933.8 985.7 L932.1 999.7 L925.1 1010.1 L907.7 1022.3Z" fill="none" stroke="#848484" stroke-width="5.4" stroke-linejoin="round"/>
<text x="769.3" y="133.7" font-size="32.8" fill="#4e4e4e" text-anchor="middle">INDIAVAÍ</text>
<text x="965.9" y="128.2" font-size="32.8" fill="#4e4e4e" text-anchor="middle">ARAPUTANGA</text>
<text x="422" y="202.3" font-size="32.8" fill="#4e4e4e" text-anchor="middle">JAURU</text>
<text x="613" y="275.4" font-size="32.8" fill="#4e4e4e" text-anchor="middle">FIGUEIRÓPOLIS</text>
<text x="612.5" y="313" font-size="32.8" fill="#4e4e4e" text-anchor="middle">D'OESTE</text>
<text x="1022" y="294.5" font-size="32.8" fill="#4e4e4e" text-anchor="middle">SÃO JOSÉ DOS</text>
<text x="1021.3" y="332.7" font-size="32.8" fill="#4e4e4e" text-anchor="middle">QUATRO MARCOS</text>
<text x="1233.3" y="485.5" font-size="32.8" fill="#4e4e4e" text-anchor="middle">MIRASSOL</text>
<text x="1233.6" y="523.8" font-size="32.8" fill="#4e4e4e" text-anchor="middle">D'OESTE</text>
<text x="955" y="533.6" font-size="32.8" fill="#4e4e4e" text-anchor="middle">GLÓRIA</text>
<text x="955" y="571.2" font-size="32.8" fill="#4e4e4e" text-anchor="middle">D'OESTE</text>
<text x="414.7" y="648.2" font-size="32.8" fill="#4e4e4e" text-anchor="middle">PORTO</text>
<text x="414.7" y="685.8" font-size="32.8" fill="#4e4e4e" text-anchor="middle">ESPERIDIÃO</text>
<text x="1512.7" y="162.6" font-size="32.8" fill="#4e4e4e" text-anchor="middle">LAMBARI</text>
<text x="1512.7" y="199.5" font-size="32.8" fill="#4e4e4e" text-anchor="middle">D'OESTE</text>
<text x="1870.2" y="162.9" font-size="32.8" fill="#4e4e4e" text-anchor="middle">BARRA DO</text>
<text x="1870.2" y="200.2" font-size="32.8" fill="#4e4e4e" text-anchor="middle">BUGRES</text>
<text x="2458.2" y="193.2" font-size="32.8" fill="#4e4e4e" text-anchor="middle">ROSÁRIO OESTE</text>
<text x="2051.6" y="310" font-size="32.8" fill="#4e4e4e" text-anchor="middle">PORTO ESTRELA</text>
<text x="2416.2" y="377.9" font-size="32.8" fill="#4e4e4e" text-anchor="middle">NOSSA SENHORA</text>
<text x="2415.3" y="415.2" font-size="32.8" fill="#4e4e4e" text-anchor="middle">DO LIVRAMENTO</text>
<text x="2284.1" y="1509.8" font-size="32.8" fill="#4e4e4e" text-anchor="middle">POCONÉ</text>
<text x="2519.3" y="2240.7" font-size="32.8" fill="#4e4e4e" text-anchor="middle">CORUMBÁ</text>
</g>
<!-- p20_frame -->
<rect x="89" y="86.94" width="2606" height="2309.86" fill="none" stroke="#4e4e4e" stroke-width="5.8"/>
<rect x="343.1" y="70.1" width="3.8" height="14.5" fill="#4e4e4e"/>
<rect x="343.1" y="2399" width="3.8" height="13.5" fill="#4e4e4e"/>
<text x="346.7" y="64.5" font-size="24.4" fill="#4e4e4e" text-anchor="middle" textLength="103.5" lengthAdjust="spacingAndGlyphs">59°0'0"W</text>
<text x="346.7" y="2435.7" font-size="24.4" fill="#4e4e4e" text-anchor="middle" textLength="103.5" lengthAdjust="spacingAndGlyphs">59°0'0"W</text>
<rect x="825.6" y="70.1" width="3.8" height="14.5" fill="#4e4e4e"/>
<rect x="825.6" y="2399" width="3.8" height="13.5" fill="#4e4e4e"/>
<text x="829.2" y="64.5" font-size="24.4" fill="#4e4e4e" text-anchor="middle" textLength="117" lengthAdjust="spacingAndGlyphs">58°30'0"W</text>
<text x="829.2" y="2435.7" font-size="24.4" fill="#4e4e4e" text-anchor="middle" textLength="117" lengthAdjust="spacingAndGlyphs">58°30'0"W</text>
<rect x="1308.1" y="70.1" width="3.8" height="14.5" fill="#4e4e4e"/>
<rect x="1308.1" y="2399" width="3.8" height="13.5" fill="#4e4e4e"/>
<text x="1311.7" y="64.5" font-size="24.4" fill="#4e4e4e" text-anchor="middle" textLength="103.5" lengthAdjust="spacingAndGlyphs">58°0'0"W</text>
<text x="1311.7" y="2435.7" font-size="24.4" fill="#4e4e4e" text-anchor="middle" textLength="103.5" lengthAdjust="spacingAndGlyphs">58°0'0"W</text>
<rect x="1790.6" y="70.1" width="3.8" height="14.5" fill="#4e4e4e"/>
<rect x="1790.6" y="2399" width="3.8" height="13.5" fill="#4e4e4e"/>
<text x="1794.2" y="64.5" font-size="24.4" fill="#4e4e4e" text-anchor="middle" textLength="117" lengthAdjust="spacingAndGlyphs">57°30'0"W</text>
<text x="1794.2" y="2435.7" font-size="24.4" fill="#4e4e4e" text-anchor="middle" textLength="117" lengthAdjust="spacingAndGlyphs">57°30'0"W</text>
<rect x="2273.1" y="70.1" width="3.8" height="14.5" fill="#4e4e4e"/>
<rect x="2273.1" y="2399" width="3.8" height="13.5" fill="#4e4e4e"/>
<text x="2276.7" y="64.5" font-size="24.4" fill="#4e4e4e" text-anchor="middle" textLength="103.5" lengthAdjust="spacingAndGlyphs">57°0'0"W</text>
<text x="2276.7" y="2435.7" font-size="24.4" fill="#4e4e4e" text-anchor="middle" textLength="103.5" lengthAdjust="spacingAndGlyphs">57°0'0"W</text>
<rect x="71.1" y="235" width="15.5" height="3.8" fill="#4e4e4e"/>
<rect x="2697.4" y="235" width="15.4" height="3.8" fill="#4e4e4e"/>
<text transform="translate(65.5 235.4) rotate(-90)" font-size="24.4" fill="#4e4e4e" text-anchor="middle" textLength="105.5" lengthAdjust="spacingAndGlyphs">15°30'0"S</text>
<rect x="71.1" y="718" width="15.5" height="3.8" fill="#4e4e4e"/>
<rect x="2697.4" y="718" width="15.4" height="3.8" fill="#4e4e4e"/>
<text transform="translate(65.5 718.4) rotate(-90)" font-size="24.4" fill="#4e4e4e" text-anchor="middle" textLength="92" lengthAdjust="spacingAndGlyphs">16°0'0"S</text>
<rect x="71.1" y="1201.1" width="15.5" height="3.8" fill="#4e4e4e"/>
<rect x="2697.4" y="1201.1" width="15.4" height="3.8" fill="#4e4e4e"/>
<text transform="translate(65.5 1201.5) rotate(-90)" font-size="24.4" fill="#4e4e4e" text-anchor="middle" textLength="105.5" lengthAdjust="spacingAndGlyphs">16°30'0"S</text>
<rect x="71.1" y="1684.1" width="15.5" height="3.8" fill="#4e4e4e"/>
<rect x="2697.4" y="1684.1" width="15.4" height="3.8" fill="#4e4e4e"/>
<text transform="translate(65.5 1684.5) rotate(-90)" font-size="24.4" fill="#4e4e4e" text-anchor="middle" textLength="92" lengthAdjust="spacingAndGlyphs">17°0'0"S</text>
<rect x="71.1" y="2167.1" width="15.5" height="3.8" fill="#4e4e4e"/>
<rect x="2697.4" y="2167.1" width="15.4" height="3.8" fill="#4e4e4e"/>
<text transform="translate(65.5 2167.5) rotate(-90)" font-size="24.4" fill="#4e4e4e" text-anchor="middle" textLength="105.5" lengthAdjust="spacingAndGlyphs">17°30'0"S</text>
<text x="143.5" y="143.7" font-size="33.5" fill="#000" text-anchor="middle">N</text>
<path d="M142.9 152.5 L118.7 234 L142.9 203.6Z" fill="#000"/>
<path d="M142.9 156 L165.5 230.5 L143.9 205.2Z" fill="#fff" stroke="#000" stroke-width="2.2" stroke-linejoin="miter"/>
<rect x="124.6" y="2335.2" width="699.4" height="31.9" fill="#000"/>
<rect x="302.9" y="2339.6" width="170.5" height="23.7" fill="#cccccc"/>
<text x="127.2" y="2319.3" font-size="32" fill="#000" text-anchor="middle">0</text>
<text x="300" y="2319.3" font-size="32" fill="#000" text-anchor="middle">20</text>
<text x="473.8" y="2319.3" font-size="32" fill="#000" text-anchor="middle">40</text>
<text x="803.3" y="2319.3" font-size="32" fill="#000">80 km</text>
<!-- p30_panel -->
<rect x="2718" y="86.8" width="745.1" height="2311.2" fill="#fff" stroke="#4e4e4e" stroke-width="5.8" rx="2"/>
<rect x="2718" y="354.4" width="745" height="5" fill="#4e4e4e"/>
<rect x="2718" y="577.2" width="745" height="5" fill="#4e4e4e"/>
<text x="3087.9" y="207.4" font-size="58.3" fill="#000" font-weight="bold" text-anchor="middle" textLength="606.5" lengthAdjust="spacingAndGlyphs">PROJETO AMAZÔNIA</text>
<text x="3087.3" y="278.7" font-size="44" fill="#000" text-anchor="middle" textLength="506.5" lengthAdjust="spacingAndGlyphs">Regularização Ambiental</text>
<text x="3094" y="437.3" font-size="46.3" fill="#000" font-weight="bold" text-anchor="middle" textLength="332.5" lengthAdjust="spacingAndGlyphs">CÁCERES - MT</text>
<text x="3088.6" y="516.4" font-size="44" fill="#000" text-anchor="middle" textLength="504" lengthAdjust="spacingAndGlyphs">Uso e Cobertura do Solo</text>
<text x="2743.2" y="652.5" font-size="37" fill="#000" font-weight="bold">Legenda</text>
<rect x="2742.3" y="701.3" width="45.3" height="30.1" rx="7.5" fill="#fff" stroke="#828282" stroke-width="4"/>
<text x="2795.8" y="729.2" font-size="37.2" fill="#000">Limite Municipal</text>
<text x="2743.2" y="792" font-size="37" fill="#000" font-weight="bold">Classe</text>
<text x="3210.3" y="788.7" font-size="37" fill="#000" font-weight="bold">Área (ha)</text>
<rect x="2741.9" y="821.4" width="46" height="30" rx="7" fill="#2438ff"/>
<text x="2795.8" y="848.6" font-size="37.2" fill="#000">Água</text>
<text x="3211.5" y="844.7" font-size="37" fill="#000">107.770</text>
<rect x="2741.9" y="879.8" width="46" height="30" rx="7" fill="#1e7000"/>
<text x="2795.8" y="907" font-size="37.2" fill="#000">Formação florestal</text>
<text x="3211.5" y="903.1" font-size="37" fill="#000">319.356</text>
<rect x="2741.9" y="938.2" width="46" height="30" rx="7" fill="#00bc78"/>
<text x="2795.8" y="965.4" font-size="37.2" fill="#000">Formação não florestal</text>
<text x="3211.5" y="961.5" font-size="37" fill="#000">1.246.492</text>
<rect x="2741.9" y="996.6" width="46" height="30" rx="7" fill="#4ce600"/>
<text x="2795.8" y="1023.8" font-size="37.2" fill="#000">Silvicultura</text>
<text x="3211.5" y="1019.9" font-size="37" fill="#000">0</text>
<rect x="2741.9" y="1055" width="46" height="30" rx="7" fill="#ffebbe"/>
<text x="2795.8" y="1082.2" font-size="37.2" fill="#000">Área antropizada</text>
<text x="3211.5" y="1078.3" font-size="37" fill="#000">757.007</text>
<rect x="2741.9" y="1113.4" width="46" height="30" rx="7" fill="#ffbebe"/>
<text x="2795.8" y="1140.6" font-size="37.2" fill="#000">Área edificada</text>
<text x="3211.5" y="1136.7" font-size="37" fill="#000">2.771</text>
<text x="2743.2" y="1213.1" font-size="37" fill="#000" font-weight="bold" textLength="452" lengthAdjust="spacingAndGlyphs">Localização do Município</text>
<text x="2743.2" y="1845.6" font-size="37.3" fill="#000" font-weight="bold">Fonte de Dados</text>
<text x="2743.2" y="1898.6" font-size="33" fill="#000">Imagens Planet - Ano 2020</text>
<text x="2743.2" y="1975.4" font-size="33" fill="#000">Sistema de Coordenadas Geográficas</text>
<text x="2743.2" y="2013.8" font-size="33" fill="#000">Datum SIRGAS 2000</text>
<!-- p40_inset -->
<defs><clipPath id="ci"><rect x="2741.8" y="1241.8" width="697.4" height="546"/></clipPath></defs>
<rect x="2741.8" y="1241.8" width="697.4" height="546" fill="#e1e1e1"/>
<g clip-path="url(#ci)">
<path d="M2740.5 1511 L2754.6 1511 L2765.1 1521.5 L2775.7 1528.5 L2786.2 1532 L2800.2 1540.8 L2814.3 1551.4 L2828.3 1554.9 L2845.9 1553.1 L2860 1556.6 L2870.5 1560.1 L2884.5 1572.4 L2881 1577.7 L2884.5 1591.8 L2889.8 1609.3 L2889.8 1625.1 L2875.8 1626.9 L2884.5 1633.9 L2893.3 1644.4 L2895.1 1680.6 L2977.6 1681.3 L2979.4 1686.6 L2972.3 1697.1 L2975.9 1711.2 L2982.9 1721.7 L2993.4 1732.2 L3007.5 1735.8 L3011 1753.3 L3016.2 1767.4 L3011 1789.1 L2740.5 1789.1Z" fill="#cccccc"/>
<path d="M2740.5 1295 L2768.6 1295 L2777.4 1303.8 L2786.2 1314.3 L2795 1324.8 L2805.5 1333.6 L2814.3 1335.4 L2821.3 1330.1 L2830.1 1333.6 M2974.1 1242.3 L2982.9 1254.6 L2988.1 1266.9 M3406.1 1242.3 L3400.8 1261.6 L3395.6 1275.7 L3402.6 1286.2 L3404.3 1300.2 L3397.3 1317.8 L3386.8 1335.4 L3372.7 1349.4 L3362.2 1367 L3355.2 1381.7 M3349.9 1519.8 L3362.2 1523.3 L3379.8 1532 L3393.8 1540.8 L3399.1 1525 L3411.4 1519.8 L3423.7 1528.5 L3432.4 1535.6 L3439.5 1540.8 M3220 1755.1 L3225.2 1767.4 L3237.5 1776.1 L3228.7 1788.4 M3386.8 1788.4 L3400.8 1779.7 L3418.4 1776.1 L3439.5 1777.9 M3007.5 1735.8 L3011 1753.3 L3016.2 1767.4 L3011 1788.4" fill="none" stroke="#828282" stroke-width="1.8" stroke-linejoin="round"/>
<path d="M2740.5 1511 L2754.6 1511 L2765.1 1521.5 L2775.7 1528.5 L2786.2 1532 L2800.2 1540.8 L2814.3 1551.4 L2828.3 1554.9 L2845.9 1553.1 L2860 1556.6 L2870.5 1560.1 L2884.5 1572.4 L2881 1577.7 L2884.5 1591.8 L2889.8 1609.3 L2889.8 1625.1 L2875.8 1626.9 L2884.5 1633.9 L2893.3 1644.4 L2895.1 1680.6 L2977.6 1681.3 L2979.4 1686.6 L2972.3 1697.1 L2975.9 1711.2 L2982.9 1721.7 L2993.4 1732.2 L3007.5 1735.8 L3011 1753.3" fill="none" stroke="#828282" stroke-width="1.8" stroke-linejoin="round"/>
<path d="M2830.1 1333.6 L2944.2 1333.6 L2972.3 1333.6 L2975.9 1317.8 L2977.6 1296.7 L2981.1 1286.2 L2988.1 1266.9 L2995.2 1272.1 L3002.2 1289.7 L3009.2 1303.8 L3011 1324.8 L3025 1333.6 L3035.6 1342.4 L3039.1 1351.2 L3053.1 1360 L3355.2 1381.7 L3349.9 1398.6 L3344.6 1419.7 L3339.4 1440.7 L3335.9 1461.8 L3334.1 1482.9 L3335.9 1504 L3339.4 1521.5 L3358.7 1500.4 L3349.9 1519.8 L3341.1 1539.1 L3334.1 1560.1 L3327.1 1577.7 L3325.3 1598.8 L3320 1616.3 L3306 1623.4 L3295.5 1630.4 L3288.4 1644.4 L3274.4 1658.5 L3260.3 1669 L3249.8 1683.1 L3239.3 1693.6 L3228.7 1707.7 L3221.7 1725.2 L3218.2 1739.3 L3220 1755.1 L3214.7 1760.3 L3209.4 1746.3 L3200.6 1749.8 L3190.1 1756.8 L3186.6 1753.3 L3193.6 1742.8 L3195.4 1728.7 L3183.1 1727 L3165.5 1739.3 L3148 1735.8 L3133.9 1728.7 L3116.3 1727 L3102.3 1721.7 L3084.7 1720 L3067.2 1725.2 L3053.1 1732.2 L3042.6 1741 L3028.5 1737.5 L3018 1742.8 L3007.5 1735.8 L2993.4 1732.2 L2982.9 1721.7 L2975.9 1711.2 L2972.3 1697.1 L2979.4 1686.6 L2977.6 1681.3 L2895.1 1680.6 L2893.3 1644.4 L2884.5 1633.9 L2875.8 1626.9 L2889.8 1625.1 L2889.8 1609.3 L2884.5 1591.8 L2881 1577.7 L2884.5 1572.4 L2870.5 1560.1 L2881 1546.1 L2888 1532 L2895.1 1514.5 L2909.1 1500.4 L2912.6 1495.2 L2905.6 1482.9 L2896.8 1468.8 L2902.1 1454.8 L2903.9 1444.2 L2895.1 1437.2 L2881 1432 L2831.9 1434.8 L2833.6 1416.1 L2830.1 1398.6 L2831.9 1384.5 L2826.6 1370.5 L2831.9 1352.9Z" fill="#fff" stroke="#828282" stroke-width="1.9" stroke-linejoin="round"/>
<path d="M2944.2 1333.6 L2947.8 1356.4 L2946 1381 L2949.5 1395.1 L2975.9 1395.1 L2982.9 1370.5 L2979.4 1349.4 L2968.8 1342.4 L2972.3 1333.6 M2870.5 1358.2 L2888 1356.4 L2898.6 1363.5 L2912.6 1370.5 L2916.1 1381 L2926.7 1382.8 L2937.2 1379.3 L2947.8 1381 M2870.5 1358.2 L2872.2 1377.5 L2868.7 1395.1 L2877.5 1412.6 L2881 1432 M2830.1 1398.6 L2845.9 1395.1 L2856.4 1384.5 L2870.5 1377.5 M2881 1432 L2905.6 1426.7 L2926.7 1423.2 L2947.8 1421.4 L2954.8 1419.7 L2975.9 1416.1 L2979.4 1410.9 L2996.9 1405.6 L3025 1402.1 L3046.1 1405.6 L3053.1 1412.6 M2949.5 1395.1 L2954.8 1419.7 M2975.9 1395.1 L2979.4 1410.9 M2895.1 1437.2 L2905.6 1447.8 L2898.6 1468.8 L2909.1 1493.4 L2926.7 1496.9 L2947.8 1493.4 L2954.8 1491.7 M2954.8 1419.7 L2958.3 1440.7 L2975.9 1447.8 L2979.4 1458.3 L2972.3 1475.9 L2968.8 1493.4 L2954.8 1491.7 L2951.3 1511 L2940.7 1521.5 L2933.7 1535.6 L2926.7 1553.1 L2924.9 1567.2 L2930.2 1581.2 L2926.7 1595.3 L2921.4 1602.3 M2912.6 1495.2 L2926.7 1496.9 M2968.8 1493.4 L2975.9 1514.5 L2982.9 1528.5 L2986.4 1539.1 L3000.4 1539.1 L3011 1532 L3021.5 1525 L3021.5 1511 L3011 1493.4 L3002.2 1482.9 L2996.9 1468.8 L2989.9 1454.8 L2982.9 1440.7 L2979.4 1426.7 L2979.4 1410.9 M3053.1 1360 L3046.1 1370.5 L3042.6 1384.5 L3046.1 1405.6 M3011 1324.8 L3018 1345.9 L3011 1370.5 L3014.5 1388 L3025 1402.1 M2975.9 1333.6 L2965.3 1345.9 L2968.8 1356.4 L2982.9 1363.5 L2986.4 1377.5 L2982.9 1388 L2979.4 1410.9 M3025 1402.1 L3039.1 1395.1 L3046.1 1405.6 M3053.1 1412.6 L3049.6 1426.7 L3039.1 1433.7 L3039.1 1447.8 L3021.5 1451.3 L3018 1458.3 L3025 1472.3 L3035.6 1482.9 L3046.1 1496.9 L3053.1 1518 L3060.1 1539.1 L3067.2 1556.6 L3077.7 1567.2 L3088.2 1581.2 M3053.1 1412.6 L3067.2 1419.7 L3081.2 1412.6 L3095.3 1405.6 L3109.3 1398.6 L3126.9 1395.1 L3144.4 1391.6 L3158.5 1388 L3172.5 1384.5 L3183.1 1377.5 L3197.1 1374 M3074.2 1363.5 L3077.7 1377.5 L3084.7 1388 L3095.3 1405.6 M3091.8 1365.2 L3095.3 1381 L3105.8 1391.6 L3109.3 1398.6 M3133.9 1368.7 L3137.4 1381 L3130.4 1391.6 L3126.9 1395.1 M3172.5 1371.2 L3169 1384.5 M3197.1 1374 L3186.6 1384.5 L3179.6 1395.1 L3183.1 1402.1 L3207.7 1403.9 L3221.7 1402.1 M3232.2 1377.5 L3228.7 1391.6 L3221.7 1402.1 L3225.2 1419.7 L3221.7 1433.7 L3214.7 1440.7 L3211.2 1433.7 M3263.9 1377.5 L3265.6 1395.1 L3267.4 1412.6 L3263.9 1426.7 L3270.9 1440.7 L3277.9 1454.8 L3292 1451.3 L3299 1437.2 L3309.5 1433.7 L3327.1 1423.2 L3341.1 1419.7 M3306 1395.1 L3302.5 1412.6 L3306 1423.2 M3267.4 1395.1 L3292 1398.6 L3309.5 1395.1 L3327.1 1402.1 L3339.4 1403.9 M3299 1437.2 L3334.1 1449.5 M3109.3 1398.6 L3112.8 1412.6 L3105.8 1426.7 L3116.3 1440.7 L3133.9 1437.2 L3137.4 1447.8 L3144.4 1440.7 L3151.5 1426.7 L3144.4 1419.7 L3165.5 1409.1 L3183.1 1402.1 M3039.1 1447.8 L3060.1 1458.3 L3081.2 1461.8 L3095.3 1458.3 L3098.8 1468.8 L3091.8 1482.9 L3081.2 1496.9 L3074.2 1511 L3067.2 1525 L3060.1 1539.1 M3095.3 1458.3 L3112.8 1454.8 L3116.3 1440.7 M3098.8 1468.8 L3105.8 1482.9 L3109.3 1504 L3112.8 1521.5 L3102.3 1546.1 L3116.3 1560.1 L3133.9 1574.2 L3144.4 1581.2 L3158.5 1595.3 L3165.5 1609.3 M3112.8 1489.9 L3130.4 1486.4 L3130.4 1504 L3116.3 1511 L3109.3 1504 M3130.4 1486.4 L3151.5 1482.9 L3172.5 1475.9 L3190.1 1468.8 L3200.6 1475.9 L3197.1 1458.3 L3204.1 1447.8 L3214.7 1440.7 M3200.6 1475.9 L3193.6 1496.9 L3183.1 1521.5 L3176 1546.1 L3179.6 1567.2 L3190.1 1556.6 L3197.1 1563.7 L3211.2 1553.1 L3221.7 1560.1 L3228.7 1539.1 L3235.8 1518 L3228.7 1511 L3214.7 1496.9 L3200.6 1475.9 M3214.7 1440.7 L3228.7 1454.8 L3249.8 1461.8 L3267.4 1472.3 L3270.9 1489.9 L3267.4 1507.5 L3249.8 1511 L3253.3 1528.5 L3260.3 1546.1 L3277.9 1539.1 L3292 1546.1 L3299 1532 L3313 1518 L3320 1504 L3316.5 1489.9 L3327.1 1475.9 L3334.1 1482.9 M3270.9 1489.9 L3284.9 1482.9 L3299 1475.9 L3306 1461.8 L3292 1451.3 M3221.7 1560.1 L3228.7 1574.2 L3242.8 1581.2 L3256.8 1595.3 L3270.9 1591.8 L3284.9 1581.2 L3299 1560.1 L3292 1546.1 M3221.7 1560.1 L3267.4 1560.1 L3299 1560.1 L3323.6 1577.7 M3144.4 1581.2 L3137.4 1595.3 L3123.4 1588.2 L3109.3 1595.3 L3095.3 1602.3 L3081.2 1609.3 L3067.2 1616.3 L3053.1 1630.4 L3046.1 1637.4 M3088.2 1581.2 L3081.2 1595.3 L3067.2 1602.3 L3053.1 1595.3 L3039.1 1598.8 L3025 1602.3 L3011 1595.3 L3007.5 1581.2 L3014.5 1567.2 L3021.5 1553.1 L3011 1532 M2986.4 1539.1 L2979.4 1553.1 L2982.9 1567.2 L2989.9 1577.7 L2989.9 1591.8 L3007.5 1588.2 M2946 1576 L2989.9 1576 M2946 1576 L2944.2 1602.3 L2947.8 1616.3 L2954.8 1630.4 L2947.8 1640.9 L2940.7 1651.5 M2884.5 1591.8 L2895.1 1577.7 L2909.1 1581.2 L2921.4 1574.2 L2926.7 1595.3 M2889.8 1609.3 L2905.6 1612.8 L2916.1 1605.8 L2921.4 1602.3 L2921.4 1616.3 L2930.2 1623.4 L2940.7 1616.3 L2947.8 1616.3 M2898.6 1648 L2926.7 1640.9 L2940.7 1633.9 L2947.8 1640.9 M2898.6 1648 L2905.6 1665.5 L2919.7 1669 L2926.7 1677.8 M2954.8 1630.4 L2968.8 1619.9 L2982.9 1623.4 L2996.9 1616.3 L3011 1623.4 L3025 1616.3 L3039.1 1619.9 L3046.1 1637.4 L3056.6 1626.9 L3067.2 1630.4 L3077.7 1623.4 L3088.2 1616.3 L3102.3 1609.3 L3116.3 1602.3 L3130.4 1598.8 L3144.4 1595.3 L3165.5 1609.3 M2961.8 1640.9 L2975.9 1633.9 L2989.9 1640.9 L3004 1633.9 L3018 1640.9 L3032 1637.4 L3046.1 1637.4 M2958.3 1681.3 L2965.3 1669 L2975.9 1665.5 L2982.9 1669 L2993.4 1658.5 L3011 1656.7 L3025 1662 L3035.6 1651.5 L3046.1 1637.4 M2947.8 1640.9 L2954.8 1651.5 L2968.8 1655 L2975.9 1665.5 M3035.6 1669 L3039.1 1683.1 L3032 1690.1 L3025 1700.6 L3011 1704.1 L3014.5 1711.2 L3025 1711.2 L3021.5 1728.7 L3007.5 1735.8 M3035.6 1651.5 L3035.6 1669 M3063.7 1651.5 L3081.2 1637.4 L3102.3 1633.9 L3116.3 1644.4 L3130.4 1637.4 L3144.4 1644.4 L3158.5 1633.9 L3172.5 1637.4 L3179.6 1623.4 L3165.5 1609.3 M3046.1 1637.4 L3063.7 1651.5 L3063.7 1679.6 L3081.2 1676 L3109.3 1683.1 L3107.6 1721.7 M3081.2 1637.4 L3077.7 1658.5 L3088.2 1676 M3116.3 1644.4 L3119.9 1665.5 L3130.4 1679.6 L3126.9 1693.6 L3137.4 1700.6 L3151.5 1714.7 L3179.6 1711.2 L3183.1 1727 M3130.4 1637.4 L3133.9 1655 L3151.5 1658.5 L3162 1648 L3172.5 1637.4 M3165.5 1609.3 L3186.6 1602.3 L3200.6 1591.8 L3214.7 1602.3 L3228.7 1609.3 L3235.8 1623.4 L3249.8 1619.9 L3260.3 1602.3 L3256.8 1595.3 M3179.6 1623.4 L3193.6 1630.4 L3200.6 1644.4 L3214.7 1637.4 L3228.7 1644.4 L3239.3 1633.9 L3235.8 1623.4 M3151.5 1658.5 L3155 1676 L3169 1686.6 L3183.1 1679.6 L3193.6 1686.6 L3207.7 1679.6 L3221.7 1669 L3228.7 1644.4 M3169 1686.6 L3165.5 1700.6 L3151.5 1700.6 L3151.5 1714.7 M3193.6 1686.6 L3197.1 1704.1 L3186.6 1714.7 L3183.1 1727 M3221.7 1669 L3232.2 1679.6 L3249.8 1683.1 M3260.3 1602.3 L3277.9 1609.3 L3284.9 1626.9 L3295.5 1630.4 M3239.3 1633.9 L3256.8 1640.9 L3270.9 1637.4 L3274.4 1658.5 M3284.9 1581.2 L3292 1595.3 L3288.4 1612.8 L3284.9 1626.9 M3056.6 1535.6 L3074.2 1542.6 L3091.8 1535.6 L3102.3 1546.1 M3021.5 1553.1 L3039.1 1546.1 L3056.6 1535.6 M3025 1602.3 L3028.5 1588.2 L3042.6 1581.2 L3060.1 1584.7 L3070.7 1577.7 L3077.7 1567.2 M3011 1595.3 L3021.5 1609.3 L3035.6 1605.8 L3046.1 1612.8 L3060.1 1605.8 L3067.2 1616.3 M3137.4 1447.8 L3148 1461.8 L3144.4 1475.9 L3151.5 1482.9 M3165.5 1409.1 L3169 1426.7 L3183.1 1440.7 L3197.1 1458.3 M3144.4 1581.2 L3162 1574.2 L3176 1567.2 L3179.6 1567.2 M3228.7 1539.1 L3249.8 1532 L3253.3 1528.5 M3267.4 1507.5 L3277.9 1521.5 L3277.9 1539.1 M3211.2 1433.7 L3204.1 1419.7 L3207.7 1403.9 M3334.1 1449.5 L3313 1454.8 L3306 1461.8 M3320 1504 L3334.1 1507.5 L3335.9 1504 M3327.1 1577.7 L3309.5 1588.2 L3299 1602.3 L3306 1623.4 M3267.4 1560.1 L3270.9 1591.8" fill="none" stroke="#828282" stroke-width="1.8" stroke-linejoin="round"/>
</g>
<rect x="2936.3" y="1637.9" width="124.1" height="110.7" fill="none" stroke="#ff0000" stroke-width="8"/>
<rect x="2741.8" y="1241.8" width="697.4" height="546" fill="none" stroke="#4e4e4e" stroke-width="4"/>
<text x="2869.3" y="1296.7" font-size="39.5" fill="#000" text-anchor="middle">AM</text>
<text x="3202.4" y="1317.8" font-size="39.5" fill="#000" text-anchor="middle">PA</text>
<text x="3399.1" y="1429.5" font-size="39.5" fill="#000" text-anchor="middle">TO</text>
<text x="2801.7" y="1475.9" font-size="39.5" fill="#000" text-anchor="middle">RO</text>
<text x="3349.6" y="1688.4" font-size="39.5" fill="#000" text-anchor="middle">GO</text>
<text x="3080" y="1772.7" font-size="39.5" fill="#000" text-anchor="middle">MS</text>
<!-- p50_logos -->
<defs><pattern id="forest" width="60" height="60" patternUnits="userSpaceOnUse"><rect width="60" height="60" fill="#35681f"/><circle cx="19.4" cy="9.1" r="5.4" fill="#2f5f1c"/><circle cx="49.3" cy="5.6" r="5.1" fill="#52922f"/><circle cx="2.2" cy="26.0" r="2.8" fill="#2f5f1c"/><circle cx="33.1" cy="3.5" r="5.0" fill="#52922f"/><circle cx="37.8" cy="35.0" r="2.8" fill="#274f17"/><circle cx="3.0" cy="13.3" r="5.0" fill="#3f7a26"/><circle cx="17.4" cy="8.7" r="3.0" fill="#18300c"/><circle cx="33.6" cy="40.9" r="3.0" fill="#52922f"/><circle cx="22.3" cy="32.9" r="2.8" fill="#1d3d10"/><circle cx="37.1" cy="29.8" r="4.9" fill="#6aa63a"/><circle cx="27.9" cy="55.4" r="4.1" fill="#52922f"/><circle cx="47.7" cy="41.9" r="3.6" fill="#18300c"/><circle cx="31.5" cy="52.5" r="5.8" fill="#18300c"/><circle cx="36.5" cy="4.4" r="4.8" fill="#3f7a26"/><circle cx="45.4" cy="9.1" r="4.7" fill="#1d3d10"/><circle cx="57.7" cy="4.7" r="5.0" fill="#6aa63a"/><circle cx="20.4" cy="21.0" r="4.7" fill="#3a6b20"/><circle cx="4.1" cy="5.6" r="3.7" fill="#2f5f1c"/><circle cx="3.6" cy="42.1" r="5.4" fill="#3a6b20"/><circle cx="17.1" cy="23.1" r="5.5" fill="#1d3d10"/><circle cx="56.4" cy="21.3" r="5.2" fill="#3a6b20"/><circle cx="3.5" cy="46.1" r="3.1" fill="#52922f"/><circle cx="23.9" cy="55.0" r="4.7" fill="#3f7a26"/><circle cx="27.0" cy="33.0" r="6.5" fill="#274f17"/><circle cx="51.8" cy="16.7" r="4.4" fill="#6aa63a"/><circle cx="41.0" cy="22.8" r="3.5" fill="#2f5f1c"/><circle cx="10.6" cy="13.9" r="3.6" fill="#3a6b20"/><circle cx="49.9" cy="10.9" r="3.8" fill="#3f7a26"/><circle cx="25.1" cy="22.2" r="5.0" fill="#3f7a26"/><circle cx="41.4" cy="30.9" r="5.3" fill="#1d3d10"/><circle cx="27.4" cy="52.3" r="6.8" fill="#274f17"/><circle cx="23.9" cy="23.6" r="4.7" fill="#274f17"/><circle cx="3.7" cy="4.0" r="3.4" fill="#3f7a26"/><circle cx="6.6" cy="36.0" r="3.0" fill="#3f7a26"/><circle cx="32.2" cy="56.9" r="5.3" fill="#2f5f1c"/><circle cx="52.5" cy="36.8" r="3.2" fill="#18300c"/><circle cx="57.3" cy="36.1" r="4.6" fill="#2f5f1c"/><circle cx="50.9" cy="59.6" r="4.6" fill="#3a6b20"/><circle cx="18.7" cy="8.6" r="5.9" fill="#18300c"/><circle cx="28.7" cy="41.5" r="4.8" fill="#52922f"/><circle cx="57.1" cy="31.7" r="3.2" fill="#1d3d10"/><circle cx="45.5" cy="17.9" r="5.4" fill="#2f5f1c"/><circle cx="41.8" cy="15.7" r="4.2" fill="#3f7a26"/><circle cx="21.3" cy="13.4" r="4.9" fill="#6aa63a"/><circle cx="38.2" cy="36.8" r="6.0" fill="#52922f"/><circle cx="48.4" cy="49.1" r="5.8" fill="#52922f"/><circle cx="12.0" cy="29.6" r="5.8" fill="#1d3d10"/><circle cx="47.4" cy="28.3" r="3.4" fill="#6aa63a"/><circle cx="26.8" cy="56.2" r="6.9" fill="#6aa63a"/><circle cx="4.8" cy="6.1" r="4.6" fill="#6aa63a"/><circle cx="12.3" cy="37.4" r="6.6" fill="#1d3d10"/><circle cx="28.8" cy="39.2" r="6.1" fill="#2f5f1c"/><circle cx="50.1" cy="7.2" r="4.2" fill="#52922f"/><circle cx="28.7" cy="10.7" r="6.1" fill="#6aa63a"/><circle cx="5.2" cy="56.8" r="5.7" fill="#3a6b20"/><circle cx="24.1" cy="56.8" r="5.8" fill="#3f7a26"/><circle cx="59.6" cy="1.7" r="5.2" fill="#3a6b20"/><circle cx="48.4" cy="8.8" r="6.2" fill="#3a6b20"/><circle cx="39.4" cy="21.0" r="5.0" fill="#3f7a26"/><circle cx="1.3" cy="48.0" r="5.8" fill="#2f5f1c"/><circle cx="31.6" cy="56.0" r="4.5" fill="#52922f"/><circle cx="49.6" cy="12.7" r="3.6" fill="#18300c"/><circle cx="30.1" cy="45.8" r="4.0" fill="#274f17"/><circle cx="50.1" cy="3.7" r="5.8" fill="#3a6b20"/><circle cx="39.7" cy="48.9" r="4.8" fill="#3f7a26"/><circle cx="31.9" cy="31.4" r="2.6" fill="#3a6b20"/><circle cx="46.6" cy="36.5" r="6.0" fill="#3f7a26"/><circle cx="10.3" cy="28.4" r="5.8" fill="#1d3d10"/><circle cx="19.6" cy="31.1" r="5.0" fill="#2f5f1c"/><circle cx="53.0" cy="3.4" r="3.4" fill="#1d3d10"/></pattern><radialGradient id="gsph" cx="0.42" cy="0.38" r="0.62"><stop offset="0" stop-color="#8fe070"/><stop offset="0.45" stop-color="#44b81a"/><stop offset="0.85" stop-color="#2f9a0c"/><stop offset="1" stop-color="#1c6a05"/></radialGradient><linearGradient id="gbr" x1="0" y1="0" x2="1" y2="1"><stop offset="0" stop-color="#0d6b2c"/><stop offset="0.6" stop-color="#3c9a22"/><stop offset="1" stop-color="#8cbf1e"/></linearGradient><linearGradient id="gye" x1="0" y1="0" x2="1" y2="0"><stop offset="0" stop-color="#f6a81c"/><stop offset="1" stop-color="#f4e23a"/></linearGradient></defs>
<path d="M2813.2 2106.4 L2825.1 2094.5 L2897 2166.4 L2884.7 2178.3Z" fill="#e2bd3d"/>
<circle cx="2800.9" cy="2194.4" r="51.5" fill="#15260a"/>
<circle cx="2800.9" cy="2194.4" r="47.5" fill="url(#gsph)"/>
<path d="M2799.3 2186.4 L2829.9 2207.3 L2802.5 2223.4 L2810.6 2205.7Z" fill="#2a8a0a" opacity="0.75"/>
<ellipse cx="2790.9" cy="2170.4" rx="30" ry="17" fill="#ffffff" opacity="0.35" transform="rotate(-25 2790.9 2170.4)"/>
<text x="2857.3" y="2239.5" font-size="62" font-weight="bold" fill="#7b6b5d" textLength="119.5" lengthAdjust="spacingAndGlyphs">fbds</text>
<text x="3169.3" y="2188" font-size="70" font-weight="bold" fill="url(#forest)" stroke="url(#forest)" stroke-width="3.5" stroke-linejoin="round" textLength="246" lengthAdjust="spacingAndGlyphs">FUNDO</text>
<text x="3025.9" y="2244.4" font-size="70" font-weight="bold" fill="url(#forest)" stroke="url(#forest)" stroke-width="3.5" stroke-linejoin="round" textLength="410" lengthAdjust="spacingAndGlyphs">AMAZÔNIA</text>
<ellipse cx="3277.9" cy="2220.2" rx="21" ry="22" fill="none" stroke="#e4d21e" stroke-width="13" opacity="0.9"/>
<rect x="2742.2" y="2319.1" width="42" height="42.3" fill="#0c8c3c"/>
<path d="M2742.2 2334.6 L2759.7 2321.1 L2783.2 2340.4 L2770.3 2350.1 L2759.7 2341.7 L2749.3 2350.1 L2742.2 2344.3Z" fill="#fff"/>
<circle cx="2755.1" cy="2347.5" r="13" fill="#0c8c3c"/>
<text x="2796.1" y="2361.4" font-size="52" font-weight="bold" font-style="italic" fill="#213c7c" textLength="154" lengthAdjust="spacingAndGlyphs">BNDES</text>
<text x="3079.7" y="2344.3" font-size="13" fill="#5a5a5a" text-anchor="end" textLength="96.7" lengthAdjust="spacingAndGlyphs">MINISTÉRIO DA</text>
<text x="3079.7" y="2359.8" font-size="13.3" font-weight="bold" fill="#5a5a5a" text-anchor="end" textLength="73.2" lengthAdjust="spacingAndGlyphs">ECONOMIA</text>
<text x="3201.2" y="2344.3" font-size="13" fill="#5a5a5a" text-anchor="end" textLength="97.3" lengthAdjust="spacingAndGlyphs">MINISTÉRIO DO</text>
<text x="3201.2" y="2359.8" font-size="13.3" font-weight="bold" fill="#5a5a5a" text-anchor="end" textLength="107" lengthAdjust="spacingAndGlyphs">MEIO AMBIENTE</text>
<rect x="3228" y="2305.6" width="77.9" height="55.8" fill="url(#gbr)"/>
<path d="M3228 2334.6 L3258.6 2311.4 L3305.9 2328.8 L3305.9 2337.8 L3277.9 2334.6 L3245.7 2344.3 L3228 2360.4Z" fill="url(#gye)"/>
<path d="M3236 2352.3 L3245.7 2337.8 L3265 2328.8 L3284.4 2334.6 L3265 2337.8 L3248.9 2345.9Z" fill="#2c6a9c"/>
<path d="M3228 2357.2 L3252.1 2344.3 L3277.9 2337.8 L3305.9 2336.2 L3305.9 2341.1 L3277.9 2342.7 L3252.1 2350.1 L3228 2361.4Z" fill="#fff"/>
<text x="3314" y="2318.5" font-size="16" font-weight="bold" fill="#0c6a3a" textLength="126.5" lengthAdjust="spacingAndGlyphs">PÁTRIA AMADA</text>
<text x="3314" y="2350.7" font-size="37.5" fill="#0c6a3a" stroke="#0c6a3a" stroke-width="0.8" textLength="126.5" lengthAdjust="spacingAndGlyphs">BRASIL</text>
<text x="3314" y="2360.4" font-size="6" font-weight="bold" fill="#7a8a6a" textLength="126.5" lengthAdjust="spacing">GOVERNO FEDERAL</text>
</svg></body></html>
